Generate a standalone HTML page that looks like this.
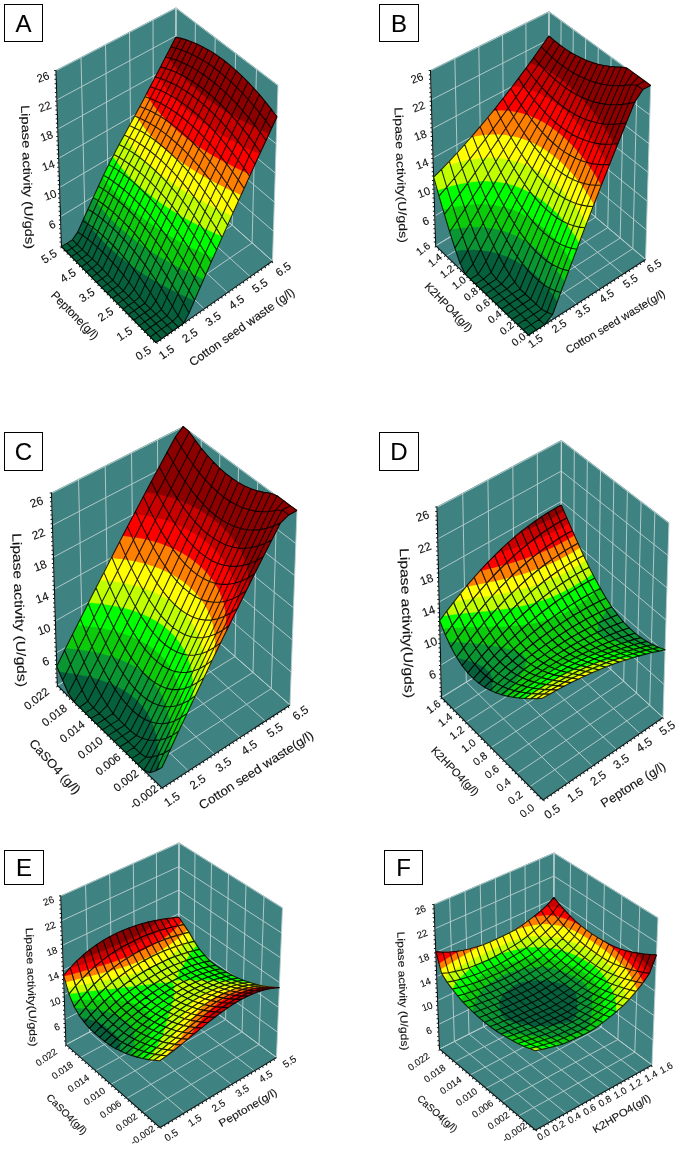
<!DOCTYPE html><html><head><meta charset="utf-8"><title>Figure</title><style>html,body{margin:0;padding:0;background:#fff}.p{filter:blur(.3px)}svg{display:block}text{font-family:"Liberation Sans",sans-serif;fill:#111;stroke:#111;stroke-width:.12px}.m{fill:none;stroke:#000;stroke-width:1.1;stroke-opacity:.85;stroke-linejoin:round}.c0{fill:#06603c}.f.c0{stroke:#06603c;stroke-width:.5}.c1{fill:#0a9632}.f.c1{stroke:#0a9632;stroke-width:.5}.c2{fill:#0ccb0c}.f.c2{stroke:#0ccb0c;stroke-width:.5}.c3{fill:#00ff00}.f.c3{stroke:#00ff00;stroke-width:.5}.c4{fill:#bfff00}.f.c4{stroke:#bfff00;stroke-width:.5}.c5{fill:#ffff00}.f.c5{stroke:#ffff00;stroke-width:.5}.c6{fill:#ff8000}.f.c6{stroke:#ff8000;stroke-width:.5}.c7{fill:#ff0000}.f.c7{stroke:#ff0000;stroke-width:.5}.c8{fill:#c80000}.f.c8{stroke:#c80000;stroke-width:.5}.c9{fill:#8c0000}.f.c9{stroke:#8c0000;stroke-width:.5}</style></head><body>
<svg width="685" height="1152" viewBox="0 0 685 1152">
<rect width="685" height="1152" fill="#fff"/>
<g class="p">
<path d="M61.5 246.5l-5.5-176.5 120-62.5 102 77.5-5.5 176-116.5 81.5z" fill="#3f8282"/>
<path d="M156 342.5l-94.5-96-5.5-176.5M180.4 325.5l-95.1-93.9-4.3-174.6M204.2 308.8l-95.6-91.8-3.1-172.8M227.5 292.5l-96.1-89.8-1.9-171M250.2 276.6l-96.5-87.9-.7-169.2M272.5 261l-96.9-86 .4-167.5M156 342.5l116.5-81.5 5.5-176M136.1 322.2l116-79.3 4.4-174.2M116.6 302.5l115.6-77.2 3.4-172.5M97.8 283.3l115.1-75.2 2.3-170.8M79.4 264.7l114.6-73.4 1.4-169.1M61.5 246.5l114.1-71.5 .4-167.5M60.6 216.6l115.1-70 97.7 84.6M59.7 187.4l116-68.5 98.6 83.2M58.8 158.2l117-66.9 99.4 81.7M57.8 129.1l118.1-65.5 100.3 80.3M56.9 99.9l119-64 101.2 78.9M56 70.7l120-62.5 102 77.5M61.5 246.5l114.1-71.5 96.9 86M175.6 175l.4-167.5" fill="none" stroke="#bccfcf" stroke-width="0.9"/>
<path d="M56 70l5.5 176.5 94.5 96 116.5-81.5" fill="none" stroke="#0a1414" stroke-width="1.1"/>
<path d="M56 70l5.5 176.5" fill="none" stroke="#0a1414" stroke-width="1.6" stroke-dasharray="1 3.4" transform="translate(-1 0)"/>
<path d="M61.5 246.5l94.5 96" fill="none" stroke="#0a1414" stroke-width="1.6" stroke-dasharray="1 3.4" transform="translate(-.7 .8)"/>
<path d="M156 342.5l116.5-81.5" fill="none" stroke="#0a1414" stroke-width="1.6" stroke-dasharray="1 3.4" transform="translate(.6 .9)"/>
<path d="M87.8 223.9l.4-.9-.4-.6zM87.8 223.9l0-1.5-3.5-5-1.5 3.3zM82.6 235.3l5.2-11.4-5-3.2-5.1 11.4zM88.2 223l-.4 .9 2.4 1.7zM77.3 244.6l5.3-9.3-4.9-3.2-5.3 7.6zM87.5 238.9l4.8-10.5-2.1-2.8-2.4-1.7zM87.5 238.9l.3-15-5.2 11.4zM71.9 248.1l5.4-3.5-4.9-4.9-5.4 3.4zM82.3 249.6l5.2-10.7-4.9-3.6-5.3 9.3zM92.5 242.9l4.2-9.1-4-4.9zM92.5 242.9l.2-14-.4-.5-4.8 10.5zM66.4 251.5l5.5-3.4-4.9-5-5.5 3.4zM76.9 253.1l5.4-3.5-5-5-5.4 3.5zM87.3 254.4l5.2-11.5-5-4-5.2 10.7zM97.6 247.3l3.8-8.3-3.7-4.1zM97.6 247.3l.1-12.4-1-1.1-4.2 9.1zM71.4 256.5l5.5-3.4-5-5-5.5 3.4zM81.9 258.1l5.4-3.7-5-4.8-5.4 3.5zM92.3 258.9l5.3-11.6-5.1-4.4-5.2 11.5zM102.7 252.1l3.6-8-3.5-3.6zM102.7 252.1l.1-11.6-1.4-1.5-3.8 8.3zM76.4 261.6l5.5-3.5-5-5-5.5 3.4zM86.9 263.2l5.4-4.3-5-4.5-5.4 3.7zM97.4 263.7l5.3-11.6-5.1-4.8-5.3 11.6zM107.8 257.3l3.7-8.1-3.6-3.5zM107.8 257.3l.1-11.6-1.6-1.6-3.6 8zM81.4 266.7l5.5-3.5-5-5.1-5.5 3.5zM92 268.3l5.4-4.6-5.1-4.8-5.4 4.3zM102.5 269l5.3-11.7-5.1-5.2-5.3 11.6zM113 262.8l4-8.7-3.9-3.5zM113 262.8l.1-12.2-1.6-1.4-3.7 8.1zM86.5 271.9l5.5-3.6-5.1-5.1-5.5 3.5zM97.1 273.5l5.4-4.5-5.1-5.3-5.4 4.6zM107.7 274.6l5.3-11.8-5.2-5.5-5.3 11.7zM118.3 268.8l4.4-10-4.4-3.6zM118.3 268.8l0-13.6-1.3-1.1-4 8.7zM91.6 277.1l5.5-3.6-5.1-5.2-5.5 3.6zM102.2 278.7l5.5-4.1-5.2-5.6-5.4 4.5zM112.9 280.3l5.4-11.5-5.3-6-5.3 11.8zM123.5 275.2l5.3-11.7-5.2-4zM123.5 275.2l.1-15.7-.9-.7-4.4 10zM134.2 269.9l.9-1.8-.9-.6zM134.2 269.9l0-2.4-4.5-3.3zM96.7 282.3l5.5-3.6-5.1-5.2-5.5 3.6zM107.4 283.9l5.5-3.6-5.2-5.7-5.5 4.1zM118.2 285.6l5.3-10.4-5.2-6.4-5.4 11.5zM128.9 282l5.3-12.1-4.5-5.7-.8-.6zM128.9 282l0-18.4-.1-.1-5.3 11.7zM139.6 277l2-4.5-2-1.3zM139.6 277l0-5.8-4.5-3.1-.9 1.8zM101.9 287.6l5.5-3.7-5.2-5.2-5.5 3.6zM112.7 289.2l5.5-3.6-5.3-5.3-5.5 3.6zM123.4 290.9l5.5-8.9-5.4-6.8-5.3 10.4zM134.2 289.2l5.4-12.2-5.4-7.1-5.3 12.1zM145 284.6l3.4-7.8-3.4-2.1zM145 284.6l0-9.9-3.4-2.2-2 4.5zM107.1 292.9l5.6-3.7-5.3-5.3-5.5 3.7zM117.9 294.5l5.5-3.6-5.2-5.3-5.5 3.6zM128.8 296.2l5.4-7-5.3-7.2-5.5 8.9zM139.6 296.8l5.4-12.2-5.4-7.6-5.4 12.2zM150.4 292.5l5.1-11.5-5.1-3zM150.4 292.5l0-14.5-2-1.2-3.4 7.8zM161.4 288.5l1.4-3.4-1.5-.8zM161.4 288.5l-.1-4.2-4.3-2.4zM112.4 298.2l5.5-3.7-5.2-5.3-5.6 3.7zM123.3 299.9l5.5-3.7-5.4-5.3-5.5 3.6zM134.1 301.6l5.5-4.8-5.4-7.6-5.4 7zM145 303.3l5.4-10.8-5.4-7.9-5.4 12.2zM155.9 300.9l5.5-12.4-4.4-6.6-1.1-.6zM155.9 300.9l0-19.6-.4-.3-5.1 11.5zM166.9 297.1l3.5-8-3.6-1.9zM166.9 297.1l-.1-9.9-4-2.1-1.4 3.4zM117.7 303.6l5.6-3.7-5.4-5.4-5.5 3.7zM177.9 293.7l.3-.7-.3-.2zM177.9 293.7l0-.9-.8-.3zM128.6 305.3l5.5-3.7-5.3-5.4-5.5 3.7zM139.5 307l5.5-3.7-5.4-6.5-5.5 4.8zM150.5 308.7l5.4-7.8-5.5-8.4-5.4 10.8zM161.4 309.6l5.5-12.5-5.5-8.6-5.5 12.4zM172.4 306.2l5.5-12.5-.8-1.2-4.7-2.4zM172.4 306.2l0-16.1-2-1-3.5 8zM123.1 309l5.5-3.7-5.3-5.4-5.6 3.7zM183.5 303.1l2.8-6.4-2.8-1.3zM183.5 303.1l0-7.7-5.3-2.4-.3 .7zM134 310.7l5.5-3.7-5.4-5.4-5.5 3.7zM145 312.5l5.5-3.8-5.5-5.4-5.5 3.7zM156 314.2l5.4-4.6-5.5-8.7-5.4 7.8zM167 315.9l5.4-9.7-5.5-9.1-5.5 12.5zM178 315.7l5.5-12.6-5.6-9.4-5.5 12.5zM128.4 314.5l5.6-3.8-5.4-5.4-5.5 3.7zM189.1 312.9l5.4-12.5-5.5-2.4zM189.1 312.9l-.1-14.9-2.7-1.3-2.8 6.4zM139.4 316.2l5.6-3.7-5.5-5.5-5.5 3.7zM150.4 318l5.6-3.8-5.5-5.5-5.5 3.8zM161.5 319.7l5.5-3.8-5.6-6.3-5.4 4.6zM172.6 321.4l5.4-5.7-5.6-9.5-5.4 9.7zM183.6 323.2l5.5-10.3-5.6-9.8-5.5 12.6zM133.9 320l5.5-3.8-5.4-5.5-5.6 3.8zM144.9 321.8l5.5-3.8-5.4-5.5-5.6 3.7zM156 323.5l5.5-3.8-5.5-5.5-5.6 3.8zM167.1 325.2l5.5-3.8-5.6-5.5-5.5 3.8zM178.2 327l5.4-3.8-5.6-7.5-5.4 5.7zM139.3 325.6l5.6-3.8-5.5-5.6-5.5 3.8zM150.4 327.3l5.6-3.8-5.6-5.5-5.5 3.8zM161.5 329.1l5.6-3.9-5.6-5.5-5.5 3.8zM172.7 330.8l5.5-3.8-5.6-5.6-5.5 3.8zM144.8 331.2l5.6-3.9-5.5-5.5-5.6 3.8zM156 332.9l5.5-3.8-5.5-5.6-5.6 3.8zM167.1 334.7l5.6-3.9-5.6-5.6-5.6 3.9zM150.4 336.8l5.6-3.9-5.6-5.6-5.6 3.9zM161.6 338.6l5.5-3.9-5.6-5.6-5.5 3.8zM156 342.5l5.6-3.9-5.6-5.7-5.6 3.9z" fill="#06603c" stroke="#06603c" stroke-width=".6"/>
<path d="M93.4 197.1l-.2 .5 1.2 .8zM93 212.3l4.4-9.8-3-4.1-1.2-.8zM93 212.3l.2-14.7-5.2 11.6zM88.2 223l4.8-10.7-5-3.1-.2 13.2zM87.8 222.4l.2-13.2-3.7 8.2zM98 215.9l3.6-8-3.5-4.4zM98 215.9l.1-12.4-.7-1-4.4 9.8zM92.8 227.4l5.2-11.5-5-3.6zM92.8 227.4l.2-15.1-4.8 10.7 2 2.6zM103 219.8l3-6.7-2.9-3.4zM103 219.8l.1-10.1-1.5-1.8-3.6 8zM92.3 228.4l.5-1-2.6-1.8zM97.8 231.4l5.2-11.6-5-3.9-5.2 11.5zM108.1 224.1l2.7-5.9-2.6-2.8zM108.1 224.1l.1-8.7-2.2-2.3-3 6.7zM96.7 233.8l1.1-2.4-5-4-.1 1.5zM92.7 228.9l.1-1.5-.5 1zM102.9 235.7l5.2-11.6-5.1-4.3-5.2 11.6zM113.3 228.7l2.4-5.4-2.4-2.5zM113.3 228.7l0-7.9-2.5-2.6-2.7 5.9zM101.4 239l1.5-3.3-5.1-4.3-.1 3.5zM97.7 234.9l.1-3.5-1.1 2.4zM108 240.4l5.3-11.7-5.2-4.6-5.2 11.6zM118.5 233.8l2.5-5.6-2.5-2.3zM118.5 233.8l0-7.9-2.8-2.6-2.4 5.4zM106.3 244.1l1.7-3.7-5.1-4.7-.1 4.8zM102.8 240.5l.1-4.8-1.5 3.3zM113.2 245.5l5.3-11.7-5.2-5.1-5.3 11.7zM123.7 239.2l2.8-6.2-2.8-2.4zM123.7 239.2l0-8.6-2.7-2.4-2.5 5.6zM111.5 249.2l1.7-3.7-5.2-5.1-.1 5.3zM107.9 245.7l.1-5.3-1.7 3.7zM118.4 251l5.3-11.8-5.2-5.4-5.3 11.7zM128.9 245.1l3.3-7.3-3.2-2.7zM128.9 245.1l.1-10-2.5-2.1-2.8 6.2zM117 254.1l1.4-3.1-5.2-5.5-.1 5.1zM113.1 250.6l.1-5.1-1.7 3.7zM123.6 256.9l5.3-11.8-5.2-5.9-5.3 11.8zM134.3 251.3l4-8.9-4-3.1zM134.3 251.3l0-12-2.1-1.5-3.3 7.3zM122.7 258.8l.9-1.9-5.2-5.9-.1 4.2zM118.3 255.2l.1-4.2-1.4 3.1zM128.9 263.2l5.4-11.9-5.4-6.2-5.3 11.8zM139.6 257.9l5-11-5-3.6zM139.6 257.9l0-14.6-1.3-.9-4 8.9zM150.4 252.9l.7-1.7-.7-.5zM150.4 252.9l0-2.2-3.5-2.3zM128.8 263.5l.1-.3-5.3-6.3 0 2.6zM123.6 259.5l0-2.6-.9 1.9zM135.1 268.1l4.5-10.2-5.3-6.6-.1 16.2zM134.2 267.5l.1-16.2-5.4 11.9 .8 1zM145 264.9l5.4-12-3.5-4.5-1.9-1.3zM145 264.9l0-17.8-.4-.2-5 11zM155.8 260.3l2.1-4.8-2.1-1.3zM155.8 260.3l0-6.1-4.7-3-.7 1.7zM129.7 264.2l-.8-1 0 .4zM128.9 263.6l0-.4-.1 .3zM141.6 272.5l3.4-7.6-5.4-7 0 13.3zM139.6 271.2l0-13.3-4.5 10.2zM150.4 272.4l5.4-12.1-5.4-7.4-5.4 12zM161.3 268l3.7-8.3-3.7-2.2zM161.3 268l0-10.5-3.4-2-2.1 4.8zM172.2 263.9l.1-.2-.1 0zM172.2 263.9l0-.2-.2-.1zM148.4 276.8l2-4.4-5.4-7.5 0 9.8zM145 274.7l0-9.8-3.4 7.6zM155.9 280.2l5.4-12.2-5.5-7.7-5.4 12.1zM166.8 276.1l5.4-12.2-.2-.3-5.3-3zM166.8 276.1l-.1-15.5-1.7-.9-3.7 8.3zM177.8 272.3l2-4.6-2-1.1zM177.8 272.3l0-5.7-5.5-2.9-.1 .2zM155.5 281l.4-.8-5.5-7.8 0 5.6zM150.4 278l0-5.6-2 4.4zM162.8 285.1l4-9-5.5-8.1 0 16.3zM161.3 284.3l0-16.3-5.4 12.2 1.1 1.7zM172.3 284.7l5.5-12.4-5.6-8.4-5.4 12.2zM183.4 281.2l4.2-9.7-4.3-2.1zM183.4 281.2l-.1-11.8-3.5-1.7-2 4.6zM194.5 277.9l1.1-2.6-1.2-.6zM194.5 277.9l-.1-3.2-2.7-1.3zM157 281.9l-1.1-1.7 0 1.1zM155.9 281.3l0-1.1-.4 .8zM170.4 289.1l1.9-4.4-5.5-8.6 0 11.1zM166.8 287.2l0-11.1-4 9zM178.2 293l5.2-11.8-5.6-8.9 .1 20.5zM177.9 292.8l-.1-20.5-5.5 12.4 4.8 7.8zM189 290.5l5.5-12.6-2.8-4.5-2.8-1.3zM189 290.5l-.1-18.4-1.3-.6-4.2 9.7zM200.1 287.5l3.8-8.6-3.9-1.7zM200.1 287.5l-.1-10.3-4.4-1.9-1.1 2.6zM177.1 292.5l-4.8-7.8 .1 5.4zM172.4 290.1l-.1-5.4-1.9 4.4zM186.3 296.7l2.7-6.2-5.6-9.3 .1 14.2zM183.5 295.4l-.1-14.2-5.2 11.8zM194.6 300.1l5.5-12.6-5.6-9.6-5.5 12.6zM194.5 300.4l.1-.3-5.6-9.6 0 7.5zM189 298l0-7.5-2.7 6.2z" fill="#0a9632" stroke="#0a9632" stroke-width=".6"/>
<path d="M103.4 189.4l3.4-7.2-3.3-4.4zM103.4 189.4l.1-11.6-.7-1-4.4 9.5zM98.2 200.8l5.2-11.4-5-3.1zM98.2 200.8l.2-14.5-5 10.8 1 1.3zM108.4 192.9l2.6-5.5-2.5-3.1zM108.4 192.9l.1-8.6-1.7-2.1-3.4 7.2zM97.4 202.5l.8-1.7-3.8-2.4zM103.2 204.3l5.2-11.4-5-3.5-5.2 11.4zM113.5 196.7l2-4.1-1.9-2.2zM113.5 196.7l.1-6.3-2.6-3-2.6 5.5zM101.6 207.9l1.6-3.6-5-3.5-.1 2.7zM98.1 203.5l.1-2.7-.8 1.7zM108.3 208.2l5.2-11.5-5.1-3.8-5.2 11.4zM118.6 201l1.6-3.4-1.5-1.6zM118.6 201l.1-5-3.2-3.4-2 4.1zM106 213.1l2.3-4.9-5.1-3.9-.1 5.4zM103.1 209.7l.1-5.4-1.6 3.6zM113.4 212.4l5.2-11.4-5.1-4.3-5.2 11.5zM123.8 205.5l1.4-2.9-1.4-1.4zM123.8 205.5l0-4.3-3.6-3.6-1.6 3.4zM110.8 218.2l2.6-5.8-5.1-4.2-.1 7.2zM108.2 215.4l.1-7.2-2.3 4.9zM118.5 217.1l5.3-11.6-5.2-4.5-5.2 11.4zM129 210.5l1.5-3.1-1.4-1.3zM129 210.5l.1-4.4-3.9-3.5-1.4 2.9zM115.7 223.3l2.8-6.2-5.1-4.7-.1 8.4zM113.3 220.8l.1-8.4-2.6 5.8zM123.7 222.1l5.3-11.6-5.2-5-5.3 11.6zM134.3 215.8l1.7-3.6-1.7-1.5zM134.3 215.8l0-5.1-3.8-3.3-1.5 3.1zM121 228.2l2.7-6.1-5.2-5 0 8.8zM118.5 225.9l0-8.8-2.8 6.2zM129 227.5l5.3-11.7-5.3-5.3-5.3 11.6zM139.6 221.5l2.2-4.7-2.2-1.7zM139.6 221.5l0-6.4-3.6-2.9-1.7 3.6zM126.5 233l2.5-5.5-5.3-5.4 0 8.5zM123.7 230.6l0-8.5-2.7 6.1zM134.3 233.2l5.3-11.7-5.3-5.7-5.3 11.7zM145 227.6l2.8-6.2-2.8-2.2zM145 227.6l0-8.4-3.2-2.4-2.2 4.7zM132.2 237.8l2.1-4.6-5.3-5.7 0 7.6zM129 235.1l0-7.6-2.5 5.5zM139.6 239.4l5.4-11.8-5.4-6.1-5.3 11.7zM150.3 234.1l3.8-8.3-3.8-2.7zM150.3 234.1l0-11-2.5-1.7-2.8 6.2zM138.3 242.4l1.3-3-5.3-6.2 0 6.1zM134.3 239.3l0-6.1-2.1 4.6zM145 246l5.3-11.9-5.3-6.5-5.4 11.8zM155.8 240.9l4.9-10.8-5-3.2zM155.8 240.9l-.1-14-1.6-1.1-3.8 8.3zM166.6 236.2l.9-1.8-.9-.6zM166.6 236.2l0-2.4-3.5-2.1zM144.6 246.9l.4-.9-5.4-6.6 0 3.9zM139.6 243.3l0-3.9-1.3 3zM151.1 251.2l4.7-10.3-5.5-6.8 .1 16.6zM150.4 250.7l-.1-16.6-5.3 11.9 1.9 2.4zM161.2 248.2l5.4-12-3.5-4.5-1.9-1.3zM161.2 248.2l0-17.8-.5-.3-4.9 10.8zM172.1 243.8l2.4-5.3-2.4-1.5zM172.1 243.8l0-6.8-4.6-2.6-.9 1.8zM146.9 248.4l-1.9-2.4 0 1.1zM145 247.1l0-1.1-.4 .9zM157.9 255.5l3.3-7.3-5.4-7.3 0 13.3zM155.8 254.2l0-13.3-4.7 10.3zM166.7 255.9l5.4-12.1-5.5-7.6-5.4 12zM177.7 251.7l4.1-9.2-4.2-2.3zM177.7 251.7l-.1-11.5-3.1-1.7-2.4 5.3zM188.7 247.8l.6-1.4-.6-.3zM188.7 247.8l0-1.7-1.9-1zM165 259.7l1.7-3.8-5.5-7.7 .1 9.3zM161.3 257.5l-.1-9.3-3.3 7.3zM172.3 263.7l5.4-12-5.6-7.9 .1 19.9zM172.2 263.7l-.1-19.9-5.4 12.1 5.3 7.7zM183.2 260.1l5.5-12.3-1.9-2.7-3.7-1.9zM183.2 260.1l-.1-16.9-1.3-.7-4.1 9.2zM194.3 256.4l2.8-6.2-2.9-1.4zM194.3 256.4l-.1-7.6-4.9-2.4-.6 1.4zM172 263.6l-5.3-7.7 0 4.7zM166.7 260.6l0-4.7-1.7 3.8zM179.8 267.7l3.4-7.6-5.5-8.4 .1 14.9zM177.8 266.6l-.1-14.9-5.4 12zM188.8 268.8l5.5-12.4-5.6-8.6-5.5 12.3zM199.9 265.5l5.1-11.5-5.2-2.5zM199.9 265.5l-.1-14-2.7-1.3-2.8 6.2zM211.1 262.3l2.1-4.7-2.1-1zM211.1 262.3l0-5.7-4.7-2zM187.6 271.5l1.2-2.7-5.6-8.7 .1 9.3zM183.3 269.4l-.1-9.3-3.4 7.6zM195.6 275.3l4.3-9.8-5.6-9.1 .1 18.3zM194.4 274.7l-.1-18.3-5.5 12.4 2.9 4.6zM205.6 274.9l5.5-12.6-4.7-7.7-1-.4zM205.6 274.9l-.2-20.7-.4-.2-5.1 11.5zM191.7 273.4l-2.9-4.6 .1 3.3zM188.9 272.1l-.1-3.3-1.2 2.7zM203.9 278.9l1.7-4-5.7-9.4 .1 11.7zM200 277.2l-.1-11.7-4.3 9.8z" fill="#0ccb0c" stroke="#0ccb0c" stroke-width=".6"/>
<path d="M113.8 167.6l3-6-2.9-4.2zM113.8 167.6l.1-10.2-.9-1.2-4.3 8.4zM108.6 178.3l5.2-10.7-5.1-3-5.2 10.6zM118.9 170.9l2-4.1-2-2.6zM118.9 170.9l0-6.7-2.1-2.6-3 6zM106.8 182.2l1.8-3.9-5.1-3.1 0 2.6zM103.5 177.8l0-2.6-.7 1.6zM113.6 181.7l5.3-10.8-5.1-3.3-5.2 10.7zM124 174.6l1.3-2.7-1.3-1.5zM124 174.6l0-4.2-3.1-3.6-2 4.1zM111 187.4l2.6-5.7-5-3.4-.1 6zM108.5 184.3l.1-6-1.8 3.9zM118.7 185.5l5.3-10.9-5.1-3.7-5.3 10.8zM129.2 178.7l.8-1.7-.8-.9zM129.2 178.7l0-2.6-3.9-4.2-1.3 2.7zM115.5 192.6l3.2-7.1-5.1-3.8 0 8.7zM113.6 190.4l0-8.7-2.6 5.7zM123.9 189.7l5.3-11-5.2-4.1-5.3 10.9zM134.4 183.1l.6-1.2-.6-.6zM134.4 183.1l0-1.8-4.4-4.3-.8 1.7zM120.2 197.6l3.7-7.9-5.2-4.2 0 10.5zM118.7 196l0-10.5-3.2 7.1zM129.1 194.2l5.3-11.1-5.2-4.4-5.3 11zM139.6 187.9l.6-1.2-.6-.6zM139.6 187.9l0-1.8-4.6-4.2-.6 1.2zM125.2 202.6l3.9-8.4-5.2-4.5-.1 11.5zM123.8 201.2l.1-11.5-3.7 7.9zM134.3 199.1l5.3-11.2-5.2-4.8-5.3 11.1zM144.9 193l.8-1.6-.8-.7zM144.9 193l0-2.3-4.7-4-.6 1.2zM130.5 207.4l3.8-8.3-5.2-4.9 0 11.9zM129.1 206.1l0-11.9-3.9 8.4zM139.6 204.3l5.3-11.3-5.3-5.1-5.3 11.2zM150.3 198.5l1.2-2.5-1.2-1zM150.3 198.5l0-3.5-4.6-3.6-.8 1.6zM136 212.2l3.6-7.9-5.3-5.2 0 11.6zM134.3 210.7l0-11.6-3.8 8.3zM145 209.9l5.3-11.4-5.4-5.5-5.3 11.3zM155.7 204.4l1.8-3.9-1.9-1.5zM155.7 204.4l-.1-5.4-4.1-3-1.2 2.5zM141.8 216.8l3.2-6.9-5.4-5.6 0 10.8zM139.6 215.1l0-10.8-3.6 7.9zM150.3 215.9l5.4-11.5-5.4-5.9-5.3 11.4zM161.1 210.7l2.7-5.8-2.7-2zM161.1 210.7l0-7.8-3.6-2.4-1.8 3.9zM147.8 221.4l2.5-5.5-5.3-6 0 9.3zM145 219.2l0-9.3-3.2 6.9zM155.7 222.3l5.4-11.6-5.4-6.3-5.4 11.5zM166.5 217.3l3.8-8.2-3.8-2.5zM166.5 217.3l0-10.7-2.7-1.7-2.7 5.8zM154.1 225.8l1.6-3.5-5.4-6.4 0 7.2zM150.3 223.1l0-7.2-2.5 5.5zM161.1 229.1l5.4-11.8-5.4-6.6-5.4 11.6zM172 224.4l5.1-11.1-5.2-3.2zM172 224.4l-.1-14.3-1.6-1-3.8 8.2zM183 219.9l1.1-2.5-1.2-.7zM183 219.9l-.1-3.2-4.3-2.5zM160.7 230.1l.4-1-5.4-6.8 0 4.6zM155.7 226.9l0-4.6-1.6 3.5zM167.5 234.4l4.5-10-5.5-7.1 .1 16.5zM166.6 233.8l-.1-16.5-5.4 11.8 2 2.6zM177.5 231.8l5.5-11.9-4.4-5.7-1.2-.7zM177.5 231.8l-.1-18.3-.3-.2-5.1 11.1zM188.5 227.6l2.8-6.2-2.8-1.6zM188.5 227.6l0-7.8-4.4-2.4-1.1 2.5zM163.1 231.7l-2-2.6 .1 1.3zM161.2 230.4l-.1-1.3-.4 1zM174.5 238.5l3-6.7-5.5-7.4 .1 12.6zM172.1 237l-.1-12.6-4.5 10zM183.1 239.6l5.4-12-5.5-7.7-5.5 11.9zM194.1 235.7l4.7-10.4-4.8-2.5zM194.1 235.7l-.1-12.9-2.7-1.4-2.8 6.2zM205.2 232l1.3-2.9-1.3-.6zM205.2 232l0-3.5-3.5-1.7zM181.8 242.5l1.3-2.9-5.6-7.8 .1 8.4zM177.6 240.2l-.1-8.4-3 6.7zM189.3 246.4l4.8-10.7-5.6-8.1 .2 18.5zM188.7 246.1l-.2-18.5-5.4 12 3.7 5.5zM199.8 244.2l5.4-12.2-3.5-5.2-2.1-1.1zM199.8 244.2l-.2-18.5-.8-.4-4.7 10.4zM210.9 240.7l3.5-7.8-3.6-1.7zM210.9 240.7l-.1-9.5-4.3-2.1-1.3 2.9zM222.1 237.4l.4-.9-.4-.2zM222.1 237.4l0-1.1-1-.5zM186.8 245.1l-3.7-5.5 0 3.6zM183.1 243.2l0-3.6-1.3 2.9zM197.1 250.2l2.7-6-5.7-8.5 .1 13.1zM194.2 248.8l-.1-13.1-4.8 10.7zM205.4 253l5.5-12.3-5.7-8.7-5.4 12.2zM216.6 249.9l5.5-12.5-1-1.6-4.7-2zM216.6 249.9l-.2-16.1-2-.9-3.5 7.8zM205 254l.4-1-5.6-8.8 0 7.3zM199.8 251.5l0-7.3-2.7 6zM213.2 257.6l3.4-7.7-5.7-9.2 .2 15.9zM211.1 256.6l-.2-15.9-5.5 12.3 1 1.6zM206.4 254.6l-1-1.6 0 1.2zM205.4 254.2l0-1.2-.4 1z" fill="#00ff00" stroke="#00ff00" stroke-width=".6"/>
<path d="M124.2 147.3l3.6-6.7-3.5-5.4zM124.2 147.3l.1-12.1 0 0-5.2 9.4zM119 157.3l5.2-10-5.1-2.7-5.2 9.8zM129.3 150.4l2.3-4.5-2.2-3.2zM129.3 150.4l.1-7.7-1.6-2.1-3.6 6.7zM116.8 161.6l2.2-4.3-5.1-2.9 0 3zM113.9 157.4l0-3-.9 1.8zM124.1 160.5l5.2-10.1-5.1-3.1-5.2 10zM134.5 153.8l1.4-2.7-1.4-1.7zM134.5 153.8l0-4.4-2.9-3.5-2.3 4.5zM120.9 166.8l3.2-6.3-5.1-3.2-.1 6.9zM118.9 164.2l.1-6.9-2.2 4.3zM129.2 164l5.3-10.2-5.2-3.4-5.2 10.1zM139.7 157.5l.7-1.4-.7-.8zM139.7 157.5l0-2.2-3.8-4.2-1.4 2.7zM125.3 171.9l3.9-7.9-5.1-3.5-.1 9.9zM124 170.4l.1-9.9-3.2 6.3zM134.4 168l5.3-10.5-5.2-3.7-5.3 10.2zM144.9 161.6l.3-.6-.3-.3zM144.9 161.6l0-.9-4.5-4.6-.7 1.4zM130 177l4.4-9-5.2-4 0 12.1zM129.2 176.1l0-12.1-3.9 7.9zM139.7 172.3l5.2-10.7-5.2-4.1-5.3 10.5zM150.2 166.1l.2-.2-.2-.2zM150.2 166.1l0-.4-5-4.7-.3 .6zM135 181.9l4.7-9.6-5.3-4.3 0 13.3zM134.4 181.3l0-13.3-4.4 9zM144.9 176.9l5.3-10.8-5.3-4.5-5.2 10.7zM155.6 171l.2-.5-.2-.2zM155.6 171l0-.7-5.2-4.4-.2 .2zM140.2 186.7l4.7-9.8-5.2-4.6-.1 13.8zM139.6 186.1l.1-13.8-4.7 9.6zM150.3 181.9l5.3-10.9-5.4-4.9-5.3 10.8zM160.9 176.2l.6-1.1-.6-.4zM160.9 176.2l0-1.5-5.1-4.2-.2 .5zM145.7 191.4l4.6-9.5-5.4-5 0 13.8zM144.9 190.7l0-13.8-4.7 9.8zM155.6 187.3l5.3-11.1-5.3-5.2-5.3 10.9zM166.4 181.9l1-2.3-1.1-.8zM166.4 181.9l-.1-3.1-4.8-3.7-.6 1.1zM151.5 196l4.1-8.7-5.3-5.4 0 13.1zM150.3 195l0-13.1-4.6 9.5zM161 193.1l5.4-11.2-5.5-5.7-5.3 11.1zM171.8 187.8l1.8-3.8-1.8-1.4zM171.8 187.8l0-5.2-4.4-3-1 2.3zM157.5 200.5l3.5-7.4-5.4-5.8 0 11.7zM155.6 199l0-11.7-4.1 8.7zM166.4 199.2l5.4-11.4-5.4-5.9-5.4 11.2zM177.3 194.2l2.8-5.9-2.9-1.9zM177.3 194.2l-.1-7.8-3.6-2.4-1.8 3.8zM163.8 204.9l2.6-5.7-5.4-6.1 .1 9.8zM161.1 202.9l-.1-9.8-3.5 7.4zM171.9 205.7l5.4-11.5-5.5-6.4-5.4 11.4zM182.8 201l4-8.5-4.1-2.6zM182.8 201l-.1-11.1-2.6-1.6-2.8 5.9zM170.3 209.1l1.6-3.4-5.5-6.5 .1 7.4zM166.5 206.6l-.1-7.4-2.6 5.7zM177.4 212.6l5.4-11.6-5.5-6.8-5.4 11.5zM188.4 208.1l5.3-11.6-5.5-3.2zM188.4 208.1l-.2-14.8-1.4-.8-4 8.5zM199.4 203.8l1.5-3.3-1.6-.8zM199.4 203.8l-.1-4.1-5.3-3zM177.1 213.3l.3-.7-5.5-6.9 0 4.4zM171.9 210.1l0-4.4-1.6 3.4zM184.1 217.4l4.3-9.3-5.6-7.1 .1 15.7zM182.9 216.7l-.1-15.7-5.4 11.6 1.2 1.6zM194 215.7l5.4-11.9-5.4-7.1-.2-.1zM194 215.7l-.2-19.1-.1-.1-5.3 11.6zM205 211.6l3.3-7.2-3.4-1.8zM205 211.6l-.1-9-4-2.1-1.5 3.3zM178.6 214.2l-1.2-1.6 0 .9zM177.4 213.5l0-.9-.3 .7zM191.3 221.4l2.7-5.7-5.6-7.6 .1 11.7zM188.5 219.8l-.1-11.7-4.3 9.3zM199.6 223.6l5.4-12-5.6-7.8-5.4 11.9zM210.7 219.8l5.2-11.6-5.4-2.7zM210.7 219.8l-.2-14.3-2.2-1.1-3.3 7.2zM221.9 216.2l1.9-4.3-2-.9zM221.9 216.2l-.1-5.2-5-2.4zM198.8 225.3l.8-1.7-5.6-7.9 0 7.1zM194 222.8l0-7.1-2.7 5.7zM206.5 229.1l4.2-9.3-5.7-8.2 .2 16.9zM205.2 228.5l-.2-16.9-5.4 12 2.1 3.2zM216.4 228.4l5.5-12.2-5.1-7.6-.6-.3zM216.4 228.4l-.2-20.1-.3-.1-5.2 11.6zM227.6 225.1l4.2-9.6-4.4-1.9zM227.6 225.1l-.2-11.5-3.6-1.7-1.9 4.3zM201.7 226.8l-2.1-3.2 0 2.1zM199.6 225.7l0-2.1-.8 1.7zM214.4 232.9l2-4.5-5.7-8.6 .1 11.4zM210.8 231.2l-.1-11.4-4.2 9.3zM222.5 236.5l5.1-11.4-5.7-8.9 .2 20.1zM222.1 236.3l-.2-20.1-5.5 12.2 4.7 7.4zM221.1 235.8l-4.7-7.4 0 5.4zM216.4 233.8l0-5.4-2 4.5z" fill="#bfff00" stroke="#bfff00" stroke-width=".6"/>
<path d="M135.6 114.2l-.9 1.9 2.8 1.2zM134.6 127.9l4.4-8.2-1.5-2.4-2.8-1.2zM134.6 127.9l.1-11.8-5.2 9.5zM129.4 137.6l5.2-9.7-5.1-2.3-5.2 9.5zM139.8 130.6l2.9-5.5-2.9-4.3zM139.8 130.6l0-9.8-.8-1.1-4.4 8.2zM127.8 140.6l1.6-3-5.1-2.5 0 .1zM124.3 135.2l0-.1 0 .1zM134.5 140.4l5.3-9.8-5.2-2.7-5.2 9.7zM145 133.6l1.7-3.3-1.7-2.3zM145 133.6l0-5.6-2.3-2.9-2.9 5.5zM131.6 145.9l2.9-5.5-5.1-2.8 0 5.1zM129.4 142.7l0-5.1-1.6 3zM139.7 143.7l5.3-10.1-5.2-3-5.3 9.8zM150.2 137l.9-1.7-.9-1zM150.2 137l0-2.7-3.5-4-1.7 3.3zM135.9 151.1l3.8-7.4-5.2-3.3 0 9zM134.5 149.4l0-9-2.9 5.5zM144.9 147.2l5.3-10.2-5.2-3.4-5.3 10.1zM155.5 140.8l.3-.5-.3-.3zM155.5 140.8l0-.8-4.4-4.7-.9 1.7zM140.4 156.1l4.5-8.9-5.2-3.5 0 11.6zM139.7 155.3l0-11.6-3.8 7.4zM150.2 151.2l5.3-10.4-5.3-3.8-5.3 10.2zM155.8 140.3l-.3 .5 4.4 3.4zM145.2 161l5-9.8-5.3-4 0 13.5zM144.9 160.7l0-13.5-4.5 8.9zM155.5 155.5l5.3-10.4-.9-.9-4.4-3.4zM155.5 155.5l0-14.7-5.3 10.4zM150.4 165.9l5.1-10.4-5.3-4.3 0 14.5zM150.2 165.7l0-14.5-5 9.8zM160.9 160.2l5.1-10.4-5.2-4.7zM160.9 160.2l-.1-15.1 0 0-5.3 10.4zM171.6 154.4l0 0 0 0zM171.6 154.4l0 0-.1-.1zM155.8 170.5l5.1-10.3-5.4-4.7 .1 14.8zM155.6 170.3l-.1-14.8-5.1 10.4zM166.3 165.3l5.3-10.9-.1-.1-5.3-4.4zM166.3 165.3l-.1-15.4-.2-.1-5.1 10.4zM177.1 159.7l.3-.8-.4-.3zM177.1 159.7l-.1-1.1-5.4-4.2 0 0zM161.5 175.1l4.8-9.8-5.4-5.1 0 14.5zM160.9 174.7l0-14.5-5.1 10.3zM171.7 170.7l5.4-11-5.5-5.3-5.3 10.9zM182.5 165.4l1-2.1-1-.8zM182.5 165.4l0-2.9-5.1-3.6-.3 .8zM167.4 179.6l4.3-8.9-5.4-5.4 0 13.5zM166.3 178.8l0-13.5-4.8 9.8zM177.2 176.6l5.3-11.2-5.4-5.7-5.4 11zM188.1 171.4l1.8-3.8-1.9-1.3zM188.1 171.4l-.1-5.1-4.5-3-1 2.1zM173.6 184l3.6-7.4-5.5-5.9 .1 11.9zM171.8 182.6l-.1-11.9-4.3 8.9zM182.7 182.8l5.4-11.4-5.6-6-5.3 11.2zM193.6 177.9l2.9-6.2-3-1.9zM193.6 177.9l-.1-8.1-3.6-2.2-1.8 3.8zM180.1 188.3l2.6-5.5-5.5-6.2 0 9.8zM177.2 186.4l0-9.8-3.6 7.4zM188.2 189.4l5.4-11.5-5.5-6.5-5.4 11.4zM199.2 184.7l4.2-8.9-4.3-2.5zM199.2 184.7l-.1-11.4-2.6-1.6-2.9 6.2zM210.2 180.2l.2-.4-.2-.1zM210.2 180.2l0-.5-.7-.4zM186.8 192.5l1.4-3.1-5.5-6.6 0 7.1zM182.7 189.9l0-7.1-2.6 5.5zM193.8 196.4l5.4-11.7-5.6-6.8-5.4 11.5zM204.8 192l5.4-11.8-.7-.9-4.9-2.8zM204.8 192l-.2-15.5-1.2-.7-4.2 8.9zM215.9 187.8l1.9-4.1-2-1zM215.9 187.8l-.1-5.1-5.4-2.9-.2 .4zM193.7 196.5l.1-.1-5.6-7 0 3.9zM188.2 193.3l0-3.9-1.4 3.1zM200.9 200.5l3.9-8.5-5.6-7.3 .1 15zM199.3 199.7l-.1-15-5.4 11.7 .2 .3zM210.5 199.7l5.4-11.9-5.7-7.6-5.4 11.8zM221.6 195.7l3.7-8.2-3.8-2zM221.6 195.7l-.1-10.2-3.7-1.8-1.9 4.1zM232.8 191.9l.3-.7-.3-.2zM232.8 191.9l0-.9-.9-.4zM194 196.7l-.2-.3 0 .2zM193.8 196.6l0-.2-.1 .1zM208.3 204.4l2.2-4.7-5.7-7.7 .1 10.6zM204.9 202.6l-.1-10.6-3.9 8.5zM216.1 207.7l5.5-12-5.7-7.9-5.4 11.9zM227.3 204l5.5-12.1-.9-1.3-4.8-2.3zM227.3 204l-.2-15.7-1.8-.8-3.7 8.2zM238.6 200.6l2.6-5.8-2.7-1.2zM238.6 200.6l-.1-7-5.4-2.4-.3 .7zM215.9 208.2l.2-.5-5.6-8 0 5.8zM210.5 205.5l0-5.8-2.2 4.7zM223.8 211.9l3.5-7.9-5.7-8.3 .2 15.3zM221.8 211l-.2-15.3-5.5 12 .7 .9zM233.1 212.8l5.5-12.2-5.8-8.7-5.5 12.1zM216.8 208.6l-.7-.9 .1 .6zM216.2 208.3l-.1-.6-.2 .5zM231.8 215.5l1.3-2.7-5.8-8.8 .1 9.6zM227.4 213.6l-.1-9.6-3.5 7.9z" fill="#ffff00" stroke="#ffff00" stroke-width=".6"/>
<path d="M146.5 93.8l-1.5 2.9 4.1 1.4zM145 108.4l4.8-9.1-.7-1.2-4.1-1.4zM145 108.4l0-11.7-5.2 9.7zM139.8 118.2l5.2-9.8-5.2-2zM139.8 118.2l0-11.8-4.2 7.8 1.9 3.1zM150.2 110.8l3.2-6.2-3.2-4.8zM150.2 110.8l0-11-.4-.5-4.8 9.1zM139 119.7l.8-1.5-2.3-.9zM145 120.7l5.2-9.9-5.2-2.4-5.2 9.8zM155.4 113.5l1.9-3.7-1.9-2.6zM155.4 113.5l0-6.3-2-2.6-3.2 6.2zM142.7 125.1l2.3-4.4-5.2-2.5 0 2.6zM139.8 120.8l0-2.6-.8 1.5zM150.2 123.6l5.2-10.1-5.2-2.7-5.2 9.9zM160.7 116.6l.9-1.8-.9-1.1zM160.7 116.6l0-2.9-3.4-3.9-1.9 3.7zM146.7 130.3l3.5-6.7-5.2-2.9 0 7.3zM145 128l0-7.3-2.3 4.4zM155.5 126.8l5.2-10.2-5.3-3.1-5.2 10.1zM166 120l.2-.2-.2-.2zM166 120l0-.4-4.4-4.8-.9 1.8zM151.1 135.3l4.4-8.5-5.3-3.2 0 10.7zM150.2 134.3l0-10.7-3.5 6.7zM160.8 130.4l5.2-10.4-5.3-3.4-5.2 10.2zM166.2 119.8l-.2 .2 1.5 1.1zM155.8 140.3l5-9.9-5.3-3.6 0 13.2zM155.5 140l0-13.2-4.4 8.5zM166.1 134.4l4.9-9.8-3.5-3.5-1.5-1.1zM166.1 134.4l-.1-14.4-5.2 10.4zM160.8 145l5.3-10.6-5.3-4zM160.8 145l0-14.6-5 9.9 4.1 3.9zM171.5 138.8l4.7-9.5-4.8-4.4zM171.5 138.8l-.1-13.9-.4-.3-4.9 9.8zM160.8 145.1l0-.1-.9-.8zM166.2 149.5l5.3-10.7-5.4-4.4-5.3 10.6zM176.9 143.5l4.8-9.6-4.9-4.1zM176.9 143.5l-.1-13.7-.6-.5-4.7 9.5zM166 149.8l.2-.3-5.4-4.5 0 .1zM160.8 145.1l0-.1 0 .1zM171.6 154.4l5.3-10.9-5.4-4.7 .1 15.6zM171.6 154.4l-.1-15.6-5.3 10.7 5.3 4.8zM182.4 148.7l5-10.3-5.1-4zM182.4 148.7l-.1-14.3-.6-.5-4.8 9.6zM193.3 143l.1-.2-.1-.1zM193.3 143l0-.3-1.6-1.2zM171.5 154.3l-5.3-4.8 0 .4zM166.2 149.9l0-.4-.2 .3zM177.4 158.9l5-10.2-5.5-5.2 .1 15.1zM177 158.6l-.1-15.1-5.3 10.9zM187.9 154.2l5.4-11.2-1.6-1.5-4-2.9zM187.9 154.2l-.2-15.6-.3-.2-5 10.3zM198.8 148.8l.9-1.7-.9-.7zM198.8 148.8l0-2.4-5.4-3.6-.1 .2zM183.5 163.3l4.4-9.1-5.5-5.5 .1 13.8zM182.5 162.5l-.1-13.8-5 10.2zM193.4 160.1l5.4-11.3-5.5-5.8-5.4 11.2zM204.4 155l1.8-3.8-1.9-1.2zM204.4 155l-.1-5-4.6-2.9-.9 1.7zM189.9 167.6l3.5-7.5-5.5-5.9 .1 12.1zM188 166.3l-.1-12.1-4.4 9.1zM199 166.4l5.4-11.4-5.6-6.2-5.4 11.3zM210 161.6l3-6.3-3.1-1.8zM210 161.6l-.1-8.1-3.7-2.3-1.8 3.8zM196.5 171.7l2.5-5.3-5.6-6.3 .1 9.7zM193.5 169.8l-.1-9.7-3.5 7.5zM204.6 173.1l5.4-11.5-5.6-6.6-5.4 11.4zM215.7 168.5l4.3-9.2-4.5-2.6zM215.7 168.5l-.2-11.8-2.5-1.4-3 6.3zM226.8 164.1l.5-.9-.5-.3zM226.8 164.1l0-1.2-1.7-.9zM203.4 175.8l1.2-2.7-5.6-6.7 .1 6.9zM199.1 173.3l-.1-6.9-2.5 5.3zM210.4 179.8l5.3-11.3-5.7-6.9 .2 18.1zM210.2 179.7l-.2-18.1-5.4 11.5 4.9 6.2zM221.4 175.9l5.4-11.8-1.7-2.1-4-2.1zM221.4 175.9l-.3-16-1.1-.6-4.3 9.2zM232.5 171.8l2.3-4.9-2.4-1.1zM232.5 171.8l-.1-6-5.1-2.6-.5 .9zM209.5 179.3l-4.9-6.2 0 3.4zM204.6 176.5l0-3.4-1.2 2.7zM217.8 183.7l3.6-7.8-5.7-7.4 .1 14.2zM215.8 182.7l-.1-14.2-5.3 11.3zM227.1 183.7l5.4-11.9-5.7-7.7-5.4 11.8zM238.3 179.9l4.2-9.3-4.4-2.1zM238.3 179.9l-.2-11.4-3.3-1.6-2.3 4.9zM249.6 176.3l.9-2.1-1-.5zM249.6 176.3l-.1-2.6-2.5-1.1zM225.3 187.5l1.8-3.8-5.7-7.8 .1 9.6zM221.5 185.5l-.1-9.6-3.6 7.8zM233.1 191.2l5.2-11.3-5.8-8.1 .3 19.2zM232.8 191l-.3-19.2-5.4 11.9 4.8 6.9zM244.1 188.4l5.5-12.1-2.6-3.7-3.2-1.4zM244.1 188.4l-.3-17.2-1.3-.6-4.2 9.3zM231.9 190.6l-4.8-6.9 0 4.6zM227.1 188.3l0-4.6-1.8 3.8zM241.2 194.8l2.9-6.4-5.8-8.5 .2 13.7zM238.5 193.6l-.2-13.7-5.2 11.3z" fill="#ff8000" stroke="#ff8000" stroke-width=".6"/>
<path d="M156.9 73.9l-1.6 3 4.2 1.2zM155.4 88.5l4.7-9.3-.6-1.1-4.2-1.2zM155.4 88.5l-.1-11.6-5.1 9.9zM150.2 98.5l5.2-10-5.2-1.7zM150.2 98.5l0-11.7-3.7 7 2.6 4.3zM160.6 90.6l3.1-6.1-3.2-4.7zM160.6 90.6l-.1-10.8-.4-.6-4.7 9.3zM149.8 99.3l.4-.8-1.1-.4zM155.4 100.7l5.2-10.1-5.2-2.1-5.2 10zM165.9 93.1l1.7-3.5-1.8-2.3zM165.9 93.1l-.1-5.8-2.1-2.8-3.1 6.1zM153.4 104.6l2-3.9-5.2-2.2 0 1.3zM150.2 99.8l0-1.3-.4 .8zM160.6 103.3l5.3-10.2-5.3-2.5-5.2 10.1zM171.2 95.9l.6-1.2-.6-.8zM171.2 95.9l0-2-3.6-4.3-1.7 3.5zM157.3 109.8l3.3-6.5-5.2-2.6 0 6.5zM155.4 107.2l0-6.5-2 3.9zM165.9 106.2l5.3-10.3-5.3-2.8-5.3 10.2zM171.8 94.7l-.6 1.2 3.8 2.2zM161.6 114.8l4.3-8.6-5.3-2.9 .1 10.4zM160.7 113.7l-.1-10.4-3.3 6.5zM171.3 109.6l5-10-1.3-1.5-3.8-2.2zM171.3 109.6l-.1-13.7-5.3 10.3zM166.2 119.8l5.1-10.2-5.4-3.4 .1 13.4zM166 119.6l-.1-13.4-4.3 8.6zM176.7 113.3l4.4-8.9-4.5-4.6zM176.7 113.3l-.1-13.5-.3-.2-5 10zM171.4 123.9l5.3-10.6-5.4-3.7zM171.4 123.9l-.1-14.3-5.1 10.2 1.3 1.3zM182.1 117.3l4.1-8.2-4.2-3.9zM182.1 117.3l-.1-12.1-.9-.8-4.4 8.9zM171 124.6l.4-.7-3.9-2.8zM176.8 128.1l5.3-10.8-5.4-4-5.3 10.6zM187.6 121.8l4-8.2-4.2-3.5zM187.6 121.8l-.2-11.7-1.2-1-4.1 8.2zM176.2 129.3l.6-1.2-5.4-4.2 0 1zM171.4 124.9l0-1-.4 .7zM182.3 132.7l5.3-10.9-5.5-4.5-5.3 10.8zM193.1 126.7l4.1-8.6-4.3-3.4zM193.1 126.7l-.2-12-1.3-1.1-4 8.2zM181.7 133.9l.6-1.2-5.5-4.6 0 1.7zM176.8 129.8l0-1.7-.6 1.2zM187.7 137.7l5.4-11-5.5-4.9-5.3 10.9zM198.6 131.9l4.6-9.4-4.7-3.5zM198.6 131.9l-.1-12.9-1.3-.9-4.1 8.6zM187.4 138.4l.3-.7-5.4-5 0 1.7zM182.3 134.4l0-1.7-.6 1.2zM193.4 142.8l5.2-10.9-5.5-5.2 .2 16zM193.3 142.7l-.2-16-5.4 11 4 3.8zM204.2 137.6l5.2-10.8-5.4-3.7zM204.2 137.6l-.2-14.5-.8-.6-4.6 9.4zM215.2 132.2l.6-1.3-.6-.4zM215.2 132.2l0-1.7-4.2-2.7zM191.7 141.5l-4-3.8 0 .9zM187.7 138.6l0-.9-.3 .7zM199.7 147.1l4.5-9.5-5.6-5.7 .2 14.5zM198.8 146.4l-.2-14.5-5.2 10.9zM209.8 143.6l5.4-11.4-4.2-4.4-1.4-.9zM209.8 143.6l-.2-16.7-.2-.1-5.2 10.8zM220.8 138.6l1.7-3.6-1.7-1.1zM220.8 138.6l0-4.7-5-3-.6 1.3zM206.2 151.2l3.6-7.6-5.6-6 .1 12.4zM204.3 150l-.1-12.4-4.5 9.5zM215.4 150l5.4-11.4-5.6-6.4-5.4 11.4zM226.5 145.3l3-6.4-3.1-1.7zM226.5 145.3l-.1-8.1-3.9-2.2-1.7 3.6zM213 155.3l2.4-5.3-5.6-6.4 .1 9.9zM209.9 153.5l-.1-9.9-3.6 7.6zM221.1 156.9l5.4-11.6-5.7-6.7-5.4 11.4zM232.2 152.4l4.5-9.6-4.6-2.5zM232.2 152.4l-.1-12.1-2.6-1.4-3 6.4zM243.4 148.2l.8-1.6-.8-.4zM243.4 148.2l0-2-2.5-1.3zM220 159.3l1.1-2.4-5.7-6.9 .1 6.7zM215.5 156.7l-.1-6.7-2.4 5.3zM227.3 163.2l4.9-10.8-5.7-7.1 .3 17.6zM226.8 162.9l-.3-17.6-5.4 11.6 4 5.1zM238 160l5.4-11.8-2.5-3.3-3.2-1.6zM238 160l-.3-16.7-1-.5-4.5 9.6zM249.2 156l2.7-5.8-2.8-1.3zM249.2 156l-.1-7.1-4.9-2.3-.8 1.6zM225.1 162l-4-5.1 0 3zM221.1 159.9l0-3-1.1 2.4zM234.8 166.9l3.2-6.9-5.8-7.6 .2 13.4zM232.4 165.8l-.2-13.4-4.9 10.8zM243.8 167.9l5.4-11.9-5.8-7.8-5.4 11.8zM255 164.3l4.8-10.5-5-2.3zM255 164.3l-.2-12.8-2.9-1.3-2.7 5.8zM242.5 170.6l1.3-2.7-5.8-7.9 .1 8.5zM238.1 168.5l-.1-8.5-3.2 6.9zM250.5 174.2l4.5-9.9-5.8-8.3 .3 17.7zM249.5 173.7l-.3-17.7-5.4 11.9 3.2 4.7zM247 172.6l-3.2-4.7 0 3.3zM243.8 171.2l0-3.3-1.3 2.7z" fill="#ff0000" stroke="#ff0000" stroke-width=".6"/>
<path d="M167.1 54.2l-1.5 2.8 3.7 .9zM165.7 68.4l4.6-8.9-1-1.6-3.7-.9zM165.7 68.4l-.1-11.4-5.1 9.9zM160.5 78.5l5.2-10.1-5.2-1.5zM160.5 78.5l0-11.6-3.6 7 2.6 4.2zM171 70.3l2.8-5.6-2.9-4.3zM171 70.3l-.1-9.9-.6-.9-4.6 8.9zM160.1 79.2l.4-.7-1-.4zM165.8 80.4l5.2-10.1-5.3-1.9-5.2 10.1zM176.3 72.5l1.4-2.7-1.4-1.9zM176.3 72.5l0-4.6-2.5-3.2-2.8 5.6zM163.7 84.5l2.1-4.1-5.3-1.9 0 1.3zM160.5 79.8l0-1.3-.4 .7zM171.1 82.8l5.2-10.3-5.3-2.2-5.2 10.1zM181.7 75.1l.1-.3-.1-.2zM181.7 75.1l0-.5-4-4.8-1.4 2.7zM167.6 89.6l3.5-6.8-5.3-2.4 0 6.9zM165.8 87.3l0-6.9-2.1 4.1zM176.4 85.5l5.3-10.4-5.4-2.6-5.2 10.3zM181.8 74.8l-.1 .3 .9 .5zM171.8 94.7l4.6-9.2-5.3-2.7 .1 11.1zM171.2 93.9l-.1-11.1-3.5 6.8zM181.8 88.6l4.5-8.9-3.7-4.1-.9-.5zM181.8 88.6l-.1-13.5-5.3 10.4zM176.6 99.1l5.2-10.5-5.4-3.1zM176.6 99.1l-.2-13.6-4.6 9.2 3.2 3.4zM187.2 92l3.8-7.6-3.9-3.9zM187.2 92l-.1-11.5-.8-.8-4.5 8.9zM176.3 99.6l.3-.5-1.6-1zM182 102.6l5.2-10.6-5.4-3.4-5.2 10.5zM192.7 95.9l3.4-6.8-3.5-3.3zM192.7 95.9l-.1-10.1-1.6-1.4-3.8 7.6zM181.1 104.4l.9-1.8-5.4-3.5 0 .7zM176.6 99.8l0-.7-.3 .5zM187.4 106.6l5.3-10.7-5.5-3.9-5.2 10.6zM198.2 100.1l3.2-6.5-3.3-2.8zM198.2 100.1l-.1-9.3-2-1.7-3.4 6.8zM186.2 109.1l1.2-2.5-5.4-4 0 2.6zM182 105.2l0-2.6-.9 1.8zM192.9 111l5.3-10.9-5.5-4.2-5.3 10.7zM203.7 104.7l3.3-6.6-3.4-2.7zM203.7 104.7l-.1-9.3-2.2-1.8-3.2 6.5zM191.6 113.6l1.3-2.6-5.5-4.4 0 3.5zM187.4 110.1l0-3.5-1.2 2.5zM198.4 115.7l5.3-11-5.5-4.6-5.3 10.9zM209.3 109.7l3.6-7.3-3.7-2.7zM209.3 109.7l-.1-10-2.2-1.6-3.3 6.6zM197.2 118.1l1.2-2.4-5.5-4.7 0 3.7zM192.9 114.7l0-3.7-1.3 2.6zM204 120.8l5.3-11.1-5.6-5-5.3 11zM214.9 115.1l4.1-8.4-4.2-3zM214.9 115.1l-.1-11.4-1.9-1.3-3.6 7.3zM203.2 122.5l.8-1.7-5.6-5.1 .1 3.3zM198.5 119l-.1-3.3-1.2 2.4zM209.6 126.3l5.3-11.2-5.6-5.4-5.3 11.1zM220.6 120.9l4.8-10.1-5-3.3zM220.6 120.9l-.2-13.4-1.4-.8-4.1 8.4zM231.7 115.7l.4-.9-.5-.2zM231.7 115.7l-.1-1.1-2.5-1.5zM209.4 126.8l.2-.5-5.6-5.5 0 2.3zM204 123.1l0-2.3-.8 1.7zM215.8 130.9l4.8-10-5.7-5.8 .3 15.4zM215.2 130.5l-.3-15.4-5.3 11.2 1.4 1.5zM226.2 127.1l5.5-11.4-2.6-2.6-3.1-2zM226.2 127.1l-.2-16-.6-.3-4.8 10.1zM237.4 122.2l1.6-3.4-1.7-1zM237.4 122.2l-.1-4.4-5.2-3-.4 .9zM211 127.8l-1.4-1.5 0 .6zM209.6 126.9l0-.6-.2 .5zM222.5 135l3.7-7.9-5.6-6.2 .2 13zM220.8 133.9l-.2-13-4.8 10zM232 133.7l5.4-11.5-5.7-6.5-5.5 11.4zM243.1 129.1l3.1-6.5-3.2-1.7zM243.1 129.1l-.1-8.2-4-2.1-1.6 3.4zM229.5 138.9l2.5-5.2-5.8-6.6 .2 10.1zM226.4 137.2l-.2-10.1-3.7 7.9zM237.7 140.7l5.4-11.6-5.7-6.9-5.4 11.5zM248.9 136.4l4.7-10-4.9-2.5zM248.9 136.4l-.2-12.5-2.5-1.3-3.1 6.5zM260.2 132.3l1.1-2.3-1.2-.5zM260.2 132.3l-.1-2.8-3.4-1.7zM236.7 142.8l1-2.1-5.7-7 .1 6.6zM232.1 140.3l-.1-6.6-2.5 5.2zM244.2 146.6l4.7-10.2-5.8-7.3 .3 17.1zM243.4 146.2l-.3-17.1-5.4 11.6 3.2 4.2zM254.7 144.1l5.5-11.8-3.5-4.5-2.3-1.1zM254.7 144.1l-.3-17.4-.8-.3-4.7 10zM266 140.4l3.2-6.9-3.3-1.4zM266 140.4l-.1-8.3-4.6-2.1-1.1 2.3zM240.9 144.9l-3.2-4.2 0 2.6zM237.7 143.3l0-2.6-1 2.1zM251.9 150.2l2.8-6.1-5.8-7.7 .2 12.5zM249.1 148.9l-.2-12.5-4.7 10.2zM260.5 152.3l5.5-11.9-5.8-8.1-5.5 11.8zM259.8 153.8l.7-1.5-5.8-8.2 .1 7.4zM254.8 151.5l-.1-7.4-2.8 6.1z" fill="#c80000" stroke="#c80000" stroke-width=".6"/>
<path d="M176.1 48.3l5.1-9.9-5.3-1.3-5.1 9.9zM170.9 58.4l5.2-10.1-5.3-1.3zM170.9 58.4l-.1-11.4-3.7 7.2 2.2 3.7zM181.4 50l5.2-10.1-5.4-1.5-5.1 9.9zM170.3 59.5l.6-1.1-1.6-.5zM176.2 60.1l5.2-10.1-5.3-1.7-5.2 10.1zM186.7 52l5.2-10.1-5.3-2-5.2 10.1zM173.8 64.7l2.4-4.6-5.3-1.7 0 2zM170.9 60.4l0-2-.6 1.1zM181.5 62.3l5.2-10.3-5.3-2-5.2 10.1zM192.1 54.4l5.3-10.2-5.5-2.3-5.2 10.1zM177.7 69.8l3.8-7.5-5.3-2.2 .1 7.8zM176.3 67.9l-.1-7.8-2.4 4.6zM186.9 64.8l5.2-10.4-5.4-2.4-5.2 10.3zM197.6 57.2l5.2-10.3-5.4-2.7-5.3 10.2zM181.8 74.8l5.1-10-5.4-2.5 .2 12.3zM181.7 74.6l-.2-12.3-3.8 7.5zM192.3 67.6l5.3-10.4-5.5-2.8-5.2 10.4zM203.1 60.4l5.2-10.5-5.5-3-5.2 10.3zM187.1 78.1l5.2-10.5-5.4-2.8zM187.1 78.1l-.2-13.3-5.1 10 .8 .8zM197.8 70.9l5.3-10.5-5.5-3.2-5.3 10.4zM208.6 63.9l5.3-10.6-5.6-3.4-5.2 10.5zM186.3 79.7l.8-1.6-4.5-2.5zM192.5 81.4l5.3-10.5-5.5-3.3-5.2 10.5zM203.3 74.5l5.3-10.6-5.5-3.5-5.3 10.5zM214.2 67.8l5.3-10.7-5.6-3.8-5.3 10.6zM191 84.4l1.5-3-5.4-3.3 0 2.4zM187.1 80.5l0-2.4-.8 1.6zM198 85.2l5.3-10.7-5.5-3.6-5.3 10.5zM208.8 78.5l5.4-10.7-5.6-3.9-5.3 10.6zM219.7 72.1l5.4-10.8-5.6-4.2-5.3 10.7zM196.1 89.1l1.9-3.9-5.5-3.8 .1 4.4zM192.6 85.8l-.1-4.4-1.5 3zM203.5 89.3l5.3-10.8-5.5-4-5.3 10.7zM214.4 82.9l5.3-10.8-5.5-4.3-5.4 10.7zM225.4 76.8l5.3-10.9-5.6-4.6-5.4 10.8zM201.4 93.6l2.1-4.3-5.5-4.1 .1 5.6zM198.1 90.8l-.1-5.6-1.9 3.9zM209.1 93.8l5.3-10.9-5.6-4.4-5.3 10.8zM220 87.7l5.4-10.9-5.7-4.7-5.3 10.8zM231 81.8l5.4-11-5.7-4.9-5.3 10.9zM207 98.1l2.1-4.3-5.6-4.5 .1 6.1zM203.6 95.4l-.1-6.1-2.1 4.3zM214.7 98.7l5.3-11-5.6-4.8-5.3 10.9zM225.7 92.9l5.3-11.1-5.6-5-5.4 10.9zM236.7 87.3l5.4-11.1-5.7-5.4-5.4 11zM212.9 102.4l1.8-3.7-5.6-4.9 .1 5.9zM209.2 99.7l-.1-5.9-2.1 4.3zM220.3 104l5.4-11.1-5.7-5.2-5.3 11zM231.4 98.4l5.3-11.1-5.7-5.5-5.3 11.1zM242.5 93.1l5.4-11.2-5.8-5.7-5.4 11.1zM219 106.7l1.3-2.7-5.6-5.3 .1 5zM214.8 103.7l-.1-5-1.8 3.7zM226 109.7l5.4-11.3-5.7-5.5-5.4 11.1zM237.1 104.4l5.4-11.3-5.8-5.8-5.3 11.1zM248.2 99.4l5.5-11.3-5.8-6.2-5.4 11.2zM225.4 110.8l.6-1.1-5.7-5.7 .1 3.5zM220.4 107.5l-.1-3.5-1.3 2.7zM232.1 114.8l5-10.4-5.7-6 .2 16.2zM231.6 114.6l-.2-16.2-5.4 11.3 3.1 3.4zM242.8 110.8l5.4-11.4-5.7-6.3-5.4 11.3zM254 106.1l5.5-11.5-5.8-6.5-5.5 11.3zM229.1 113.1l-3.1-3.4 0 1.4zM226 111.1l0-1.4-.6 1.1zM239 118.8l3.8-8-5.7-6.4 .2 13.4zM237.3 117.8l-.2-13.4-5 10.4zM248.6 117.6l5.4-11.5-5.8-6.7-5.4 11.4zM259.8 113.1l5.5-11.5-5.8-7-5.5 11.5zM246.2 122.6l2.4-5-5.8-6.8 .2 10.1zM243 120.9l-.2-10.1-3.8 8zM254.4 124.7l5.4-11.6-5.8-7-5.4 11.5zM265.7 120.6l5.4-11.7-5.8-7.3-5.5 11.5zM253.6 126.4l.8-1.7-5.8-7.1 .1 6.3zM248.7 123.9l-.1-6.3-2.4 5zM261.3 130l4.4-9.4-5.9-7.5 .3 16.4zM260.1 129.5l-.3-16.4-5.4 11.6 2.3 3.1zM271.5 128.5l5.5-11.8-5.9-7.8-5.4 11.7zM256.7 127.8l-2.3-3.1 0 2zM254.4 126.7l0-2-.8 1.7zM269.2 133.5l2.3-5-5.8-7.9 .2 11.5zM265.9 132.1l-.2-11.5-4.4 9.4z" fill="#8c0000" stroke="#8c0000" stroke-width=".6"/>
<path class="m" d="M156 342.5l-5.6-5.7-5.6-5.6-5.5-5.6-5.4-5.6-5.5-5.5-5.3-5.5-5.4-5.4-5.3-5.4-5.3-5.3-5.2-5.3-5.2-5.3-5.1-5.2-5.1-5.2-5.1-5.2-5-5.1-5-5.1-5-5-4.9-5M161.6 338.6l-5.6-5.7-5.6-5.6-5.5-5.5-5.5-5.6-5.4-5.5-5.4-5.4-5.3-5.4-5.4-5.4-5.2-5.3-5.3-5.3-5.2-5.2-5.1-5.2-5.1-5.2-5.1-5.1-5-5.1-5-5-5-5-4.9-5M167.1 334.7l-5.6-5.6-5.5-5.6-5.6-5.5-5.4-5.5-5.5-5.5-5.4-5.4-5.3-5.4-5.4-5.3-5.2-5.3-5.3-5.3-5.2-5.7-5.2-5.6-5.1-5.3-5.1-4.8-5-4.5-5-4.8-5-5-4.9-4.9M172.7 330.8l-5.6-5.6-5.6-5.5-5.5-5.5-5.5-5.5-5.5-5.4-5.4-6.5-5.4-7.6-5.3-7.2-5.4-6.8-5.2-6.4-5.3-6-5.2-5.5-5.1-5.2-5.1-4.8-5.1-4.4-5-4-4.9-3.6-4.9-3.2M178.2 327l-5.6-5.6-5.6-5.5-5.6-6.3-5.5-8.7-5.5-8.4-5.4-7.9-5.4-7.6-5.4-7.1-5.3-6.7-5.3-6.3-5.2-5.9-5.2-5.5-5.2-5.1-5.1-4.7-5.1-4.3-5-4-5-3.5-5-3.2M183.6 323.2l-5.6-7.5-5.6-9.5-5.5-9.1-5.5-8.6-5.5-8.3-5.5-7.8-5.4-7.5-5.4-7-5.3-6.6-5.4-6.2-5.2-5.9-5.2-5.4-5.2-5.1-5.2-4.6-5.1-4.3-5-3.9-5-3.6-5-3.1M189.1 312.9l-5.6-9.8-5.6-9.4-5.6-9-5.5-8.6-5.5-8.1-5.5-7.7-5.4-7.4-5.4-6.9-5.4-6.6-5.3-6.2-5.3-5.7-5.3-5.4-5.2-5-5.1-4.7-5.1-4.2-5.1-3.9-5-3.5-5-3.2M194.6 300.1l-5.6-9.6-5.6-9.3-5.6-8.9-5.6-8.4-5.5-8-5.5-7.7-5.4-7.3-5.5-6.8-5.3-6.5-5.4-6.1-5.3-5.7-5.3-5.3-5.2-5-5.2-4.5-5.1-4.3-5.1-3.8-5-3.5-5-3.1M200.1 287.5l-5.6-9.6-5.7-9.1-5.6-8.7-5.5-8.4-5.6-7.9-5.5-7.6-5.5-7.1-5.4-6.8-5.4-6.4-5.3-6-5.4-5.6-5.3-5.2-5.2-4.9-5.2-4.5-5.2-4.2-5.1-3.8-5-3.4-5.1-3.1M205.6 274.9l-5.7-9.4-5.6-9.1-5.6-8.6-5.6-8.2-5.6-7.8-5.5-7.4-5.5-7.1-5.4-6.6-5.4-6.3-5.4-5.9-5.4-5.5-5.3-5.1-5.2-4.8-5.2-4.4-5.2-4.1-5.1-3.7-5.1-3.3-5.1-3M211.1 262.3l-5.7-9.3-5.6-8.8-5.7-8.5-5.6-8.1-5.5-7.7-5.6-7.3-5.5-6.9-5.5-6.5-5.4-6.1-5.4-5.8-5.3-5.4-5.4-5-5.2-4.6-5.3-4.3-5.2-4-5.1-3.5-5.1-3.2-5.1-2.9M216.6 249.9l-5.7-9.2-5.7-8.7-5.6-8.4-5.6-7.9-5.6-7.6-5.6-7.1-5.5-6.8-5.5-6.4-5.4-5.9-5.5-5.7-5.3-5.2-5.4-4.9-5.3-4.5-5.2-4.1-5.2-3.7-5.2-3.4-5.1-3.1-5.1-2.7M222.1 237.4l-5.7-9-5.7-8.6-5.7-8.2-5.6-7.8-5.6-7.4-5.6-7-5.5-6.6-5.5-6.2-5.5-5.9-5.4-5.4-5.4-5.1-5.4-4.7-5.3-4.3-5.3-4-5.2-3.5-5.2-3.3-5.1-2.8-5.1-2.5M227.6 225.1l-5.7-8.9-5.8-8.5-5.6-8-5.7-7.7-5.6-7.3-5.6-6.8-5.5-6.5-5.6-6-5.4-5.7-5.5-5.3-5.4-4.9-5.4-4.5-5.3-4.2-5.3-3.8-5.2-3.4-5.2-3-5.2-2.7-5.1-2.3M233.1 212.8l-5.8-8.8-5.7-8.3-5.7-7.9-5.7-7.6-5.6-7.1-5.6-6.7-5.6-6.3-5.5-5.9-5.5-5.5-5.5-5.2-5.4-4.7-5.4-4.4-5.3-4-5.3-3.6-5.3-3.2-5.2-2.9-5.2-2.5-5.1-2.1M238.6 200.6l-5.8-8.7-5.7-8.2-5.7-7.8-5.7-7.4-5.7-6.9-5.6-6.6-5.6-6.2-5.5-5.8-5.6-5.3-5.4-5-5.5-4.6-5.4-4.2-5.4-3.9-5.3-3.4-5.3-3.1-5.2-2.7-5.2-2.4-5.2-2M244.1 188.4l-5.8-8.5-5.8-8.1-5.7-7.7-5.7-7.2-5.7-6.9-5.6-6.4-5.6-6-5.6-5.7-5.5-5.2-5.5-4.9-5.5-4.5-5.4-4-5.4-3.7-5.4-3.4-5.3-2.9-5.2-2.6-5.2-2.2-5.2-1.8M249.6 176.3l-5.8-8.4-5.8-7.9-5.8-7.6-5.7-7.1-5.7-6.7-5.6-6.4-5.6-5.9-5.6-5.5-5.6-5.1-5.5-4.7-5.5-4.4-5.4-4-5.4-3.5-5.4-3.2-5.3-2.8-5.3-2.5-5.2-2.1-5.2-1.7M255 164.3l-5.8-8.3-5.8-7.8-5.7-7.5-5.7-7-5.8-6.6-5.6-6.2-5.7-5.8-5.6-5.4-5.6-5-5.5-4.6-5.5-4.2-5.5-3.9-5.4-3.4-5.4-3.1-5.3-2.7-5.3-2.4-5.3-1.9-5.2-1.6M260.5 152.3l-5.8-8.2-5.8-7.7-5.8-7.3-5.7-6.9-5.7-6.5-5.7-6-5.7-5.7-5.6-5.3-5.6-4.9-5.6-4.5-5.5-4.1-5.5-3.8-5.4-3.3-5.4-3-5.4-2.6-5.3-2.2-5.3-1.9-5.2-1.5M266 140.4l-5.8-8.1-5.8-7.6-5.8-7.1-5.8-6.8-5.7-6.4-5.7-6-5.7-5.5-5.7-5.2-5.6-4.8-5.6-4.4-5.5-4-5.5-3.6-5.5-3.3-5.4-2.8-5.4-2.5-5.3-2.2-5.3-1.7-5.3-1.4M271.5 128.5l-5.8-7.9-5.9-7.5-5.8-7-5.8-6.7-5.7-6.3-5.8-5.8-5.7-5.5-5.6-5-5.7-4.7-5.5-4.3-5.6-3.9-5.5-3.5-5.5-3.2-5.5-2.8-5.4-2.4-5.3-2-5.3-1.7-5.3-1.3M277 116.7l-5.9-7.8-5.8-7.3-5.8-7-5.8-6.5-5.8-6.2-5.8-5.7-5.7-5.4-5.7-4.9-5.6-4.6-5.6-4.2-5.6-3.8-5.6-3.4-5.5-3-5.4-2.7-5.5-2.3-5.3-2-5.4-1.5-5.3-1.3M156 342.5l5.6-3.9 5.5-3.9 5.6-3.9 5.5-3.8 5.4-3.8 5.5-10.3 5.5-12.8 5.5-12.6 5.5-12.6 5.5-12.6 5.5-12.4 5.5-12.5 5.5-12.3 5.5-12.3 5.5-12.2 5.5-12.2 5.5-12.1 5.4-12 5.5-12 5.5-11.9 5.5-11.9 5.5-11.8M150.4 336.8l5.6-3.9 5.5-3.8 5.6-3.9 5.5-3.8 5.4-5.7 5.5-12.6 5.5-12.6 5.5-12.6 5.4-12.4 5.5-12.5 5.5-12.3 5.5-12.3 5.5-12.2 5.4-12.2 5.5-12.1 5.5-12 5.5-12 5.4-11.9 5.5-11.9 5.5-11.8 5.5-11.7 5.4-11.7M144.8 331.2l5.6-3.9 5.6-3.8 5.5-3.8 5.5-3.8 5.4-9.7 5.5-12.5 5.5-12.5 5.4-12.4 5.5-12.4 5.5-12.2 5.4-12.2 5.5-12.2 5.4-12.1 5.5-12 5.5-12 5.4-11.9 5.5-11.8 5.4-11.8 5.5-11.8 5.5-11.7 5.4-11.6 5.5-11.5M139.3 325.6l5.6-3.8 5.5-3.8 5.6-3.8 5.4-4.6 5.5-12.5 5.4-12.4 5.5-12.4 5.4-12.2 5.5-12.3 5.4-12.1 5.5-12.1 5.4-12 5.5-11.9 5.4-11.9 5.5-11.9 5.4-11.8 5.4-11.7 5.5-11.7 5.4-11.6 5.5-11.5 5.4-11.5 5.5-11.5M133.9 320l5.5-3.8 5.6-3.7 5.5-3.8 5.4-7.8 5.5-12.4 5.4-12.4 5.4-12.2 5.5-12.2 5.4-12.1 5.4-12 5.5-11.9 5.4-11.9 5.4-11.8 5.4-11.8 5.5-11.7 5.4-11.6 5.4-11.6 5.5-11.6 5.4-11.5 5.4-11.4 5.4-11.4 5.5-11.3M128.4 314.5l5.6-3.8 5.5-3.7 5.5-3.7 5.4-10.8 5.5-12.3 5.4-12.2 5.4-12.1 5.4-12.1 5.4-12 5.5-11.9 5.4-11.8 5.4-11.7 5.4-11.7 5.4-11.6 5.4-11.5 5.4-11.6 5.4-11.4 5.4-11.5 5.5-11.4 5.4-11.3 5.4-11.3 5.4-11.2M123.1 309l5.5-3.7 5.5-3.7 5.5-4.8 5.4-12.2 5.4-12.2 5.4-12.1 5.4-12.1 5.4-12 5.4-11.8 5.4-11.8 5.4-11.6 5.4-11.6 5.4-11.5 5.4-11.5 5.4-11.4 5.4-11.4 5.4-11.4 5.4-11.3 5.4-11.2 5.4-11.3 5.3-11.1 5.4-11.1M117.7 303.6l5.6-3.7 5.5-3.7 5.4-7 5.4-12.2 5.4-12.1 5.4-12 5.4-12 5.3-11.8 5.4-11.8 5.4-11.6 5.4-11.5 5.4-11.4 5.4-11.4 5.3-11.3 5.4-11.3 5.4-11.2 5.4-11.3 5.3-11.2 5.4-11.1 5.4-11.1 5.3-11.1 5.4-11M112.4 298.2l5.5-3.7 5.5-3.6 5.5-8.9 5.3-12.1 5.4-12 5.4-11.9 5.3-11.9 5.4-11.8 5.4-11.6 5.3-11.5 5.4-11.4 5.4-11.2 5.3-11.2 5.4-11.2 5.4-11.2 5.3-11.1 5.4-11.1 5.3-11.1 5.4-11 5.3-11 5.4-10.9 5.3-10.9M107.1 292.9l5.6-3.7 5.5-3.6 5.3-10.4 5.4-12 5.4-11.9 5.3-11.9 5.4-11.8 5.3-11.7 5.4-11.5 5.3-11.3 5.4-11.2 5.3-11.2 5.4-11 5.3-11 5.3-11 5.4-11 5.3-11 5.3-11 5.4-10.9 5.3-10.9 5.3-10.8 5.4-10.8M101.9 287.6l5.5-3.7 5.5-3.6 5.4-11.5 5.3-11.9 5.3-11.8 5.4-11.9 5.3-11.7 5.4-11.6 5.3-11.4 5.3-11.2 5.3-11.1 5.4-10.9 5.3-10.9 5.3-10.9 5.4-10.8 5.3-10.9 5.3-10.8 5.3-10.9 5.3-10.8 5.3-10.8 5.4-10.7 5.3-10.7M96.7 282.3l5.5-3.6 5.5-4.1 5.3-11.8 5.4-11.8 5.3-11.8 5.3-11.7 5.3-11.7 5.3-11.5 5.3-11.3 5.4-11.1 5.3-10.9 5.3-10.8 5.3-10.7 5.3-10.7 5.3-10.7 5.3-10.8 5.3-10.7 5.3-10.7 5.3-10.7 5.3-10.7 5.3-10.6 5.3-10.6M91.6 277.1l5.5-3.6 5.4-4.5 5.3-11.7 5.4-11.8 5.3-11.7 5.2-11.7 5.3-11.6 5.3-11.4 5.3-11.2 5.3-11 5.3-10.8 5.3-10.6 5.3-10.5 5.3-10.6 5.3-10.5 5.3-10.6 5.3-10.7 5.2-10.6 5.3-10.6 5.3-10.5 5.3-10.5 5.2-10.5M86.5 271.9l5.5-3.6 5.4-4.6 5.3-11.6 5.3-11.7 5.3-11.7 5.2-11.6 5.3-11.6 5.3-11.3 5.3-11.1 5.3-10.8 5.2-10.7 5.3-10.4 5.3-10.4 5.3-10.4 5.2-10.4 5.3-10.4 5.3-10.5 5.2-10.5 5.3-10.5 5.2-10.5 5.3-10.4 5.2-10.3M81.4 266.7l5.5-3.5 5.4-4.3 5.3-11.6 5.3-11.6 5.2-11.6 5.3-11.7 5.2-11.4 5.3-11.3 5.3-11 5.2-10.7 5.3-10.5 5.2-10.3 5.3-10.2 5.3-10.2 5.2-10.2 5.2-10.4 5.3-10.3 5.2-10.4 5.3-10.4 5.2-10.3 5.2-10.4 5.3-10.2M76.4 261.6l5.5-3.5 5.4-3.7 5.2-11.5 5.3-11.5 5.2-11.6 5.3-11.6 5.2-11.5 5.2-11.2 5.3-10.9 5.2-10.6 5.3-10.2 5.2-10.1 5.3-10.1 5.2-10 5.2-10.1 5.2-10.2 5.3-10.2 5.2-10.3 5.2-10.3 5.2-10.2 5.2-10.3 5.2-10.1M71.4 256.5l5.5-3.4 5.4-3.5 5.2-10.7 5.3-11.5 5.2-11.5 5.2-11.6 5.2-11.4 5.2-11.2 5.3-10.8 5.2-10.4 5.2-10.1 5.2-10 5.3-9.8 5.2-9.9 5.2-9.9 5.2-10.1 5.2-10.1 5.2-10.2 5.2-10.1 5.2-10.2 5.2-10.1 5.2-10.1M66.4 251.5l5.5-3.4 5.4-3.5 5.3-9.3 5.2-11.4 5.2-11.6 5.2-11.5 5.2-11.4 5.2-11.1 5.2-10.7 5.2-10.3 5.2-10 5.2-9.7 5.2-9.7 5.2-9.7 5.2-9.8 5.2-9.9 5.2-10 5.1-10 5.2-10.1 5.2-10 5.2-10.1 5.1-9.9M61.5 246.5l5.5-3.4 5.4-3.4 5.3-7.6 5.1-11.4 5.2-11.5 5.2-11.6 5.2-11.3 5.1-11.1 5.2-10.6 5.2-10.2 5.2-9.8 5.2-9.5 5.2-9.5 5.2-9.5 5.1-9.7 5.2-9.7 5.2-9.9 5.1-9.9 5.2-10 5.1-9.9 5.2-10 5.1-9.9"/>
<text x="43.0" y="77.0" dy=".35em" font-size="11.3" text-anchor="middle" transform="rotate(-20.0 43.0 77.0)">26</text>
<text x="44.8" y="106.5" dy=".35em" font-size="11.3" text-anchor="middle" transform="rotate(-20.0 44.8 106.5)">22</text>
<text x="46.6" y="136.0" dy=".35em" font-size="11.3" text-anchor="middle" transform="rotate(-20.0 46.6 136.0)">18</text>
<text x="48.4" y="165.5" dy=".35em" font-size="11.3" text-anchor="middle" transform="rotate(-20.0 48.4 165.5)">14</text>
<text x="50.2" y="195.0" dy=".35em" font-size="11.3" text-anchor="middle" transform="rotate(-20.0 50.2 195.0)">10</text>
<text x="52.0" y="224.5" dy=".35em" font-size="11.3" text-anchor="middle" transform="rotate(-20.0 52.0 224.5)">6</text>
<text x="143.3" y="353.0" dy=".35em" font-size="11.5" text-anchor="middle" transform="rotate(-33.0 143.3 353.0)">0.5</text>
<text x="124.4" y="333.7" dy=".35em" font-size="11.5" text-anchor="middle" transform="rotate(-33.0 124.4 333.7)">1.5</text>
<text x="105.6" y="314.3" dy=".35em" font-size="11.5" text-anchor="middle" transform="rotate(-33.0 105.6 314.3)">2.5</text>
<text x="86.7" y="295.0" dy=".35em" font-size="11.5" text-anchor="middle" transform="rotate(-33.0 86.7 295.0)">3.5</text>
<text x="67.9" y="275.6" dy=".35em" font-size="11.5" text-anchor="middle" transform="rotate(-33.0 67.9 275.6)">4.5</text>
<text x="49.0" y="256.3" dy=".35em" font-size="11.5" text-anchor="middle" transform="rotate(-33.0 49.0 256.3)">5.5</text>
<text x="166.4" y="352.0" dy=".35em" font-size="11.5" text-anchor="middle" transform="rotate(-35.0 166.4 352.0)">1.5</text>
<text x="189.8" y="335.4" dy=".35em" font-size="11.5" text-anchor="middle" transform="rotate(-35.0 189.8 335.4)">2.5</text>
<text x="213.1" y="318.8" dy=".35em" font-size="11.5" text-anchor="middle" transform="rotate(-35.0 213.1 318.8)">3.5</text>
<text x="236.5" y="302.2" dy=".35em" font-size="11.5" text-anchor="middle" transform="rotate(-35.0 236.5 302.2)">4.5</text>
<text x="259.8" y="285.6" dy=".35em" font-size="11.5" text-anchor="middle" transform="rotate(-35.0 259.8 285.6)">5.5</text>
<text x="283.2" y="269.0" dy=".35em" font-size="11.5" text-anchor="middle" transform="rotate(-35.0 283.2 269.0)">6.5</text>
<text x="27.5" y="177.0" dy=".35em" font-size="12" text-anchor="middle" transform="rotate(88.2 27.5 177.0)" textLength="144.0" lengthAdjust="spacingAndGlyphs">Lipase activity (U/gds)</text>
<text x="75.0" y="315.3" dy=".35em" font-size="12" text-anchor="middle" transform="rotate(45.6 75.0 315.3)" textLength="62.0" lengthAdjust="spacingAndGlyphs">Peptone(g/l)</text>
<text x="241.8" y="327.0" dy=".35em" font-size="12" text-anchor="middle" transform="rotate(-35.3 241.8 327.0)" textLength="126.0" lengthAdjust="spacingAndGlyphs">Cotton seed  waste (g/l)</text>
</g>
<rect x="4.5" y="4.5" width="38.0" height="37.0" fill="#fff" stroke="#000" stroke-width="1.2" shape-rendering="crispEdges"/><text x="23.5" y="31.8" font-size="24" text-anchor="middle" style="fill:#000">A</text>
<g class="p">
<path d="M435.7 245.7l-5.2-175.7 118.5-58.7 101.7 74.1-5.1 174.1-117.1 75.5z" fill="#3f8282"/>
<path d="M528.5 335l-92.8-89.3-5.2-175.7M552.6 319.5l-93.7-87.8-4.1-173.7M576.3 304.2l-94.6-86.3-2.9-171.8M599.7 289.1l-95.4-84.8-1.8-169.9M622.8 274.2l-96.2-83.4-.7-168M645.6 259.5l-97-82 .4-166.2M528.5 335l117.1-75.5 5.1-174.1M516.2 323.2l116.6-74.5 4.5-173.1M504.2 311.6l116-73.6 3.9-172M492.3 300.2l115.5-72.6 3.3-171M480.6 288.9l115-71.7 2.7-170M469.1 277.9l114.5-70.8 2.1-169.1M457.8 267l113.9-69.9 1.6-168.1M446.7 256.2l113.4-69 1-167.1M435.7 245.7l112.9-68.2 .4-166.2M434.8 215.9l113.9-66.5 97.8 80.6M434 186.9l114.7-65 98.6 79.3M433.1 157.9l115.7-63.5 99.4 78M432.2 128.8l116.7-61.9 100.1 76.8M431.4 99.8l117.5-60.3 100.9 75.4M430.5 70.7l118.5-58.7 101.7 74.1M435.7 245.7l112.9-68.2 97 82M548.6 177.5l.4-166.2" fill="none" stroke="#bccfcf" stroke-width="0.9"/>
<path d="M430.5 70l5.2 175.7 92.8 89.3 117.1-75.5" fill="none" stroke="#0a1414" stroke-width="1.1"/>
<path d="M430.5 70l5.2 175.7" fill="none" stroke="#0a1414" stroke-width="1.6" stroke-dasharray="1 3.4" transform="translate(-1 0)"/>
<path d="M435.7 245.7l92.8 89.3" fill="none" stroke="#0a1414" stroke-width="1.6" stroke-dasharray="1 3.4" transform="translate(-.7 .8)"/>
<path d="M528.5 335l117.1-75.5" fill="none" stroke="#0a1414" stroke-width="1.6" stroke-dasharray="1 3.4" transform="translate(.6 .9)"/>
<path d="M467.8 250.2l.4-.6-.3 0zM467.8 250.2l.1-.6-.3 0zM498.9 256.1l1-2.2-.8-.3zM498.9 256.1l.2-2.5-1.7-.4zM486 261.3l4.8-9.8-3.9-.7zM486 261.3l.9-10.5-5.9-.8zM473.1 263.8l7.3-13.8-6-.5zM473.1 263.8l1.3-14.3-6.2 .1-.4 .6zM460.2 263.6l7.6-13.4-.2-.6-6.2 .3zM460.2 263.6l1.2-13.7-5.6 .6zM504.1 265.6l3.9-8.7-2.9-1.2zM504.1 265.6l1-9.9-5.2-1.8-1 2.2zM491.2 272.3l7.7-16.2-1.5-2.9-4.3-1.2zM491.2 272.3l1.9-20.3-2.3-.5-4.8 9.8zM478.2 274.2l7.8-12.9-5-11.3-.3 0zM478.2 274.2l2.5-24.2-.3 0-7.3 13.8zM465.3 274.2l7.8-10.4-5.3-13.6-7.6 13.4zM509.4 274.2l6-13.7-4.5-2.3zM509.4 274.2l1.5-16-2.9-1.3-3.9 8.7zM496.4 279.1l7.7-13.5-5.2-9.5-7.7 16.2zM483.4 279.1l7.8-6.8-5.2-11-7.8 12.9zM470.4 279.1l7.8-4.9-5.1-10.4-7.8 10.4zM527.8 270.2l.5-1.4-.4-.3zM527.8 270.2l.1-1.7-3.7-2.6zM514.7 282.1l7.4-17.7-5.4-3.3zM514.7 282.1l2-21-1.3-.6-6 13.7zM501.6 284l7.8-9.8-5.3-8.6-7.7 13.5zM488.5 284l7.9-4.9-5.2-6.8-7.8 6.8zM475.5 284l7.9-4.9-5.2-4.9-7.8 4.9zM533.1 275.8l1-2.3-.7-.6zM533.1 275.8l.3-2.9-5.1-4.1-.5 1.4zM520 289l7.8-18.8-3.6-4.3-1.8-1.3zM520 289l2.4-24.4-.3-.2-7.4 17.7zM506.8 289l7.9-6.9-5.3-7.9-7.8 9.8zM493.7 288.9l7.9-4.9-5.2-4.9-7.9 4.9zM480.6 288.9l7.9-4.9-5.1-4.9-7.9 4.9zM538.5 280.7l.9-2.2-.6-.6zM538.5 280.7l.3-2.8-4.7-4.4-1 2.3zM525.3 294l7.8-18.2-5.3-5.6-7.8 18.8zM512.1 293.9l7.9-4.9-5.3-6.9-7.9 6.9zM498.9 293.9l7.9-4.9-5.2-5-7.9 4.9zM485.8 293.9l7.9-5-5.2-4.9-7.9 4.9zM544 284.9l.4-1.2-.3-.3zM544 284.9l.1-1.5-4.7-4.9-.9 2.2zM530.7 299l7.8-18.3-5.4-4.9-7.8 18.2zM517.4 299l7.9-5-5.3-5-7.9 4.9zM504.2 298.9l7.9-5-5.3-4.9-7.9 4.9zM491 298.9l7.9-5-5.2-5-7.9 5zM544.4 283.7l-.4 1.2 2.8 1.7zM536.1 304.1l7.9-19.2-5.5-4.2-7.8 18.3zM522.8 304l7.9-5-5.4-5-7.9 5zM509.5 304l7.9-5-5.3-5.1-7.9 5zM496.2 303.9l8-5-5.3-5-7.9 5zM541.5 309.2l7.6-19.9-2.3-2.7-2.8-1.7zM541.5 309.2l2.5-24.3-7.9 19.2zM528.2 309.1l7.9-5-5.4-5.1-7.9 5zM514.8 309.1l8-5.1-5.4-5-7.9 5zM501.5 309l8-5-5.3-5.1-8 5zM547 312.3l6.4-17.2-4.1-5.5zM547 312.3l2.3-22.7-.2-.3-7.6 19.9zM533.6 314.3l7.9-5.1-5.4-5.1-7.9 5zM520.2 314.2l8-5.1-5.4-5.1-8 5.1zM506.8 314.1l8-5-5.3-5.1-8 5zM552.6 314.5l4.8-13.3-3-4.6zM552.6 314.5l1.8-17.9-1-1.5-6.4 17.2zM539.1 319.4l7.9-7.1-5.5-3.1-7.9 5.1zM525.6 319.4l8-5.1-5.4-5.2-8 5.1zM512.2 319.3l8-5.1-5.4-5.1-8 5zM544.6 324.6l8-10.1-5.6-2.2-7.9 7.1zM531.1 324.6l8-5.2-5.5-5.1-8 5.1zM517.6 324.5l8-5.1-5.4-5.2-8 5.1zM536.6 329.8l8-5.2-5.5-5.2-8 5.2zM523 329.7l8.1-5.1-5.5-5.2-8 5.1zM528.5 335l8.1-5.2-5.5-5.2-8.1 5.1z" fill="#06603c" stroke="#06603c" stroke-width=".6"/>
<path d="M501.3 230.5l.2-.2-.1-.1zM501.3 230.5l.1-.3-.3 0zM488.4 234.9l3.6-6.7-2.9-.5zM488.4 234.9l.7-7.2-4.1-.4zM475.5 236.7l5.5-9.7-4.6-.2zM475.5 236.7l.9-9.9-4.7 .1zM462.6 235.7l5.3-8.6-4.5 .3zM462.6 235.7l.8-8.3-3.4 .5zM449.6 231.7l1.6-2.4-1.4 .3zM449.6 231.7l.2-2.1-.7 .2zM506.6 239.9l3.3-6.9-2.6-.9zM506.6 239.9l.7-7.8-5.8-1.8-.2 .2zM493.6 245.9l7.7-15.4-.2-.3-5.8-1.5zM493.6 245.9l1.7-17.2-3.3-.5-3.6 6.7zM480.7 249.4l7.7-14.5-3.4-7.6-2.2-.3zM480.7 249.4l2.1-22.4-1.8 0-5.5 9.7zM468.2 249.6l7.3-12.9-3.8-9.8-1.8 0-2 22.7zM467.9 249.6l2-22.7-2 .2-5.3 8.6 5 13.9zM454.9 248.1l7.7-12.4-2.6-7.8-3.3 .4zM454.9 248.1l1.8-19.8-5.5 1-1.6 2.4zM511.8 248.6l5.6-12.2-4.2-2zM511.8 248.6l1.4-14.2-3.3-1.4-3.3 6.9zM499.9 253.9l6.7-14-5.3-9.4-2.2 23.1zM499.1 253.6l2.2-23.1-7.7 15.4 3.8 7.3zM490.8 251.5l2.8-5.6-5.2-11-1.5 15.9zM486.9 250.8l1.5-15.9-7.7 14.5 .3 .6zM480.4 250l.3-.6-5.2-12.7-1.1 12.8zM474.4 249.5l1.1-12.8-7.3 12.9zM467.6 249.6l-5-13.9-1.2 14.2zM461.4 249.9l1.2-14.2-7.7 12.4 .9 2.4zM530.2 245.4l.5-1.1-.3-.2zM530.2 245.4l.2-1.3-2.7-1.8zM517.1 256.6l7.2-16.4-5.3-3zM517.1 256.6l1.9-19.4-1.6-.8-5.6 12.2zM508 256.9l3.8-8.3-5.2-8.7-1.5 15.8zM505.1 255.7l1.5-15.8-6.7 14zM497.4 253.2l-3.8-7.3-.5 6.1zM493.1 252l.5-6.1-2.8 5.6zM481 250l-.3-.6 0 .6zM480.7 250l0-.6-.3 .6zM535.6 251.3l1-2.5-.7-.6zM535.6 251.3l.3-3.1-5.2-3.9-.5 1.1zM522.4 263.7l7.8-18.3-2.5-3.1-3-1.9zM522.4 263.7l2.3-23.3-.4-.2-7.2 16.4zM515.4 260.5l1.7-3.9-5.3-8-.9 9.6zM510.9 258.2l.9-9.6-3.8 8.3zM541 256.3l1.1-2.7-.8-.7zM541 256.3l.3-3.4-4.7-4.1-1 2.5zM528.3 268.8l7.3-17.5-5.4-5.9-2.3 23.1zM527.9 268.5l2.3-23.1-7.8 18.3 1.8 2.2zM522.1 264.4l.3-.7-5.3-7.1-.4 4.5zM516.7 261.1l.4-4.5-1.7 3.9zM546.4 260.7l.8-2-.5-.6zM546.4 260.7l.3-2.6-4.6-4.5-1.1 2.7zM534.1 273.5l6.9-17.2-5.4-5-2.2 21.6zM533.4 272.9l2.2-21.6-7.3 17.5zM524.2 265.9l-1.8-2.2 0 .9zM522.4 264.6l0-.9-.3 .7zM551.9 264.3l.2-.3-.1-.1zM551.9 264.3l.1-.4-4.8-5.2-.8 2zM539.4 278.5l7-17.8-5.4-4.4-2.2 21.6zM538.8 277.9l2.2-21.6-6.9 17.2zM552.1 264l-.2 .3 .7 .4zM544.4 283.7l7.5-19.4-5.5-3.6-2.3 22.7zM544.1 283.4l2.3-22.7-7 17.8zM549.5 288.2l7.1-18.6-4-4.9-.7-.4zM549.5 288.2l2.4-23.9-7.5 19.4 2.4 2.9zM555 290.8l5.8-15.3-3.7-5.1zM555 290.8l2.1-20.4-.5-.8-7.1 18.6zM549.1 289.3l.4-1.1-2.7-1.6zM560.6 292.6l4.1-11-2.5-4zM560.6 292.6l1.6-15-1.4-2.1-5.8 15.3zM553.4 295.1l1.6-4.3-5.5-2.6-.2 1.4zM549.3 289.6l.2-1.4-.4 1.1zM557.4 301.2l3.2-8.6-5.6-1.8-.6 5.8zM554.4 296.6l.6-5.8-1.6 4.3z" fill="#0a9632" stroke="#0a9632" stroke-width=".6"/>
<path d="M490.9 209.5l2.6-4.7-2.1-.3zM490.9 209.5l.5-5-2.9-.1zM478 210.6l4-6.6-3.4-.1zM478 210.6l.6-6.7-3.2 .3zM465.1 208.9l2.7-4.2-2.4 .3zM465.1 208.9l.3-3.9-1.6 .3zM509 215.1l3-5.8-2.3-.8zM509 215.1l.7-6.6-5.3-1.5zM496.1 220.4l7.2-13.7-5.7-1.3zM496.1 220.4l1.5-15-4.1-.6-2.6 4.7zM483.2 223.1l7.7-13.6-2.4-5.1-3.5-.4zM483.2 223.1l1.8-19.1-3 0-4 6.6zM470.3 223.2l7.7-12.6-2.6-6.4-3.3 .1zM470.3 223.2l1.8-18.9-4.3 .4-2.7 4.2zM457.4 220.4l7.7-11.5-1.3-3.6-5.1 .7zM457.4 220.4l1.3-14.4-5.6 1.2zM444.4 214.4l4.7-6.3-4.3 1.1zM444.4 214.4l.4-5.2-1.8 .5zM514.3 223.8l5.4-11.4-4.1-1.8zM514.3 223.8l1.3-13.2-3.6-1.3-3 5.8zM501.5 230.3l7.5-15.2-4.6-8.1-.7-.2-2.3 23.4zM501.4 230.2l2.3-23.4-.4-.1-7.2 13.7 5 9.8zM492 228.2l4.1-7.8-5.2-10.9-1.8 18.2zM489.1 227.7l1.8-18.2-7.7 13.6 1.8 4.2zM481 227l2.2-3.9-5.2-12.5-1.6 16.2zM476.4 226.8l1.6-16.2-7.7 12.6 1.4 3.7zM467.9 227.1l2.4-3.9-5.2-14.3-1.7 18.5zM463.4 227.4l1.7-18.5-7.7 11.5 2.6 7.5zM532.7 221.3l.5-1.3-.4-.2zM532.7 221.3l.1-1.5-2.9-1.8zM451.2 229.3l6.2-8.9-4.3-13.2-1.3 .2-2 22.2zM449.8 229.6l2-22.2-2.7 .7-4.7 6.3 4.7 15.4zM519.6 231.7l7.2-15.7-5.4-2.8zM519.6 231.7l1.8-18.5-1.7-.8-5.4 11.4zM509.9 233l4.4-9.2-5.3-8.7-1.7 17zM507.3 232.1l1.7-17-7.5 15.2zM501.1 230.2l-5-9.8-.8 8.3zM495.3 228.7l.8-8.3-4.1 7.8zM485 227.3l-1.8-4.2-.4 3.9zM482.8 227l.4-3.9-2.2 3.9zM538 227.2l1.3-2.8-.9-.7zM538 227.2l.4-3.5-5.2-3.7-.5 1.3zM471.7 226.9l-1.4-3.7-.4 3.7zM469.9 226.9l.4-3.7-2.4 3.9zM460 227.9l-2.6-7.5-.7 7.9zM456.7 228.3l.7-7.9-6.2 8.9zM524.9 238.9l7.8-17.6-2.8-3.3-2.7-1.7zM524.9 238.9l2.3-22.6-.4-.3-7.2 15.7zM517.4 236.4l2.2-4.7-5.3-7.9-1.1 10.6zM513.2 234.4l1.1-10.6-4.4 9.2zM543.4 232.4l1.5-3.4-1-.9zM543.4 232.4l.5-4.3-4.6-3.7-1.3 2.8zM530.7 244.3l7.3-17.1-5.3-5.9-2.3 22.8zM530.4 244.1l2.3-22.8-7.8 17.6 2.8 3.4zM524.3 240.2l.6-1.3-5.3-7.2-.6 5.5zM519 237.2l.6-5.5-2.2 4.7zM548.9 236.9l1.2-3-.8-.8zM548.9 236.9l.4-3.8-4.4-4.1-1.5 3.4zM536.6 248.8l6.8-16.4-5.4-5.2-2.1 21zM535.9 248.2l2.1-21-7.3 17.1zM527.7 242.3l-2.8-3.4-.2 1.5zM524.7 240.4l.2-1.5-.6 1.3zM554.4 240.8l.7-1.7-.5-.6zM554.4 240.8l.2-2.3-4.5-4.6-1.2 3zM542.1 253.6l6.8-16.7-5.5-4.5-2.1 20.5zM541.3 252.9l2.1-20.5-6.8 16.4zM555.1 239.1l-.7 1.7 4.2 2.4zM547.2 258.7l7.2-17.9-5.5-3.9-2.2 21.2zM546.7 258.1l2.2-21.2-6.8 16.7zM552.1 264l7.6-19.6-1.1-1.2-4.2-2.4-2.4 23.1zM552 263.9l2.4-23.1-7.2 17.9zM557.5 267.2l6.6-17.1-4.3-5.5zM557.5 267.2l2.3-22.6-.1-.2-7.6 19.6 .5 .7zM563 269.4l5.2-13.5-3.2-4.6zM563 269.4l2-18.1-.9-1.2-6.6 17.1zM556.6 269.6l.9-2.4-4.9-2.5zM568.7 270.8l3.3-8.8-2-3.2zM568.7 270.8l1.3-12-1.8-2.9-5.2 13.5zM560.8 275.5l2.2-6.1-5.5-2.2-.4 3.2zM557.1 270.4l.4-3.2-.9 2.4zM564.7 281.6l4-10.8-5.7-1.4-.8 8.2zM562.2 277.6l.8-8.2-2.2 6.1z" fill="#0ccb0c" stroke="#0ccb0c" stroke-width=".6"/>
<path d="M493.3 185.1l2.2-3.6-1.8-.2zM493.3 185.1l.4-3.8-2.2-.1zM480.4 185.6l3-4.6-2.5 0zM480.4 185.6l.5-4.6-2.2 .2zM467.5 183.3l.7-1-.6 .1zM467.5 183.3l.1-.9-.4 .1zM511.5 191.2l3-5.6-2.3-.8zM511.5 191.2l.7-6.4-5.2-1.3zM498.5 195.8l7.1-12.7-5.6-1.1zM498.5 195.8l1.5-13.8-4.5-.5-2.2 3.6zM485.6 197.9l7.7-12.8-1.8-3.9-4.1-.3zM485.6 197.9l1.8-17-4 .1-3 4.6zM472.7 197.3l7.7-11.7-1.7-4.4-4.4 .3zM472.7 197.3l1.6-15.8-6.1 .8-.7 1zM459.8 193.8l7.7-10.5-.3-.8-6.4 1.1zM459.8 193.8l1-10.2-4.1 1zM446.8 187.2l0-.1 0 0zM446.8 187.2l0-.1 0 .1zM516.7 199.7l5.6-11.1-4.2-1.8zM516.7 199.7l1.4-12.9-3.6-1.2-3 5.6zM503.8 205.8l7.7-14.6-4.5-7.7-.9-.3zM503.8 205.8l2.3-22.6-.5-.1-7.1 12.7zM493.5 204.8l5-9-5.2-10.7-1.9 19.4zM491.4 204.5l1.9-19.4-7.7 12.8 2.9 6.5zM482 204l3.6-6.1-5.2-12.3-1.8 18.3zM478.6 203.9l1.8-18.3-7.7 11.7 2.7 6.9zM467.8 204.7l4.9-7.4-5.2-14-2.1 21.7zM465.4 205l2.1-21.7-7.7 10.5 4 11.5zM535.1 197.9l.9-2-.6-.4zM535.1 197.9l.3-2.4-4.4-2.6zM522 207.6l7.5-15.5-5.6-2.8zM522 207.6l1.9-18.3-1.6-.7-5.6 11.1zM452.1 204.2l7.7-10.4-3.1-9.2-2.8 .6zM452.1 204.2l1.8-19-7.1 1.9 0 .1zM439 196.2l7.8-9 0 0-7.1 2.2zM439 196.2l.7-6.8-2.4 .8zM512 209.3l4.7-9.6-5.2-8.5-1.8 17.3zM509.7 208.5l1.8-17.3-7.7 14.6 .6 1.2zM503.3 206.7l.5-.9-5.3-10-.9 9.6zM497.6 205.4l.9-9.6-5 9zM488.5 204.4l-2.9-6.5-.6 6.1zM485 204l.6-6.1-3.6 6.1zM475.4 204.2l-2.7-6.9-.6 7zM472.1 204.3l.6-7-4.9 7.4zM540.5 203.8l1.6-3.7-1.1-.9zM540.5 203.8l.5-4.6-5-3.3-.9 2zM463.8 205.3l-4-11.5-1.1 12.2zM458.7 206l1.1-12.2-7.7 10.4 1 3zM527.3 214.8l7.8-16.9-4.1-5-1.3-.7zM527.3 214.8l2.4-22.6-.2-.1-7.5 15.5zM449.1 208.1l3-3.9-5.3-17-2 22zM444.8 209.2l2-22-7.8 9 4 13.5zM519.7 212.4l2.3-4.8-5.3-7.9-1.1 10.9zM515.6 210.6l1.1-10.9-4.7 9.6zM504.4 207l-.6-1.2-.1 1zM503.7 206.8l.1-1-.5 .9zM545.9 209.1l1.9-4.5-1.3-1.1zM545.9 209.1l.6-5.6-4.4-3.4-1.6 3.7zM533.2 220l7.3-16.2-5.4-5.9-2.3 21.9zM532.8 219.8l2.3-21.9-7.8 16.9 2.6 3.2zM453.1 207.2l-1-3-.3 3.2zM451.8 207.4l.3-3.2-3 3.9zM526.8 216l.5-1.2-5.3-7.2-.6 5.6zM521.4 213.2l.6-5.6-2.3 4.8zM551.3 213.7l1.8-4.3-1.2-1.2zM551.3 213.7l.6-5.5-4.1-3.6-1.9 4.5zM539.3 224.4l6.6-15.3-5.4-5.3-2.1 19.9zM538.4 223.7l2.1-19.9-7.3 16.2zM529.9 218l-2.6-3.2-.1 1.5zM527.2 216.3l.1-1.5-.5 1.2zM556.8 217.7l1.4-3.4-.9-.9zM556.8 217.7l.5-4.3-4.2-4-1.8 4.3zM544.9 229l6.4-15.3-5.4-4.6-2 19zM543.9 228.1l2-19-6.6 15.3zM562.3 221l.6-1.4-.4-.5zM562.3 221l.2-1.9-4.3-4.8-1.4 3.4zM550.1 233.9l6.7-16.2-5.5-4-2 19.4zM549.3 233.1l2-19.4-6.4 15.3zM562.9 219.6l-.6 1.4 2.9 1.4zM555.1 239.1l7.2-18.1-5.5-3.3-2.2 20.8zM554.6 238.5l2.2-20.8-6.7 16.2zM559.9 243.9l7.5-18.9-2.2-2.6-2.9-1.4zM559.9 243.9l2.4-22.9-7.2 18.1 3.5 4.1zM565.5 246.4l6.1-15.8-3.9-5.2zM565.5 246.4l2.2-21-.3-.4-7.5 18.9zM559.7 244.4l.2-.5-1.3-.7zM571.1 248.2l4.5-11.7-2.8-4.1zM571.1 248.2l1.7-15.8-1.2-1.8-6.1 15.8zM564.1 250.1l1.4-3.7-5.6-2.5-.1 .7zM559.8 244.6l.1-.7-.2 .5zM576.8 249.2l2.5-6.6-1.5-2.5zM576.8 249.2l1-9.1-2.2-3.6-4.5 11.7zM568.2 255.9l2.9-7.7-5.6-1.8-.5 4.9zM565 251.3l.5-4.9-1.4 3.7zM572 262l4.8-12.8-5.7-1-1.1 10.6zM570 258.8l1.1-10.6-2.9 7.7z" fill="#00ff00" stroke="#00ff00" stroke-width=".6"/>
<path d="M495.8 161.8l2.4-3.8-2-.2zM495.8 161.8l.4-4-2.3 0zM482.9 161.8l2.7-4-2.3 .1zM482.9 161.8l.4-3.9-1.9 .2zM513.9 168.2l3.6-6.4-2.8-.9zM513.9 168.2l.8-7.3-5.9-1.3zM501 172.3l7.5-12.8-6-1.1zM501 172.3l1.5-13.9-4.3-.4-2.4 3.8zM488.1 173.8l7.7-12-1.9-4-4.1-.2zM488.1 173.8l1.7-16.2-4.2 .2-2.7 4zM475.2 172.6l7.7-10.8-1.5-3.7-4.7 .4zM475.2 172.6l1.5-14.1-6.5 1.1zM462.3 168.5l7-8.8-6.3 1.3zM462.3 168.5l.7-7.5-3 .8zM532.2 168.9l.4-.8-.3-.1zM532.2 168.9l.1-.9-1.2-.6zM519.2 176.6l6.2-11.9-4.7-1.9zM519.2 176.6l1.5-13.8-3.2-1-3.6 6.4zM506.2 182.1l7.7-13.9-5.1-8.6-.1-.1zM506.2 182.1l2.5-22.6-.2 0-7.5 12.8zM495.5 181.5l5.5-9.2-5.2-10.5-2.1 19.5zM493.7 181.3l2.1-19.5-7.7 12 3.4 7.4zM483.4 181l4.7-7.2-5.2-12-2 19.2zM480.9 181l2-19.2-7.7 10.8 3.5 8.6zM537.5 175.3l1.7-3.4-1.2-.7zM537.5 175.3l.5-4.1-5.4-3.1-.4 .8zM468.2 182.3l7-9.7-5-13-.3 0-2.3 22.8zM467.6 182.4l2.3-22.8-.6 .1-7 8.8 4.9 14zM524.5 184.3l7.7-15.4-1.1-1.5-4.6-2.2zM524.5 184.3l2-19.1-1.1-.5-6.2 11.9zM454.5 178l7.8-9.5-2.3-6.7-4 1zM454.5 178l1.5-15.2-5.7 1.8zM514.5 185.6l4.7-9-5.3-8.4-1.7 16.6zM512.2 184.8l1.7-16.6-7.7 13.9 .8 1.4zM505.6 183.1l.6-1-5.2-9.8-1 9.7zM500 182l1-9.7-5.5 9.2zM491.5 181.2l-3.4-7.4-.7 7.1zM487.4 180.9l.7-7.1-4.7 7.2zM478.7 181.2l-3.5-8.6-.9 8.9zM474.3 181.5l.9-8.9-7 9.7zM542.9 181.1l2.4-5.1-1.7-1.2zM542.9 181.1l.7-6.3-4.4-2.9-1.7 3.4zM467.2 182.5l-4.9-14-1.5 15.1zM460.8 183.6l1.5-15.1-7.8 9.5 2.2 6.6zM529.8 191.4l7.7-16.1-5.3-6.4-7.7 15.4zM446.8 187.1l7.7-9.1-4.2-13.4-1.4 .3-2.1 22.2zM446.8 187.1l2.1-22.2-4.7 1.7-2.7 2.8 5.3 17.8zM522.3 188.6l2.2-4.3-5.3-7.7-1.1 10.2zM518.1 186.8l1.1-10.2-4.7 9zM507 183.5l-.8-1.4-.1 1.1zM506.1 183.2l.1-1.1-.6 1zM548.3 186.4l2.7-6-1.9-1.6zM548.3 186.4l.8-7.6-3.8-2.8-2.4 5.1zM536 195.9l6.9-14.8-5.4-5.8-2.1 20.2zM535.4 195.5l2.1-20.2-7.7 16.1 1.2 1.5zM529.5 192.1l.3-.7-5.3-7.1-.6 5zM523.9 189.3l.6-5-2.2 4.3zM456.7 184.6l-2.2-6.6-.6 7.2zM453.9 185.2l.6-7.2-7.7 9.1zM446.8 187.2l-5.3-17.8-1.8 20zM439.7 189.4l1.8-20-7.8 7.8 3.6 13zM553.7 191l2.6-6-1.7-1.6zM553.7 191l.9-7.6-3.6-3-2.7 6zM542.1 200.1l6.2-13.7-5.4-5.3-1.9 18.1zM541 199.2l1.9-18.1-6.9 14.8zM531 192.9l-1.2-1.5-.1 .8zM529.7 192.2l.1-.8-.3 .7zM559.2 195l2.2-5.1-1.5-1.5zM559.2 195l.7-6.6-3.6-3.4-2.6 6zM547.8 204.6l5.9-13.6-5.4-4.6-1.8 17.1zM546.5 203.5l1.8-17.1-6.2 13.7zM564.7 198.5l1.5-3.6-1-1.1zM564.7 198.5l.5-4.7-3.8-3.9-2.2 5.1zM553.1 209.4l6.1-14.4-5.5-4-1.8 17.2zM551.9 208.2l1.8-17.2-5.9 13.6zM570.3 201.3l.5-1.1-.3-.3zM570.3 201.3l.2-1.4-4.3-5-1.5 3.6zM558.2 214.3l6.5-15.8-5.5-3.5-1.9 18.4zM557.3 213.4l1.9-18.4-6.1 14.4zM570.8 200.2l-.5 1.1 1.9 .8zM562.9 219.6l7.4-18.3-5.6-2.8-2.2 20.6zM562.5 219.1l2.2-20.6-6.5 15.8zM567.9 223.7l7.2-18-2.9-3.6-1.9-.8zM567.9 223.7l2.4-22.4-7.4 18.3 2.3 2.8zM573.5 225.7l5.6-14.3-3.5-5zM573.5 225.7l2.1-19.3-.5-.7-7.2 18zM567.4 225l.5-1.3-2.7-1.3zM579.2 227.1l3.8-9.9-2.3-3.6zM579.2 227.1l1.5-13.5-1.6-2.2-5.6 14.3zM571.6 230.6l1.9-4.9-5.6-2-.2 1.7zM567.7 225.4l.2-1.7-.5 1.3zM584.9 227.8l1.8-4.5-1.1-1.8zM584.9 227.8l.7-6.3-2.6-4.3-3.8 9.9zM575.6 236.5l3.6-9.4-5.7-1.4-.7 6.7zM572.8 232.4l.7-6.7-1.9 4.9zM579.3 242.6l5.6-14.8-5.7-.7-1.4 13zM577.8 240.1l1.4-13-3.6 9.4z" fill="#bfff00" stroke="#bfff00" stroke-width=".6"/>
<path d="M511.1 137.5l1.1-1.8-.8-.2zM511.1 137.5l.3-2-1.5-.1zM498.2 139.6l3.6-5.2-2.9-.3zM498.2 139.6l.7-5.5-3.3 .1zM485.4 139.1l3.5-4.8-3 .2zM485.4 139.1l.5-4.6-2.3 .3zM516.4 146.2l4.7-8.2-3.7-1.1zM516.4 146.2l1-9.3-5.2-1.2-1.1 1.8zM503.4 149.7l7.7-12.2-1.2-2.1-4.7-.8zM503.4 149.7l1.8-15.1-3.4-.2-3.6 5.2zM490.6 150.8l7.6-11.2-2.6-5.4-3.2-.1zM490.6 150.8l1.8-16.7-3.5 .2-3.5 4.8zM477.7 149.1l7.7-10-1.8-4.3-4.4 .5zM477.7 149.1l1.5-13.8-6.4 1.2zM534.6 147.2l1.6-3-1.2-.6zM534.6 147.2l.4-3.6-4.9-2.2zM521.6 154.3l7.4-13.4-5.6-2.2zM521.6 154.3l1.8-15.6-2.3-.7-4.7 8.2zM508.7 159.3l7.7-13.1-5.3-8.7-7.7 12.2zM498.2 158l5.2-8.3-5.2-10.1-2 18.2zM496.2 157.8l2-18.2-7.6 11.2 3.3 7zM485.6 157.8l5-7-5.2-11.7-2.1 18.8zM483.3 157.9l2.1-18.8-7.7 10 3.7 9zM540 153.4l2.7-5.4-2-1.3zM540 153.4l.7-6.7-4.5-2.5-1.6 3zM470 158.9l7.7-9.8-4.9-12.6-.4 .1zM470 158.9l2.4-22.3-.9 .2-6.8 7.7zM526.9 161.9l7.7-14.7-4.5-5.8-.8-.4zM526.9 161.9l2.4-20.9-.3-.1-7.4 13.4zM517.5 161.8l4.1-7.5-5.2-8.1-1.7 14.7zM514.7 160.9l1.7-14.7-7.7 13.1 .1 .3zM508.5 159.5l.2-.2-5.3-9.6-.9 8.7zM502.5 158.4l.9-8.7-5.2 8.3zM493.9 157.8l-3.3-7-.8 6.8zM489.8 157.6l.8-6.8-5 7zM481.4 158.1l-3.7-9-1 9.4zM476.7 158.5l1-9.4-7.7 9.8 .2 .7zM545.3 159.2l3.5-7.2-2.5-1.8zM545.3 159.2l1-9-3.6-2.2-2.7 5.4zM469.3 159.7l.7-.8-5.3-14.4-1.7 16.5zM463 161l1.7-16.5-7.7 8.5 3 8.8zM532.6 168.1l7.4-14.7-5.4-6.2-2.3 20.8zM532.3 168l2.3-20.8-7.7 14.7 4.2 5.5zM525.4 164.7l1.5-2.8-5.3-7.6-.9 8.5zM520.7 162.8l.9-8.5-4.1 7.5zM508.8 159.6l-.1-.3 0 .2zM508.7 159.5l0-.2-.2 .2zM550.7 164.3l3.8-8-2.6-2.1zM550.7 164.3l1.2-10.1-3.1-2.2-3.5 7.2zM539.2 171.9l6.1-12.7-5.3-5.8-2 17.8zM538 171.2l2-17.8-7.4 14.7zM470.2 159.6l-.2-.7-.1 .7zM469.9 159.6l.1-.7-.7 .8zM531.1 167.4l-4.2-5.5-.4 3.3zM526.5 165.2l.4-3.3-1.5 2.8zM460 161.8l-3-8.8-1 9.8zM456 162.8l1-9.8-7.7 8.3 1 3.3zM556.1 168.9l3.7-8.1-2.5-2.2zM556.1 168.9l1.2-10.3-2.8-2.3-3.8 8zM545.3 176l5.4-11.7-5.4-5.1-1.7 15.6zM543.6 174.8l1.7-15.6-6.1 12.7zM450.3 164.6l-1-3.3-.4 3.6zM448.9 164.9l.4-3.6-5.1 5.3zM561.6 173l3.3-7.4-2.2-2.2zM561.6 173l1.1-9.6-2.9-2.6-3.7 8.1zM551 180.4l5.1-11.5-5.4-4.6-1.6 14.5zM549.1 178.8l1.6-14.5-5.4 11.7zM567.1 176.5l2.6-6-1.7-1.8zM567.1 176.5l.9-7.8-3.1-3.1-3.3 7.4zM556.3 185l5.3-12-5.5-4.1-1.5 14.5zM554.6 183.4l1.5-14.5-5.1 11.5zM572.7 179.4l1.6-3.7-1-1.2zM572.7 179.4l.6-4.9-3.6-4-2.6 6zM561.4 189.9l5.7-13.4-5.5-3.5-1.7 15.4zM559.9 188.4l1.7-15.4-5.3 12zM578.3 181.8l.3-.8-.2-.3zM578.3 181.8l.1-1.1-4.1-5-1.6 3.7zM566.2 194.9l6.5-15.5-5.6-2.9-1.9 17.3zM565.2 193.8l1.9-17.3-5.7 13.4zM578.6 181l-.3 .8 1.2 .3zM570.8 200.2l7.5-18.4-5.6-2.4-2.2 20.5zM570.5 199.9l2.2-20.5-6.5 15.5zM575.9 203.5l6.9-17-3.3-4.4-1.2-.3zM575.9 203.5l2.4-21.7-7.5 18.4 1.4 1.9zM581.6 205.1l5.1-12.9-3.2-4.6zM581.6 205.1l1.9-17.5-.7-1.1-6.9 17zM575.1 205.7l.8-2.2-3.7-1.4zM587.3 206.1l3.2-8-1.9-3.1zM587.3 206.1l1.3-11.1-1.9-2.8-5.1 12.9zM579.1 211.4l2.5-6.3-5.7-1.6-.3 2.9zM575.6 206.4l.3-2.9-.8 2.2zM593.1 206.5l.9-2.4-.5-.9zM593.1 206.5l.4-3.3-3-5.1-3.2 8zM583 217.2l4.3-11.1-5.7-1-.9 8.5zM580.7 213.6l.9-8.5-2.5 6.3zM586.7 223.3l6.4-16.8-5.8-.4-1.7 15.4zM585.6 221.5l1.7-15.4-4.3 11.1z" fill="#ffff00" stroke="#ffff00" stroke-width=".6"/>
<path d="M513.6 116.8l3.3-5-2.6-.6zM513.6 116.8l.7-5.6-4.3-.5zM500.7 118.4l5.9-8.1-4.9-.3zM500.7 118.4l1-8.4-5.2 .2zM531.7 119.8l1.7-2.8-1.2-.6zM531.7 119.8l.5-3.4-4.1-1.5zM518.8 125.2l6.8-11.1-5.3-1.6zM518.8 125.2l1.5-12.7-3.4-.7-3.3 5zM505.9 128.3l7.7-11.5-3.6-6.1-2-.3zM505.9 128.3l2.1-17.9-1.4-.1-5.9 8.1zM493 128.8l7.7-10.4-4.2-8.2-1.3 0zM493 128.8l2.2-18.6-1.5 .1-5.9 7.2zM537 126.4l3.3-6.1-2.4-1.3zM537 126.4l.9-7.4-4.5-2-1.7 2.8zM524 133l7.7-13.2-3.6-4.9-1.8-.7zM524 133l2.3-18.8-.7-.1-6.8 11.1zM512.2 135.7l6.6-10.5-5.2-8.4-2.2 18.7zM511.4 135.5l2.2-18.7-7.7 11.5 4 7.1zM501.8 134.4l4.1-6.1-5.2-9.9-1.8 15.7zM498.9 134.1l1.8-15.7-7.7 10.4 2.6 5.4zM488.9 134.3l4.1-5.5-5.2-11.3-1.9 17zM485.9 134.5l1.9-17-7.7 9.2 3.5 8.1zM542.4 132.4l4.4-8.4-3.2-2zM542.4 132.4l1.2-10.4-3.3-1.7-3.3 6.1zM529.3 140.4l7.7-14-5.3-6.6-7.7 13.2zM521.1 138l2.9-5-5.2-7.8-1.4 11.7zM517.4 136.9l1.4-11.7-6.6 10.5zM509.9 135.4l-4-7.1-.7 6.3zM505.2 134.6l.7-6.3-4.1 6.1zM495.6 134.2l-2.6-5.4-.6 5.3zM492.4 134.1l.6-5.3-4.1 5.5zM483.6 134.8l-3.5-8.1-.9 8.6zM479.2 135.3l.9-8.6-7.6 9 .3 .8zM547.7 138l5-10-3.5-2.5zM547.7 138l1.5-12.5-2.4-1.5-4.4 8.4zM536.2 144.2l6.2-11.8-5.4-6-2 17.2zM535 143.6l2-17.2-7.7 14 .8 1zM529 140.9l.3-.5-5.3-7.4-.6 5.7zM523.4 138.7l.6-5.7-2.9 5zM553.1 143l5.2-10.7-3.6-2.9zM553.1 143l1.6-13.6-2-1.4-5 10zM542.7 148l5-10-5.3-5.6-1.7 14.3zM540.7 146.7l1.7-14.3-6.2 11.8zM472.8 136.5l-.3-.8-.1 .9zM472.4 136.6l.1-.9-1 1.1zM530.1 141.4l-.8-1 0 .6zM529.3 141l0-.6-.3 .5zM558.5 147.6l5.1-10.8-3.5-3.1zM558.5 147.6l1.6-13.9-1.8-1.4-5.2 10.7zM548.8 152l4.3-9-5.4-5-1.4 12.2zM546.3 150.2l1.4-12.2-5 10zM564 151.6l4.6-10.2-3.1-3zM564 151.6l1.5-13.2-1.9-1.6-5.1 10.8zM554.5 156.3l4-8.7-5.4-4.6-1.2 11.2zM551.9 154.2l1.2-11.2-4.3 9zM569.5 155l3.9-8.7-2.6-2.7zM569.5 155l1.3-11.4-2.2-2.2-4.6 10.2zM559.8 160.8l4.2-9.2-5.5-4-1.2 11zM557.3 158.6l1.2-11-4 8.7zM575.1 158l2.9-6.7-1.9-2.1zM575.1 158l1-8.8-2.7-2.9-3.9 8.7zM564.9 165.6l4.6-10.6-5.5-3.4-1.3 11.8zM562.7 163.4l1.3-11.8-4.2 9.2zM580.7 160.4l1.6-3.9-1-1.3zM580.7 160.4l.6-5.2-3.3-3.9-2.9 6.7zM569.7 170.5l5.4-12.5-5.6-3-1.5 13.7zM568 168.7l1.5-13.7-4.6 10.6zM586.4 162.3l.1-.4-.1-.1zM586.4 162.3l0-.5-4.1-5.3-1.6 3.9zM574.3 175.7l6.4-15.3-5.6-2.4-1.8 16.5zM573.3 174.5l1.8-16.5-5.4 12.5zM586.5 161.9l-.1 .4 .5 .1zM578.6 181l7.8-18.7-5.7-1.9-2.3 20.3zM578.4 180.7l2.3-20.3-6.4 15.3zM584 183.5l6.5-16-3.6-5.1-.5-.1zM584 183.5l2.4-21.2-7.8 18.7 .9 1.1zM589.7 184.7l4.6-11.5-2.8-4.3zM589.7 184.7l1.8-15.8-1-1.4-6.5 16zM582.8 186.5l1.2-3-4.5-1.4zM595.5 185.3l2.5-6.3-1.5-2.5zM595.5 185.3l1-8.8-2.2-3.3-4.6 11.5zM586.7 192.2l3-7.5-5.7-1.2-.5 4.1zM583.5 187.6l.5-4.1-1.2 3zM601.3 185.3l.2-.2-.1-.2zM601.3 185.3l.1-.4-3.4-5.9-2.5 6.3zM590.5 198.1l5-12.8-5.8-.6-1.1 10.3zM588.6 195l1.1-10.3-3 7.5zM594 204.1l7.3-18.8-5.8 0-2 17.9zM593.5 203.2l2-17.9-5 12.8z" fill="#ff8000" stroke="#ff8000" stroke-width=".6"/>
<path d="M528.9 93.4l2.2-3.5-1.7-.7zM528.9 93.4l.5-4.2-4.4-1.2zM516 97.1l6.7-9.7-5.3-1.1zM516 97.1l1.4-10.8-4.6-.5-2 2.7zM534.1 100.1l4.4-7.2-3.2-1.5zM534.1 100.1l1.2-8.7-4.2-1.5-2.2 3.5zM521.2 105.1l7.7-11.7-3.9-5.4-1.5-.4zM521.2 105.1l2.3-17.5-.8-.2-6.7 9.7zM508.3 107.9l7.7-10.8-5.2-8.6-7.7 9.9zM539.4 106.4l5.8-10.1-4.2-2.3zM539.4 106.4l1.6-12.4-2.5-1.1-4.4 7.2zM526.5 112.7l7.6-12.6-5.2-6.7-7.7 11.7zM516.9 111.8l4.3-6.7-5.2-8-1.7 14.1zM514.3 111.2l1.7-14.1-7.7 10.8 1.7 2.8zM506.6 110.3l1.7-2.4-5.2-9.5-1.4 11.6zM501.7 110l1.4-11.6-7.6 9.7 1 2.1zM544.8 112.3l6.6-12.2-4.8-3zM544.8 112.3l1.8-15.2-1.4-.8-5.8 10.1zM533.4 117l6-10.6-5.3-6.3-1.9 16.3zM532.2 116.4l1.9-16.3-7.6 12.6 1.6 2.2zM525.6 114.1l.9-1.4-5.3-7.6-.9 7.4zM520.3 112.5l.9-7.4-4.3 6.7zM510 110.7l-1.7-2.8-.3 2.5zM508 110.4l.3-2.5-1.7 2.4zM496.5 110.2l-1-2.1-.3 2.1zM495.2 110.2l.3-2.1-1.8 2.2zM550.1 117.6l7.1-13.5-5-3.6zM550.1 117.6l2.1-17.1-.8-.4-6.6 12.2zM540.3 120.3l4.5-8-5.4-5.9-1.5 12.6zM537.9 119l1.5-12.6-6 10.6zM528.1 114.9l-1.6-2.2-.2 1.5zM526.3 114.2l.2-1.5-.9 1.4zM555.5 122.5l7.1-14.2-4.9-3.9zM555.5 122.5l2.2-18.1-.5-.3-7.1 13.5zM546.8 124l3.3-6.4-5.3-5.3-1.2 9.7zM543.6 122l1.2-9.7-4.5 8zM560.9 126.9l6.9-14.1-4.7-4.1zM560.9 126.9l2.2-18.2-.5-.4-7.1 14.2zM552.7 128l2.8-5.5-5.4-4.9-.9 7.9zM549.2 125.5l.9-7.9-3.3 6.4zM566.4 130.8l6.3-13.4-4.2-4.1zM566.4 130.8l2.1-17.5-.7-.5-6.9 14.1zM558.3 132.3l2.6-5.4-5.4-4.4-.8 6.9zM554.7 129.4l.8-6.9-2.8 5.5zM571.9 134.3l5.5-12.1-3.6-3.8zM571.9 134.3l1.9-15.9-1.1-1-6.3 13.4zM563.6 136.8l2.8-6-5.5-3.9-.8 6.8zM560.1 133.7l.8-6.8-2.6 5.4zM577.5 137.2l4.4-10-2.9-3.3zM577.5 137.2l1.5-13.3-1.6-1.7-5.5 12.1zM568.6 141.4l3.3-7.1-5.5-3.5-.9 7.6zM565.5 138.4l.9-7.6-2.8 6zM583.1 139.6l3.2-7.3-2.1-2.5zM583.1 139.6l1.1-9.8-2.3-2.6-4.4 10zM573.4 146.3l4.1-9.1-5.6-2.9-1.1 9.3zM570.8 143.6l1.1-9.3-3.3 7.1zM588.7 141.5l1.7-3.9-1-1.5zM588.7 141.5l.7-5.4-3.1-3.8-3.2 7.3zM578 151.3l5.1-11.7-5.6-2.4-1.4 12zM576.1 149.2l1.4-12-4.1 9.1zM590.4 137.6l-1.7 3.9 5.7 1.5zM582.3 156.5l6.4-15-5.6-1.9-1.8 15.6zM581.3 155.2l1.8-15.6-5.1 11.7zM586.5 161.9l7.9-18.9 0 0-5.7-1.5-2.3 20.3zM586.4 161.8l2.3-20.3-6.4 15zM592.1 163.6l6.2-15.1-3.9-5.5zM592.1 163.6l2.3-20.6 0 0-7.9 18.9 .4 .5zM597.9 164.4l4.1-10.2-2.5-3.9zM597.9 164.4l1.6-14.1-1.2-1.8-6.2 15.1zM590.5 167.5l1.6-3.9-5.2-1.2zM603.7 164.7l1.8-4.6-1.1-1.8zM603.7 164.7l.7-6.4-2.4-4.1-4.1 10.2zM594.3 173.2l3.6-8.8-5.8-.8-.6 5.3zM591.5 168.9l.6-5.3-1.6 3.9zM605.5 160.1l-1.8 4.6 4.2-.2zM598 179l5.7-14.3-5.8-.3-1.4 12.1zM596.5 176.5l1.4-12.1-3.6 8.8zM601.5 185.1l7.4-19-1-1.6-4.2 .2-2.3 20.2zM601.4 184.9l2.3-20.2-5.7 14.3z" fill="#ff0000" stroke="#ff0000" stroke-width=".6"/>
<path d="M544.2 69.3l.5-.7-.4-.1zM544.2 69.3l.1-.8-1.6-.8zM531.3 75l6.4-9.6-4.8-1.9zM531.3 75l1.6-11.5-3-.8-3.8 5.4zM549.5 74.6l1.5-2.4-1.1-.7zM549.5 74.6l.4-3.1-5.2-2.9-.5 .7zM536.5 81.4l7.7-12.1-1.5-1.6-4-1.9zM536.5 81.4l2.2-15.6-1-.4-6.4 9.6zM523.6 86.1l7.7-11.1-5.2-6.9-7.7 10.3zM554.9 79.5l1.9-3.4-1.3-1.1zM554.9 79.5l.6-4.5-4.5-2.8-1.5 2.4zM541.8 87.4l7.7-12.8-5.3-5.3-7.7 12.1zM531.1 89.9l5.4-8.5-5.2-6.4-1.9 14.2zM529.4 89.2l1.9-14.2-7.7 11.1 1.4 1.9zM522.7 87.4l.9-1.3-5.2-7.7-1 7.9zM517.4 86.3l1-7.9-5.6 7.4zM560.2 83.9l2.1-3.8-1.4-1.1zM560.2 83.9l.7-4.9-4.1-2.9-1.9 3.4zM547.1 93l7.8-13.5-5.4-4.9-7.7 12.8zM538.5 92.9l3.3-5.5-5.3-6-1.2 10zM535.3 91.4l1.2-10-5.4 8.5zM525 88l-1.4-1.9-.1 1.5zM523.5 87.6l.1-1.5-.9 1.3zM565.7 87.9l1.8-3.5-1.2-1.1zM565.7 87.9l.6-4.6-4-3.2-2.1 3.8zM552.5 98.1l7.7-14.2-5.3-4.4-7.8 13.5zM545.2 96.3l1.9-3.3-5.3-5.6-.8 6.6zM541 94l.8-6.6-3.3 5.5zM571.1 91.5l1.4-2.6-.9-.9zM571.1 91.5l.5-3.5-4.1-3.6-1.8 3.5zM557.9 102.8l7.8-14.9-5.5-4-7.7 14.2zM551.4 100.1l1.1-2-5.4-5.1-.5 4.1zM546.6 97.1l.5-4.1-1.9 3.3zM576.6 94.7l.6-1.2-.4-.4zM576.6 94.7l.2-1.6-4.3-4.2-1.4 2.6zM563.3 107l7.8-15.5-5.4-3.6-7.8 14.9zM557.2 104.1l.7-1.3-5.4-4.7-.3 2.4zM552.2 100.5l.3-2.4-1.1 2zM577.2 93.5l-.6 1.2 3.4 1.7zM568.8 110.8l7.8-16.1-5.5-3.2-7.8 15.5zM562.6 108.3l.7-1.3-5.4-4.2-.2 1.6zM557.7 104.4l.2-1.6-.7 1.3zM574.3 114.1l7.5-15.8-1.8-1.9-3.4-1.7zM574.3 114.1l2.3-19.4-7.8 16.1zM567.8 112.8l1-2-5.5-3.8-.2 1.7zM563.1 108.7l.2-1.7-.7 1.3zM579.8 117l6.4-13.8-4.2-4.7zM579.8 117l2.2-18.5-.2-.2-7.5 15.8zM572.7 117.4l1.6-3.3-5.5-3.3-.3 2.5zM568.5 113.3l.3-2.5-1 2zM585.4 119.4l5-11.2-3.2-3.9zM585.4 119.4l1.8-15.1-1-1.1-6.4 13.8zM577.4 122.2l2.4-5.2-5.5-2.9-.5 4.3zM573.8 118.4l.5-4.3-1.6 3.3zM591.1 121.3l3.5-7.9-2.2-2.9zM591.1 121.3l1.3-10.8-2-2.3-5 11.2zM581.9 127.2l3.5-7.8-5.6-2.4-.8 6.9zM579 123.9l.8-6.9-2.4 5.2zM596.8 122.8l1.7-4.1-1.1-1.5zM596.8 122.8l.6-5.6-2.8-3.8-3.5 7.9zM586.3 132.3l4.8-11-5.7-1.9-1.2 10.4zM584.2 129.8l1.2-10.4-3.5 7.8zM598.5 118.7l-1.7 4.1 5.2 .9zM590.4 137.6l6.4-14.8-5.7-1.5-1.7 14.8zM589.4 136.1l1.7-14.8-4.8 11zM594.4 143l8-18.8-.4-.5-5.2-.9zM594.4 143l2.4-20.2-6.4 14.8 4 5.4zM600.2 143.9l5.9-14.2-3.6-5.4zM600.2 143.9l2.3-19.6-.1-.1-8 18.8zM594.4 143l0 0 0 0zM606 144.3l3.6-8.8-2.1-3.6zM606 144.3l1.5-12.4-1.4-2.2-5.9 14.2zM598.3 148.5l1.9-4.6-5.8-.9 0 0zM594.4 143l0 0 0 0zM611.9 144.2l1.2-2.9-.7-1.2zM611.9 144.2l.5-4.1-2.8-4.6-3.6 8.8zM602 154.2l4-9.9-5.8-.4-.7 6.4zM599.5 150.3l.7-6.4-1.9 4.6zM613.1 141.3l-1.2 2.9 2.6-.3zM605.5 160.1l6.4-15.9-5.9 .1-1.6 14zM604.4 158.3l1.6-14-4 9.9zM609.6 164.4l6.8-17.1-1.9-3.4-2.6 .3zM609.6 164.4l2.3-20.2-6.4 15.9 2.4 4.4zM608.9 166.1l.7-1.7-1.7 .1z" fill="#c80000" stroke="#c80000" stroke-width=".6"/>
<path d="M546.6 52.2l7.6-11.7-5.3-4.6-7.6 10.9zM551.9 57.1l7.7-12.3-5.4-4.3-7.6 11.7zM538.9 63.7l7.7-11.5-5.3-5.4-7.6 10.8zM557.2 61.7l7.7-13.1-5.3-3.8-7.7 12.3zM544.7 68.6l7.2-11.5-5.3-4.9-2.3 16.3zM544.3 68.5l2.3-16.3-7.7 11.5 3.8 4zM537.7 65.4l1.2-1.7-5.2-6.1-.8 5.9zM532.9 63.5l.8-5.9-3.8 5.1zM562.6 65.9l7.7-13.7-5.4-3.6-7.7 13.1zM551 72.2l6.2-10.5-5.3-4.6-2 14.4zM549.9 71.5l2-14.4-7.2 11.5zM542.7 67.7l-3.8-4-.2 2.1zM538.7 65.8l.2-2.1-1.2 1.7zM568 69.6l7.8-14.3-5.5-3.1-7.7 13.7zM556.8 76.1l5.8-10.2-5.4-4.2-1.7 13.3zM555.5 75l1.7-13.3-6.2 10.5zM573.5 73l7.8-14.9-5.5-2.8-7.8 14.3zM562.3 80.1l5.7-10.5-5.4-3.7-1.7 13.1zM560.9 79l1.7-13.1-5.8 10.2zM579 76l7.8-15.5-5.5-2.4-7.8 14.9zM567.5 84.4l6-11.4-5.5-3.4-1.7 13.7zM566.3 83.3l1.7-13.7-5.7 10.5zM584.5 78.6l7.9-16-5.6-2.1-7.8 15.5zM572.5 88.9l6.5-12.9-5.5-3-1.9 15zM571.6 88l1.9-15-6 11.4zM590.1 80.8l7.9-16.6-5.6-1.6-7.9 16zM577.2 93.5l7.3-14.9-5.5-2.6-2.2 17.1zM576.8 93.1l2.2-17.1-6.5 12.9zM595.7 82.6l8-17.1-5.7-1.3-7.9 16.6zM582.2 97.5l7.9-16.7-5.6-2.2zM582.2 97.5l2.3-18.9-7.3 14.9 2.8 2.9zM601.4 84l8.1-17.6-5.8-.9-8 17.1zM587.8 99.8l7.9-17.2-5.6-1.8-7.9 16.7zM581.8 98.3l.4-.8-2.2-1.1zM607.2 85l8.1-18.1-5.8-.5-8.1 17.6zM593.4 101.7l8-17.7-5.7-1.4-7.9 17.2zM586.2 103.2l1.6-3.4-5.6-2.3-.2 1zM582 98.5l.2-1-.4 .8zM613 85.5l8.1-18.4-5.8-.2-8.1 18.1zM599.1 103.1l8.1-18.1-5.8-1-8 17.7zM590.4 108.2l3-6.5-5.6-1.9-.6 4.5zM587.2 104.3l.6-4.5-1.6 3.4zM618.9 85.7l8.1-17.6-5.9-1-8.1 18.4zM604.9 104.1l8.1-18.6-5.8-.5-8.1 18.1zM594.6 113.4l4.5-10.3-5.7-1.4-1 8.8zM592.4 110.5l1-8.8-3 6.5zM624.8 85.4l8.1-13-5.9-4.3-8.1 17.6zM610.7 104.7l8.2-19-5.9-.2-8.1 18.6zM598.5 118.7l6.4-14.6-5.8-1-1.7 14.1zM597.4 117.2l1.7-14.1-4.5 10.3zM630.8 84.7l8-8-5.9-4.3-8.1 13zM616.6 104.8l8.2-19.4-5.9 .3-8.2 19zM602.5 123.8l8.2-19.1-5.8-.6zM602.5 123.8l2.4-19.7-6.4 14.6 3.5 5zM636.8 85.2l7.9-4.2-5.9-4.3-8 8zM622.5 104.4l8.3-19.7-6 .7-8.2 19.4zM608.4 124.3l8.2-19.5-5.9-.1-8.2 19.1zM602.4 124.2l.1-.4-.5-.1zM642.8 89.6l7.9-4.2-6-4.4-7.9 4.2zM628.5 103.6l8.3-18.4-6-.5-8.3 19.7zM614.2 124.3l8.3-19.9-5.9 .4-8.2 19.5zM606.1 129.7l2.3-5.4-5.9-.5 0 .5zM602.5 124.3l0-.5-.1 .4zM634.6 102.3l8.2-12.7-6-4.4-8.3 18.4zM620.2 123.8l8.3-20.2-6 .8-8.3 19.9zM609.6 135.5l4.6-11.2-5.8 0-.9 7.6zM607.5 131.9l.9-7.6-2.3 5.4zM626.2 122.9l8.4-20.6-6.1 1.3-8.3 20.2zM613.1 141.3l7.1-17.5-6 .5-1.8 15.8zM612.4 140.1l1.8-15.8-4.6 11.2zM617.9 143.5l8.3-20.6-6 .9zM617.9 143.5l2.3-19.7-7.1 17.5 1.4 2.6zM616.4 147.3l1.5-3.8-3.4 .4z" fill="#8c0000" stroke="#8c0000" stroke-width=".6"/>
<path class="m" d="M528.5 335l-5.5-5.3-5.4-5.2-5.4-5.2-5.4-5.2-5.3-5.1-5.3-5.1-5.2-5-5.2-5-5.2-5-5.1-4.9-5.1-4.9-5.1-4.9-5.1-10.6-5.3-15.5-5.3-16.4-5.2-17.3-5.4-18.2-5.3-19M536.6 329.8l-5.5-5.2-5.5-5.2-5.4-5.2-5.4-5.1-5.3-5.1-5.3-5.1-5.3-5-5.2-5-5.2-4.9-5.1-4.9-5.2-4.9-5.1-10.4-5.3-13.6-5.2-14.5-5.2-15.3-5.3-16.2-5.3-17-5.3-17.8M544.6 324.6l-5.5-5.2-5.5-5.1-5.4-5.2-5.4-5.1-5.4-5-5.3-5.1-5.3-4.9-5.2-5-5.2-4.9-5.2-6.8-5.2-11-5.3-11.9-5.2-12.7-5.2-13.5-5.2-14.3-5.3-15.1-5.3-15.8-5.2-16.7M552.6 314.5l-5.6-2.2-5.5-3.1-5.4-5.1-5.4-5.1-5.4-5-5.3-5-5.3-6.9-5.3-7.9-5.3-8.6-5.2-9.5-5.3-10.2-5.2-11-5.2-11.8-5.2-12.5-5.3-13.3-5.2-14-5.2-14.8-5.3-15.5M560.6 292.6l-5.6-1.8-5.5-2.6-5.5-3.3-5.5-4.2-5.4-4.9-5.3-5.6-5.4-6.5-5.3-7.1-5.3-8-5.2-8.7-5.3-9.4-5.2-10.1-5.2-10.9-5.3-11.6-5.2-12.3-5.2-13-5.2-13.7-5.3-14.4M568.7 270.8l-5.7-1.4-5.5-2.2-5.6-2.9-5.5-3.6-5.4-4.4-5.4-5-5.4-5.9-5.3-6.5-5.3-7.2-5.3-7.9-5.3-8.7-5.2-9.3-5.3-10-5.2-10.7-5.2-11.3-5.2-12-5.2-12.7-5.2-13.4M576.8 249.2l-5.7-1-5.6-1.8-5.6-2.5-5.5-3.1-5.5-3.9-5.5-4.5-5.4-5.2-5.3-5.9-5.4-6.5-5.3-7.2-5.3-7.9-5.2-8.5-5.3-9.1-5.2-9.8-5.2-10.5-5.2-11-5.2-11.7-5.3-12.4M584.9 227.8l-5.7-.7-5.7-1.4-5.6-2-5.6-2.7-5.5-3.3-5.5-4-5.4-4.6-5.4-5.3-5.4-5.9-5.3-6.5-5.3-7.1-5.3-7.7-5.3-8.4-5.2-8.9-5.3-9.6-5.2-10.1-5.2-10.8-5.2-11.3M593.1 206.5l-5.8-.4-5.7-1-5.7-1.6-5.6-2.2-5.6-2.8-5.5-3.5-5.5-4-5.4-4.6-5.4-5.3-5.4-5.8-5.3-6.4-5.3-7-5.3-7.6-5.2-8.1-5.3-8.7-5.2-9.2-5.2-9.9-5.2-10.3M601.3 185.3l-5.8 0-5.8-.6-5.7-1.2-5.7-1.7-5.6-2.4-5.6-2.9-5.5-3.5-5.5-4.1-5.4-4.6-5.4-5.1-5.3-5.8-5.4-6.2-5.3-6.8-5.3-7.4-5.2-7.8-5.2-8.4-5.3-8.9-5.2-9.5M609.6 164.4l-5.9 .3-5.8-.3-5.8-.8-5.7-1.3-5.7-1.9-5.6-2.4-5.6-3-5.5-3.4-5.5-4-5.4-4.6-5.4-5-5.3-5.6-5.4-6-5.3-6.6-5.2-7.1-5.3-7.6-5.2-8-5.2-8.6M617.9 143.5l-6 .7-5.9 .1-5.8-.4-5.8-.9-5.7-1.5-5.6-1.9-5.6-2.4-5.6-2.9-5.5-3.5-5.5-3.9-5.4-4.4-5.4-4.9-5.3-5.3-5.4-5.9-5.3-6.3-5.2-6.7-5.3-7.3-5.2-7.7M626.2 122.9l-6 .9-6 .5-5.8 0-5.9-.5-5.7-1-5.7-1.5-5.7-1.9-5.6-2.4-5.5-2.9-5.5-3.3-5.5-3.8-5.4-4.2-5.4-4.7-5.4-5.1-5.3-5.6-5.3-6-5.2-6.4-5.2-6.9M634.6 102.3l-6.1 1.3-6 .8-5.9 .4-5.9-.1-5.8-.6-5.8-1-5.7-1.4-5.6-1.9-5.6-2.3-5.6-2.8-5.5-3.2-5.4-3.6-5.5-4-5.3-4.4-5.4-4.9-5.3-5.3-5.3-5.6-5.2-6.1M642.8 89.6l-6-4.4-6-.5-6 .7-5.9 .3-5.9-.2-5.8-.5-5.8-1-5.7-1.4-5.6-1.8-5.6-2.2-5.5-2.6-5.5-3-5.5-3.4-5.4-3.7-5.4-4.2-5.3-4.6-5.3-4.9-5.3-5.4M650.7 85.4l-6-4.4-5.9-4.3-5.9-4.3-5.9-4.3-5.9-1-5.8-.2-5.8-.5-5.8-.9-5.7-1.3-5.6-1.6-5.6-2.1-5.5-2.4-5.5-2.8-5.5-3.1-5.4-3.6-5.3-3.8-5.4-4.3-5.3-4.6M528.5 335l8.1-5.2 8-5.2 8-10.1 8-21.9 8.1-21.8 8.1-21.6 8.1-21.4 8.2-21.3 8.2-21.2 8.3-20.9 8.3-20.9 8.3-20.6 8.4-20.6 8.2-12.7 7.9-4.2M523 329.7l8.1-5.1 8-5.2 7.9-7.1 8-21.5 8-21.4 8.1-21.2 8.1-21.1 8.1-21 8.2-20.8 8.2-20.6 8.2-20.5 8.3-20.4 8.3-20.2 8.3-18.4 7.9-4.2M517.6 324.5l8-5.1 8-5.1 7.9-5.1 8-21 8-21 8-20.8 8-20.7 8.1-20.6 8.1-20.4 8.2-20.3 8.1-20.1 8.2-20 8.3-19.9 8.3-19.7 8-8M512.2 319.3l8-5.1 8-5.1 7.9-5 7.9-19.2 7.9-20.6 8-20.4 8-20.2 8-20.2 8.1-20 8.1-19.9 8.1-19.7 8.2-19.6 8.2-19.5 8.2-19.4 8.1-13M506.8 314.1l8-5 8-5.1 7.9-5 7.8-18.3 7.9-20 8-19.9 7.9-19.8 8-19.7 8-19.5 8.1-19.5 8-19.3 8.1-19.2 8.2-19.1 8.2-19 8.1-17.6M501.5 309l8-5 7.9-5 7.9-5 7.8-18.2 7.9-19.5 7.9-19.4 7.9-19.2 7.9-19.2 8-19.1 8-19 8-18.9 8.1-18.7 8.1-18.7 8.1-18.6 8.1-18.4M496.2 303.9l8-5 7.9-5 7.9-4.9 7.8-18.8 7.8-18.9 7.8-18.9 7.9-18.7 7.9-18.7 7.9-18.5 8-18.5 8-18.4 8-18.3 8-18.2 8.1-18.1 8.1-18.1M491 298.9l7.9-5 7.9-4.9 7.9-6.9 7.7-18.4 7.8-18.3 7.8-18.2 7.9-18.1 7.8-18.1 7.9-18 7.9-18 8-17.8 7.9-17.8 8-17.7 8-17.7 8.1-17.6M485.8 293.9l7.9-5 7.9-4.9 7.8-9.8 7.7-17.6 7.8-17.7 7.8-17.6 7.8-17.5 7.8-17.4 7.8-17.5 7.9-17.3 7.9-17.3 7.9-17.3 8-17.2 7.9-17.2 8-17.1M480.6 288.9l7.9-4.9 7.9-4.9 7.7-13.5 7.7-17 7.8-16.9 7.7-16.9 7.8-16.9 7.8-16.8 7.8-16.8 7.8-16.7 7.9-16.8 7.9-16.7 7.9-16.6 7.9-16.7 7.9-16.6M475.5 284l7.9-4.9 7.8-6.8 7.7-16.2 7.7-16.2 7.7-16.1 7.7-16.2 7.8-16.2 7.7-16.1 7.8-16.1 7.8-16.2 7.8-16.1 7.9-16.1 7.8-16.1 7.9-16.1 7.9-16M470.4 279.1l7.8-4.9 7.8-12.9 7.6-15.4 7.7-15.4 7.7-15.4 7.7-15.4 7.8-15.4 7.7-15.4 7.8-15.5 7.7-15.4 7.8-15.5 7.8-15.5 7.8-15.5 7.9-15.5 7.8-15.5M465.3 274.2l7.8-10.4 7.6-14.4 7.7-14.5 7.7-14.5 7.7-14.6 7.7-14.6 7.7-14.6 7.7-14.7 7.7-14.7 7.8-14.8 7.7-14.8 7.8-14.8 7.8-14.9 7.8-14.9 7.8-14.9M460.2 263.6l7.6-13.4 7.7-13.5 7.7-13.6 7.7-13.6 7.6-13.7 7.7-13.7 7.7-13.9 7.7-13.9 7.7-13.9 7.7-14 7.8-14.1 7.7-14.2 7.7-14.2 7.8-14.3 7.8-14.3M454.9 248.1l7.7-12.4 7.7-12.5 7.7-12.6 7.6-12.7 7.7-12.8 7.7-12.8 7.7-13 7.7-13.1 7.6-13.2 7.7-13.2 7.7-13.4 7.7-13.4 7.8-13.5 7.7-13.6 7.7-13.7M449.6 231.7l7.8-11.3 7.7-11.5 7.6-11.6 7.7-11.7 7.7-11.8 7.7-12 7.6-12.1 7.7-12.2 7.7-12.3 7.7-12.5 7.6-12.6 7.7-12.7 7.7-12.8 7.7-12.9 7.7-13.1M444.4 214.4l7.7-10.2 7.7-10.4 7.7-10.5 7.7-10.7 7.7-10.8 7.7-11 7.6-11.2 7.7-11.3 7.7-11.5 7.6-11.7 7.7-11.7 7.6-12 7.7-12.1 7.7-12.2 7.7-12.3M439 196.2l7.8-9 7.7-9.2 7.8-9.5 7.7-9.6 7.7-9.8 7.7-10 7.6-10.3 7.7-10.4 7.6-10.5 7.7-10.8 7.6-11 7.7-11.1 7.6-11.3 7.7-11.5 7.6-11.7M433.7 177.2l7.8-7.8 7.8-8.1 7.7-8.3 7.7-8.5 7.8-8.8 7.6-9 7.7-9.2 7.7-9.4 7.6-9.7 7.7-9.9 7.6-10.1 7.7-10.3 7.6-10.5 7.6-10.8 7.6-10.9"/>
<text x="417.0" y="78.0" dy=".35em" font-size="11.3" text-anchor="middle" transform="rotate(-20.0 417.0 78.0)">26</text>
<text x="418.7" y="106.6" dy=".35em" font-size="11.3" text-anchor="middle" transform="rotate(-20.0 418.7 106.6)">22</text>
<text x="420.4" y="135.2" dy=".35em" font-size="11.3" text-anchor="middle" transform="rotate(-20.0 420.4 135.2)">18</text>
<text x="422.1" y="163.8" dy=".35em" font-size="11.3" text-anchor="middle" transform="rotate(-20.0 422.1 163.8)">14</text>
<text x="423.8" y="192.4" dy=".35em" font-size="11.3" text-anchor="middle" transform="rotate(-20.0 423.8 192.4)">10</text>
<text x="425.5" y="221.0" dy=".35em" font-size="11.3" text-anchor="middle" transform="rotate(-20.0 425.5 221.0)">6</text>
<text x="518.6" y="339.4" dy=".35em" font-size="10.5" text-anchor="middle" transform="rotate(-38.0 518.6 339.4)">0.0</text>
<text x="506.7" y="328.1" dy=".35em" font-size="10.5" text-anchor="middle" transform="rotate(-38.0 506.7 328.1)">0.2</text>
<text x="494.7" y="316.7" dy=".35em" font-size="10.5" text-anchor="middle" transform="rotate(-38.0 494.7 316.7)">0.4</text>
<text x="482.8" y="305.4" dy=".35em" font-size="10.5" text-anchor="middle" transform="rotate(-38.0 482.8 305.4)">0.6</text>
<text x="470.8" y="294.0" dy=".35em" font-size="10.5" text-anchor="middle" transform="rotate(-38.0 470.8 294.0)">0.8</text>
<text x="458.9" y="282.7" dy=".35em" font-size="10.5" text-anchor="middle" transform="rotate(-38.0 458.9 282.7)">1.0</text>
<text x="446.9" y="271.4" dy=".35em" font-size="10.5" text-anchor="middle" transform="rotate(-38.0 446.9 271.4)">1.2</text>
<text x="434.9" y="260.0" dy=".35em" font-size="10.5" text-anchor="middle" transform="rotate(-38.0 434.9 260.0)">1.4</text>
<text x="423.0" y="248.7" dy=".35em" font-size="10.5" text-anchor="middle" transform="rotate(-38.0 423.0 248.7)">1.6</text>
<text x="535.2" y="341.0" dy=".35em" font-size="11" text-anchor="middle" transform="rotate(-35.0 535.2 341.0)">1.5</text>
<text x="559.0" y="326.0" dy=".35em" font-size="11" text-anchor="middle" transform="rotate(-35.0 559.0 326.0)">2.5</text>
<text x="582.7" y="311.0" dy=".35em" font-size="11" text-anchor="middle" transform="rotate(-35.0 582.7 311.0)">3.5</text>
<text x="606.5" y="296.0" dy=".35em" font-size="11" text-anchor="middle" transform="rotate(-35.0 606.5 296.0)">4.5</text>
<text x="630.2" y="281.0" dy=".35em" font-size="11" text-anchor="middle" transform="rotate(-35.0 630.2 281.0)">5.5</text>
<text x="654.0" y="266.0" dy=".35em" font-size="11" text-anchor="middle" transform="rotate(-35.0 654.0 266.0)">6.5</text>
<text x="401.0" y="175.0" dy=".35em" font-size="11.5" text-anchor="middle" transform="rotate(88.0 401.0 175.0)" textLength="136.0" lengthAdjust="spacingAndGlyphs">Lipase activity(U/gds)</text>
<text x="448.7" y="307.0" dy=".35em" font-size="11" text-anchor="middle" transform="rotate(46.0 448.7 307.0)" textLength="63.0" lengthAdjust="spacingAndGlyphs">K2HPO4(g/l)</text>
<text x="615.3" y="321.5" dy=".35em" font-size="11" text-anchor="middle" transform="rotate(-30.8 615.3 321.5)" textLength="113.7" lengthAdjust="spacingAndGlyphs">Cotton seed waste(g/l)</text>
</g>
<rect x="379.5" y="4.5" width="39.0" height="37.0" fill="#fff" stroke="#000" stroke-width="1.2" shape-rendering="crispEdges"/><text x="399.0" y="31.8" font-size="24" text-anchor="middle" style="fill:#000">B</text>
<g class="p">
<path d="M57.4 685.5l-5.9-193 131.7-66.2 113.8 84.2-7 194.5-128 83z" fill="#3f8282"/>
<path d="M162 788l-104.6-102.5-5.9-193M188.4 770.9l-105.2-100.9-4.7-191.1M214.4 754l-105.7-99.2-3.5-189.3M240 737.4l-106.2-97.6-2.3-187.5M265.2 721.1l-106.7-96.1-1-185.8M290 705l-107.2-94.5 .4-184.2M162 788l128-83 7-194.5M143.8 770.1l127.5-81.5 5.8-192.8M125.9 752.6l127.1-80.2 4.7-191M108.3 735.4l126.7-78.9 3.5-189.3M91 718.5l126.3-77.6 2.5-187.6M74.1 701.8l125.8-76.2 1.4-185.9M57.4 685.5l125.4-75 .4-184.2M56.4 652.8l126.5-73.5 108.3 92.7M55.4 620.9l127.5-72.1 109.4 91.1M54.5 589l128.5-70.6 110.5 89.4M53.5 557.1l129.6-69.2 111.6 87.7M52.5 525.2l130.6-67.7 112.7 86M51.5 493.3l131.7-66.2 113.8 84.2M57.4 685.5l125.4-75 107.2 94.5M182.8 610.5l.4-184.2" fill="none" stroke="#bccfcf" stroke-width="0.9"/>
<path d="M51.5 492.5l5.9 193 104.6 102.5 128-83" fill="none" stroke="#0a1414" stroke-width="1.1"/>
<path d="M51.5 492.5l5.9 193" fill="none" stroke="#0a1414" stroke-width="1.6" stroke-dasharray="1 3.4" transform="translate(-1 0)"/>
<path d="M57.4 685.5l104.6 102.5" fill="none" stroke="#0a1414" stroke-width="1.6" stroke-dasharray="1 3.4" transform="translate(-.7 .8)"/>
<path d="M162 788l128-83" fill="none" stroke="#0a1414" stroke-width="1.6" stroke-dasharray="1 3.4" transform="translate(.6 .9)"/>
<path d="M76.3 677.7l1.8-3.5-1.6-.2zM76.3 677.7l.2-3.7-2-.4zM62.6 680.2l3.9-7.8-3.3-.4zM62.6 680.2l.6-8.2-4.2-.6zM95.7 685.8l3.4-6.6-2.8-.8zM95.7 685.8l.6-7.4-5-1.3zM82 690l6.9-13.5-5.8-1.2zM82 690l1.1-14.7-5-1.1-1.8 3.5zM68.4 693.3l7.9-15.6-1.8-4.1-4.6-.7zM68.4 693.3l1.5-20.4-3.4-.5-3.9 7.8zM115.2 689.6l1.7-3.4-1.3-.7zM115.2 689.6l.4-4.1-4-1.7zM101.5 696l6.9-13.6-5.6-1.9zM101.5 696l1.3-15.5-3.7-1.3-3.4 6.6zM87.8 701.2l7.9-15.4-4.4-8.7-1.5-.4zM87.8 701.2l2-24.5-.9-.2-6.9 13.5zM74.1 701.8l7.9-11.8-5.7-12.3-7.9 15.6zM121 697.7l3.6-7.3-2.8-1.5zM121 697.7l.8-8.8-4.9-2.7-1.7 3.4zM107.3 705.3l7.9-15.7-3.6-5.8-2.4-1zM107.3 705.3l1.9-22.5-.8-.4-6.9 13.6zM93.5 707.9l8-11.9-5.8-10.2-7.9 15.4zM79.7 707.3l8.1-6.1-5.8-11.2-7.9 11.8zM126.9 704.7l4.6-9.4-3.5-2.5zM126.9 704.7l1.1-11.9-3.4-2.4-3.6 7.3zM113.1 713.4l7.9-15.7-5.8-8.1-7.9 15.7zM99.2 713.4l8.1-8.1-5.8-9.3-8 11.9zM85.3 712.9l8.2-5-5.7-6.7-8.1 6.1zM132.7 710.7l4.9-10.1-3.6-3.2zM132.7 710.7l1.3-13.3-2.5-2.1-4.6 9.4zM118.9 719.6l8-14.9-5.9-7-7.9 15.7zM104.9 719l8.2-5.6-5.8-8.1-8.1 8.1zM91 718.5l8.2-5.1-5.7-5.5-8.2 5zM138.6 715.5l4.4-9-3.2-3.5zM138.6 715.5l1.2-12.5-2.2-2.4-4.9 10.1zM124.7 725.2l8-14.5-5.8-6-8 14.9zM110.7 724.6l8.2-5-5.8-6.2-8.2 5.6zM96.7 724.1l8.2-5.1-5.7-5.6-8.2 5.1zM144.5 719.2l3-6.2-2.1-3zM144.5 719.2l.9-9.2-2.4-3.5-4.4 9zM130.5 730.8l8.1-15.3-5.9-4.8-8 14.5zM116.5 730.3l8.2-5.1-5.8-5.6-8.2 5zM102.5 729.7l8.2-5.1-5.8-5.6-8.2 5.1zM150.4 721.8l.9-1.9-.6-1.1zM150.4 721.8l.3-3-3.2-5.8-3 6.2zM136.4 735.5l8.1-16.3-5.9-3.7-8.1 15.3zM122.3 735.9l8.2-5.1-5.8-5.6-8.2 5.1zM108.3 735.4l8.2-5.1-5.8-5.7-8.2 5.1zM151.3 719.9l-.9 1.9 1.9 .5zM142.3 738.3l8.1-16.5-5.9-2.6-8.1 16.3zM128.2 741.7l8.2-6.2-5.9-4.7-8.2 5.1zM114.1 741.1l8.2-5.2-5.8-5.6-8.2 5.1zM148.2 740l6.1-12.5-2-5.2-1.9-.5zM148.2 740l2.2-18.2-8.1 16.5zM134.1 747.4l8.2-9.1-5.9-2.8-8.2 6.2zM120 746.8l8.2-5.1-5.9-5.8-8.2 5.2zM154.2 740.5l2.4-5-1.2-4.4zM154.2 740.5l1.2-9.4-1.1-3.6-6.1 12.5zM140.1 753.2l8.1-13.2-5.9-1.7-8.2 9.1zM125.9 752.6l8.2-5.2-5.9-5.7-8.2 5.1zM156.6 735.5l-2.4 5 3.3-.3zM146 757.2l8.2-16.7-6-.5-8.1 13.2zM131.8 758.4l8.3-5.2-6-5.8-8.2 5.2zM152 756.9l6.2-12.8-.7-3.9-3.3 .3zM152 756.9l2.2-16.4-8.2 16.7zM137.8 764.3l8.2-7.1-5.9-4-8.3 5.2zM158 755.5l1.2-2.4-.4-3.4zM158 755.5l.8-5.8-.6-5.6-6.2 12.8zM143.8 770.1l8.2-13.2-6 .3-8.2 7.1zM159.2 753.1l-1.2 2.4 1.3-.5zM149.8 772.8l8.2-17.3-6 1.4-8.2 13.2zM155.8 770.7l3.8-8.1-.3-7.6-1.3 .5zM155.8 770.7l2.2-15.2-8.2 17.3zM159.6 762.6l-3.8 8.1 3.9-2z" fill="#06603c" stroke="#06603c" stroke-width=".6"/>
<path d="M97.8 658.9l2.9-5.7-2.4-.5zM97.8 658.9l.5-6.2-3.8-.8zM84.1 662.2l5.7-11.3-4.8-.7zM84.1 662.2l.9-12-6.5-1zM70.5 664.5l7.7-15.3-6.7-.7zM70.5 664.5l1-16-5.6-.7-1.3 2.5zM117.3 664.6l2.8-5.5-2.3-.8zM117.3 664.6l.5-6.3-5.1-1.8zM103.6 670.2l7.2-14.3-6-1.6zM103.6 670.2l1.2-15.9-4.1-1.1-2.9 5.7zM89.9 674.5l7.9-15.6-3.3-7-2.9-.6zM89.9 674.5l1.7-23.2-1.8-.4-5.7 11.3zM78.1 674.2l6-12-5.6-13-.2 0-1.8 24.8zM76.5 674l1.8-24.8-.1 0-7.7 15.3 4 9.1zM66.5 672.4l4-7.9-5.9-14.2-1.4 21.7zM63.2 672l1.4-21.7-7.8 15.9 2.2 5.2zM123.2 673.7l5.3-10.8-4.3-1.9zM123.2 673.7l1-12.7-4.1-1.9-2.8 5.5zM109.4 680.4l7.9-15.8-4.6-8.1-1.3-.4zM109.4 680.4l2-24.3-.6-.2-7.2 14.3zM99.1 679.2l4.5-9-5.8-11.3-1.5 19.5zM96.3 678.4l1.5-19.5-7.9 15.6 1.4 2.6zM88.9 676.5l1-2-5.8-12.3-1 13.1zM83.1 675.3l1-13.1-6 12zM74.5 673.6l-4-9.1-.6 8.4zM69.9 672.9l.6-8.4-4 7.9zM142.8 672.3l.2-.4-.1-.1zM142.8 672.3l.1-.5-1.2-.8zM129 681.7l7.2-14.6-5.7-3.1zM129 681.7l1.5-17.7-2-1.1-5.3 10.8zM116.9 686.2l6.3-12.5-5.9-9.1-1.7 20.9zM115.6 685.5l1.7-20.9-7.9 15.8 2.2 3.4zM108.4 682.4l1-2-5.8-10.2-.8 10.3zM102.8 680.5l.8-10.3-4.5 9zM91.3 677.1l-1.4-2.6-.1 2.2zM89.8 676.7l.1-2.2-1 2zM148.7 678l.4-.8-.3-.2zM148.7 678l.1-1-5.8-5.1-.2 .4zM134.8 688.6l8-16.3-1.1-1.3-4.9-3.4zM134.8 688.6l2-21-.6-.5-7.2 14.6zM124.6 690.4l4.4-8.7-5.8-8-1.4 15.2zM121.8 688.9l1.4-15.2-6.3 12.5zM111.6 683.8l-2.2-3.4-.2 2.4zM109.2 682.8l.2-2.4-1 2zM149.1 677.2l-.4 .8 3.8 2.9zM140.7 694.5l8-16.5-5.9-5.7-8 16.3zM131.5 695.3l3.3-6.7-5.8-6.9-1 11.1zM128 692.8l1-11.1-4.4 8.7zM146.6 699.2l7.8-16.1-1.9-2.2-3.8-2.9zM146.6 699.2l2.1-21.2-8 16.5zM137.6 700.6l3.1-6.1-5.9-5.9-.8 8.8zM134 697.4l.8-8.8-3.3 6.7zM152.5 702.8l6.5-13.4-4.4-6.1zM152.5 702.8l2.1-19.5-.2-.2-7.8 16.1zM143 706.5l3.6-7.3-5.9-4.7-.9 8.5zM139.8 703l.9-8.5-3.1 6.1zM158.5 705.2l4.3-8.9-2.8-5zM158.5 705.2l1.5-13.9-1-1.9-6.5 13.4zM147.5 713l5-10.2-5.9-3.6-1.2 10.8zM145.4 710l1.2-10.8-3.6 7.3zM164.5 706.5l1.4-2.8-.9-2zM164.5 706.5l.5-4.8-2.2-5.4-4.3 8.9zM151.3 719.9l7.2-14.7-6-2.4-1.8 16zM150.7 718.8l1.8-16-5 10.2zM165.9 703.7l-1.4 2.8 2.2 .1zM156.3 723.3l8.2-16.8-6-1.3zM156.3 723.3l2.2-18.1-7.2 14.7 1 2.4zM162.4 723.7l5.8-12.1-1.5-5-2.2-.1zM162.4 723.7l2.1-17.2-8.2 16.8zM154.3 727.5l2-4.2-4-1zM168.4 722.9l1.4-2.8-.6-3.1zM168.4 722.9l.8-5.9-1-5.4-5.8 12.1zM156.6 735.5l5.8-11.8-6.1-.4-.9 7.8zM155.4 731.1l.9-7.8-2 4.2zM169.8 720.1l-1.4 2.8 1.6-.5zM160.2 739.9l8.2-17-6 .8zM160.2 739.9l2.2-16.2-5.8 11.8 .9 4.7zM166.3 738.2l4.3-9.2-.6-6.6-1.6 .5zM166.3 738.2l2.1-15.3-8.2 17zM158.2 744.1l2-4.2-2.7 .3zM170.6 729l-4.3 9.2 4.6-2.1zM159.2 753.1l7.1-14.9-6.1 1.7-1.4 9.8zM158.8 749.7l1.4-9.8-2 4.2zM164.1 753l6.9-14.5-.1-2.4-4.6 2.1zM164.1 753l2.2-14.8-7.1 14.9 .1 1.9zM170.3 749.4l.5-1.1 0-2.5zM170.3 749.4l.5-3.6 .2-7.3-6.9 14.5zM159.6 762.6l4.5-9.6-4.8 2zM161.9 767.5l8.4-18.1-6.2 3.6zM161.9 767.5l2.2-14.5-4.5 9.6 .1 6.1z" fill="#0a9632" stroke="#0a9632" stroke-width=".6"/>
<path d="M99.9 630.9l1.4-2.9-1.2-.2zM99.9 630.9l.2-3.1-1.7-.2zM86.2 633.2l3.5-6.9-3-.3zM86.2 633.2l.5-7.2-3.6-.4zM119.4 638.6l2.8-5.6-2.3-.7zM119.4 638.6l.5-6.3-4.4-1.2zM105.7 643.2l6.5-13-5.5-1.1zM105.7 643.2l1-14.1-5.4-1.1-1.4 2.9zM92 646.6l7.9-15.7-1.5-3.3-5-.8zM92 646.6l1.4-19.8-3.7-.5-3.5 6.9zM78.3 648.9l7.9-15.7-3.1-7.6-3.2-.3zM78.3 648.9l1.6-23.6-2.6-.3-4.8 9.6zM139.1 641.3l.6-1.3-.5-.2zM139.1 641.3l.1-1.5-1.7-.8zM125.3 648.6l6-12.4-4.9-1.7zM125.3 648.6l1.1-14.1-4.2-1.5-2.8 5.6zM111.5 654.4l7.9-15.8-3.9-7.5-2.1-.6zM111.5 654.4l1.9-23.9-1.2-.3-6.5 13zM100.7 653.2l5-10-5.8-12.3-1.6 21.8zM98.3 652.7l1.6-21.8-7.9 15.7 2.5 5.3zM89.8 650.9l2.2-4.3-5.8-13.4-1.2 17zM85 650.2l1.2-17-7.9 15.7 .2 .3zM78.2 649.2l.1-.3-5.8-14.3-1 13.9zM71.5 648.5l1-13.9-6.6 13.2zM144.9 649.1l2.3-4.8-1.8-1zM144.9 649.1l.5-5.8-5.7-3.3-.6 1.3zM131.1 657.6l8-16.3-1.6-2.3-4.7-2.1zM131.1 657.6l1.7-20.7-1.5-.7-6 12.4zM120.1 659.1l5.2-10.5-5.9-10-1.6 19.7zM117.8 658.3l1.6-19.7-7.9 15.8 1.2 2.1zM110.8 655.9l.7-1.5-5.8-11.2-.9 11.1zM104.8 654.3l.9-11.1-5 10zM94.5 651.9l-2.5-5.3-.4 4.7zM91.6 651.3l.4-4.7-2.2 4.3zM78.5 649.2l-.2-.3 0 .3zM78.3 649.2l0-.3-.1 .3zM150.8 655.8l3.2-6.7-2.4-1.8zM150.8 655.8l.8-8.5-4.4-3-2.3 4.8zM137 665.5l7.9-16.4-5.8-7.8-8 16.3zM128.5 662.9l2.6-5.3-5.8-9-1.1 12.4zM124.2 661l1.1-12.4-5.2 10.5zM112.7 656.5l-1.2-2.1-.1 1.7zM111.4 656.1l.1-1.7-.7 1.5zM156.8 661.4l3.3-7.1-2.5-2.1zM156.8 661.4l.8-9.2-3.6-3.1-3.2 6.7zM143 671.9l7.8-16.1-5.9-6.7-2 22.7zM142.9 671.8l2-22.7-7.9 16.4 4.7 5.5zM136.2 667.1l.8-1.6-5.9-7.9-.6 6.4zM130.5 664l.6-6.4-2.6 5.3zM162.7 665.8l2.7-5.7-1.9-2.1zM162.7 665.8l.8-7.8-3.4-3.7-3.3 7.1zM149.1 677.2l7.7-15.8-6-5.6-2 21.2zM148.8 677l2-21.2-7.8 16.1zM141.7 671l-4.7-5.5-.2 2.1zM136.8 667.6l.2-2.1-.8 1.6zM168.7 669.2l1.3-2.9-.9-1.2zM168.7 669.2l.4-4.1-3.7-5-2.7 5.7zM154.6 682.6l8.1-16.8-5.9-4.4zM154.6 682.6l2.2-21.2-7.7 15.8 3.4 3.7zM170 666.3l-1.3 2.9 3.8 1.4zM160.6 686.1l8.1-16.9-6-3.4-8.1 16.8zM154.4 683.1l.2-.5-2.1-1.7zM166.6 688.4l7.3-15.3-1.4-2.5-3.8-1.4zM166.6 688.4l2.1-19.2-8.1 16.9zM159 689.4l1.6-3.3-6-3.5 0 .7zM154.6 683.3l0-.7-.2 .5zM172.6 689.6l4.5-9.3-2.7-6.1zM172.6 689.6l1.8-15.4-.5-1.1-7.3 15.3zM162.8 696.3l3.8-7.9-6-2.3-.6 5.2zM160 691.3l.6-5.2-1.6 3.3zM178.7 689.6l.7-1.5-.3-1.2zM178.7 689.6l.4-2.7-2-6.6-4.5 9.3zM165.9 703.7l6.7-14.1-6-1.2-1.6 13.3zM165 701.7l1.6-13.3-3.8 7.9zM179.4 688.1l-.7 1.5 1-.2zM170.5 706.7l8.2-17.1-6.1 0zM170.5 706.7l2.1-17.1-6.7 14.1 .8 2.9zM176.6 705.7l4.5-9.3-1.4-7-1 .2zM176.6 705.7l2.1-16.1-8.2 17.1zM168.2 711.6l2.3-4.9-3.8-.1zM181.1 696.4l-4.5 9.3 5.2-1.8zM169.8 720.1l6.8-14.4-6.1 1-1.3 10.3zM169.2 717l1.3-10.3-2.3 4.9zM174.5 720.9l7.5-15.6-.2-1.4-5.2 1.8zM174.5 720.9l2.1-15.2-6.8 14.4 .2 2.3zM180.7 717.8l1.5-3.2-.1-5.9zM180.7 717.8l1.4-9.1-.1-3.4-7.5 15.6zM170.6 729l3.9-8.1-4.5 1.5zM182.2 714.6l-1.5 3.2 1.4-1zM172.4 735.4l8.3-17.6-6.2 3.1zM172.4 735.4l2.1-14.5-3.9 8.1 .3 7.1zM178.6 731.3l3.2-6.8 .3-7.7-1.4 1zM178.6 731.3l2.1-13.5-8.3 17.6zM171 738.5l1.4-3.1-1.5 .7zM170.8 748.3l7.8-17-6.2 4.1-1.6 10.4zM170.8 745.8l1.6-10.4-1.4 3.1z" fill="#0ccb0c" stroke="#0ccb0c" stroke-width=".6"/>
<path d="M121.5 611.6l1.9-4-1.6-.3zM121.5 611.6l.3-4.3-2.7-.6zM107.7 615.3l5-9.9-4.2-.7zM107.7 615.3l.8-10.6-5.8-.8zM94 617.6l7.1-14-6.1-.6zM94 617.6l1-14.6-6.4-.6-.4 .9zM141.1 616.2l1.2-2.4-1-.4zM141.1 616.2l.2-2.8-2.4-.9zM127.3 622.6l6-12.2-4.9-1.4zM127.3 622.6l1.1-13.6-5-1.4-1.9 4zM113.6 627.4l7.9-15.8-2.4-4.9-3.9-.8zM113.6 627.4l1.6-21.5-2.5-.5-5 9.9zM101.3 628l6.4-12.7-5-11.4-.9-.2-1.7 24.1zM100.1 627.8l1.7-24.1-.7-.1-7.1 14 4.4 10zM89.7 626.3l4.3-8.7-5.8-14.3-1.5 22.7zM86.7 626l1.5-22.7-7.9 15.6 2.8 6.7zM147 624.9l3.5-7.3-2.8-1.3zM147 624.9l.7-8.6-5.4-2.5-1.2 2.4zM133.2 632.5l7.9-16.3-2.2-3.7-4-1.5zM133.2 632.5l1.7-21.5-1.6-.6-6 12.2zM122.2 633l5.1-10.4-5.8-11-1.6 20.7zM119.9 632.3l1.6-20.7-7.9 15.8 1.9 3.7zM112.2 630.2l1.4-2.8-5.9-12.1-1 13.8zM106.7 629.1l1-13.8-6.4 12.7zM98.4 627.6l-4.4-10-.6 9.2zM93.4 626.8l.6-9.2-4.3 8.7zM83.1 625.6l-2.8-6.7-.4 6.4zM79.9 625.3l.4-6.4-3 6.1zM152.9 632.5l5-10.6-3.9-2.3zM152.9 632.5l1.1-12.9-3.5-2-3.5 7.3zM139.7 640l7.3-15.1-5.9-8.7-1.9 23.6zM139.2 639.8l1.9-23.6-7.9 16.3 4.3 6.5zM131.3 636.2l1.9-3.7-5.9-9.9-.9 11.9zM126.4 634.5l.9-11.9-5.1 10.4zM115.5 631.1l-1.9-3.7-.2 3.1zM113.4 630.5l.2-3.1-1.4 2.8zM158.8 639l5.9-12.4-4.5-3.2zM158.8 639l1.4-15.6-2.3-1.5-5 10.6zM147.2 644.3l5.7-11.8-5.9-7.6-1.6 18.4zM145.4 643.3l1.6-18.4-7.3 15.1zM137.5 639l-4.3-6.5-.4 4.4zM132.8 636.9l.4-4.4-1.9 3.7zM164.8 644.5l5.9-12.7-4.4-3.8zM164.8 644.5l1.5-16.5-1.6-1.4-5.9 12.4zM154 649.1l4.8-10.1-5.9-6.5-1.3 14.8zM151.6 647.3l1.3-14.8-5.7 11.8zM170.8 648.8l5.3-11.3-3.8-4.1zM170.8 648.8l1.5-15.4-1.6-1.6-5.9 12.7zM160.1 654.3l4.7-9.8-6-5.5-1.2 13.2zM157.6 652.2l1.2-13.2-4.8 10.1zM176.8 652.1l3.9-8.5-2.7-3.6zM176.8 652.1l1.2-12.1-1.9-2.5-5.3 11.3zM165.4 660.1l5.4-11.3-6-4.3-1.3 13.5zM163.5 658l1.3-13.5-4.7 9.8zM182.9 654.2l1.8-4-1.2-2zM182.9 654.2l.6-6-2.8-4.6-3.9 8.5zM170 666.3l6.8-14.2-6-3.3-1.7 16.3zM169.1 665.1l1.7-16.3-5.4 11.3zM184.7 650.2l-1.8 4 3.9 .6zM174.7 671.4l8.2-17.2-6.1-2.1zM174.7 671.4l2.1-19.3-6.8 14.2 2.5 4.3zM180.8 672.5l7.2-15.2-1.2-2.5-3.9-.6zM180.8 672.5l2.1-18.3-8.2 17.2zM173.9 673.1l.8-1.7-2.2-.8zM186.9 672.4l3.6-7.4-2-5.9zM186.9 672.4l1.6-13.3-.5-1.8-7.2 15.2zM177.1 680.3l3.7-7.8-6.1-1.1-.3 2.8zM174.4 674.2l.3-2.8-.8 1.7zM190.5 665l-3.6 7.4 4.9-1zM179.4 688.1l7.5-15.7-6.1 .1-1.7 14.4zM179.1 686.9l1.7-14.4-3.7 7.8zM184.9 688.5l7.3-15.4-.4-1.7-4.9 1zM184.9 688.5l2-16.1-7.5 15.7 .3 1.3zM191.1 686.1l2.1-4.3-.7-5.9zM191.1 686.1l1.4-10.2-.3-2.8-7.3 15.4zM181.1 696.4l3.8-7.9-5.2 .9zM193.2 681.8l-2.1 4.3 2.1-1.2zM182.8 703.5l8.3-17.4-6.2 2.4zM182.8 703.5l2.1-15-3.8 7.9 .7 7.5zM189.1 700.2l4.3-9.1-.2-6.2-2.1 1.2zM189.1 700.2l2-14.1-8.3 17.4zM182 705.3l.8-1.8-1 .4zM193.4 691.1l-4.3 9.1 4-2.9zM182.2 714.6l6.9-14.4-6.3 3.3-.7 5.2zM182.1 708.7l.7-5.2-.8 1.8zM187 713.4l5.9-12.6 .2-3.5-4 2.9zM187 713.4l2.1-13.2-6.9 14.4-.1 2.2zM181.8 724.5l5.2-11.1-4.9 3.4z" fill="#00ff00" stroke="#00ff00" stroke-width=".6"/>
<path d="M123.5 583.8l.4-.8-.3 0zM123.5 583.8l.1-.8-.5-.1zM109.8 586.5l2.6-5.3-2.3-.2zM109.8 586.5l.3-5.5-2.7-.3zM143.2 590.2l.9-2-.8-.2zM143.2 590.2l.1-2.2-1.6-.5zM129.4 595.6l5-10.2-4.2-1zM129.4 595.6l.8-11.2-6.3-1.4-.4 .8zM115.6 599.5l7.9-15.7-.4-.9-6.2-1zM115.6 599.5l1.3-17.6-4.5-.7-2.6 5.3zM101.9 602l7.9-15.5-2.4-5.8-4-.4zM101.9 602l1.5-21.7-3.4-.3-4 7.8zM149.1 599.7l3.8-8.1-3.1-1.2zM149.1 599.7l.7-9.3-5.7-2.2-.9 2zM135.3 606.4l7.9-16.2-1.5-2.7-4.9-1.5zM135.3 606.4l1.5-20.4-2.4-.6-5 10.2zM123.4 607.6l6-12-5.9-11.8-1.7 23.5zM121.8 607.3l1.7-23.5-7.9 15.7 3.5 7.2zM112.7 605.4l2.9-5.9-5.8-13-1.3 18.2zM108.5 604.7l1.3-18.2-7.9 15.5 .8 1.9zM101.1 603.6l.8-1.6-5.9-14.2-1 15.2zM95 603l1-15.2-7.4 14.6zM155 608.2l6-12.7-4.8-2.3zM155 608.2l1.2-15-3.3-1.6-3.8 8.1zM142.3 613.8l6.8-14.1-5.9-9.5-1.9 23.2zM141.3 613.4l1.9-23.2-7.9 16.2 3.6 6.1zM133.3 610.4l2-4-5.9-10.8-1 13.4zM128.4 609l1-13.4-6 12zM119.1 606.7l-3.5-7.2-.4 6.4zM115.2 605.9l.4-6.4-2.9 5.9zM102.7 603.9l-.8-1.9-.1 1.7zM101.8 603.7l.1-1.7-.8 1.6zM174.9 604.8l.1-.3-.1-.1zM174.9 604.8l0-.4-1.3-.9zM160.9 615.6l7.5-15.8-5.9-3.4zM160.9 615.6l1.6-19.2-1.5-.9-6 12.7zM150.5 617.6l4.5-9.4-5.9-8.5-1.4 16.6zM147.7 616.3l1.4-16.6-6.8 14.1zM138.9 612.5l-3.6-6.1-.4 4.6zM134.9 611l.4-4.6-2 4zM180.9 610l.2-.3-.1-.1zM180.9 610l.1-.4-6-5.1-.1 .3zM166.9 622l8-17.2-1.3-1.3-4.8-3.4zM166.9 622l1.9-21.9-.4-.3-7.5 15.8zM157.9 621.9l3-6.3-5.9-7.4-1 11.4zM154 619.6l1-11.4-4.5 9.4zM181.1 609.7l-.2 .3 1.4 1zM172.8 627.4l8.1-17.4-6-5.2-8 17.2zM164.7 626.6l2.2-4.6-6-6.4-.7 7.8zM160.2 623.4l.7-7.8-3 6.3zM178.9 631.6l7.5-16.3-4.1-4.3-1.4-1zM178.9 631.6l2-21.6-8.1 17.4zM170.7 631.8l2.1-4.4-5.9-5.4-.6 6zM166.3 628l.6-6-2.2 4.6zM184.9 634.7l6.3-13.4-4.4-5.6zM184.9 634.7l1.9-19-.4-.4-7.5 16.3zM176.1 637.5l2.8-5.9-6.1-4.2-.5 6zM172.3 633.4l.5-6-2.1 4.4zM191 636.8l4.2-9-2.8-4.5zM191 636.8l1.4-13.5-1.2-2-6.3 13.4zM180.7 643.6l4.2-8.9-6-3.1-.9 8.4zM178 640l.9-8.4-2.8 5.9zM197.2 637.7l1.4-3-.9-1.8zM197.2 637.7l.5-4.8-2.5-5.1-4.2 9zM184.7 650.2l6.3-13.4-6.1-2.1-1.4 13.5zM183.5 648.2l1.4-13.5-4.2 8.9zM198.6 634.7l-1.4 3 2.5 0zM189 655.2l8.2-17.5-6.2-.9zM189 655.2l2-18.4-6.3 13.4 2.1 4.6zM195.2 655l6-12.8-1.5-4.5-2.5 0zM195.2 655l2-17.3-8.2 17.5zM188 657.3l1-2.1-2.2-.4zM201.4 653.7l1.7-3.6-.8-3.5zM201.4 653.7l.9-7.1-1.1-4.4-6 12.8zM190.5 665l4.7-10-6.2 .2-.5 3.9zM188.5 659.1l.5-3.9-1 2.1zM203.1 650.1l-1.7 3.6 2.1-.8zM193.1 671.1l8.3-17.4-6.2 1.3zM193.1 671.1l2.1-16.1-4.7 10 1.3 6.4zM199.4 668.7l4.8-10.1-.7-5.7-2.1 .8zM199.4 668.7l2-15-8.3 17.4zM192.2 673.1l.9-2-1.3 .3zM204.2 658.6l-4.8 10.1 5.1-2.9zM193.2 681.8l6.2-13.1-6.3 2.4-.6 4.8zM192.5 675.9l.6-4.8-.9 2zM197.4 682.6l7.1-14.9 0-1.9-5.1 2.9zM197.4 682.6l2-13.9-6.2 13.1 0 3.1zM203.8 677.9l.2-.6 .1-1.7zM203.8 677.9l.3-2.3 .4-7.9-7.1 14.9zM193.4 691.1l4-8.5-4.2 2.3zM195.4 695.6l8.4-17.7-6.4 4.7zM195.4 695.6l2-13-4 8.5-.3 6.2zM192.9 700.8l2.5-5.2-2.3 1.7z" fill="#bfff00" stroke="#bfff00" stroke-width=".6"/>
<path d="M145.2 563.5l.1-.1-.1 0zM145.2 563.5l0-.1 0 0zM131.4 568l3.5-7.1-2.9-.5zM131.4 568l.6-7.6-4.5-.7zM117.6 570.9l6.1-11.9-5.2-.6zM117.6 570.9l.9-12.5-6.4-.6zM151.1 573.8l3.6-7.4-2.9-1zM151.1 573.8l.7-8.4-6.5-2-.1 .1zM137.3 579.6l7.9-16.1 0-.1-6.6-1.6zM137.3 579.6l1.3-17.8-3.7-.9-3.5 7.1zM123.9 583l7.5-15-3.9-8.3-2.2-.4-1.7 23.7zM123.6 583l1.7-23.7-1.6-.3-6.1 11.9 5.5 12zM112.4 581.2l5.2-10.3-5.5-13.1-.4-.1-1.6 23.3zM110.1 581l1.6-23.3-.3 0-7.5 14.7 3.5 8.3zM171 574.3l.2-.6-.2-.1zM171 574.3l0-.7-.8-.4zM157 583.1l6.3-13.3-5.1-2zM157 583.1l1.2-15.3-3.5-1.4-3.6 7.4zM144.1 588.2l7-14.4-5.9-10.3-1.9 24.5zM143.3 588l1.9-24.5-7.9 16.1 4.4 7.9zM134.4 585.4l2.9-5.8-5.9-11.6-1.2 16.4zM130.2 584.4l1.2-16.4-7.5 15zM123.1 582.9l-5.5-12-.7 11zM116.9 581.9l.7-11-5.2 10.3zM107.4 580.7l-3.5-8.3-.5 7.9zM103.4 580.3l.5-7.9-3.9 7.6zM177 581.3l1.5-3.2-1.2-.8zM177 581.3l.3-4-6.1-3.6-.2 .6zM163 591.3l8-17-.8-1.1-5.5-2.7zM163 591.3l1.7-20.8-1.4-.7-6.3 13.3zM152.9 591.6l4.1-8.5-5.9-9.3-1.3 16.6zM149.8 590.4l1.3-16.6-7 14.4zM141.7 587.5l-4.4-7.9-.5 6.4zM136.8 586l.5-6.4-2.9 5.8zM183 587.4l2.1-4.6-1.6-1.2zM183 587.4l.5-5.8-5-3.5-1.5 3.2zM168.9 598.6l8.1-17.3-6-7-8 17zM161 595.5l2-4.2-6-8.2-.8 10.1zM156.2 593.2l.8-10.1-4.1 8.5zM189 592.4l2.1-4.5-1.6-1.3zM189 592.4l.5-5.8-4.4-3.8-2.1 4.6zM175 604.5l8-17.1-6-6.1-2.1 23.1zM174.9 604.4l2.1-23.1-8.1 17.3 4.7 4.9zM168.4 599.8l.5-1.2-5.9-7.3-.5 5.1zM162.5 596.4l.5-5.1-2 4.2zM195.1 596.5l1.4-3.1-1-1zM195.1 596.5l.4-4.1-4.4-4.5-2.1 4.5zM181.1 609.7l7.9-17.3-6-5-2 22.2zM181 609.6l2-22.2-8 17.1zM173.6 603.5l-4.7-4.9-.1 1.5zM168.8 600.1l.1-1.5-.5 1.2zM201.2 599.5l.1-.2 0-.1zM201.2 599.5l.1-.3-4.8-5.8-1.4 3.1zM187 614.1l8.1-17.6-6.1-4.1zM187 614.1l2-21.7-7.9 17.3 1.2 1.3zM201.3 599.3l-.1 .2 .3 0zM193.1 617.2l8.1-17.7-6.1-3-8.1 17.6zM186.4 615.3l.6-1.2-4.7-3.1zM199.2 619.2l6.3-13.6-4-6.1-.3 0zM199.2 619.2l2-19.7-8.1 17.7zM191.2 621.3l1.9-4.1-6.1-3.1-.2 1.6zM186.8 615.7l.2-1.6-.6 1.2zM205.4 620.1l3.6-7.7-2.3-4.4zM205.4 620.1l1.3-12.1-1.2-2.4-6.3 13.6zM195.2 627.8l4-8.6-6.1-2-.7 6.1zM192.4 623.3l.7-6.1-1.9 4.1zM211.7 619.9l.1-.3 0-.2zM211.7 619.9l.1-.5-2.8-7-3.6 7.7zM198.6 634.7l6.8-14.6-6.2-.9-1.5 13.7zM197.7 632.9l1.5-13.7-4 8.6zM211.8 619.6l-.1 .3 .2 0zM203.4 637.5l8.3-17.6-6.3 .2zM203.4 637.5l2-17.4-6.8 14.6 1.1 3zM209.7 636.2l4.2-8.8-2-7.5-.2 0zM209.7 636.2l2-16.3-8.3 17.6zM201.2 642.2l2.2-4.7-3.7 .2zM213.9 627.4l-4.2 8.8 5.3-2zM203.1 650.1l6.6-13.9-6.3 1.3-1.1 9.1zM202.3 646.6l1.1-9.1-2.2 4.7zM207.7 651.3l7.5-15.6-.2-1.5-5.3 2zM207.7 651.3l2-15.1-6.6 13.9 .4 2.8zM214.2 647.6l1.4-3-.3-5.4zM214.2 647.6l1.1-8.4-.1-3.5-7.5 15.6zM204.2 658.6l3.5-7.3-4.2 1.6zM215.6 644.6l-1.4 3 1.3-1zM205.8 665.1l8.4-17.5-6.5 3.7zM205.8 665.1l1.9-13.8-3.5 7.3 .3 7.2zM212.2 660.3l3-6.3 .3-7.4-1.3 1zM212.2 660.3l2-12.7-8.4 17.5zM204.5 667.7l1.3-2.6-1.3 .7zM204 677.3l8.2-17-6.4 4.8-1.7 10.5zM204.1 675.6l1.7-10.5-1.3 2.6z" fill="#ffff00" stroke="#ffff00" stroke-width=".6"/>
<path d="M133.4 539.9l1.5-2.8-1.3-.2zM133.4 539.9l.2-3-1.6-.2zM153.2 547.2l2.7-5.5-2.3-.6zM153.2 547.2l.4-6.1-4.3-1.1zM139.3 552.2l6.5-13.1-5.4-1.1zM139.3 552.2l1.1-14.2-5.5-.9-1.5 2.8zM125.5 555.4l7.9-15.5-1.4-3.2-5.1-.6zM125.5 555.4l1.4-19.3-4-.5-3.3 6.2zM173 549.3l.5-1-.4-.1zM173 549.3l.1-1.1-1.2-.5zM159.1 557.2l5.9-12.4-4.8-1.7zM159.1 557.2l1.1-14.1-4.3-1.4-2.7 5.5zM145.3 563.4l7.9-16.2-3.9-7.2-2.3-.6-1.8 24zM145.2 563.4l1.8-24-1.2-.3-6.5 13.1 5.9 11.2zM134.9 560.9l4.4-8.7-5.9-12.3-1.4 20.5zM132 560.4l1.4-20.5-7.9 15.5 2 4.3zM123.7 559l1.8-3.6-5.9-13.6-1.1 16.6zM118.5 558.4l1.1-16.6-7.8 15.2 .3 .8zM179 557.1l2.2-4.8-1.7-.9zM179 557.1l.5-5.7-6-3.1-.5 1zM165 566.2l8-16.9-1.1-1.6-5.2-2.2zM165 566.2l1.7-20.7-1.7-.7-5.9 12.4zM154.7 566.4l4.4-9.2-5.9-10-1.4 18.2zM151.8 565.4l1.4-18.2-7.9 16.2zM145.2 563.4l-5.9-11.2-.7 9.6zM138.6 561.8l.7-9.6-4.4 8.7zM127.5 559.7l-2-4.3-.2 3.9zM125.3 559.3l.2-3.9-1.8 3.6zM112.1 557.8l-.3-.8-.1 .7zM111.7 557.7l.1-.7-.4 .7zM185 563.9l3.3-7.3-2.6-1.6zM185 563.9l.7-8.9-4.5-2.7-2.2 4.8zM171.2 573.7l7.8-16.6-6-7.8-2 24.3zM171 573.6l2-24.3-8 16.9 5.2 7zM163.3 569.8l1.7-3.6-5.9-9-.9 10.6zM158.2 567.8l.9-10.6-4.4 9.2zM191 569.7l3.9-8.3-2.9-2.2zM191 569.7l1-10.5-3.7-2.6-3.3 7.3zM178.5 578.1l6.5-14.2-6-6.8-1.7 20.2zM177.3 577.3l1.7-20.2-7.8 16.6zM170.2 573.2l-5.2-7-.3 4.3zM164.7 570.5l.3-4.3-1.7 3.6zM197.1 574.6l3.7-8.2-2.7-2.3zM197.1 574.6l1-10.5-3.2-2.7-3.9 8.3zM185.1 582.8l5.9-13.1-6-5.8-1.5 17.7zM183.5 581.6l1.5-17.7-6.5 14.2zM203.3 578.6l3-6.8-2.2-2.2zM203.3 578.6l.8-9-3.3-3.2-3.7 8.2zM191.1 587.9l6-13.3-6.1-4.9-1.5 16.9zM189.5 586.6l1.5-16.9-5.9 13.1zM209.4 581.5l1.8-3.9-1.3-1.4zM209.4 581.5l.5-5.3-3.6-4.4-3 6.8zM196.5 593.4l6.8-14.8-6.2-4-1.6 17.8zM195.5 592.4l1.6-17.8-6 13.3zM211.2 577.6l-1.8 3.9 5.8 1.8zM201.3 599.3l8.1-17.8-6.1-2.9-2 20.6zM201.3 599.2l2-20.6-6.8 14.8zM207.4 601.4l8.1-17.6-.3-.5-5.8-1.8zM207.4 601.4l2-19.9-8.1 17.8 .2 .2zM213.7 602.3l5.5-11.9-3.6-6.4zM213.7 602.3l1.9-18.3-.1-.2-8.1 17.6zM205.5 605.6l1.9-4.2-5.9-1.9zM220 602.2l2.2-4.7-1.3-3.1zM220 602.2l.9-7.8-1.7-4-5.5 11.9zM209 612.4l4.7-10.1-6.3-.9-.7 6.6zM206.7 608l.7-6.6-1.9 4.2zM222.2 597.5l-2.2 4.7 3.5-.7zM211.8 619.6l8.2-17.4-6.3 .1-1.9 17.1zM211.8 619.4l1.9-17.1-4.7 10.1zM218.1 618.7l6.4-13.7-1-3.5-3.5 .7zM218.1 618.7l1.9-16.5-8.2 17.4 .1 .3zM224.5 616.3l1.5-3.2-.7-3.6zM224.5 616.3l.8-6.8-.8-4.5-6.4 13.7zM213.9 627.4l4.2-8.7-6.2 1.2zM226 613.1l-1.5 3.2 1.7-1zM216.1 633.8l8.4-17.5-6.4 2.4zM216.1 633.8l2-15.1-4.2 8.7 1.1 6.8zM222.6 630.2l4-8.5-.4-6.4-1.7 1zM222.6 630.2l1.9-13.9-8.4 17.5zM215.2 635.7l.9-1.9-1.1 .4zM226.6 621.7l-4 8.5 3.9-2.9zM215.6 644.6l7-14.4-6.5 3.6-.8 5.4zM215.3 639.2l.8-5.4-.9 1.9zM220.6 642.8l5.8-11.9 .1-3.6-3.9 2.9zM220.6 642.8l2-12.6-7 14.4-.1 2zM215.2 654l5.4-11.2-5.1 3.8z" fill="#ff8000" stroke="#ff8000" stroke-width=".6"/>
<path d="M155.2 520.4l1.4-2.9-1.2-.2zM155.2 520.4l.2-3.1-2-.5zM141.4 524.4l4.6-9.1-3.9-.6zM141.4 524.4l.7-9.7-5.5-.7zM175.1 523.8l.1-.3-.1 0zM175.1 523.8l0-.3-.3-.2zM161.1 530.9l5.2-10.6-4.3-1.3zM161.1 530.9l.9-11.9-5.4-1.5-1.4 2.9zM147.3 536.3l7.9-15.9-1.8-3.6-4.6-.9zM147.3 536.3l1.5-20.4-2.8-.6-4.6 9.1zM134.9 537.1l6.5-12.7-4.8-10.4-1.3-.2-1.7 23.1zM133.6 536.9l1.7-23.1-1-.1-6.8 12.9 4.5 10.1zM181 532.2l2.4-5.1-1.9-.8zM181 532.2l.5-5.9-6.3-2.8-.1 .3zM167.1 540.6l8-16.8-.3-.5-6.2-2.2zM167.1 540.6l1.5-19.5-2.3-.8-5.2 10.6zM155.9 541.7l5.2-10.8-5.9-10.5-1.6 20.7zM153.6 541.1l1.6-20.7-7.9 15.9 2 3.7zM145.8 539.1l1.5-2.8-5.9-11.9-1 13.6zM140.4 538l1-13.6-6.5 12.7zM132 536.7l-4.5-10.1-.6 9.5zM126.9 536.1l.6-9.5-4.6 9zM187 539.6l3.9-8.4-3-1.7zM187 539.6l.9-10.1-4.5-2.4-2.4 5.1zM173.5 548.3l7.5-16.1-5.9-8.4-2 24.4zM173.1 548.2l2-24.4-8 16.8 4.8 7.1zM165 544.8l2.1-4.2-6-9.7-.9 12.2zM160.2 543.1l.9-12.2-5.2 10.8zM149.3 540l-2-3.7-.3 3.1zM147 539.4l.3-3.1-1.5 2.8zM193.1 546.2l4.8-10.7-3.7-2.4zM193.1 546.2l1.1-13.1-3.3-1.9-3.9 8.4zM181.2 552.3l5.8-12.7-6-7.4-1.5 19.2zM179.5 551.4l1.5-19.2-7.5 16.1zM171.9 547.7l-4.8-7.1-.4 4.9zM166.7 545.5l.4-4.9-2.1 4.2zM199.2 551.9l5.2-11.7-4-2.9zM199.2 551.9l1.2-14.6-2.5-1.8-4.8 10.7zM188.3 556.6l4.8-10.4-6.1-6.6-1.3 15.4zM185.7 555l1.3-15.4-5.8 12.7zM205.3 556.6l5.1-11.4-3.8-3.2zM205.3 556.6l1.3-14.6-2.2-1.8-5.2 11.7zM194.9 561.4l4.3-9.5-6.1-5.7-1.1 13zM192 559.2l1.1-13-4.8 10.4zM211.4 560.5l4.5-9.9-3.3-3.2zM211.4 560.5l1.2-13.1-2.2-2.2-5.1 11.4zM200.8 566.4l4.5-9.8-6.1-4.7-1.1 12.2zM198.1 564.1l1.1-12.2-4.3 9.5zM217.7 563.4l3.2-7.2-2.3-2.5zM217.7 563.4l.9-9.7-2.7-3.1-4.5 9.9zM206.3 571.8l5.1-11.3-6.1-3.9-1.2 13zM204.1 569.6l1.2-13-4.5 9.8zM223.9 565.3l1.4-3-.9-1.3zM223.9 565.3l.5-4.3-3.5-4.8-3.2 7.2zM211.2 577.6l6.5-14.2-6.3-2.9-1.5 15.7zM209.9 576.2l1.5-15.7-5.1 11.3zM225.3 562.3l-1.4 3 3.6 .6zM215.7 583.5l8.2-18.2-6.2-1.9zM215.7 583.5l2-20.1-6.5 14.2 4 5.7zM222 584.4l7.2-15.7-1.7-2.8-3.6-.6zM222 584.4l1.9-19.1-8.2 18.2zM215.5 583.8l.2-.3-.5-.2zM228.3 584.3l4.1-8.8-2.5-5.3zM228.3 584.3l1.6-14.1-.7-1.5-7.2 15.7zM219.2 590.4l2.8-6-6.3-.9-.1 .5zM215.6 584l.1-.5-.2 .3zM234.8 583.3l.2-.5-.1-.3zM234.8 583.3l.1-.8-2.5-7-4.1 8.8zM222.2 597.5l6.1-13.2-6.3 .1-1.1 10zM220.9 594.4l1.1-10-2.8 6zM235 582.8l-.2 .5 .3-.1zM226.4 601l8.4-17.7-6.5 1zM226.4 601l1.9-16.7-6.1 13.2 1.3 4zM232.9 598.7l3.8-8.1-1.6-7.4-.3 .1zM232.9 598.7l1.9-15.4-8.4 17.7zM224.5 605l1.9-4-2.9 .5zM236.7 590.6l-3.8 8.1 4.5-2.3zM226 613.1l6.9-14.4-6.5 2.3-1.1 8.5zM225.3 609.5l1.1-8.5-1.9 4zM231 612.7l6.7-13.7-.3-2.6-4.5 2.3zM231 612.7l1.9-14-6.9 14.4 .2 2.2zM237.6 608.1l0-.1 0-.1zM237.6 608.1l0-.2 .1-8.9-6.7 13.7zM226.6 621.7l4.4-9-4.8 2.6zM229.1 625.4l8.5-17.3-6.6 4.6zM229.1 625.4l1.9-12.7-4.4 9-.1 5.6zM226.4 630.9l2.7-5.5-2.6 1.9z" fill="#ff0000" stroke="#ff0000" stroke-width=".6"/>
<path d="M163.2 504.4l4-8.2-3.3-.9zM163.2 504.4l.7-9.1-6.4-1.4zM149.3 508.9l7.7-15.1-6.5-1.2zM149.3 508.9l1.2-16.3-4.7-.6-2.4 4.5zM183.1 506.9l2.1-4.4-1.7-.7zM183.1 506.9l.4-5.1-5.2-2zM169.1 514.5l7.5-15.4-6.1-2zM169.1 514.5l1.4-17.4-3.3-.9-4 8.2zM156.6 517.5l6.6-13.1-5.7-10.5-.3-.1-1.8 23.5zM155.4 517.3l1.8-23.5-.2 0-7.7 15.1 4.1 7.9zM146 515.3l3.3-6.4-5.9-12.4-1.3 18.2zM142.1 514.7l1.3-18.2-7.9 15 1.1 2.5zM189.1 514.9l4-8.7-3.2-1.5zM189.1 514.9l.8-10.2-4.7-2.2-2.1 4.4zM175.2 523.5l7.9-16.6-4.8-7.1-1.3-.5-1.9 24.2zM175.1 523.5l1.9-24.2-.4-.2-7.5 15.4 5.7 8.8zM166.3 520.3l2.8-5.8-5.9-10.1-1.2 14.6zM162 519l1.2-14.6-6.6 13.1zM153.4 516.8l-4.1-7.9-.5 7zM148.8 515.9l.5-7-3.3 6.4zM136.6 514l-1.1-2.5-.2 2.3zM135.3 513.8l.2-2.3-1.2 2.2zM195.1 522l5.4-11.7-4.2-2.4zM195.1 522l1.2-14.1-3.2-1.7-4 8.7zM183.4 527.1l5.7-12.2-6-8-1.6 19.4zM181.5 526.3l1.6-19.4-7.9 16.6zM174.8 523.3l-5.7-8.8-.5 6.6zM168.6 521.1l.5-6.6-2.8 5.8zM201.2 528.3l6.2-13.6-4.8-3.1zM201.2 528.3l1.4-16.7-2.1-1.3-5.4 11.7zM190.9 531.2l4.2-9.2-6-7.1-1.2 14.6zM187.9 529.5l1.2-14.6-5.7 12.2zM207.3 533.8l6.5-14.5-4.9-3.6zM207.3 533.8l1.6-18.1-1.5-1-6.2 13.6zM197.9 535.5l3.3-7.2-6.1-6.3-.9 11.1zM194.2 533.1l.9-11.1-4.2 9.2zM213.5 538.4l6.2-14.1-4.6-3.9zM213.5 538.4l1.6-18-1.3-1.1-6.5 14.5zM204.4 540.2l2.9-6.4-6.1-5.5-.8 9zM200.4 537.3l.8-9-3.3 7.2zM219.7 542.1l5.6-12.5-4.1-3.9zM219.7 542.1l1.5-16.4-1.5-1.4-6.2 14.1zM210.4 545.2l3.1-6.8-6.2-4.6-.7 8.2zM206.6 542l.7-8.2-2.9 6.4zM225.9 545l4.4-9.9-3.1-3.4zM225.9 545l1.3-13.3-1.9-2.1-5.6 12.5zM215.9 550.6l3.8-8.5-6.2-3.7-.9 9zM212.6 547.4l.9-9-3.1 6.8zM232.3 547l2.6-6-1.8-2.4zM232.3 547l.8-8.4-2.8-3.5-4.4 9.9zM220.9 556.2l5-11.2-6.2-2.9-1.1 11.6zM218.6 553.7l1.1-11.6-3.8 8.5zM238.6 548.1l.4-.9-.2-.3zM238.6 548.1l.2-1.2-3.9-5.9-2.6 6zM225.3 562.3l7-15.3-6.4-2-1.5 16zM224.4 561l1.5-16-5 11.2zM239 547.2l-.4 .9 .9 0zM230.3 566.3l8.3-18.2-6.3-1.1zM230.3 566.3l2-19.3-7 15.3 2.2 3.6zM236.7 566.4l5.8-12.5-3-5.8-.9 0zM236.7 566.4l1.9-18.3-8.3 18.2zM229.2 568.7l1.1-2.4-2.8-.4zM243.2 565.4l2.1-4.5-1.3-3.1zM243.2 565.4l.8-7.6-1.5-3.9-5.8 12.5zM232.4 575.5l4.3-9.1-6.4-.1-.4 3.9zM229.9 570.2l.4-3.9-1.1 2.4zM245.3 560.9l-2.1 4.5 3.2-.9zM235 582.8l8.2-17.4-6.5 1-1.8 16.1zM234.9 582.5l1.8-16.1-4.3 9.1zM241.3 581.1l6.1-12.6-1-4-3.2 .9zM241.3 581.1l1.9-15.7-8.2 17.4 .1 .4zM247.9 578l.7-1.4-.3-1.9zM247.9 578l.4-3.3-.9-6.2-6.1 12.6zM236.7 590.6l4.6-9.5-6.2 2.1zM248.6 576.6l-.7 1.4 .8-.5zM239.4 595.3l8.5-17.3-6.6 3.1zM239.4 595.3l1.9-14.2-4.6 9.5 .7 5.8zM246.1 590.9l2.8-5.6-.2-7.8-.8 .5zM246.1 590.9l1.8-12.9-8.5 17.3zM237.7 599l1.7-3.7-2 1.1zM237.6 608l8.5-17.1-6.7 4.4-1.8 12.6zM237.6 607.9l1.8-12.6-1.7 3.7z" fill="#c80000" stroke="#c80000" stroke-width=".6"/>
<path d="M181.2 447.1l8-15.4-6-5.4-8 10.9zM187.2 456.3l8-16.1-6-8.5-8 15.4zM173.2 462.5l8-15.4-6-9.9-8 14.7zM193.2 464.8l8-16.7-6-7.9-8 16.1zM179.1 472.4l8.1-16.1-6-9.2-8 15.4zM165.2 478l8-15.5-6-10.6-7.9 14.8zM199.2 472.7l8.1-17.3-6.1-7.3-8 16.7zM185.1 481.5l8.1-16.7-6-8.5-8.1 16.1zM171.1 488.4l8-16-5.9-9.9-8 15.5zM157.2 493.4l8-15.4-5.9-11.3-8 14.9zM205.3 479.8l8.1-17.8-6.1-6.6-8.1 17.3zM191.1 489.8l8.1-17.1-6-7.9-8.1 16.7zM177.1 498.1l8-16.6-6-9.1-8 16zM167.2 496.2l3.9-7.8-5.9-10.4-1.3 17.3zM163.9 495.3l1.3-17.3-8 15.4 .3 .5zM157 493.8l.2-.4-5.9-11.8-.8 11zM150.5 492.6l.8-11-5.5 10.4zM211.4 486.2l8.2-18.1-6.2-6.1-8.1 17.8zM197.2 497.4l8.1-17.6-6.1-7.1-8.1 17.1zM185.2 502.5l5.9-12.7-6-8.3-1.6 20.3zM183.5 501.8l1.6-20.3-8 16.6 1.2 1.7zM176.6 499.1l.5-1-6-9.7-.6 8.7zM170.5 497.1l.6-8.7-3.9 7.8zM157.5 493.9l-.3-.5 0 .4zM157.2 493.8l0-.4-.2 .4zM217.5 492l8.2-18.5-6.1-5.4-8.2 18.1zM203.2 504.2l8.2-18-6.1-6.4-8.1 17.6zM193.1 506.2l4.1-8.8-6.1-7.6-1.2 14.9zM189.9 504.7l1.2-14.9-5.9 12.7zM178.3 499.8l-1.2-1.7-.1 1.2zM177 499.3l.1-1.2-.5 1zM223.7 497l8.3-18.7-6.3-4.8-8.2 18.5zM209.3 510.3l8.2-18.3-6.1-5.8-8.2 18zM200.5 510.3l2.7-6.1-6-6.8-.9 10.5zM196.3 507.9l.9-10.5-4.1 8.8zM229.9 501.3l8.4-18.9-6.3-4.1-8.3 18.7zM215.5 515.5l8.2-18.5-6.2-5-8.2 18.3zM207.4 514.7l1.9-4.4-6.1-6.1-.6 7.4zM202.6 511.6l.6-7.4-2.7 6.1zM236.2 504.8l8.4-18.9-6.3-3.5-8.4 18.9zM221.7 519.9l8.2-18.6-6.2-4.3-8.2 18.5zM213.8 519.3l1.7-3.8-6.2-5.2-.4 5.4zM208.9 515.7l.4-5.4-1.9 4.4zM242.6 507.7l8.4-19-6.4-2.8-8.4 18.9zM227.9 523.6l8.3-18.8-6.3-3.5-8.2 18.6zM219.7 524.3l2-4.4-6.2-4.4-.4 4.9zM215.1 520.4l.4-4.9-1.7 3.8zM249 509.7l8.4-18.8-6.4-2.2-8.4 19zM234.2 526.4l8.4-18.7-6.4-2.9-8.3 18.8zM225.3 529.6l2.6-6-6.2-3.7-.5 5.8zM221.2 525.7l.5-5.8-2 4.4zM255.5 511.1l8.5-18.7-6.6-1.5-8.4 18.8zM240.6 528.5l8.4-18.8-6.4-2-8.4 18.7zM230.3 535.1l3.9-8.7-6.3-2.8-.7 8.1zM227.2 531.7l.7-8.1-2.6 6zM262 511.7l8.6-18.5-6.6-.8-8.5 18.7zM247 529.7l8.5-18.6-6.5-1.4-8.4 18.8zM234.9 541l5.7-12.5-6.4-2.1-1.1 12.2zM233.1 538.6l1.1-12.2-3.9 8.7zM268.7 511.5l8.4-15.7-6.5-2.6-8.6 18.5zM253.5 530l8.5-18.3-6.5-.6-8.5 18.6zM239 547.2l8-17.5-6.4-1.2-1.8 18.4zM238.8 546.9l1.8-18.4-5.7 12.5zM275.4 510.5l8.3-9.8-6.6-4.9-8.4 15.7zM260.1 529.6l8.6-18.1-6.7 .2-8.5 18.3zM245.1 548.3l8.4-18.3-6.5-.3zM245.1 548.3l1.9-18.6-8 17.5 .5 .9zM282.1 510l8.2-4.4-6.6-4.9-8.3 9.8zM266.8 528.2l8.6-17.7-6.7 1-8.6 18.1zM251.6 547.5l8.5-17.9-6.6 .4-8.4 18.3zM242.5 553.9l2.6-5.6-5.6-.2zM288.8 514.9l8.2-4.4-6.7-4.9-8.2 4.4zM273.6 526.1l8.5-16.1-6.7 .5-8.6 17.7zM258.3 545.9l8.5-17.7-6.7 1.4-8.5 17.9zM245.3 560.9l6.3-13.4-6.5 .8-1.1 9.5zM244 557.8l1.1-9.5-2.6 5.6zM280.4 523l8.4-8.1-6.7-4.9-8.5 16.1zM265 543.3l8.6-17.2-6.8 2.1-8.5 17.7zM249.8 563.5l8.5-17.6-6.7 1.6zM249.8 563.5l1.8-16-6.3 13.4 1.1 3.6zM271.8 539.9l8.6-16.9-6.8 3.1-8.6 17.2zM256.4 560.7l8.6-17.4-6.7 2.6-8.5 17.6zM247.4 568.5l2.4-5-3.4 1zM263.2 556.8l8.6-16.9-6.8 3.4-8.6 17.4zM248.6 576.6l7.8-15.9-6.6 2.8-1.5 11.2zM248.3 574.7l1.5-11.2-2.4 5zM254.6 573.8l8.6-17-6.8 3.9zM254.6 573.8l1.8-13.1-7.8 15.9 .1 .9zM248.9 585.3l5.7-11.5-5.9 3.7z" fill="#8c0000" stroke="#8c0000" stroke-width=".6"/>
<path class="m" d="M161.9 767.5l-6.1 3.2-6 2.1-6-2.7-6-5.8-6-5.9-5.9-5.8-5.9-5.8-5.9-5.7-5.8-5.7-5.8-5.7-5.8-5.6-5.7-5.6-5.7-5.6-5.6-5.6-5.6-5.5-5.7-8.5-5.8-13.1-5.8-14M170.3 749.4l-6.2 3.6-6.1 2.5-6 1.4-6 .3-5.9-4-6-5.8-5.9-5.7-5.9-5.8-5.8-5.6-5.8-5.7-5.8-5.6-5.7-5.6-5.7-5.5-5.7-6.7-5.8-11.2-5.7-12.3-5.8-13.2-5.9-14.2M178.6 731.3l-6.2 4.1-6.1 2.8-6.1 1.7-6 .6-6-.5-5.9-1.7-5.9-2.8-5.9-4.7-5.8-5.6-5.8-5.6-5.8-6.2-5.8-8.1-5.8-9.3-5.8-10.2-5.8-11.3-5.8-12.3-5.8-13.3-5.8-14.3M187 713.4l-6.3 4.4-6.2 3.1-6.1 2-6 .8-6.1-.4-5.9-1.5-5.9-2.6-5.9-3.7-5.9-4.8-5.8-6-5.9-7-5.8-8.1-5.8-9.2-5.8-10.2-5.8-11.3-5.8-12.3-5.8-13.4-5.9-14.3M195.4 695.6l-6.3 4.6-6.3 3.3-6.2 2.2-6.1 1-6-.2-6-1.3-6-2.4-5.9-3.6-5.9-4.7-5.9-5.9-5.8-6.9-5.8-8-5.9-9.1-5.8-10.2-5.8-11.2-5.8-12.3-5.9-13.3-5.8-14.3M203.8 677.9l-6.4 4.7-6.3 3.5-6.2 2.4-6.2 1.1-6.1 0-6-1.2-6-2.3-6-3.5-5.9-4.6-5.9-5.7-5.8-6.8-5.9-7.9-5.8-9-5.9-10-5.8-11.2-5.9-12.1-5.8-13.3-5.9-14.2M212.2 660.3l-6.4 4.8-6.4 3.6-6.3 2.4-6.2 1.3-6.1 .1-6.1-1.1-6-2.2-6-3.4-5.9-4.4-6-5.6-5.9-6.7-5.8-7.8-5.9-8.8-5.9-9.9-5.8-11-5.9-12.1-5.8-13-5.9-14.1M220.6 642.8l-6.4 4.8-6.5 3.7-6.3 2.4-6.2 1.3-6.2 .2-6.1-1-6.1-2.1-6-3.3-6-4.3-6-5.5-5.9-6.5-5.9-7.6-5.9-8.7-5.8-9.8-5.9-10.8-5.9-11.8-5.9-12.9-5.8-13.9M229.1 625.4l-6.5 4.8-6.5 3.6-6.4 2.4-6.3 1.3-6.2 .2-6.2-.9-6.1-2.1-6-3.1-6.1-4.2-5.9-5.4-6-6.4-5.9-7.4-5.9-8.5-5.9-9.5-5.9-10.6-5.9-11.6-5.9-12.6-5.9-13.6M237.6 608.1l-6.6 4.6-6.5 3.6-6.4 2.4-6.4 1.2-6.3 .2-6.2-.9-6.1-2-6.1-3.1-6.1-4.1-6-5.2-6-6.2-5.9-7.3-6-8.2-5.9-9.3-5.9-10.3-5.9-11.3-5.9-12.3-5.9-13.3M246.1 590.9l-6.7 4.4-6.5 3.4-6.5 2.3-6.4 1.2-6.3 .1-6.3-.9-6.2-1.9-6.1-3-6.1-4.1-6-5-6-6.1-6-7-6-8.1-5.9-9-5.9-10-5.9-10.9-5.9-11.9-5.9-12.9M254.6 573.8l-6.7 4.2-6.6 3.1-6.5 2.2-6.5 1-6.3 .1-6.3-.9-6.3-2-6.1-2.9-6.2-4-6.1-4.9-6-5.8-6-6.8-6-7.8-5.9-8.7-6-9.7-5.9-10.5-5.9-11.5-5.9-12.4M263.2 556.8l-6.8 3.9-6.6 2.8-6.6 1.9-6.5 1-6.4-.1-6.4-1-6.2-1.9-6.3-2.9-6.1-3.9-6.1-4.7-6.1-5.7-6.1-6.6-6-7.4-5.9-8.4-6-9.3-5.9-10.1-6-11-5.9-11.8M271.8 539.9l-6.8 3.4-6.7 2.6-6.7 1.6-6.5 .8-6.5-.2-6.3-1.1-6.4-2-6.2-2.9-6.2-3.7-6.2-4.6-6.1-5.5-6.1-6.3-6-7.1-6-8-6-8.8-6-9.7-5.9-10.4-5.9-11.3M280.4 523l-6.8 3.1-6.8 2.1-6.7 1.4-6.6 .4-6.5-.3-6.4-1.2-6.4-2.1-6.3-2.8-6.2-3.7-6.2-4.4-6.2-5.2-6.1-6.1-6-6.8-6.1-7.6-6-8.3-6-9.1-5.9-9.9-6-10.6M288.8 514.9l-6.7-4.9-6.7 .5-6.7 1-6.7 .2-6.5-.6-6.5-1.4-6.4-2-6.4-2.9-6.3-3.5-6.2-4.3-6.2-5-6.1-5.8-6.1-6.4-6.1-7.1-6-7.9-6-8.5-6-9.2-6-9.9M297 510.5l-6.7-4.9-6.6-4.9-6.6-4.9-6.5-2.6-6.6-.8-6.6-1.5-6.4-2.2-6.4-2.8-6.3-3.5-6.3-4.1-6.3-4.8-6.1-5.4-6.2-6.1-6.1-6.6-6.1-7.3-6-7.9-6-8.5-6-5.4M161.9 767.5l8.4-18.1 8.3-18.1 8.4-17.9 8.4-17.8 8.4-17.7 8.4-17.6 8.4-17.5 8.5-17.4 8.5-17.3 8.5-17.2 8.5-17.1 8.6-17 8.6-16.9 8.6-16.9 8.4-8.1 8.2-4.4M155.8 770.7l8.3-17.7 8.3-17.6 8.3-17.6 8.4-17.6 8.3-17.6 8.4-17.5 8.4-17.5 8.4-17.4 8.4-17.5 8.4-17.4 8.5-17.3 8.5-17.3 8.6-17.4 8.6-17.2 8.5-16.1 8.2-4.4M149.8 772.8l8.2-17.3 8.3-17.3 8.2-17.3 8.3-17.4 8.3-17.4 8.3-17.4 8.3-17.4 8.4-17.5 8.4-17.5 8.4-17.6 8.4-17.6 8.5-17.6 8.5-17.6 8.5-17.7 8.6-17.7 8.3-9.8M143.8 770.1l8.2-13.2 8.2-17 8.2-17 8.2-17.2 8.3-17.2 8.2-17.4 8.3-17.4 8.3-17.5 8.4-17.5 8.3-17.7 8.4-17.7 8.4-17.9 8.4-17.9 8.5-17.9 8.6-18.1 8.4-15.7M137.8 764.3l8.2-7.1 8.2-16.7 8.2-16.8 8.1-17 8.2-17.1 8.2-17.2 8.3-17.4 8.2-17.5 8.3-17.6 8.3-17.7 8.3-17.9 8.4-17.9 8.4-18.1 8.4-18.3 8.5-18.3 8.6-18.5M131.8 758.4l8.3-5.2 8.1-13.2 8.1-16.7 8.2-16.8 8.1-16.9 8.2-17.1 8.2-17.3 8.2-17.5 8.2-17.6 8.3-17.8 8.3-17.9 8.3-18.1 8.3-18.2 8.4-18.4 8.5-18.6 8.5-18.7M125.9 752.6l8.2-5.2 8.2-9.1 8.1-16.5 8.1-16.6 8.1-16.8 8.1-17 8.2-17.2 8.1-17.4 8.2-17.6 8.2-17.8 8.3-17.9 8.2-18.2 8.4-18.3 8.3-18.5 8.4-18.8 8.4-18.8M120 746.8l8.2-5.1 8.2-6.2 8.1-16.3 8-16.4 8.1-16.7 8.1-16.9 8.1-17.1 8.1-17.4 8.2-17.5 8.1-17.7 8.2-18 8.3-18.1 8.2-18.4 8.3-18.6 8.4-18.7 8.4-19M114.1 741.1l8.2-5.2 8.2-5.1 8.1-15.3 8-16.3 8-16.6 8.1-16.8 8.1-17 8.1-17.2 8.1-17.5 8.1-17.6 8.2-17.9 8.1-18.1 8.3-18.4 8.2-18.5 8.3-18.8 8.4-18.9M108.3 735.4l8.2-5.1 8.2-5.1 8-14.5 8-16.2 8-16.5 8.1-16.6 8-16.9 8-17.1 8.1-17.4 8.1-17.6 8.1-17.8 8.2-18 8.2-18.2 8.2-18.5 8.2-18.6 8.4-18.9M102.5 729.7l8.2-5.1 8.2-5 8-14.9 7.9-16.1 8-16.3 8-16.5 8-16.8 8.1-17 8-17.2 8.1-17.4 8-17.7 8.2-17.8 8.1-18.1 8.2-18.3 8.2-18.5 8.3-18.7M96.7 724.1l8.2-5.1 8.2-5.6 7.9-15.7 8-16 8-16.2 7.9-16.4 8-16.6 8-16.9 8-17 8.1-17.3 8-17.4 8.1-17.7 8.1-17.9 8.1-18 8.2-18.3 8.2-18.5M91 718.5l8.2-5.1 8.1-8.1 7.9-15.7 8-15.9 7.9-16.1 8-16.3 7.9-16.4 8-16.7 8-16.9 8-17 8-17.2 8-17.5 8.1-17.6 8.1-17.8 8.2-18 8.2-18.1M85.3 712.9l8.2-5 8-11.9 7.9-15.6 7.9-15.8 8-16 7.9-16.1 7.9-16.3 8-16.5 7.9-16.6 8-16.9 8-16.9 8-17.1 8.1-17.3 8.1-17.5 8.1-17.6 8.1-17.8M79.7 707.3l8.1-6.1 7.9-15.4 7.9-15.6 7.9-15.8 7.9-15.8 7.9-16 8-16.2 7.9-16.2 7.9-16.4 8-16.6 8-16.6 8-16.8 8-16.9 8-17.1 8.1-17.1 8.1-17.3M74.1 701.8l7.9-11.8 7.9-15.5 7.9-15.6 7.9-15.7 7.9-15.8 7.9-15.8 7.9-16 7.9-16 7.9-16.1 8-16.3 7.9-16.3 8-16.4 8-16.4 8-16.6 8.1-16.7 8-16.7M68.4 693.3l7.9-15.6 7.8-15.5 7.9-15.6 7.9-15.7 7.8-15.6 7.9-15.8 7.9-15.7 7.9-15.8 7.9-15.8 8-15.9 7.9-15.9 8-16 7.9-16 8-16 8.1-16.1 8-16.1M62.6 680.2l7.9-15.7 7.8-15.6 7.9-15.7 7.8-15.6 7.9-15.6 7.9-15.5 7.8-15.6 7.9-15.5 7.9-15.5 8-15.5 7.9-15.5 7.9-15.5 8-15.4 8-15.5 8-15.4 8-15.4M56.8 666.2l7.8-15.9 7.9-15.7 7.8-15.7 7.9-15.6 7.8-15.5 7.9-15.4 7.9-15.4 7.8-15.2 7.9-15.2 8-15.1 7.9-15 7.9-14.9 8-14.9 7.9-14.8 8-14.7 8-10.9"/>
<text x="36.5" y="502.0" dy=".35em" font-size="11.8" text-anchor="middle" transform="rotate(-20.0 36.5 502.0)">26</text>
<text x="38.4" y="533.9" dy=".35em" font-size="11.8" text-anchor="middle" transform="rotate(-20.0 38.4 533.9)">22</text>
<text x="40.2" y="565.7" dy=".35em" font-size="11.8" text-anchor="middle" transform="rotate(-20.0 40.2 565.7)">18</text>
<text x="42.1" y="597.6" dy=".35em" font-size="11.8" text-anchor="middle" transform="rotate(-20.0 42.1 597.6)">14</text>
<text x="43.9" y="629.4" dy=".35em" font-size="11.8" text-anchor="middle" transform="rotate(-20.0 43.9 629.4)">10</text>
<text x="45.8" y="661.3" dy=".35em" font-size="11.8" text-anchor="middle" transform="rotate(-20.0 45.8 661.3)">6</text>
<text x="143.8" y="796.8" dy=".35em" font-size="11.3" text-anchor="middle" transform="rotate(-38.0 143.8 796.8)">-0.002</text>
<text x="125.9" y="780.4" dy=".35em" font-size="11.3" text-anchor="middle" transform="rotate(-38.0 125.9 780.4)">0.002</text>
<text x="108.0" y="764.1" dy=".35em" font-size="11.3" text-anchor="middle" transform="rotate(-38.0 108.0 764.1)">0.006</text>
<text x="90.1" y="747.8" dy=".35em" font-size="11.3" text-anchor="middle" transform="rotate(-38.0 90.1 747.8)">0.010</text>
<text x="72.2" y="731.4" dy=".35em" font-size="11.3" text-anchor="middle" transform="rotate(-38.0 72.2 731.4)">0.014</text>
<text x="54.3" y="715.1" dy=".35em" font-size="11.3" text-anchor="middle" transform="rotate(-38.0 54.3 715.1)">0.018</text>
<text x="36.4" y="698.7" dy=".35em" font-size="11.3" text-anchor="middle" transform="rotate(-38.0 36.4 698.7)">0.022</text>
<text x="171.9" y="799.2" dy=".35em" font-size="11.8" text-anchor="middle" transform="rotate(-35.0 171.9 799.2)">1.5</text>
<text x="197.6" y="781.9" dy=".35em" font-size="11.8" text-anchor="middle" transform="rotate(-35.0 197.6 781.9)">2.5</text>
<text x="223.3" y="764.6" dy=".35em" font-size="11.8" text-anchor="middle" transform="rotate(-35.0 223.3 764.6)">3.5</text>
<text x="249.0" y="747.3" dy=".35em" font-size="11.8" text-anchor="middle" transform="rotate(-35.0 249.0 747.3)">4.5</text>
<text x="274.7" y="730.0" dy=".35em" font-size="11.8" text-anchor="middle" transform="rotate(-35.0 274.7 730.0)">5.5</text>
<text x="300.4" y="712.7" dy=".35em" font-size="11.8" text-anchor="middle" transform="rotate(-35.0 300.4 712.7)">6.5</text>
<text x="19.5" y="610.0" dy=".35em" font-size="13" text-anchor="middle" transform="rotate(88.0 19.5 610.0)" textLength="154.0" lengthAdjust="spacingAndGlyphs">Lipase activity (U/gds)</text>
<text x="55.0" y="766.4" dy=".35em" font-size="12.5" text-anchor="middle" transform="rotate(47.7 55.0 766.4)" textLength="69.5" lengthAdjust="spacingAndGlyphs">CaSO4 (g/l)</text>
<text x="256.0" y="770.0" dy=".35em" font-size="12.5" text-anchor="middle" transform="rotate(-32.9 256.0 770.0)" textLength="133.5" lengthAdjust="spacingAndGlyphs">Cotton seed waste(g/l)</text>
</g>
<rect x="4.5" y="432.5" width="38.0" height="38.0" fill="#fff" stroke="#000" stroke-width="1.2" shape-rendering="crispEdges"/><text x="23.5" y="460.3" font-size="24" text-anchor="middle" style="fill:#000">C</text>
<g class="p">
<path d="M441.5 697.5l-4.5-190.9 124.4-66.6 107.6 82.5-6 195-120 82.5z" fill="#3f8282"/>
<path d="M543 800l-101.5-102.5-4.5-190.9M568 782.8l-101.7-100.7-3.6-189.2M592.4 766l-101.7-99-2.8-187.7M616.4 749.5l-101.8-97.3-1.8-186.2M639.9 733.4l-101.9-95.8-.7-184.7M663 717.5l-102-94.1 .4-183.4M543 800l120-82.5 6-195M529.8 786.7l119.9-81.4 5.2-193.6M516.7 773.5l119.9-80.3 4.5-192.1M503.8 760.4l119.9-79.2 3.7-190.6M491.1 747.6l119.8-78.2 2.9-189.2M478.5 734.8l119.7-77.1 2.3-187.7M466 722.2l119.7-76.1 1.6-186.3M453.7 709.8l119.6-75.1 1-184.8M441.5 697.5l119.5-74.1 .4-183.4M440.7 665.2l120.4-72.9 102.9 92.2M440 633.6l121.1-71.6 103.9 90.2M439.2 602l122-70.3 104.8 88.3M438.5 570.5l122.8-69.1 105.7 86.4M437.8 538.9l123.5-67.8 106.7 84.4M437 507.4l124.4-66.6 107.6 82.5M441.5 697.5l119.5-74.1 102 94.1M561 623.4l.4-183.4" fill="none" stroke="#bccfcf" stroke-width="0.9"/>
<path d="M437 506.6l4.5 190.9 101.5 102.5 120-82.5" fill="none" stroke="#0a1414" stroke-width="1.1"/>
<path d="M437 506.6l4.5 190.9" fill="none" stroke="#0a1414" stroke-width="1.6" stroke-dasharray="1 3.4" transform="translate(-1 0)"/>
<path d="M441.5 697.5l101.5 102.5" fill="none" stroke="#0a1414" stroke-width="1.6" stroke-dasharray="1 3.4" transform="translate(-.7 .8)"/>
<path d="M543 800l120-82.5" fill="none" stroke="#0a1414" stroke-width="1.6" stroke-dasharray="1 3.4" transform="translate(.6 .9)"/>
<path class="f c8" d="M560.3 521.5l6.5-3.6-2.9-6.8-3.1 1.8zM560.3 521.5l.5-8.6-3.4 2z"/>
<path class="f c9" d="M563.9 511.1l-2.6-6-.5 7.8zM560.8 512.9l.5-7.8-6.6 3.5 2.7 6.3z"/>
<path class="m" d="M560.3 521.5l6.5-3.6-5.5-12.8-6.6 3.5z"/>
<path class="f c8" d="M553.7 525.5l6.6-4-2.9-6.6-3.2 1.8zM553.7 525.5l.5-8.8-3.4 1.9z"/>
<path class="f c9" d="M557.4 514.9l-2.7-6.3-.5 8.1zM554.2 516.7l.5-8.1-6.6 3.9 2.7 6.1z"/>
<path class="m" d="M553.7 525.5l6.6-4-5.6-12.9-6.6 3.9z"/>
<path class="f c7" d="M565.9 534.3l6.5-3.6-3.3-7.7-2.7 1.6zM565.9 534.3l.5-9.7-3.8 2.3z"/>
<path class="f c8" d="M569.1 523l-2.3-5.1-.4 6.7zM566.4 524.6l.4-6.7-6.5 3.6 2.3 5.4z"/>
<path class="m" d="M565.9 534.3l6.5-3.6-5.6-12.8-6.5 3.6z"/>
<path class="f c8" d="M547.1 529.7l6.6-4.2-2.9-6.9-3.1 1.5zM547.1 529.7l.6-9.6-3.9 1.9z"/>
<path class="f c9" d="M550.8 518.6l-2.7-6.1-.4 7.6zM547.7 520.1l.4-7.6-6.6 4.2 2.3 5.3z"/>
<path class="m" d="M547.1 529.7l6.6-4.2-5.6-13-6.6 4.2z"/>
<path class="f c7" d="M559.3 538.3l6.6-4-3.3-7.4-2.7 1.5zM559.3 538.3l.6-9.9-4 2.1z"/>
<path class="f c8" d="M562.6 526.9l-2.3-5.4-.4 6.9zM559.9 528.4l.4-6.9-6.6 4 2.2 5z"/>
<path class="m" d="M559.3 538.3l6.6-4-5.6-12.8-6.6 4z"/>
<path class="f c6" d="M571.5 546.9l6.5-3.7-3.6-8.1-2.3 1.4zM571.5 546.9l.6-10.4-4.1 2.5z"/>
<path class="f c7" d="M574.4 535.1l-2-4.4-.3 5.8zM572.1 536.5l.3-5.8-6.5 3.6 2.1 4.7z"/>
<path class="m" d="M571.5 546.9l6.5-3.7-5.6-12.5-6.5 3.6z"/>
<path class="f c8" d="M540.5 534.3l6.6-4.6-3.3-7.7-2.7 1.3zM540.5 534.3l.6-11-4.4 2.1z"/>
<path class="f c9" d="M543.8 522l-2.3-5.3-.4 6.6zM541.1 523.3l.4-6.6-6.6 4.5 1.8 4.2z"/>
<path class="m" d="M540.5 534.3l6.6-4.6-5.6-13-6.6 4.5z"/>
<path class="f c7" d="M552.7 542.6l6.6-4.3-3.4-7.8-2.5 1.3zM552.7 542.6l.7-10.8-4.4 2.2z"/>
<path class="f c8" d="M555.9 530.5l-2.2-5-.3 6.3zM553.4 531.8l.3-6.3-6.6 4.2 1.9 4.3z"/>
<path class="m" d="M552.7 542.6l6.6-4.3-5.6-12.8-6.6 4.2z"/>
<path class="f c6" d="M564.9 550.8l6.6-3.9-3.5-7.9-2.5 1.4zM564.9 550.8l.6-10.4-4.2 2.3z"/>
<path class="f c7" d="M568 539l-2.1-4.7-.4 6.1zM565.5 540.4l.4-6.1-6.6 4 2 4.4z"/>
<path class="m" d="M564.9 550.8l6.6-3.9-5.6-12.6-6.6 4z"/>
<path class="f c5" d="M577.1 559l6.5-3.6-3.7-7.9-2.2 1.4zM577.1 559l.6-10.1-4.1 2.5z"/>
<path class="f c6" d="M579.9 547.5l-1.9-4.3-.3 5.7zM577.7 548.9l.3-5.7-6.5 3.7 2.1 4.5z"/>
<path class="m" d="M577.1 559l6.5-3.6-5.6-12.2-6.5 3.7z"/>
<path class="f c6" d="M558.4 555.1l6.5-4.3-3.6-8.1-2.3 1.2zM558.4 555.1l.6-11.2-4.6 2.4z"/>
<path class="f c7" d="M561.3 542.7l-2-4.4-.3 5.6zM559 543.9l.3-5.6-6.6 4.3 1.7 3.7z"/>
<path class="m" d="M558.4 555.1l6.5-4.3-5.6-12.5-6.6 4.3z"/>
<path class="f c8" d="M533.9 539.3l6.6-5-3.8-8.9-2.1 .8zM533.9 539.3l.7-13.1-5.3 2.3z"/>
<path class="f c9" d="M536.7 525.4l-1.8-4.2-.3 5zM534.6 526.2l.3-5-6.7 4.9 1.1 2.4z"/>
<path class="m" d="M533.9 539.3l6.6-5-5.6-13.1-6.7 4.9z"/>
<path class="f c7" d="M546.1 547.2l6.6-4.6-3.7-8.6-2.2 1zM546.1 547.2l.7-12.2-5 2.4z"/>
<path class="f c8" d="M549 534l-1.9-4.3-.3 5.3zM546.8 535l.3-5.3-6.6 4.6 1.3 3.1z"/>
<path class="m" d="M546.1 547.2l6.6-4.6-5.6-12.9-6.6 4.6z"/>
<path class="f c5" d="M570.5 562.9l6.6-3.9-3.5-7.6-2.5 1.5zM570.5 562.9l.6-10-4.1 2.3z"/>
<path class="f c6" d="M573.6 551.4l-2.1-4.5-.4 6zM571.1 552.9l.4-6-6.6 3.9 2.1 4.4z"/>
<path class="m" d="M570.5 562.9l6.6-3.9-5.6-12.1-6.6 3.9z"/>
<path class="f c4" d="M582.7 570.7l6.5-3.5-3.3-6.9-2.7 1.8zM582.7 570.7l.5-8.6-3.5 2.2z"/>
<path class="f c5" d="M585.9 560.3l-2.3-4.9-.4 6.7zM583.2 562.1l.4-6.7-6.5 3.6 2.6 5.3z"/>
<path class="m" d="M582.7 570.7l6.5-3.5-5.6-11.8-6.5 3.6z"/>
<path class="f c7" d="M527.2 544.5l3-2.4-3 1.2zM527.2 544.5l0-1.2-.5 .2z"/>
<path class="f c8" d="M530.2 542.1l3.7-2.8-4.6-10.8-1.2 .5-.9 14.3zM527.2 543.3l.9-14.3-6.4 2.5 5 12z"/>
<path class="f c9" d="M529.3 528.5l-1.1-2.4-.1 2.9zM528.1 529l.1-2.9-6.7 5.2 .2 .2z"/>
<path class="m" d="M527.2 544.5l6.7-5.2-5.7-13.2-6.7 5.2z"/>
<path class="f c7" d="M539.5 552.1l6.6-4.9-4.3-9.8-1.5 .6zM539.5 552.1l.8-14.1-5.9 2.5z"/>
<path class="f c8" d="M541.8 537.4l-1.3-3.1-.2 3.7zM540.3 538l.2-3.7-6.6 5 .5 1.2z"/>
<path class="m" d="M539.5 552.1l6.6-4.9-5.6-12.9-6.6 5z"/>
<path class="f c6" d="M551.7 559.6l6.7-4.5-4-8.8-1.9 .9zM551.7 559.6l.8-12.4-5.3 2.4z"/>
<path class="f c7" d="M554.4 546.3l-1.7-3.7-.2 4.6zM552.5 547.2l.2-4.6-6.6 4.6 1.1 2.4z"/>
<path class="m" d="M551.7 559.6l6.7-4.5-5.7-12.5-6.6 4.6z"/>
<path class="f c5" d="M564 567.1l6.5-4.2-3.5-7.7-2.4 1.3zM564 567.1l.6-10.6-4.5 2.3z"/>
<path class="f c6" d="M567 555.2l-2.1-4.4-.3 5.7zM564.6 556.5l.3-5.7-6.5 4.3 1.7 3.7z"/>
<path class="m" d="M564 567.1l6.5-4.2-5.6-12.1-6.5 4.3z"/>
<path class="f c4" d="M576.2 574.4l6.5-3.7-3-6.4-3 1.9zM576.2 574.4l.5-8.2-3.5 2.1z"/>
<path class="f c5" d="M579.7 564.3l-2.6-5.3-.4 7.2zM576.7 566.2l.4-7.2-6.6 3.9 2.7 5.4z"/>
<path class="m" d="M576.2 574.4l6.5-3.7-5.6-11.7-6.6 3.9z"/>
<path class="f c3" d="M588.3 581.6l6.5-3.4-2.3-4.5-3.8 2.7zM588.3 581.6l.4-5.2-2.2 1.5z"/>
<path class="f c4" d="M592.5 573.7l-3.3-6.5-.5 9.2zM588.7 576.4l.5-9.2-6.5 3.5 3.8 7.2z"/>
<path class="m" d="M588.3 581.6l6.5-3.4-5.6-11-6.5 3.5z"/>
<path class="f c7" d="M520.5 550.1l6.7-5.6-.5-1-6 2.2zM520.5 550.1l.2-4.4-1.8 .7z"/>
<path class="f c8" d="M526.7 543.5l-5-12-.2 .1-.8 14.1zM520.7 545.7l.8-14.1-.6 .2-6.1 5 4.1 9.6z"/>
<path class="f c9" d="M521.7 531.5l-.2-.2 0 .3zM521.5 531.6l0-.3-.6 .5z"/>
<path class="m" d="M520.5 550.1l6.7-5.6-5.7-13.2-6.7 5.5z"/>
<path class="f c6" d="M545.1 564.5l6.6-4.9-4.5-10-1.3 .6zM545.1 564.5l.8-14.3-6.1 2.6z"/>
<path class="f c7" d="M547.2 549.6l-1.1-2.4-.2 3zM545.9 550.2l.2-3-6.6 4.9 .3 .7z"/>
<path class="m" d="M545.1 564.5l6.6-4.9-5.6-12.4-6.6 4.9z"/>
<path class="f c5" d="M557.4 571.5l6.6-4.4-3.9-8.3-2 1.1zM557.4 571.5l.7-11.6-5.1 2.4z"/>
<path class="f c6" d="M560.1 558.8l-1.7-3.7-.3 4.8zM558.1 559.9l.3-4.8-6.7 4.5 1.3 2.7z"/>
<path class="m" d="M557.4 571.5l6.6-4.4-5.6-12-6.7 4.5z"/>
<path class="f c4" d="M569.6 578.5l6.6-4.1-3-6.1-3.1 1.7zM569.6 578.5l.5-8.5-3.7 2z"/>
<path class="f c5" d="M573.2 568.3l-2.7-5.4-.4 7.1zM570.1 570l.4-7.1-6.5 4.2 2.4 4.9z"/>
<path class="m" d="M569.6 578.5l6.6-4.1-5.7-11.5-6.5 4.2z"/>
<path class="f c2" d="M597.9 589.9l2.6-1.3-.3-.5z"/>
<path class="f c3" d="M594 591.8l3.9-1.9 2.3-1.8-5.4-9.9zM594 591.8l.8-13.6-6.5 3.4z"/>
<path class="m" d="M594 591.8l6.5-3.2-5.7-10.4-6.5 3.4z"/>
<path class="f c6" d="M532.8 557.4l4.7-3.7-4.6 1.8zM532.8 557.4l.1-1.9-.8 .3z"/>
<path class="f c7" d="M537.5 553.7l2-1.6-5.1-11.6-.6 .3-.9 14.7zM532.9 555.5l.9-14.7-3.6 1.3-3 2.4 4.9 11.3z"/>
<path class="f c8" d="M534.4 540.5l-.5-1.2-.1 1.5zM533.8 540.8l.1-1.5-3.7 2.8z"/>
<path class="m" d="M532.8 557.4l6.7-5.3-5.6-12.8-6.7 5.2z"/>
<path class="f c3" d="M581.8 585.2l6.5-3.6-1.8-3.7-4.4 3zM581.8 585.2l.3-4.3-1.9 1.2z"/>
<path class="f c4" d="M586.5 577.9l-3.8-7.2-.6 10.2zM582.1 580.9l.6-10.2-6.5 3.7 4 7.7z"/>
<path class="m" d="M581.8 585.2l6.5-3.6-5.6-10.9-6.5 3.7z"/>
<path class="f c7" d="M513.7 556.1l6.8-6-1.6-3.7-4.7 1.5zM513.7 556.1l.5-8.2-3.4 1.2z"/>
<path class="f c8" d="M518.9 546.4l-4.1-9.6-.6 11.1zM514.2 547.9l.6-11.1-6.7 5.9 2.7 6.4z"/>
<path class="m" d="M513.7 556.1l6.8-6-5.7-13.3-6.7 5.9z"/>
<path class="f c6" d="M526.1 563l6.7-5.6-.7-1.6-5.7 2.1zM526.1 563l.3-5.1-2.2 .8z"/>
<path class="f c7" d="M532.1 555.8l-4.9-11.3-.8 13.4zM526.4 557.9l.8-13.4-6.7 5.6 3.7 8.6z"/>
<path class="m" d="M526.1 563l6.7-5.6-5.6-12.9-6.7 5.6z"/>
<path class="f c5" d="M538.4 569.7l3.6-2.8-3.5 1.4zM538.4 569.7l.1-1.4-.6 .2z"/>
<path class="f c6" d="M542 566.9l3.1-2.4-5.3-11.7-.4 .1-.9 15.4zM538.5 568.3l.9-15.4-1.9 .8-4.7 3.7 5.1 11.1z"/>
<path class="f c7" d="M539.8 552.8l-.3-.7-.1 .8zM539.4 552.9l.1-.8-2 1.6z"/>
<path class="m" d="M538.4 569.7l6.7-5.2-5.6-12.4-6.7 5.3z"/>
<path class="f c5" d="M550.7 576.3l6.7-4.8-4.4-9.2-1.5 .6zM550.7 576.3l.8-13.4-5.9 2.6z"/>
<path class="f c6" d="M553 562.3l-1.3-2.7-.2 3.3zM551.5 562.9l.2-3.3-6.6 4.9 .5 1z"/>
<path class="m" d="M550.7 576.3l6.7-4.8-5.7-11.9-6.6 4.9z"/>
<path class="f c4" d="M563 582.8l6.6-4.3-3.2-6.5-2.8 1.5zM563 582.8l.6-9.3-4.2 2.1z"/>
<path class="f c5" d="M566.4 572l-2.4-4.9-.4 6.4zM563.6 573.5l.4-6.4-6.6 4.4 2 4.1z"/>
<path class="m" d="M563 582.8l6.6-4.3-5.6-11.4-6.6 4.4z"/>
<path class="f c3" d="M575.3 589.1l6.5-3.9-1.6-3.1-4.7 2.8zM575.3 589.1l.2-4.2-1.9 1.1z"/>
<path class="f c4" d="M580.2 582.1l-4-7.7-.7 10.5zM575.5 584.9l.7-10.5-6.6 4.1 4 7.5z"/>
<path class="m" d="M575.3 589.1l6.5-3.9-5.6-10.8-6.6 4.1z"/>
<path class="m c3" d="M587.5 595.3l6.5-3.5-5.7-10.2-6.5 3.6z"/>
<path class="f c2" d="M599.7 601.3l6.4-3.1-5.6-9.6zM599.7 601.3l.8-12.7-2.6 1.3-3.3 2.9z"/>
<path class="f c3" d="M597.9 589.9l-3.9 1.9 .6 1z"/>
<path class="m" d="M599.7 601.3l6.4-3.1-5.6-9.6-6.5 3.2z"/>
<path class="f c5" d="M531.7 575.2l6.7-5.5-.5-1.2-5.9 2.2zM531.7 575.2l.3-4.5-2 .7z"/>
<path class="f c6" d="M537.9 568.5l-5.1-11.1-.8 13.3zM532 570.7l.8-13.3-6.7 5.6 3.9 8.4z"/>
<path class="m" d="M531.7 575.2l6.7-5.5-5.6-12.3-6.7 5.6z"/>
<path class="m c3" d="M580.9 599l6.6-3.7-5.7-10.1-6.5 3.9z"/>
<path class="f c7" d="M507 562.4l6.7-6.3-2.9-7-3.1 .9zM507 562.4l.7-12.4-5.2 1.6z"/>
<path class="f c8" d="M510.8 549.1l-2.7-6.4-.4 7.3zM507.7 550l.4-7.3-6.8 6.2 1.2 2.7z"/>
<path class="m" d="M507 562.4l6.7-6.3-5.6-13.4-6.8 6.2z"/>
<path class="f c6" d="M519.4 568.9l6.7-5.9-1.9-4.3-4.3 1.4zM519.4 568.9l.5-8.8-3.9 1.2z"/>
<path class="f c7" d="M524.2 558.7l-3.7-8.6-.6 10zM519.9 560.1l.6-10-6.8 6 2.3 5.2z"/>
<path class="m" d="M519.4 568.9l6.7-5.9-5.6-12.9-6.8 6z"/>
<path class="f c5" d="M544.1 581.3l6.6-5-5.1-10.8-.6 .2zM544.1 581.3l.9-15.6-3 1.2-3.6 2.8z"/>
<path class="f c6" d="M545.6 565.5l-.5-1-.1 1.2zM545 565.7l.1-1.2-3.1 2.4z"/>
<path class="m" d="M544.1 581.3l6.6-5-5.6-11.8-6.7 5.2z"/>
<path class="f c4" d="M556.4 587.4l6.6-4.6-3.6-7.2-2.3 1.1zM556.4 587.4l.7-10.7-5 2.2z"/>
<path class="f c5" d="M559.4 575.6l-2-4.1-.3 5.2zM557.1 576.7l.3-5.2-6.7 4.8 1.4 2.6z"/>
<path class="m" d="M556.4 587.4l6.6-4.6-5.6-11.3-6.7 4.8z"/>
<path class="f c3" d="M568.7 593.3l6.6-4.2-1.7-3.1-4.6 2.7zM568.7 593.3l.3-4.6-2.2 1.1z"/>
<path class="f c4" d="M573.6 586l-4-7.5-.6 10.2zM569 588.7l.6-10.2-6.6 4.3 3.8 7z"/>
<path class="m" d="M568.7 593.3l6.6-4.2-5.7-10.6-6.6 4.3z"/>
<path class="f c2" d="M593.2 604.5l6.5-3.2-5.1-8.5-.7 .5zM593.2 604.5l.7-11.2-5.1 4.1z"/>
<path class="f c3" d="M594.6 592.8l-.6-1-.1 1.5zM593.9 593.3l.1-1.5-6.5 3.5 1.3 2.1z"/>
<path class="m" d="M593.2 604.5l6.5-3.2-5.7-9.5-6.5 3.5z"/>
<path class="f c1" d="M606.9 609.1l4.9-2.1-1.3-2.1z"/>
<path class="f c2" d="M605.4 609.8l1.5-.7 3.6-4.2-4.4-6.7zM605.4 609.8l.7-11.6-6.4 3.1z"/>
<path class="m" d="M605.4 609.8l6.4-2.8-5.7-8.8-6.4 3.1z"/>
<path class="f c6" d="M500.2 569l4.7-4.6-4.5 1.3zM500.2 569l.2-3.3-1.4 .4z"/>
<path class="f c7" d="M504.9 564.4l2.1-2-4.5-10.8-1.3 .4-.8 13.7zM500.4 565.7l.8-13.7-4.3 1.2-2.3 2.3 4.4 10.6z"/>
<path class="f c8" d="M502.5 551.6l-1.2-2.7-.1 3.1zM501.2 552l.1-3.1-4.4 4.3z"/>
<path class="m" d="M500.2 569l6.8-6.6-5.7-13.5-6.7 6.6z"/>
<path class="f c6" d="M512.6 575.2l6.8-6.3-3.4-7.6-2.6 .8zM512.6 575.2l.8-13.1-5.8 1.6z"/>
<path class="f c7" d="M516 561.3l-2.3-5.2-.3 6zM513.4 562.1l.3-6-6.7 6.3 .6 1.3z"/>
<path class="m" d="M512.6 575.2l6.8-6.3-5.7-12.8-6.7 6.3z"/>
<path class="f c5" d="M525 581l6.7-5.8-1.7-3.8-4.5 1.5zM525 581l.5-8.1-3.7 1.1z"/>
<path class="f c6" d="M530 571.4l-3.9-8.4-.6 9.9zM525.5 572.9l.6-9.9-6.7 5.9 2.4 5.1z"/>
<path class="m" d="M525 581l6.7-5.8-5.6-12.2-6.7 5.9z"/>
<path class="f c4" d="M537.4 586.7l5-4-4.9 1.8zM537.4 586.7l.1-2.2-1 .4z"/>
<path class="f c5" d="M542.4 582.7l1.7-1.4-5.7-11.6-.9 14.8zM537.5 584.5l.9-14.8-6.7 5.5 4.8 9.7z"/>
<path class="m" d="M537.4 586.7l6.7-5.4-5.7-11.6-6.7 5.5z"/>
<path class="f c4" d="M549.7 592.2l6.7-4.8-4.3-8.5-1.6 .7zM549.7 592.2l.8-12.6-6.1 2.4z"/>
<path class="f c5" d="M552.1 578.9l-1.4-2.6-.2 3.3zM550.5 579.6l.2-3.3-6.6 5 .3 .7z"/>
<path class="m" d="M549.7 592.2l6.7-4.8-5.7-11.1-6.6 5z"/>
<path class="f c3" d="M562.1 597.6l6.6-4.3-1.9-3.5-4.4 2.3zM562.1 597.6l.3-5.5-2.7 1.2z"/>
<path class="f c4" d="M566.8 589.8l-3.8-7-.6 9.3zM562.4 592.1l.6-9.3-6.6 4.6 3.3 5.9z"/>
<path class="m" d="M562.1 597.6l6.6-4.3-5.7-10.5-6.6 4.6z"/>
<path class="m c3" d="M574.4 602.9l6.5-3.9-5.6-9.9-6.6 4.2z"/>
<path class="f c2" d="M586.6 608l6.6-3.5-4.4-7.1-1.5 1.2zM586.6 608l.7-9.4-4.6 3.2z"/>
<path class="f c3" d="M588.8 597.4l-1.3-2.1-.2 3.3zM587.3 598.6l.2-3.3-6.6 3.7 1.8 2.8z"/>
<path class="m" d="M586.6 608l6.6-3.5-5.7-9.2-6.6 3.7z"/>
<path class="m c2" d="M598.9 612.8l6.5-3-5.7-8.5-6.5 3.2z"/>
<path class="f c1" d="M611.1 617.5l6.5-2.7-5.8-7.8zM611.1 617.5l.7-10.5-4.9 2.1-.9 1.5z"/>
<path class="f c2" d="M606.9 609.1l-1.5 .7 .6 .8z"/>
<path class="m" d="M611.1 617.5l6.5-2.7-5.8-7.8-6.4 2.8z"/>
<path class="f c5" d="M518.3 587.1l6.7-6.1-3.2-7-2.8 .8zM518.3 587.1l.7-12.3-5.8 1.6z"/>
<path class="f c6" d="M521.8 574l-2.4-5.1-.4 5.9zM519 574.8l.4-5.9-6.8 6.3 .6 1.2z"/>
<path class="m" d="M518.3 587.1l6.7-6.1-5.6-12.1-6.8 6.3z"/>
<path class="f c4" d="M530.7 592.3l6.7-5.6-.9-1.8-5.5 1.8zM530.7 592.3l.3-5.6-2.7 .8z"/>
<path class="f c5" d="M536.5 584.9l-4.8-9.7-.7 11.5zM531 586.7l.7-11.5-6.7 5.8 3.3 6.5z"/>
<path class="m" d="M530.7 592.3l6.7-5.6-5.7-11.5-6.7 5.8z"/>
<path class="f c4" d="M543 597.4l6.7-5.2-5.3-10.2-.4 .1zM543 597.4l1-15.3-1.6 .6-5 4z"/>
<path class="f c5" d="M544.4 582l-.3-.7-.1 .8zM544 582.1l.1-.8-1.7 1.4z"/>
<path class="m" d="M543 597.4l6.7-5.2-5.6-10.9-6.7 5.4z"/>
<path class="m c3" d="M567.7 607.1l6.7-4.2-5.7-9.6-6.6 4.3z"/>
<path class="f c2" d="M580.1 611.7l6.5-3.7-3.9-6.2-2.1 1.5zM580.1 611.7l.5-8.4-4.2 2.7z"/>
<path class="f c3" d="M582.7 601.8l-1.8-2.8-.3 4.3zM580.6 603.3l.3-4.3-6.5 3.9 2 3.1z"/>
<path class="m" d="M580.1 611.7l6.5-3.7-5.7-9-6.5 3.9z"/>
<path class="m c2" d="M592.4 616.1l6.5-3.3-5.7-8.3-6.6 3.5z"/>
<path class="f c6" d="M493.4 576l6.8-7-1.2-2.9-5.1 1.3zM493.4 576l.5-8.6-3.7 .9z"/>
<path class="f c7" d="M499 566.1l-4.4-10.6-.7 11.9zM493.9 567.4l.7-11.9-6.8 6.9 2.4 5.9z"/>
<path class="m" d="M493.4 576l6.8-7-5.6-13.5-6.8 6.9z"/>
<path class="f c5" d="M505.9 581.8l4.9-4.8-4.7 1.2zM505.9 581.8l.2-3.6-1.6 .4z"/>
<path class="f c6" d="M510.8 577l1.8-1.8-5-11.5-.7 .2-.8 14.3zM506.1 578.2l.8-14.3-2 .5-4.7 4.6 4.3 9.6z"/>
<path class="f c7" d="M507.6 563.7l-.6-1.3-.1 1.5zM506.9 563.9l.1-1.5-2.1 2z"/>
<path class="m" d="M505.9 581.8l6.7-6.6-5.6-12.8-6.8 6.6z"/>
<path class="f c3" d="M555.4 602.3l6.7-4.7-2.4-4.3-3.8 1.8zM555.4 602.3l.5-7.2-3.7 1.5z"/>
<path class="f c4" d="M559.7 593.3l-3.3-5.9-.5 7.7zM555.9 595.1l.5-7.7-6.7 4.8 2.5 4.4z"/>
<path class="m" d="M555.4 602.3l6.7-4.7-5.7-10.2-6.7 4.8z"/>
<path class="f c1" d="M604.6 620.3l6.5-2.8-5.1-6.9-.8 1.3zM604.6 620.3l.6-8.4-3.2 4.9z"/>
<path class="f c2" d="M606 610.6l-.6-.8-.2 2.1zM605.2 611.9l.2-2.1-6.5 3 3.1 4z"/>
<path class="m" d="M604.6 620.3l6.5-2.8-5.7-7.7-6.5 3z"/>
<path class="m c1" d="M616.9 624.2l6.4-2.4-5.7-7-6.5 2.7z"/>
<path class="f c5" d="M486.6 583.4l1.1-1.2-1 .3zM486.6 583.4l.1-.9-.4 .1z"/>
<path class="f c6" d="M487.7 582.2l5.7-6.2-3.2-7.7-2.8 .7-.7 13.5zM486.7 582.5l.7-13.5-6.1 1.4 5 12.2z"/>
<path class="f c7" d="M490.2 568.3l-2.4-5.9-.4 6.6zM487.4 569l.4-6.6-6.8 7.2 .3 .8z"/>
<path class="m" d="M486.6 583.4l6.8-7.4-5.6-13.6-6.8 7.2z"/>
<path class="f c5" d="M499.1 588.7l6.8-6.9-1.4-3.2-4.9 1.2zM499.1 588.7l.5-8.9-4.1 .9z"/>
<path class="f c6" d="M504.5 578.6l-4.3-9.6-.6 10.8zM499.6 579.8l.6-10.8-6.8 7 2.1 4.7z"/>
<path class="m" d="M499.1 588.7l6.8-6.9-5.7-12.8-6.8 7z"/>
<path class="f c4" d="M511.5 593.6l2.7-2.5-2.6 .6zM511.5 593.6l.1-1.9-.9 .2z"/>
<path class="f c5" d="M514.2 591.1l4.1-4-5.1-10.7-.7 .2-.9 15.1zM511.6 591.7l.9-15.1-1.7 .4-4.9 4.8 4.8 10.1z"/>
<path class="f c6" d="M513.2 576.4l-.6-1.2-.1 1.4zM512.5 576.6l.1-1.4-1.8 1.8z"/>
<path class="m" d="M511.5 593.6l6.8-6.5-5.7-11.9-6.7 6.6z"/>
<path class="f c4" d="M523.9 598.3l6.8-6-2.4-4.8-3.8 1.1zM523.9 598.3l.6-9.7-4.8 1.3z"/>
<path class="f c5" d="M528.3 587.5l-3.3-6.5-.5 7.6zM524.5 588.6l.5-7.6-6.7 6.1 1.4 2.8z"/>
<path class="m" d="M523.9 598.3l6.8-6-5.7-11.3-6.7 6.1z"/>
<path class="f c3" d="M536.3 602.8l1.5-1.2-1.4 .5zM536.3 602.8l.1-.7-.4 .1z"/>
<path class="f c4" d="M537.8 601.6l5.2-4.2-5.6-10.7-1 15.4zM536.4 602.1l1-15.4-6.7 5.6 5.3 9.9z"/>
<path class="m" d="M536.3 602.8l6.7-5.4-5.6-10.7-6.7 5.6z"/>
<path class="f c3" d="M548.7 607.2l6.7-4.9-3.2-5.7-2.8 1.2zM548.7 607.2l.7-9.4-5.1 1.8z"/>
<path class="f c4" d="M552.2 596.6l-2.5-4.4-.3 5.6zM549.4 597.8l.3-5.6-6.7 5.2 1.3 2.2z"/>
<path class="m" d="M548.7 607.2l6.7-4.9-5.7-10.1-6.7 5.2z"/>
<path class="m c3" d="M561.1 611.5l6.6-4.4-5.6-9.5-6.7 4.7z"/>
<path class="f c2" d="M573.4 615.6l6.7-3.9-3.7-5.7-2.4 1.6zM573.4 615.6l.6-8-4.3 2.4z"/>
<path class="f c3" d="M576.4 606l-2-3.1-.4 4.7zM574 607.6l.4-4.7-6.7 4.2 2 2.9z"/>
<path class="m" d="M573.4 615.6l6.7-3.9-5.7-8.8-6.7 4.2z"/>
<path class="m c2" d="M585.8 619.6l6.6-3.5-5.8-8.1-6.5 3.7z"/>
<path class="f c1" d="M598.1 623.3l6.5-3-2.6-3.5-3.9 6.2zM598.1 623.3l0-.3-.1 .2z"/>
<path class="f c2" d="M602 616.8l-3.1-4-.8 10.2zM598.1 623l.8-10.2-6.5 3.3 5.6 7.1z"/>
<path class="m" d="M598.1 623.3l6.5-3-5.7-7.5-6.5 3.3z"/>
<path class="m c1" d="M610.4 626.8l6.5-2.6-5.8-6.7-6.5 2.8z"/>
<path class="m c1" d="M622.7 630.1l6.5-2.2-5.9-6.1-6.4 2.4z"/>
<path class="f c5" d="M479.8 591.1l6.8-7.7-.3-.8-6.1 1.2zM479.8 591.1l.4-7.3-3.1 .7z"/>
<path class="f c6" d="M486.3 582.6l-5-12.2-.4 .1-.7 13.3zM480.2 583.8l.7-13.3-.8 .1-6 6.7 3 7.2z"/>
<path class="f c7" d="M481.3 570.4l-.3-.8-.1 .9zM480.9 570.5l.1-.9-.9 1z"/>
<path class="m" d="M479.8 591.1l6.8-7.7-5.6-13.8-6.9 7.7z"/>
<path class="f c4" d="M504.7 600.4l6.8-6.8-.8-1.7-5.5 1.3zM504.7 600.4l.5-7.2-3.6 .7z"/>
<path class="f c5" d="M510.7 591.9l-4.8-10.1-.7 11.4zM505.2 593.2l.7-11.4-6.8 6.9 2.5 5.2z"/>
<path class="m" d="M504.7 600.4l6.8-6.8-5.6-11.8-6.8 6.9z"/>
<path class="f c4" d="M517.2 604.5l6.7-6.2-4.2-8.4-1.6 .4zM517.2 604.5l.9-14.2-3.9 .8-2.7 2.5z"/>
<path class="f c5" d="M519.7 589.9l-1.4-2.8-.2 3.2zM518.1 590.3l.2-3.2-4.1 4z"/>
<path class="m" d="M517.2 604.5l6.7-6.2-5.6-11.2-6.8 6.5z"/>
<path class="f c3" d="M529.6 608.5l6.7-5.7-.3-.6-6.1 1.8zM529.6 608.5l.3-4.5-2.5 .6z"/>
<path class="f c4" d="M536 602.2l-5.3-9.9-.8 11.7zM529.9 604l.8-11.7-6.8 6 3.5 6.3z"/>
<path class="m" d="M529.6 608.5l6.7-5.7-5.6-10.5-6.8 6z"/>
<path class="f c3" d="M542 612.3l6.7-5.1-4.4-7.6-1.4 .5zM542 612.3l.9-12.2-5.1 1.5-1.5 1.2z"/>
<path class="f c4" d="M544.3 599.6l-1.3-2.2-.1 2.7zM542.9 600.1l.1-2.7-5.2 4.2z"/>
<path class="m" d="M542 612.3l6.7-5.1-5.7-9.8-6.7 5.4z"/>
<path class="m c3" d="M554.4 616.1l6.7-4.6-5.7-9.2-6.7 4.9z"/>
<path class="f c2" d="M566.8 619.7l6.6-4.1-3.7-5.6-2.3 1.4zM566.8 619.7l.6-8.3-4.8 2.3z"/>
<path class="f c3" d="M569.7 610l-2-2.9-.3 4.3zM567.4 611.4l.3-4.3-6.6 4.4 1.5 2.2z"/>
<path class="m" d="M566.8 619.7l6.6-4.1-5.7-8.5-6.6 4.4z"/>
<path class="m c2" d="M579.2 623.2l6.6-3.6-5.7-7.9-6.7 3.9z"/>
<path class="f c1" d="M597.9 623.4l.2-.1-.1-.1z"/>
<path class="f c2" d="M591.5 626.5l6.4-3.1 .1-.2-5.6-7.1zM591.5 626.5l.9-10.4-6.6 3.5z"/>
<path class="m" d="M591.5 626.5l6.6-3.2-5.7-7.2-6.6 3.5z"/>
<path class="m c1" d="M603.9 629.6l6.5-2.8-5.8-6.5-6.5 3z"/>
<path class="m c1" d="M628.6 635.2l6.4-2-5.8-5.3-6.5 2.2z"/>
<path class="f c4" d="M492.3 596l.6-.7-.6 .1zM492.3 596l0-.6-.3 .1z"/>
<path class="f c5" d="M492.9 595.3l6.2-6.6-3.6-8-2.4 .5-.8 14.2zM492.3 595.4l.8-14.2-5.4 1-1.1 1.2 5.4 12.1z"/>
<path class="f c6" d="M495.5 580.7l-2.1-4.7-.3 5.2zM493.1 581.2l.3-5.2-5.7 6.2z"/>
<path class="m" d="M492.3 596l6.8-7.3-5.7-12.7-6.8 7.4z"/>
<path class="m c1" d="M616.2 632.5l6.5-2.4-5.8-5.9-6.5 2.6z"/>
<path class="f c4" d="M497.9 607.5l6.8-7.1-3.1-6.5-2.9 .5zM497.9 607.5l.8-13.1-5.8 .9-.6 .7z"/>
<path class="f c5" d="M501.6 593.9l-2.5-5.2-.4 5.7zM498.7 594.4l.4-5.7-6.2 6.6z"/>
<path class="m" d="M497.9 607.5l6.8-7.1-5.6-11.7-6.8 7.3z"/>
<path class="f c3" d="M510.4 611.1l4-4-3.8 .8zM510.4 611.1l.2-3.2-1.7 .3z"/>
<path class="f c4" d="M514.4 607.1l2.8-2.6-5.7-10.9-.9 14.3zM510.6 607.9l.9-14.3-6.8 6.8 4.2 7.8z"/>
<path class="m" d="M510.4 611.1l6.8-6.6-5.7-10.9-6.8 6.8z"/>
<path class="f c2" d="M547.7 621l4.2-3.1-4.1 1.6zM547.7 621l.1-1.5-.9 .3z"/>
<path class="f c3" d="M551.9 617.9l2.5-1.8-5.7-8.9-.9 12.3zM547.8 619.5l.9-12.3-6.7 5.1 4.9 7.5z"/>
<path class="m" d="M547.7 621l6.7-4.9-5.7-8.9-6.7 5.1z"/>
<path class="f c2" d="M560.1 624.1l6.7-4.4-4.2-6-1.8 .9zM560.1 624.1l.7-9.5-5.8 2.3z"/>
<path class="f c3" d="M562.6 613.7l-1.5-2.2-.3 3.1zM560.8 614.6l.3-3.1-6.7 4.6 .6 .8z"/>
<path class="m" d="M560.1 624.1l6.7-4.4-5.7-8.2-6.7 4.6z"/>
<path class="f c1" d="M597.3 632.5l6.6-2.9-5.8-6.3zM597.3 632.5l.8-9.2-.2 .1-.9 8.8z"/>
<path class="f c2" d="M597.9 623.4l-6.4 3.1 5.5 5.7z"/>
<path class="m" d="M597.3 632.5l6.6-2.9-5.8-6.3-6.6 3.2z"/>
<path class="m c1" d="M609.7 635l6.5-2.5-5.8-5.7-6.5 2.8z"/>
<path class="f c4" d="M472.9 599.1l.7-.8-.6 .1zM472.9 599.1l.1-.7-.3 .1z"/>
<path class="f c5" d="M473.6 598.3l6.2-7.2-2.7-6.6-3.4 .6-.7 13.3zM473 598.4l.7-13.3-6 1.1 5 12.3z"/>
<path class="f c6" d="M477.1 584.5l-3-7.2-.4 7.8zM473.7 585.1l.4-7.8-6.8 7.9 .4 1z"/>
<path class="m" d="M472.9 599.1l6.9-8-5.7-13.8-6.8 7.9z"/>
<path class="f c4" d="M485.4 603.6l6.9-7.6-.3-.5-6.2 1.1zM485.4 603.6l.4-7-3.3 .5z"/>
<path class="f c5" d="M492 595.5l-5.4-12.1-.8 13.2zM485.8 596.6l.8-13.2-6.8 7.7 2.7 6z"/>
<path class="m" d="M485.4 603.6l6.9-7.6-5.7-12.6-6.8 7.7z"/>
<path class="f c3" d="M522.8 614.5l6.8-6-2.2-3.9-4 1zM522.8 614.5l.6-8.9-5.1 .9z"/>
<path class="f c4" d="M527.4 604.6l-3.5-6.3-.5 7.3zM523.4 605.6l.5-7.3-6.7 6.2 1.1 2z"/>
<path class="m" d="M522.8 614.5l6.8-6-5.7-10.2-6.7 6.2z"/>
<path class="m c3" d="M535.3 617.8l6.7-5.5-5.7-9.5-6.7 5.7z"/>
<path class="m c2" d="M572.5 627.1l6.7-3.9-5.8-7.6-6.6 4.1z"/>
<path class="m c2" d="M584.9 629.9l6.6-3.4-5.7-6.9-6.6 3.6z"/>
<path class="m c1" d="M622.1 637.3l6.5-2.1-5.9-5.1-6.5 2.4z"/>
<path class="m c1" d="M634.5 639.4l6.4-1.7-5.9-4.5-6.4 2z"/>
<path class="f c4" d="M466.1 607.5l6.8-8.4-.2-.6-6.2 1zM466.1 607.5l.4-8-3.5 .6z"/>
<path class="f c5" d="M472.7 598.5l-5-12.3-.5 .1-.7 13.2zM466.5 599.5l.7-13.2-.9 .2-5.9 7.1 2.6 6.5z"/>
<path class="f c6" d="M467.7 586.2l-.4-1-.1 1.1zM467.2 586.3l.1-1.1-1 1.3z"/>
<path class="m" d="M466.1 607.5l6.8-8.4-5.6-13.9-6.9 8.4z"/>
<path class="f c4" d="M478.6 611.6l6.8-8-2.9-6.5-3.1 .4zM478.6 611.6l.8-14.1-5.8 .8-.7 .8z"/>
<path class="f c5" d="M482.5 597.1l-2.7-6-.4 6.4zM479.4 597.5l.4-6.4-6.2 7.2z"/>
<path class="m" d="M478.6 611.6l6.8-8-5.6-12.5-6.9 8z"/>
<path class="f c3" d="M491.1 614.9l4.6-5-4.4 .6zM491.1 614.9l.2-4.4-2.3 .3z"/>
<path class="f c4" d="M495.7 609.9l2.2-2.4-5.6-11.5-1 14.5zM491.3 610.5l1-14.5-6.9 7.6 3.6 7.2z"/>
<path class="m" d="M491.1 614.9l6.8-7.4-5.6-11.5-6.9 7.6z"/>
<path class="f c3" d="M503.6 617.9l6.8-6.8-1.5-2.9-4.8 .8zM503.6 617.9l.5-8.9-5.1 .6z"/>
<path class="f c4" d="M508.9 608.2l-4.2-7.8-.6 8.6zM504.1 609l.6-8.6-6.8 7.1 1.1 2.1z"/>
<path class="m" d="M503.6 617.9l6.8-6.8-5.7-10.7-6.8 7.1z"/>
<path class="f c3" d="M516 620.7l6.8-6.2-4.5-8-1.3 .3zM516 620.7l1-13.9-2.6 .3-4 4z"/>
<path class="f c4" d="M518.3 606.5l-1.1-2-.2 2.3zM517 606.8l.2-2.3-2.8 2.6z"/>
<path class="m" d="M516 620.7l6.8-6.2-5.6-10-6.8 6.6z"/>
<path class="m c3" d="M528.5 623.4l6.8-5.6-5.7-9.3-6.8 6z"/>
<path class="f c2" d="M541 626.1l6.7-5.1-.8-1.2-5.6 1.8zM541 626.1l.3-4.5-3 .6z"/>
<path class="f c3" d="M546.9 619.8l-4.9-7.5-.7 9.3zM541.3 621.6l.7-9.3-6.7 5.5 3 4.4z"/>
<path class="m" d="M541 626.1l6.7-5.1-5.7-8.7-6.7 5.5z"/>
<path class="f c2" d="M553.4 628.7l6.7-4.6-5.1-7.2-.7 .3zM553.4 628.7l.9-11.5-2.4 .7-4.2 3.1z"/>
<path class="f c3" d="M555 616.9l-.6-.8-.1 1.1zM554.3 617.2l.1-1.1-2.5 1.8z"/>
<path class="m" d="M553.4 628.7l6.7-4.6-5.7-8-6.7 4.9z"/>
<path class="m c2" d="M565.9 631.2l6.6-4.1-5.7-7.4-6.7 4.4z"/>
<path class="m c2" d="M578.3 633.5l6.6-3.6-5.7-6.7-6.7 3.9z"/>
<path class="f c1" d="M597 632.7l.3-.2-.3-.3z"/>
<path class="f c2" d="M590.7 635.7l6.3-3 0-.5-5.5-5.7zM590.7 635.7l.8-9.2-6.6 3.4z"/>
<path class="m" d="M590.7 635.7l6.6-3.2-5.8-6-6.6 3.4z"/>
<path class="m c1" d="M603.2 637.7l6.5-2.7-5.8-5.4-6.6 2.9z"/>
<path class="m c1" d="M615.6 639.6l6.5-2.3-5.9-4.8-6.5 2.5z"/>
<path class="m c1" d="M628 641.4l6.5-2-5.9-4.2-6.5 2.1z"/>
<path class="m c1" d="M640.5 643l6.4-1.5-6-3.8-6.4 1.7z"/>
<path class="f c3" d="M459.2 616.3l2.3-3-2.2 .4zM459.2 616.3l.1-2.6-1.1 .1z"/>
<path class="f c4" d="M461.5 613.3l4.6-5.8-3.1-7.4-3 .4-.7 13.2zM459.3 613.7l.7-13.2-5.8 .8-.7 1 4.7 11.5z"/>
<path class="f c5" d="M463 600.1l-2.6-6.5-.4 6.9zM460 600.5l.4-6.9-6.2 7.7z"/>
<path class="m" d="M459.2 616.3l6.9-8.8-5.7-13.9-6.9 8.7z"/>
<path class="f c3" d="M471.7 619.9l6.8-8.2-6.4 .7zM471.7 619.9l.4-7.5-3.6 .4z"/>
<path class="f c4" d="M478.5 611.7l.1-.1-5.7-12.5-.8 13.3zM472.1 612.4l.8-13.3-6.8 8.4 2.4 5.3z"/>
<path class="m" d="M471.7 619.9l6.9-8.3-5.7-12.5-6.8 8.4z"/>
<path class="f c3" d="M484.2 622.7l6.9-7.8-2.1-4.1-4.1 .4zM484.2 622.7l.7-11.5-6.3 .5z"/>
<path class="f c4" d="M489 610.8l-3.6-7.2-.5 7.6zM484.9 611.2l.5-7.6-6.8 8 0 .1z"/>
<path class="m" d="M484.2 622.7l6.9-7.8-5.7-11.3-6.8 8z"/>
<path class="f c3" d="M496.7 625.1l6.9-7.2-4.6-8.3-1.2 .1zM496.7 625.1l1.1-15.4-2.1 .2-4.6 5z"/>
<path class="f c4" d="M499 609.6l-1.1-2.1-.1 2.2zM497.8 609.7l.1-2.2-2.2 2.4z"/>
<path class="m" d="M496.7 625.1l6.9-7.2-5.7-10.4-6.8 7.4z"/>
<path class="f c2" d="M509.2 627.3l1.7-1.6-1.6 .2zM509.2 627.3l.1-1.4-.9 .1z"/>
<path class="f c3" d="M510.9 625.7l5.1-5-5.6-9.6-1.1 14.8zM509.3 625.9l1.1-14.8-6.8 6.8 4.8 8.1z"/>
<path class="m" d="M509.2 627.3l6.8-6.6-5.6-9.6-6.8 6.8z"/>
<path class="f c2" d="M521.7 629.4l6.3-5.5-6 1.1zM521.7 629.4l.3-4.4-3 .2z"/>
<path class="f c3" d="M528 623.9l.5-.5-5.7-8.9-.8 10.5zM522 625l.8-10.5-6.8 6.2 3 4.5z"/>
<path class="m" d="M521.7 629.4l6.8-6-5.7-8.9-6.8 6.2z"/>
<path class="f c2" d="M534.2 631.5l6.8-5.4-2.7-3.9-3.5 .8zM534.2 631.5l.6-8.5-6 .8z"/>
<path class="f c3" d="M538.3 622.2l-3-4.4-.5 5.2zM534.8 623l.5-5.2-6.8 5.6 .3 .4z"/>
<path class="m" d="M534.2 631.5l6.8-5.4-5.7-8.3-6.8 5.6z"/>
<path class="m c2" d="M546.7 633.5l6.7-4.8-5.7-7.7-6.7 5.1z"/>
<path class="m c2" d="M559.1 635.5l6.8-4.3-5.8-7.1-6.7 4.6z"/>
<path class="m c2" d="M571.6 637.3l6.7-3.8-5.8-6.4-6.6 4.1z"/>
<path class="m c2" d="M584.1 639l6.6-3.3-5.8-5.8-6.6 3.6z"/>
<path class="f c1" d="M602.9 637.9l.3-.2-5.9-5.2 0 .4zM597.3 632.9l0-.4-.3 .2z"/>
<path class="f c2" d="M596.6 640.6l6.3-2.7-5.6-5zM596.6 640.6l.7-7.7-.3-.2-6.3 3z"/>
<path class="m" d="M596.6 640.6l6.6-2.9-5.9-5.2-6.6 3.2z"/>
<path class="f c1" d="M612 641l3.6-1.4-5.9-4.6-.4 4.7zM609.3 639.7l.4-4.7-6.5 2.7 .4 .3z"/>
<path class="f c2" d="M609 642.1l3-1.1-2.7-1.3zM609 642.1l.3-2.4-5.7-1.7z"/>
<path class="m" d="M609 642.1l6.6-2.5-5.9-4.6-6.5 2.7z"/>
<path class="f c1" d="M622.9 643l5.1-1.6-5.9-4.1-.5 5.3zM621.6 642.6l.5-5.3-6.5 2.3 4 2.6z"/>
<path class="f c2" d="M621.5 643.5l1.4-.5-1.3-.4zM621.5 643.5l.1-.9-2-.4z"/>
<path class="m" d="M621.5 643.5l6.5-2.1-5.9-4.1-6.5 2.3z"/>
<path class="f c1" d="M634.4 644.7l6.1-1.7-6-3.6-.5 5.2zM634 644.6l.5-5.2-6.5 2 5.5 3.1z"/>
<path class="f c2" d="M634 644.8l.4-.1-.4-.1zM634 644.8l0-.2-.5-.1z"/>
<path class="m" d="M634 644.8l6.5-1.8-6-3.6-6.5 2z"/>
<path class="m c1" d="M646.5 646.1l6.4-1.4-6-3.2-6.4 1.5z"/>
<path class="f c3" d="M452.3 625.4l6.9-9.1-1-2.5-5.3 .7zM452.3 625.4l.6-10.9-4.8 .6z"/>
<path class="f c4" d="M458.2 613.8l-4.7-11.5-.6 12.2zM452.9 614.5l.6-12.2-6.9 9 1.5 3.8z"/>
<path class="m" d="M452.3 625.4l6.9-9.1-5.7-14-6.9 9z"/>
<path class="f c2" d="M464.8 628.6l1.3-1.6-1.2 .1zM464.8 628.6l.1-1.5-.7 .1z"/>
<path class="f c3" d="M466.1 627l5.6-7.1-3.2-7.1-2.8 .2-.8 14.1zM464.9 627.1l.8-14.1-4.2 .3-2.3 3 5 10.9z"/>
<path class="f c4" d="M468.5 612.8l-2.4-5.3-.4 5.5zM465.7 613l.4-5.5-4.6 5.8z"/>
<path class="m" d="M464.8 628.6l6.9-8.7-5.6-12.4-6.9 8.8z"/>
<path class="f c2" d="M477.3 630.8l3.6-4.1-3.3 .2zM477.3 630.8l.3-3.9-2.3 .1z"/>
<path class="f c3" d="M480.9 626.7l3.3-4-5.6-11 0 0-1 15.2zM477.6 626.9l1-15.2-.1 0-6.8 8.2 3.6 7.1z"/>
<path class="f c4" d="M478.6 611.7l0-.1 0 .1zM478.6 611.7l0-.1-.1 .1z"/>
<path class="m" d="M477.3 630.8l6.9-8.1-5.6-11.1-6.9 8.3z"/>
<path class="f c2" d="M489.9 632.6l5.7-6.2-5.3 .3zM489.9 632.6l.4-5.9-3.8 .1z"/>
<path class="f c3" d="M495.6 626.4l1.1-1.3-5.6-10.2-.8 11.8zM490.3 626.7l.8-11.8-6.9 7.8 2.3 4.1z"/>
<path class="m" d="M489.9 632.6l6.8-7.5-5.6-10.2-6.9 7.8z"/>
<path class="f c2" d="M502.4 634.1l6.8-6.8-.8-1.3-5.5 .4zM502.4 634.1l.5-7.7-5.4 0z"/>
<path class="f c3" d="M508.4 626l-4.8-8.1-.7 8.5zM502.9 626.4l.7-8.5-6.9 7.2 .8 1.3z"/>
<path class="m" d="M502.4 634.1l6.8-6.8-5.6-9.4-6.9 7.2z"/>
<path class="f c2" d="M514.9 635.6l6.8-6.2-2.7-4.2-3.4 .4zM514.9 635.6l.7-10-4.7 .1-1.7 1.6z"/>
<path class="f c3" d="M519 625.2l-3-4.5-.4 4.9zM515.6 625.6l.4-4.9-5.1 5z"/>
<path class="m" d="M514.9 635.6l6.8-6.2-5.7-8.7-6.8 6.6z"/>
<path class="f c2" d="M527.4 637.1l6.8-5.6-5.4-7.7-.3 .1zM527.4 637.1l1.1-13.2-.5 0-6.3 5.5z"/>
<path class="f c3" d="M528.8 623.8l-.3-.4 0 .5zM528.5 623.9l0-.5-.5 .5z"/>
<path class="m" d="M527.4 637.1l6.8-5.6-5.7-8.1-6.8 6z"/>
<path class="m c2" d="M539.9 638.5l6.8-5-5.7-7.4-6.8 5.4z"/>
<path class="m c2" d="M552.4 640l6.7-4.5-5.7-6.8-6.7 4.8z"/>
<path class="m c2" d="M564.9 641.3l6.7-4-5.7-6.1-6.8 4.3z"/>
<path class="m c2" d="M577.4 642.6l6.7-3.6-5.8-5.5-6.7 3.8z"/>
<path class="m c2" d="M589.9 643.7l6.7-3.1-5.9-4.9-6.6 3.3z"/>
<path class="f c1" d="M603.6 638l-.4-.3 0 .2zM603.2 637.9l0-.2-.3 .2z"/>
<path class="f c2" d="M602.4 644.8l6.6-2.7-5.4-4.1-.4-.1zM602.4 644.8l.8-6.9-.3 0-6.3 2.7z"/>
<path class="m" d="M602.4 644.8l6.6-2.7-5.8-4.4-6.6 2.9z"/>
<path class="f c1" d="M619.6 642.2l-4-2.6-.2 1.7zM615.4 641.3l.2-1.7-3.6 1.4z"/>
<path class="f c2" d="M615 645.8l6.5-2.3-1.9-1.3-4.2-.9zM615 645.8l.4-4.5-3.4-.3-3 1.1z"/>
<path class="m" d="M615 645.8l6.5-2.3-5.9-3.9-6.6 2.5z"/>
<path class="f c1" d="M633.5 644.5l-5.5-3.1-.2 2.1zM627.8 643.5l.2-2.1-5.1 1.6z"/>
<path class="f c2" d="M627.5 646.7l6.5-1.9-.5-.3-5.7-1zM627.5 646.7l.3-3.2-4.9-.5-1.4 .5z"/>
<path class="m" d="M627.5 646.7l6.5-1.9-6-3.4-6.5 2.1z"/>
<path class="f c1" d="M646.1 646.2l.4-.1-6-3.1-.2 2.3zM640.3 645.3l.2-2.3-6.1 1.7z"/>
<path class="f c2" d="M640 647.7l6.1-1.5-5.8-.9zM640 647.7l.3-2.4-5.9-.6-.4 .1z"/>
<path class="m" d="M640 647.7l6.5-1.6-6-3.1-6.5 1.8z"/>
<path class="f c1" d="M658 647.6l1-.2-6.1-2.7-.2 2.2zM652.7 646.9l.2-2.2-6.4 1.4 .3 .1z"/>
<path class="f c2" d="M652.6 648.7l5.4-1.1-5.3-.7zM652.6 648.7l.1-1.8-5.9-.7z"/>
<path class="m" d="M652.6 648.7l6.4-1.3-6.1-2.7-6.4 1.4z"/>
<path class="f c2" d="M445.4 635l5.2-7.3-4.9 .6zM445.4 635l.3-6.7-2.9 .3z"/>
<path class="f c3" d="M450.6 627.7l1.7-2.3-4.2-10.3-1.7 .2-.7 13zM445.7 628.3l.7-13-2.9 .3-3.8 5.2 3.1 7.8z"/>
<path class="f c4" d="M448.1 615.1l-1.5-3.8-.2 4zM446.4 615.3l.2-4-3.1 4.3z"/>
<path class="m" d="M445.4 635l6.9-9.6-5.7-14.1-6.9 9.5z"/>
<path class="f c2" d="M457.9 637.6l6.9-9-.6-1.4-5.7 .3zM457.9 637.6l.6-10.1-5.2 .2z"/>
<path class="f c3" d="M464.2 627.2l-5-10.9-.7 11.2zM458.5 627.5l.7-11.2-6.9 9.1 1 2.3z"/>
<path class="m" d="M457.9 637.6l6.9-9-5.6-12.3-6.9 9.1z"/>
<path class="f c2" d="M470.4 639.3l6.9-8.5-2-3.8-4.1 .1zM470.4 639.3l.8-12.2-5.1-.1-1.3 1.6z"/>
<path class="f c3" d="M475.3 627l-3.6-7.1-.5 7.2zM471.2 627.1l.5-7.2-5.6 7.1z"/>
<path class="m" d="M470.4 639.3l6.9-8.5-5.6-10.9-6.9 8.7z"/>
<path class="f c2" d="M483 640.4l6.9-7.8-3.4-5.8-2.6 0zM483 640.4l.9-13.6-3-.1-3.6 4.1z"/>
<path class="f c3" d="M486.5 626.8l-2.3-4.1-.3 4.1zM483.9 626.8l.3-4.1-3.3 4z"/>
<path class="m" d="M483 640.4l6.9-7.8-5.7-9.9-6.9 8.1z"/>
<path class="f c2" d="M495.5 641.3l6.9-7.2-4.9-7.7-.9 0zM495.5 641.3l1.1-14.9-1 0-5.7 6.2z"/>
<path class="f c3" d="M497.5 626.4l-.8-1.3-.1 1.3zM496.6 626.4l.1-1.3-1.1 1.3z"/>
<path class="m" d="M495.5 641.3l6.9-7.2-5.7-9-6.8 7.5z"/>
<path class="m c2" d="M508 642.1l6.9-6.5-5.7-8.3-6.8 6.8z"/>
<path class="m c2" d="M520.5 642.9l6.9-5.8-5.7-7.7-6.8 6.2z"/>
<path class="m c2" d="M533.1 643.8l6.8-5.3-5.7-7-6.8 5.6z"/>
<path class="m c2" d="M545.6 644.7l6.8-4.7-5.7-6.5-6.8 5z"/>
<path class="m c2" d="M558.2 645.5l6.7-4.2-5.8-5.8-6.7 4.5z"/>
<path class="m c2" d="M570.7 646.3l6.7-3.7-5.8-5.3-6.7 4z"/>
<path class="m c2" d="M583.3 647l6.6-3.3-5.8-4.7-6.7 3.6z"/>
<path class="m c2" d="M595.8 647.7l6.6-2.9-5.8-4.2-6.7 3.1z"/>
<path class="m c2" d="M608.4 648.2l6.6-2.4-6-3.7-6.6 2.7z"/>
<path class="m c2" d="M620.9 648.8l6.6-2.1-6-3.2-6.5 2.3z"/>
<path class="m c2" d="M633.5 649.5l6.5-1.8-6-2.9-6.5 1.9z"/>
<path class="f c1" d="M646.8 646.2l-.3-.1 0 .1zM646.5 646.2l0-.1-.4 .1z"/>
<path class="f c2" d="M646.1 650.2l6.5-1.5-5.8-2.5-.3 0zM646.1 650.2l.4-4-.4 0-6.1 1.5z"/>
<path class="m" d="M646.1 650.2l6.5-1.5-6.1-2.6-6.5 1.6z"/>
<path class="f c1" d="M659.9 647.8l-.9-.4-.1 .3zM658.9 647.7l.1-.3-1 .2z"/>
<path class="f c2" d="M658.7 651.1l6.4-1.3-5.2-2-1-.1zM658.7 651.1l.2-3.4-.9-.1-5.4 1.1z"/>
<path class="m" d="M658.7 651.1l6.4-1.3-6.1-2.4-6.4 1.3z"/>
<path class="f c1" d="M463.5 648.1l4.5-5.7-4.1-.1zM463.5 648.1l.4-5.8-3.6-.2z"/>
<path class="f c2" d="M468 642.4l2.4-3.1-5.6-10.7-.9 13.7zM463.9 642.3l.9-13.7-6.9 9 2.4 4.5z"/>
<path class="m" d="M463.5 648.1l6.9-8.8-5.6-10.7-6.9 9z"/>
<path class="m c2" d="M513.7 649l6.8-6.1-5.6-7.3-6.9 6.5z"/>
<path class="m c2" d="M589.1 650.7l6.7-3-5.9-4-6.6 3.3z"/>
<path class="m c2" d="M639.6 651.9l6.5-1.7-6.1-2.5-6.5 1.8z"/>
<path class="f c1" d="M451 647l4-5.4-3.7 .2zM451 647l.3-5.2-2.8 0z"/>
<path class="f c2" d="M455 641.6l2.9-4-4.6-9.9-1.2 0-.8 14.1zM451.3 641.8l.8-14.1-1.5 0-5.2 7.3 3.1 6.8z"/>
<path class="f c3" d="M453.3 627.7l-1-2.3-.2 2.3zM452.1 627.7l.2-2.3-1.7 2.3z"/>
<path class="m" d="M451 647l6.9-9.4-5.6-12.2-6.9 9.6z"/>
<path class="f c1" d="M476.1 648.5l4.2-4.9-3.9-.2zM476.1 648.5l.3-5.1-3.7-.4z"/>
<path class="f c2" d="M480.3 643.6l2.7-3.2-5.7-9.6-.9 12.6zM476.4 643.4l.9-12.6-6.9 8.5 2.3 3.7z"/>
<path class="m" d="M476.1 648.5l6.9-8.1-5.7-9.6-6.9 8.5z"/>
<path class="f c1" d="M488.6 648.7l3.3-3.5-3-.2zM488.6 648.7l.3-3.7-3.1-.5z"/>
<path class="f c2" d="M491.9 645.2l3.6-3.9-5.6-8.7-1 12.4zM488.9 645l1-12.4-6.9 7.8 2.8 4.1z"/>
<path class="m" d="M488.6 648.7l6.9-7.4-5.6-8.7-6.9 7.8z"/>
<path class="f c1" d="M501.1 648.9l1.8-1.7-1.6-.1zM501.1 648.9l.2-1.8-1.7-.3z"/>
<path class="f c2" d="M502.9 647.2l5.1-5.1-5.6-8-1.1 13zM501.3 647.1l1.1-13-6.9 7.2 4.1 5.5z"/>
<path class="m" d="M501.1 648.9l6.9-6.8-5.6-8-6.9 7.2z"/>
<path class="m c2" d="M526.2 649.3l6.9-5.5-5.7-6.7-6.9 5.8z"/>
<path class="m c2" d="M538.8 649.6l6.8-4.9-5.7-6.2-6.8 5.3z"/>
<path class="m c2" d="M551.4 649.9l6.8-4.4-5.8-5.5-6.8 4.7z"/>
<path class="m c2" d="M563.9 650.3l6.8-4-5.8-5-6.7 4.2z"/>
<path class="m c2" d="M576.5 650.5l6.8-3.5-5.9-4.4-6.7 3.7z"/>
<path class="m c2" d="M601.7 650.9l6.7-2.7-6-3.4-6.6 2.9z"/>
<path class="m c2" d="M614.3 651.1l6.6-2.3-5.9-3-6.6 2.4z"/>
<path class="m c2" d="M627 651.4l6.5-1.9-6-2.8-6.6 2.1z"/>
<path class="f c2" d="M652.4 652.5l6.3-1.4-6.1-2.4-.4 3.8zM652.2 652.5l.4-3.8-6.5 1.5 5.9 2.3z"/>
<path class="f c3" d="M652.2 652.5l.2 0-.2 0zM652.2 652.5l0 0-.2 0z"/>
<path class="m" d="M652.2 652.5l6.5-1.4-6.1-2.4-6.5 1.5z"/>
<path class="f c1" d="M456.6 657.2l6.9-9.1-3.2-6-2.7-.2zM456.6 657.2l1-15.3-2.6-.3-4 5.4z"/>
<path class="f c2" d="M460.3 642.1l-2.4-4.5-.3 4.3zM457.6 641.9l.3-4.3-2.9 4z"/>
<path class="m" d="M456.6 657.2l6.9-9.1-5.6-10.5-6.9 9.4z"/>
<path class="f c1" d="M469.1 657l7-8.5-3.4-5.5-2.5-.3zM469.1 657l1.1-14.3-2.2-.3-4.5 5.7z"/>
<path class="f c2" d="M472.7 643l-2.3-3.7-.2 3.4zM470.2 642.7l.2-3.4-2.4 3.1z"/>
<path class="m" d="M469.1 657l7-8.5-5.7-9.2-6.9 8.8z"/>
<path class="f c1" d="M506.8 655.4l6.2-5.7-5.6-1zM506.8 655.4l.6-6.7-4.5-1.5-1.8 1.7z"/>
<path class="f c2" d="M513 649.7l.7-.7-5.7-6.9-.6 6.6zM507.4 648.7l.6-6.6-5.1 5.1z"/>
<path class="m" d="M506.8 655.4l6.9-6.4-5.7-6.9-6.9 6.8z"/>
<path class="f c1" d="M519.4 655l2.3-1.9-2.1-.4zM519.4 655l.2-2.3-4.2-1.9z"/>
<path class="f c2" d="M521.7 653.1l4.5-3.8-5.7-6.4-.9 9.8zM519.6 652.7l.9-9.8-6.8 6.1 1.7 1.8z"/>
<path class="m" d="M519.4 655l6.8-5.7-5.7-6.4-6.8 6.1z"/>
<path class="m c2" d="M582.4 654l6.7-3.3-5.8-3.7-6.8 3.5z"/>
<path class="m c2" d="M595 653.8l6.7-2.9-5.9-3.2-6.7 3z"/>
<path class="f c2" d="M638.8 652.1l.8-.2-6.1-2.4-.3 2.5zM633.2 652l.3-2.5-6.5 1.9 1.7 .7z"/>
<path class="f c3" d="M633 653.7l5.8-1.6-5.6-.1zM633 653.7l.2-1.7-4.5 .1z"/>
<path class="m" d="M633 653.7l6.6-1.8-6.1-2.4-6.5 1.9z"/>
<path class="f c2" d="M652 652.5l-5.9-2.3-.2 2zM645.9 652.2l.2-2-6.5 1.7 .6 .2z"/>
<path class="f c3" d="M645.7 654.1l6.5-1.6-.2 0-6.1-.3zM645.7 654.1l.2-1.9-5.7-.1z"/>
<path class="m" d="M645.7 654.1l6.5-1.6-6.1-2.3-6.5 1.7z"/>
<path class="f c1" d="M481.7 656.4l6.9-7.7-2.8-4.2-3.1-.4zM481.7 656.4l1-12.3-2.4-.5-4.2 4.9z"/>
<path class="f c2" d="M485.8 644.5l-2.8-4.1-.3 3.7zM482.7 644.1l.3-3.7-2.7 3.2z"/>
<path class="m" d="M481.7 656.4l6.9-7.7-5.6-8.3-6.9 8.1z"/>
<path class="f c1" d="M494.2 655.9l6.9-7-1.5-2.1-4.5-.7zM494.2 655.9l.9-9.8-3.2-.9-3.3 3.5z"/>
<path class="f c2" d="M499.6 646.8l-4.1-5.5-.4 4.8zM495.1 646.1l.4-4.8-3.6 3.9z"/>
<path class="m" d="M494.2 655.9l6.9-7-5.6-7.6-6.9 7.4z"/>
<path class="m c2" d="M532 654.8l6.8-5.2-5.7-5.8-6.9 5.5z"/>
<path class="m c2" d="M544.6 654.6l6.8-4.7-5.8-5.2-6.8 4.9z"/>
<path class="m c2" d="M557.2 654.4l6.7-4.1-5.7-4.8-6.8 4.4z"/>
<path class="m c2" d="M569.8 654.2l6.7-3.7-5.8-4.2-6.8 4z"/>
<path class="f c2" d="M608.3 653.4l6-2.3-5.9-2.9-.7 5.2zM607.7 653.4l.7-5.2-6.7 2.7 5.6 2.6z"/>
<path class="f c3" d="M607.7 653.6l.6-.2-.6 0zM607.7 653.6l0-.2-.4 .1z"/>
<path class="m" d="M607.7 653.6l6.6-2.5-5.9-2.9-6.7 2.7z"/>
<path class="f c2" d="M624.2 652.3l2.8-.9-6.1-2.6-.4 3.5zM620.5 652.3l.4-3.5-6.6 2.3 3.4 1.4z"/>
<path class="f c3" d="M620.4 653.6l3.8-1.3-3.7 0zM620.4 653.6l.1-1.3-2.8 .2z"/>
<path class="m" d="M620.4 653.6l6.6-2.2-6.1-2.6-6.6 2.3z"/>
<path class="f c0" d="M462.2 665.7l4.8-6-4.3-.8zM462.2 665.7l.5-6.8-5.9-1.5z"/>
<path class="f c1" d="M467 659.7l2.1-2.7-5.6-8.9-.8 10.8zM462.7 658.9l.8-10.8-6.9 9.1 .2 .2z"/>
<path class="m" d="M462.2 665.7l6.9-8.7-5.6-8.9-6.9 9.1z"/>
<path class="f c0" d="M474.7 664.5l1.5-1.7-1.3-.3zM474.7 664.5l.2-2-2.2-.8z"/>
<path class="f c1" d="M476.2 662.8l5.5-6.4-5.6-7.9-1.2 14zM474.9 662.5l1.2-14-7 8.5 3.6 4.7z"/>
<path class="m" d="M474.7 664.5l7-8.1-5.6-7.9-7 8.5z"/>
<path class="m c1" d="M499.9 662l6.9-6.6-5.7-6.5-6.9 7z"/>
<path class="f c1" d="M512.5 661l6.9-6-4-4.2-1.8-.7zM512.5 661l1.1-10.9-.6-.4-6.2 5.7z"/>
<path class="f c2" d="M515.4 650.8l-1.7-1.8-.1 1.1zM513.6 650.1l.1-1.1-.7 .7z"/>
<path class="m" d="M512.5 661l6.9-6-5.7-6-6.9 6.4z"/>
<path class="f c1" d="M525.1 660.1l1.8-1.4-1.6-1zM525.1 660.1l.2-2.4-3.6-4.6-2.3 1.9z"/>
<path class="f c2" d="M526.9 658.7l5.1-3.9-5.8-5.5-.9 8.4zM525.3 657.7l.9-8.4-4.5 3.8z"/>
<path class="m" d="M525.1 660.1l6.9-5.3-5.8-5.5-6.8 5.7z"/>
<path class="m c2" d="M550.3 658.7l6.9-4.3-5.8-4.5-6.8 4.7z"/>
<path class="m c2" d="M575.6 657.4l6.8-3.4-5.9-3.5-6.7 3.7z"/>
<path class="f c2" d="M589.3 656.4l5.7-2.6-5.9-3.1-.7 5.8zM588.4 656.5l.7-5.8-6.7 3.3 5.5 2.6z"/>
<path class="f c3" d="M588.3 656.8l1-.4-.9 .1zM588.3 656.8l.1-.3-.5 .1z"/>
<path class="m" d="M588.3 656.8l6.7-3-5.9-3.1-6.7 3.3z"/>
<path class="f c2" d="M607.3 653.5l-5.6-2.6-.4 3.1zM601.3 654l.4-3.1-6.7 2.9 2.3 .9z"/>
<path class="f c3" d="M601 656.3l6.7-2.7-.4-.1-6 .5zM601 656.3l.3-2.3-4 .7z"/>
<path class="m" d="M601 656.3l6.7-2.7-6-2.7-6.7 2.9z"/>
<path class="f c2" d="M628.7 652.1l-1.7-.7-.1 .7zM626.9 652.1l.1-.7-2.8 .9z"/>
<path class="f c3" d="M626.4 655.7l6.6-2-4.3-1.6-1.8 0zM626.4 655.7l.5-3.6-2.7 .2-3.8 1.3z"/>
<path class="m" d="M626.4 655.7l6.6-2-6-2.3-6.6 2.2z"/>
<path class="f c2" d="M640.2 652.1l-.6-.2 0 .2zM639.6 652.1l0-.2-.8 .2z"/>
<path class="f c3" d="M639.1 655.9l6.6-1.8-5.5-2-.6 0zM639.1 655.9l.5-3.8-.8 0-5.8 1.6z"/>
<path class="m" d="M639.1 655.9l6.6-1.8-6.1-2.2-6.6 1.8z"/>
<path class="m c1" d="M487.3 663.2l6.9-7.3-5.6-7.2-6.9 7.7z"/>
<path class="m c2" d="M537.7 659.4l6.9-4.8-5.8-5-6.8 5.2z"/>
<path class="m c2" d="M563 658.1l6.8-3.9-5.9-3.9-6.7 4.1z"/>
<path class="f c2" d="M617.7 652.5l-3.4-1.4-.2 1.6zM614.1 652.7l.2-1.6-6 2.3z"/>
<path class="f c3" d="M613.7 655.9l6.7-2.3-2.7-1.1-3.6 .2zM613.7 655.9l.4-3.2-5.8 .7-.6 .2z"/>
<path class="m" d="M613.7 655.9l6.7-2.3-6.1-2.5-6.6 2.5z"/>
<path class="m c1" d="M492.9 668.9l7-6.9-5.7-6.1-6.9 7.3z"/>
<path class="m c3" d="M607 658.4l6.7-2.5-6-2.3-6.7 2.7z"/>
<path class="f c0" d="M467.8 672.8l6.9-8.3-2-2.8-3.9-1.2zM467.8 672.8l1-12.3-1.8-.8-4.8 6z"/>
<path class="f c1" d="M472.7 661.7l-3.6-4.7-.3 3.5zM468.8 660.5l.3-3.5-2.1 2.7z"/>
<path class="m" d="M467.8 672.8l6.9-8.3-5.6-7.5-6.9 8.7z"/>
<path class="f c0" d="M480.4 670.8l3.7-4.1-3.2-1.3zM480.4 670.8l.5-5.4-4.7-2.6-1.5 1.7z"/>
<path class="f c1" d="M484.1 666.7l3.2-3.5-5.6-6.8-.8 9zM480.9 665.4l.8-9-5.5 6.4z"/>
<path class="m" d="M480.4 670.8l6.9-7.6-5.6-6.8-7 8.1z"/>
<path class="m c1" d="M505.6 667.2l6.9-6.2-5.7-5.6-6.9 6.6z"/>
<path class="m c1" d="M518.2 665.7l6.9-5.6-5.7-5.1-6.9 6z"/>
<path class="f c1" d="M526.9 658.7l-1.8 1.4 1.6 1.2z"/>
<path class="f c2" d="M530.8 664.4l6.9-5-5.7-4.6zM530.8 664.4l1.2-9.6-5.1 3.9-.2 2.6z"/>
<path class="m" d="M530.8 664.4l6.9-5-5.7-4.6-6.9 5.3z"/>
<path class="m c2" d="M543.5 663.2l6.8-4.5-5.7-4.1-6.9 4.8z"/>
<path class="m c2" d="M556.2 662.1l6.8-4-5.8-3.7-6.9 4.3z"/>
<path class="m c2" d="M568.8 661.1l6.8-3.7-5.8-3.2-6.8 3.9z"/>
<path class="f c2" d="M587.9 656.6l-5.5-2.6-.5 3.9zM581.9 657.9l.5-3.9-6.8 3.4 3.3 1.5z"/>
<path class="f c3" d="M581.6 660.1l6.7-3.3-.4-.2-6 1.3zM581.6 660.1l.3-2.2-3 1z"/>
<path class="m" d="M581.6 660.1l6.7-3.3-5.9-2.8-6.8 3.4z"/>
<path class="f c2" d="M597.3 654.7l-2.3-.9-.1 1.3zM594.9 655.1l.1-1.3-5.7 2.6z"/>
<path class="f c3" d="M594.3 659.1l6.7-2.8-3.7-1.6-2.4 .4zM594.3 659.1l.6-4-5.6 1.3-1 .4z"/>
<path class="m" d="M594.3 659.1l6.7-2.8-6-2.5-6.7 3z"/>
<path class="m c3" d="M619.8 657.9l6.6-2.2-6-2.1-6.7 2.3z"/>
<path class="m c3" d="M632.5 657.8l6.6-1.9-6.1-2.2-6.6 2z"/>
<path class="f c0" d="M486 676l4-4.1-3.3-2.4zM486 676l.7-6.5-2.6-2.8-3.7 4.1z"/>
<path class="f c1" d="M490 671.9l2.9-3-5.6-5.7-.6 6.3zM486.7 669.5l.6-6.3-3.2 3.5z"/>
<path class="m" d="M486 676l6.9-7.1-5.6-5.7-6.9 7.6z"/>
<path class="m c1" d="M498.6 673.6l7-6.4-5.7-5.2-7 6.9z"/>
<path class="m c2" d="M536.6 668l6.9-4.8-5.8-3.8-6.9 5z"/>
<path class="m c2" d="M562 664.9l6.8-3.8-5.8-3-6.8 4z"/>
<path class="m c3" d="M600.3 661.1l6.7-2.7-6-2.1-6.7 2.8z"/>
<path class="f c3" d="M614 660l5.8-2.1-6.1-2-.6 4.2zM613.1 660.1l.6-4.2-6.7 2.5 5.6 1.7z"/>
<path class="f c4" d="M613.1 660.3l.9-.3-.9 .1zM613.1 660.3l0-.2-.5 0z"/>
<path class="m" d="M613.1 660.3l6.7-2.4-6.1-2-6.7 2.5z"/>
<path class="m c0" d="M473.4 678.6l7-7.8-5.7-6.3-6.9 8.3z"/>
<path class="m c1" d="M511.2 671.5l7-5.8-5.7-4.7-6.9 6.2z"/>
<path class="f c1" d="M523.9 669.7l1.3-1 1.5-7.4-1.6-1.2zM523.9 669.7l1.2-9.6-6.9 5.6z"/>
<path class="f c2" d="M525.2 668.7l5.6-4.3-4.1-3.1z"/>
<path class="m" d="M523.9 669.7l6.9-5.3-5.7-4.3-6.9 5.6z"/>
<path class="m c2" d="M549.3 666.4l6.9-4.3-5.9-3.4-6.8 4.5z"/>
<path class="f c2" d="M578.9 658.9l-3.3-1.5-.3 2.5zM575.3 659.9l.3-2.5-6.8 3.7 1.7 .6z"/>
<path class="f c3" d="M574.8 663.5l6.8-3.4-2.7-1.2-3.6 1zM574.8 663.5l.5-3.6-4.8 1.8z"/>
<path class="m" d="M574.8 663.5l6.8-3.4-6-2.7-6.8 3.7z"/>
<path class="m c3" d="M587.5 662.2l6.8-3.1-6-2.3-6.7 3.3z"/>
<path class="f c3" d="M631 658.3l1.5-.5-6.1-2.1-.4 2.9zM626 658.6l.4-2.9-6.6 2.2 3 1z"/>
<path class="f c4" d="M625.9 659.9l5.1-1.6-5 .3zM625.9 659.9l.1-1.3-3.2 .3z"/>
<path class="m" d="M625.9 659.9l6.6-2.1-6.1-2.1-6.6 2.2z"/>
<path class="m c0" d="M479 683.4l7-7.4-5.6-5.2-7 7.8z"/>
<path class="f c0" d="M491.6 680.3l1.5-1.4-1.1-1.9zM491.6 680.3l.4-3.3-2-5.1-4 4.1z"/>
<path class="f c1" d="M493.1 678.9l5.5-5.3-5.7-4.7-.9 8.1zM492 677l.9-8.1-2.9 3z"/>
<path class="m" d="M491.6 680.3l7-6.7-5.7-4.7-6.9 7.1z"/>
<path class="m c1" d="M504.3 677.6l6.9-6.1-5.6-4.3-7 6.4z"/>
<path class="f c1" d="M525.2 668.7l-1.3 1 .5 .2z"/>
<path class="f c2" d="M529.7 672.9l6.9-4.9-5.8-3.6zM529.7 672.9l1.1-8.5-5.6 4.3-.8 1.2z"/>
<path class="m" d="M529.7 672.9l6.9-4.9-5.8-3.6-6.9 5.3z"/>
<path class="m c2" d="M542.4 670.8l6.9-4.4-5.8-3.2-6.9 4.8z"/>
<path class="m c2" d="M555.1 668.9l6.9-4-5.8-2.8-6.9 4.3z"/>
<path class="f c2" d="M570.5 661.7l-1.7-.6-.2 1.3zM568.6 662.4l.2-1.3-6.8 3.8 .7 .2z"/>
<path class="f c3" d="M567.9 667.1l6.9-3.6-4.3-1.8-1.9 .7zM567.9 667.1l.7-4.7-5.9 2.7z"/>
<path class="m" d="M567.9 667.1l6.9-3.6-6-2.4-6.8 3.8z"/>
<path class="m c3" d="M593.5 664l6.8-2.9-6-2-6.8 3.1z"/>
<path class="f c3" d="M612.6 660.1l-5.6-1.7-.4 2.7zM606.6 661.1l.4-2.7-6.7 2.7 2.6 .8z"/>
<path class="f c4" d="M606.3 662.8l6.8-2.5-.5-.2-6 1zM606.3 662.8l.3-1.7-3.7 .8z"/>
<path class="m" d="M606.3 662.8l6.8-2.5-6.1-1.9-6.7 2.7z"/>
<path class="f c3" d="M622.8 658.9l-3-1-.2 1.3zM619.6 659.2l.2-1.3-5.8 2.1z"/>
<path class="f c4" d="M619.2 662.1l6.7-2.2-3.1-1-3.2 .3zM619.2 662.1l.4-2.9-5.6 .8-.9 .3z"/>
<path class="m" d="M619.2 662.1l6.7-2.2-6.1-2-6.7 2.4z"/>
<path class="m c1" d="M517 675.1l6.9-5.4-5.7-4-7 5.8z"/>
<path class="m c3" d="M580.7 665.4l6.8-3.2-5.9-2.1-6.8 3.4z"/>
<path class="m c0" d="M484.6 687.2l7-6.9-5.6-4.3-7 7.4z"/>
<path class="f c0" d="M493.1 678.9l-1.5 1.4 1.5 .9z"/>
<path class="f c1" d="M497.3 683.8l7-6.2-5.7-4zM497.3 683.8l1.3-10.2-5.5 5.3 0 2.3z"/>
<path class="m" d="M497.3 683.8l7-6.2-5.7-4-7 6.7z"/>
<path class="m c1" d="M510 680.8l7-5.7-5.8-3.6-6.9 6.1z"/>
<path class="f c1" d="M524.4 669.9l-.5-.2-.1 1zM523.8 670.7l.1-1-6.9 5.4 2.9 1.5z"/>
<path class="f c2" d="M522.7 678l7-5.1-5.3-3-.6 .8zM522.7 678l1.1-7.3-3.9 5.9z"/>
<path class="m" d="M522.7 678l7-5.1-5.8-3.2-6.9 5.4z"/>
<path class="m c2" d="M535.5 675.5l6.9-4.7-5.8-2.8-6.9 4.9z"/>
<path class="f c2" d="M551.9 670.9l3.2-2-5.8-2.5-1 6.6zM548.3 673l1-6.6-6.9 4.4 5.7 2.3z"/>
<path class="f c3" d="M548.2 673.1l3.7-2.2-3.6 2.1zM548.2 673.1l.1-.1-.2 .1z"/>
<path class="m" d="M548.2 673.1l6.9-4.2-5.8-2.5-6.9 4.4z"/>
<path class="f c2" d="M562.7 665.1l-.7-.2-.1 .6zM561.9 665.5l.1-.6-6.9 4 .1 0z"/>
<path class="f c3" d="M561 670.9l6.9-3.8-5.2-2-.8 .4zM561 670.9l.9-5.4-6.7 3.4z"/>
<path class="m" d="M561 670.9l6.9-3.8-5.9-2.2-6.9 4z"/>
<path class="m c3" d="M573.8 668.9l6.9-3.5-5.9-1.9-6.9 3.6z"/>
<path class="f c3" d="M592.7 664.4l.8-.4-6-1.8-.6 3.7zM586.9 665.9l.6-3.7-6.8 3.2 4.2 1.2z"/>
<path class="f c4" d="M586.7 667.1l6-2.7-5.8 1.5zM586.7 667.1l.2-1.2-2 .7z"/>
<path class="m" d="M586.7 667.1l6.8-3.1-6-1.8-6.8 3.2z"/>
<path class="f c3" d="M602.9 661.9l-2.6-.8-.2 1.4zM600.1 662.5l.2-1.4-6.8 2.9 .3 0z"/>
<path class="f c4" d="M599.6 665.6l6.7-2.8-3.4-.9-2.8 .6zM599.6 665.6l.5-3.1-6.3 1.5z"/>
<path class="m" d="M599.6 665.6l6.7-2.8-6-1.7-6.8 2.9z"/>
<path class="m c4" d="M612.4 664.5l6.8-2.4-6.1-1.8-6.8 2.5z"/>
<path class="f c0" d="M490.3 690.3l2.2-2 .6-7.1-1.5-.9zM490.3 690.3l1.3-10-7 6.9z"/>
<path class="f c1" d="M492.5 688.3l4.8-4.5-4.2-2.6z"/>
<path class="m" d="M490.3 690.3l7-6.5-5.7-3.5-7 6.9z"/>
<path class="m c1" d="M503 686.7l7-5.9-5.7-3.2-7 6.2z"/>
<path class="f c1" d="M519.9 676.6l-2.9-1.5-1.1 6.9zM515.9 682l1.1-6.9-7 5.7 5.2 2.3z"/>
<path class="f c2" d="M515.7 683.4l7-5.4-2.8-1.4-4 5.4zM515.7 683.4l.2-1.4-.7 1.1z"/>
<path class="m" d="M515.7 683.4l7-5.4-5.7-2.9-7 5.7z"/>
<path class="m c2" d="M528.5 680.4l7-4.9-5.8-2.6-7 5.1z"/>
<path class="f c2" d="M548.1 673.1l-5.7-2.3-1.1 6.7zM541.3 677.5l1.1-6.7-6.9 4.7 5.8 2z"/>
<path class="f c3" d="M541.3 677.6l6.9-4.5-.1 0-6.8 4.4zM541.3 677.6l0-.1 0 0z"/>
<path class="m" d="M541.3 677.6l6.9-4.5-5.8-2.3-6.9 4.7z"/>
<path class="f c2" d="M555.2 668.9l-.1 0 0 .1zM555.1 669l0-.1-3.2 2z"/>
<path class="f c3" d="M554.1 674.9l6.9-4-5.8-2-.1 .1zM554.1 674.9l1-5.9-3.2 1.9-3.7 2.2z"/>
<path class="m" d="M554.1 674.9l6.9-4-5.9-2-6.9 4.2z"/>
<path class="m c3" d="M567 672.5l6.8-3.6-5.9-1.8-6.9 3.8z"/>
<path class="f c3" d="M584.9 666.6l-4.2-1.2-.5 2.7zM580.2 668.1l.5-2.7-6.9 3.5 2.7 .6z"/>
<path class="f c4" d="M579.8 670.3l6.9-3.2-1.8-.5-4.7 1.5zM579.8 670.3l.4-2.2-3.7 1.4z"/>
<path class="m" d="M579.8 670.3l6.9-3.2-6-1.7-6.9 3.5z"/>
<path class="f c3" d="M593.8 664l-.3 0 0 .1zM593.5 664.1l0-.1-.8 .4z"/>
<path class="f c4" d="M592.7 668.5l6.9-2.9-5.8-1.6-.3 .1zM592.7 668.5l.8-4.4-.8 .3-6 2.7z"/>
<path class="m" d="M592.7 668.5l6.9-2.9-6.1-1.6-6.8 3.1z"/>
<path class="m c4" d="M605.6 667.1l6.8-2.6-6.1-1.7-6.7 2.8z"/>
<path class="f c0" d="M492.5 688.3l-2.2 2 1.2 .6z"/>
<path class="f c1" d="M495.9 692.8l7.1-6.1-5.7-2.9zM495.9 692.8l1.4-9-4.8 4.5-1 2.6z"/>
<path class="m" d="M495.9 692.8l7.1-6.1-5.7-2.9-7 6.5z"/>
<path class="f c1" d="M508.7 688.9l5.4-4.3 1.1-1.5-5.2-2.3zM508.7 688.9l1.3-8.1-7 5.9z"/>
<path class="f c2" d="M514.1 684.6l1.6-1.2-.5-.3z"/>
<path class="m" d="M508.7 688.9l7-5.5-5.7-2.6-7 5.9z"/>
<path class="m c2" d="M521.5 685.4l7-5-5.8-2.4-7 5.4z"/>
<path class="f c2" d="M534.3 682.2l6.4-4.3 .6-.4-5.8-2zM534.3 682.2l1.2-6.7-7 4.9z"/>
<path class="f c3" d="M540.7 677.9l.6-.3 0-.1z"/>
<path class="m" d="M534.3 682.2l7-4.6-5.8-2.1-7 4.9z"/>
<path class="m c3" d="M547.2 679.1l6.9-4.2-5.9-1.8-6.9 4.5z"/>
<path class="m c3" d="M560 676.3l7-3.8-6-1.6-6.9 4z"/>
<path class="f c3" d="M576.5 669.5l-2.7-.6-.3 1.7zM573.5 670.6l.3-1.7-6.8 3.6 1.4 .3z"/>
<path class="f c4" d="M572.9 673.8l6.9-3.5-3.3-.8-3 1.1zM572.9 673.8l.6-3.2-5.1 2.2z"/>
<path class="m" d="M572.9 673.8l6.9-3.5-6-1.4-6.8 3.6z"/>
<path class="m c4" d="M585.9 671.6l6.8-3.1-6-1.4-6.9 3.2z"/>
<path class="f c4" d="M602.6 668.4l3-1.3-6-1.5-.7 3.6zM598.9 669.2l.7-3.6-6.9 2.9 4.8 1.1z"/>
<path class="f c5" d="M598.8 669.9l3.8-1.5-3.7 .8zM598.8 669.9l.1-.7-1.4 .4z"/>
<path class="m" d="M598.8 669.9l6.8-2.8-6-1.5-6.9 2.9z"/>
<path class="m c1" d="M501.6 694.7l7.1-5.8-5.7-2.2-7.1 6.1z"/>
<path class="m c2" d="M527.3 687l7-4.8-5.8-1.8-7 5z"/>
<path class="f c3" d="M568.4 672.8l-1.4-.3-.2 1zM566.8 673.5l.2-1-7 3.8 .7 .2z"/>
<path class="f c4" d="M566 677.4l6.9-3.6-4.5-1-1.6 .7zM566 677.4l.8-3.9-6.1 3z"/>
<path class="m" d="M566 677.4l6.9-3.6-5.9-1.3-7 3.8z"/>
<path class="f c4" d="M597.5 669.6l-4.8-1.1-.4 2.4zM592.3 670.9l.4-2.4-6.8 3.1 2.7 .5z"/>
<path class="f c5" d="M591.9 672.8l6.9-2.9-1.3-.3-5.2 1.3zM591.9 672.8l.4-1.9-3.7 1.2z"/>
<path class="m" d="M591.9 672.8l6.9-2.9-6.1-1.4-6.8 3.1z"/>
<path class="f c1" d="M514.1 684.6l-5.4 4.3 1.4 .4z"/>
<path class="f c2" d="M514.5 690.7l7-5.3-5.8-2zM514.5 690.7l1.2-7.3-1.6 1.2-4 4.7z"/>
<path class="m" d="M514.5 690.7l7-5.3-5.8-2-7 5.5z"/>
<path class="f c2" d="M540.7 677.9l-6.4 4.3 .3 0z"/>
<path class="f c3" d="M540.2 683.6l7-4.5-5.9-1.5zM540.2 683.6l1.1-6-.6 .3-6.1 4.3z"/>
<path class="m" d="M540.2 683.6l7-4.5-5.9-1.5-7 4.6z"/>
<path class="m c3" d="M553.1 680.4l6.9-4.1-5.9-1.4-6.9 4.2z"/>
<path class="m c4" d="M579 674.9l6.9-3.3-6.1-1.3-6.9 3.5z"/>
<path class="m c2" d="M520.2 692l7.1-5-5.8-1.6-7 5.3z"/>
<path class="f c4" d="M573.3 677.7l5.7-2.8-6.1-1.1-.9 4.4zM572 678.2l.9-4.4-6.9 3.6 5.8 .9z"/>
<path class="f c5" d="M572 678.3l1.3-.6-1.3 .5zM572 678.3l0-.1-.2 .1z"/>
<path class="m" d="M572 678.3l7-3.4-6.1-1.1-6.9 3.6z"/>
<path class="f c1" d="M510.1 689.3l-1.4-.4-.4 2.4zM508.3 691.3l.4-2.4-7.1 5.8 3.2 .8z"/>
<path class="f c2" d="M507.4 696.2l7.1-5.5-4.4-1.4-1.8 2zM507.4 696.2l.9-4.9-3.5 4.2z"/>
<path class="m" d="M507.4 696.2l7.1-5.5-5.8-1.8-7.1 5.8z"/>
<path class="f c2" d="M534.6 682.2l-.3 0-.1 .3zM534.2 682.5l.1-.3-7 4.8 .8 .2z"/>
<path class="f c3" d="M533.1 688.2l7.1-4.6-5.6-1.4-.4 .3zM533.1 688.2l1.1-5.7-6.1 4.7z"/>
<path class="m" d="M533.1 688.2l7.1-4.6-5.9-1.4-7 4.8z"/>
<path class="f c3" d="M549.3 682.7l3.8-2.3-5.9-1.3-1.1 5.4zM546.1 684.5l1.1-5.4-7 4.5 5.7 1z"/>
<path class="f c4" d="M546.1 684.6l3.2-1.9-3.2 1.8zM546.1 684.6l0-.1-.2 .1z"/>
<path class="m" d="M546.1 684.6l7-4.2-5.9-1.3-7 4.5z"/>
<path class="f c3" d="M560.7 676.5l-.7-.2-.1 .5zM559.9 676.8l.1-.5-6.9 4.1 .1 0z"/>
<path class="f c4" d="M559 681.3l7-3.9-5.3-.9-.8 .3zM559 681.3l.9-4.5-6.7 3.6z"/>
<path class="m" d="M559 681.3l7-3.9-6-1.1-6.9 4.1z"/>
<path class="f c4" d="M588.6 672.1l-2.7-.5-.3 1.4zM585.6 673l.3-1.4-6.9 3.3 1 .1z"/>
<path class="f c5" d="M585 675.9l6.9-3.1-3.3-.7-3 .9zM585 675.9l.6-2.9-5.6 2z"/>
<path class="m" d="M585 675.9l6.9-3.1-6-1.2-6.9 3.3z"/>
<path class="m c2" d="M513.2 697.2l7-5.2-5.7-1.3-7.1 5.5z"/>
<path class="f c2" d="M528.1 687.2l-.8-.2-.2 .9zM527.1 687.9l.2-.9-7.1 5 1.6 .3z"/>
<path class="f c3" d="M526.1 693l7-4.8-5-1-1 .7zM526.1 693l1-5.1-5.3 4.4z"/>
<path class="m" d="M526.1 693l7-4.8-5.8-1.2-7.1 5z"/>
<path class="f c3" d="M545.9 684.6l-5.7-1-1.1 5.3zM539.1 688.9l1.1-5.3-7.1 4.6 5.8 .8z"/>
<path class="f c4" d="M539 689l7.1-4.4-.2 0-6.8 4.3zM539 689l.1-.1-.2 .1z"/>
<path class="m" d="M539 689l7.1-4.4-5.9-1-7.1 4.6z"/>
<path class="f c3" d="M553.2 680.4l-.1 0-.1 .1zM553 680.5l.1-.1-3.8 2.3z"/>
<path class="f c4" d="M552 685.3l7-4-5.8-.9-.2 .1zM552 685.3l1-4.8-3.7 2.2-3.2 1.9z"/>
<path class="m" d="M552 685.3l7-4-5.9-.9-7 4.2z"/>
<path class="f c4" d="M571.8 678.3l-5.8-.9-.8 3.8zM565.2 681.2l.8-3.8-7 3.9 4.8 .6z"/>
<path class="f c5" d="M565 682l7-3.7-.2 0-6.6 2.9zM565 682l.2-.8-1.4 .7z"/>
<path class="m" d="M565 682l7-3.7-6-.9-7 3.9z"/>
<path class="f c4" d="M580 675l-1-.1-.2 .6zM578.8 675.5l.2-.6-5.7 2.8z"/>
<path class="f c5" d="M578.1 679.2l6.9-3.3-5-.9-1.2 .5zM578.1 679.2l.7-3.7-5.5 2.2-1.3 .6z"/>
<path class="m" d="M578.1 679.2l6.9-3.3-6-1-7 3.4z"/>
<path class="f c2" d="M521.8 692.3l-1.6-.3-.3 1.8zM519.9 693.8l.3-1.8-7 5.2 2.3 .4z"/>
<path class="f c3" d="M519 698l7.1-5-4.3-.7-1.9 1.5zM519 698l.9-4.2-4.4 3.8z"/>
<path class="m" d="M519 698l7.1-5-5.9-1-7 5.2z"/>
<path class="f c3" d="M532 693.6l2-1.3 4.9-3.3-5.8-.8zM532 693.6l1.1-5.4-7 4.8z"/>
<path class="f c4" d="M534 692.3l5-3.3-.1 0z"/>
<path class="m" d="M532 693.6l7-4.6-5.9-.8-7 4.8z"/>
<path class="m c4" d="M545 689.6l7-4.3-5.9-.7-7.1 4.4z"/>
<path class="f c4" d="M563.8 681.9l-4.8-.6-.7 3.2zM558.3 684.5l.7-3.2-7 4 4.1 .4z"/>
<path class="f c5" d="M558 685.9l7-3.9-1.2-.1-5.5 2.6zM558 685.9l.3-1.4-2.2 1.2z"/>
<path class="m" d="M558 685.9l7-3.9-6-.7-7 4z"/>
<path class="m c5" d="M571.1 682.6l7-3.4-6.1-.9-7 3.7z"/>
<path class="m c3" d="M524.8 698.5l7.2-4.9-5.9-.6-7.1 5z"/>
<path class="f c3" d="M534 692.3l-2 1.3 0 .1z"/>
<path class="f c4" d="M537.9 694l7.1-4.4-6-.6zM537.9 694l1.1-5-5 3.3-2 1.4z"/>
<path class="m" d="M537.9 694l7.1-4.4-6-.6-7 4.6z"/>
<path class="f c4" d="M556.1 685.7l-4.1-.4-.7 2.9zM551.3 688.2l.7-2.9-7 4.3 3.7 .2z"/>
<path class="f c5" d="M550.9 689.9l7.1-4-1.9-.2-4.8 2.5zM550.9 689.9l.4-1.7-2.6 1.6z"/>
<path class="m" d="M550.9 689.9l7.1-4-6-.6-7 4.3z"/>
<path class="m c5" d="M564 686.2l7.1-3.6-6.1-.6-7 3.9z"/>
<path class="f c3" d="M532 693.7l0-.1-.1 .1zM531.9 693.7l.1-.1-7.2 4.9 .5 0z"/>
<path class="f c4" d="M530.7 698.7l7.2-4.7-5.9-.3-.1 0zM530.7 698.7l1.2-5-6.6 4.8z"/>
<path class="m" d="M530.7 698.7l7.2-4.7-5.9-.4-7.2 4.9z"/>
<path class="f c4" d="M548.7 689.8l-3.7-.2-.7 2.7zM544.3 692.3l.7-2.7-7.1 4.4 3.5 .1z"/>
<path class="f c5" d="M543.8 694.1l7.1-4.2-2.2-.1-4.4 2.5zM543.8 694.1l.5-1.8-2.9 1.8z"/>
<path class="m" d="M543.8 694.1l7.1-4.2-5.9-.3-7.1 4.4z"/>
<path class="m c5" d="M557 690l7-3.8-6-.3-7.1 4z"/>
<path class="f c4" d="M541.4 694.1l-3.5-.1-.7 2.6zM537.2 696.6l.7-2.6-7.2 4.7 3.5-.1z"/>
<path class="f c5" d="M536.7 698.6l7.1-4.5-2.4 0-4.2 2.5zM536.7 698.6l.5-2-3 2z"/>
<path class="m" d="M536.7 698.6l7.1-4.5-5.9-.1-7.2 4.7z"/>
<path class="m c5" d="M549.9 694l7.1-4-6.1-.1-7.1 4.2z"/>
<path class="f c5" d="M542.7 698.1l7.2-4.1-6.1 .1zM542.7 698.1l1.1-4-7.1 4.5z"/>
<path class="f c6" d="M542.7 698.1l0 0 0 0zM542.7 698.1l0 0 0 0z"/>
<path class="m" d="M542.7 698.1l7.2-4.1-6.1 .1-7.1 4.5z"/>
<text x="422.5" y="516.0" dy=".35em" font-size="11.8" text-anchor="middle" transform="rotate(-20.0 422.5 516.0)">26</text>
<text x="424.5" y="547.7" dy=".35em" font-size="11.8" text-anchor="middle" transform="rotate(-20.0 424.5 547.7)">22</text>
<text x="426.5" y="579.4" dy=".35em" font-size="11.8" text-anchor="middle" transform="rotate(-20.0 426.5 579.4)">18</text>
<text x="428.5" y="611.0" dy=".35em" font-size="11.8" text-anchor="middle" transform="rotate(-20.0 428.5 611.0)">14</text>
<text x="430.5" y="642.7" dy=".35em" font-size="11.8" text-anchor="middle" transform="rotate(-20.0 430.5 642.7)">10</text>
<text x="432.5" y="674.4" dy=".35em" font-size="11.8" text-anchor="middle" transform="rotate(-20.0 432.5 674.4)">6</text>
<text x="526.9" y="810.6" dy=".35em" font-size="10.8" text-anchor="middle" transform="rotate(-38.0 526.9 810.6)">0.0</text>
<text x="515.2" y="797.6" dy=".35em" font-size="10.8" text-anchor="middle" transform="rotate(-38.0 515.2 797.6)">0.2</text>
<text x="503.5" y="784.6" dy=".35em" font-size="10.8" text-anchor="middle" transform="rotate(-38.0 503.5 784.6)">0.4</text>
<text x="491.8" y="771.6" dy=".35em" font-size="10.8" text-anchor="middle" transform="rotate(-38.0 491.8 771.6)">0.6</text>
<text x="480.1" y="758.6" dy=".35em" font-size="10.8" text-anchor="middle" transform="rotate(-38.0 480.1 758.6)">0.8</text>
<text x="468.4" y="745.6" dy=".35em" font-size="10.8" text-anchor="middle" transform="rotate(-38.0 468.4 745.6)">1.0</text>
<text x="456.7" y="732.6" dy=".35em" font-size="10.8" text-anchor="middle" transform="rotate(-38.0 456.7 732.6)">1.2</text>
<text x="445.0" y="719.6" dy=".35em" font-size="10.8" text-anchor="middle" transform="rotate(-38.0 445.0 719.6)">1.4</text>
<text x="433.3" y="706.6" dy=".35em" font-size="10.8" text-anchor="middle" transform="rotate(-38.0 433.3 706.6)">1.6</text>
<text x="552.0" y="811.5" dy=".35em" font-size="11.8" text-anchor="middle" transform="rotate(-35.0 552.0 811.5)">0.5</text>
<text x="575.0" y="794.8" dy=".35em" font-size="11.8" text-anchor="middle" transform="rotate(-35.0 575.0 794.8)">1.5</text>
<text x="598.0" y="778.1" dy=".35em" font-size="11.8" text-anchor="middle" transform="rotate(-35.0 598.0 778.1)">2.5</text>
<text x="621.0" y="761.4" dy=".35em" font-size="11.8" text-anchor="middle" transform="rotate(-35.0 621.0 761.4)">3.5</text>
<text x="644.0" y="744.7" dy=".35em" font-size="11.8" text-anchor="middle" transform="rotate(-35.0 644.0 744.7)">4.5</text>
<text x="667.0" y="728.0" dy=".35em" font-size="11.8" text-anchor="middle" transform="rotate(-35.0 667.0 728.0)">5.5</text>
<text x="407.0" y="623.0" dy=".35em" font-size="13" text-anchor="middle" transform="rotate(88.0 407.0 623.0)" textLength="150.0" lengthAdjust="spacingAndGlyphs">Lipase activity(U/gds)</text>
<text x="455.1" y="771.1" dy=".35em" font-size="11" text-anchor="middle" transform="rotate(46.0 455.1 771.1)" textLength="63.0" lengthAdjust="spacingAndGlyphs">K2HPO4(g/l)</text>
<text x="633.0" y="784.6" dy=".35em" font-size="12.5" text-anchor="middle" transform="rotate(-32.3 633.0 784.6)" textLength="73.9" lengthAdjust="spacingAndGlyphs">Peptone (g/l)</text>
</g>
<rect x="379.5" y="432.5" width="39.0" height="38.0" fill="#fff" stroke="#000" stroke-width="1.2" shape-rendering="crispEdges"/><text x="399.0" y="460.3" font-size="24" text-anchor="middle" style="fill:#000">D</text>
<g class="p">
<path d="M66 1044.6l-5.2-149.2 118.2-52.9 103.5 65-6 150-116.5 70z" fill="#3f8282"/>
<path d="M160 1127.5l-94-82.9-5.2-149.2M184.5 1112.8l-94.9-80.7-4.1-147.8M208.4 1098.4l-95.8-78.6-3-146.3M231.6 1084.5l-96.5-76.6-1.8-144.9M254.3 1070.8l-97.2-74.6-.7-143.6M276.5 1057.5l-97.9-72.8 .4-142.2M160 1127.5l116.5-70 6-150M143.2 1112.7l115.8-68.2 5-148.6M126.8 1098.2l115.3-66.3 3.9-147.3M111 1084.3l114.6-64.7 2.9-146M95.5 1070.7l114-63 2-144.8M80.6 1057.4l113.2-61.4 1.2-143.4M66 1044.6l112.6-59.9 .4-142.2M65.1 1019.3l113.6-58.7 98.8 71.5M64.3 994.7l114.4-57.6 99.8 70.2M63.4 970l115.4-56.4 100.7 68.9M62.5 945.3l116.4-55.2 101.6 67.6M61.7 920.7l117.2-54.1 102.6 66.3M60.8 896l118.2-52.9 103.5 65M66 1044.6l112.6-59.9 97.9 72.8M178.6 984.7l.4-142.2" fill="none" stroke="#bccfcf" stroke-width="0.9"/>
<path d="M60.8 895.4l5.2 149.2 94 82.9 116.5-70" fill="none" stroke="#0a1414" stroke-width="1.1"/>
<path d="M60.8 895.4l5.2 149.2" fill="none" stroke="#0a1414" stroke-width="1.6" stroke-dasharray="1 3.4" transform="translate(-1 0)"/>
<path d="M66 1044.6l94 82.9" fill="none" stroke="#0a1414" stroke-width="1.6" stroke-dasharray="1 3.4" transform="translate(-.7 .8)"/>
<path d="M160 1127.5l116.5-70" fill="none" stroke="#0a1414" stroke-width="1.6" stroke-dasharray="1 3.4" transform="translate(.6 .9)"/>
<path class="f c6" d="M178.1 925.7l5.8-1.1-2.4-3.4z"/>
<path class="f c7" d="M177.9 925.8l.2-.1 3.4-4.5-2.7-3.9zM177.9 925.8l.9-8.5-6 .5-.1 .1z"/>
<path class="f c8" d="M172.8 917.8l-.1 0 0 .1z"/>
<path class="m" d="M177.9 925.8l6-1.2-5.1-7.3-6.1 .5z"/>
<path class="f c7" d="M171.7 927.2l6.2-1.4-5.2-7.9 0 0zM171.7 927.2l1-9.3-3.8 4.6z"/>
<path class="f c8" d="M172.7 917.9l0-.1 0 .1zM172.7 917.9l0-.1-6.1 .8 2.3 3.9z"/>
<path class="m" d="M171.7 927.2l6.2-1.4-5.2-8-6.1 .8z"/>
<path class="f c5" d="M183.3 933.8l5.8-1.4-1.9-2.8z"/>
<path class="f c6" d="M183 933.8l.3 0 3.9-4.2-3.3-5zM183 933.8l.9-9.2-5.8 1.1-.2 .2z"/>
<path class="f c7" d="M178.1 925.7l-.2 .1 0 .1z"/>
<path class="m" d="M183 933.8l6.1-1.4-5.2-7.8-6 1.2z"/>
<path class="f c7" d="M165.6 928.8l6.1-1.6-2.8-4.7-2.9 2.6zM165.6 928.8l.4-3.7-1.6 1.5z"/>
<path class="f c8" d="M168.9 922.5l-2.3-3.9-.6 6.5zM166 925.1l.6-6.5-6.2 .9 4 7.1z"/>
<path class="m" d="M165.6 928.8l6.1-1.6-5.1-8.6-6.2 .9z"/>
<path class="f c6" d="M176.9 935.5l6.1-1.7-5.1-7.9-.1 .1zM176.9 935.5l.9-9.5-4.2 4.2z"/>
<path class="f c7" d="M177.9 925.9l0-.1-.1 .2zM177.8 926l.1-.2-6.2 1.4 1.9 3z"/>
<path class="m" d="M176.9 935.5l6.1-1.7-5.1-8-6.2 1.4z"/>
<path class="f c4" d="M188.2 942.8l6.1-1.4-2.4-4.1-3.5 3.3zM188.2 942.8l.2-2.2-.9 .9z"/>
<path class="f c5" d="M191.9 937.3l-2.8-4.9-.7 8.2zM188.4 940.6l.7-8.2-5.8 1.4-.2 .2 4.4 7.5z"/>
<path class="f c6" d="M183.3 933.8l-.3 0 .1 .2z"/>
<path class="m" d="M188.2 942.8l6.1-1.4-5.2-9-6.1 1.4z"/>
<path class="f c7" d="M159.4 930.6l6.2-1.8-1.2-2.2-5 3.8zM159.4 930.6l0-.2-.1 .1z"/>
<path class="f c8" d="M164.4 926.6l-4-7.1-1 10.9zM159.4 930.4l1-10.9-.3 .1-4.4 3.8 3.6 7.1z"/>
<path class="f c9" d="M160.1 919.6l-5.9 1.1 1.5 2.7z"/>
<path class="m" d="M159.4 930.6l6.2-1.8-5.2-9.3-6.2 1.2z"/>
<path class="f c6" d="M170.8 937.4l6.1-1.9-3.3-5.3-2.3 1.9zM170.8 937.4l.5-5.3-2.5 2.1z"/>
<path class="f c7" d="M173.6 930.2l-1.9-3-.4 4.9zM171.3 932.1l.4-4.9-6.1 1.6 3.2 5.4z"/>
<path class="m" d="M170.8 937.4l6.1-1.9-5.2-8.3-6.1 1.6z"/>
<path class="f c4" d="M184.7 943.8l3.5-1-.7-1.3z"/>
<path class="f c5" d="M182.1 944.5l2.6-.7 2.8-2.3-4.4-7.5-.1 0zM182.1 944.5l.9-10.5-4.7 4z"/>
<path class="f c6" d="M183.1 934l-.1-.2 0 .2zM183 934l0-.2-6.1 1.7 1.4 2.5z"/>
<path class="m" d="M182.1 944.5l6.1-1.7-5.2-9-6.1 1.7z"/>
<path class="f c3" d="M193.5 950.8l6-1.4-2.8-4.3-3.1 3.6zM193.5 950.8l.1-2.1-.9 1z"/>
<path class="f c4" d="M196.7 945.1l-2.4-3.7-.7 7.3zM193.6 948.7l.7-7.3-6.1 1.4 4.5 6.9z"/>
<path class="m" d="M193.5 950.8l6-1.4-5.2-8-6.1 1.4z"/>
<path class="f c5" d="M176 946.5l6.1-2-3.8-6.5-1.7 1.3zM176 946.5l.6-7.2-3.3 2.6z"/>
<path class="f c6" d="M178.3 938l-1.4-2.5-.3 3.8zM176.6 939.3l.3-3.8-6.1 1.9 2.5 4.5z"/>
<path class="m" d="M176 946.5l6.1-2-5.2-9-6.1 1.9z"/>
<path class="f c7" d="M158.7 930.9l.7-.3-.1-.1z"/>
<path class="f c8" d="M153.1 932.7l5.6-1.8 .6-.4-3.6-7.1-1.8 1.2zM153.1 932.7l.8-8.1-3.4 2.6z"/>
<path class="f c9" d="M155.7 923.4l-1.5-2.7-.3 3.9zM153.9 924.6l.3-3.9-6.2 1.4 2.5 5.1z"/>
<path class="m" d="M153.1 932.7l6.3-2.1-5.2-9.9-6.2 1.4z"/>
<path class="f c6" d="M164.6 939.6l6.2-2.2-2-3.2-4 2.9zM164.6 939.6l.2-2.5-1.2 .9z"/>
<path class="f c7" d="M168.8 934.2l-3.2-5.4-.8 8.3zM164.8 937.1l.8-8.3-6.2 1.8 4.2 7.4z"/>
<path class="m" d="M164.6 939.6l6.2-2.2-5.2-8.6-6.2 1.8z"/>
<path class="f c3" d="M191 951.4l2.5-.6-.8-1.1z"/>
<path class="f c4" d="M187.4 952.4l3.6-1 1.7-1.7-4.5-6.9zM187.4 952.4l.8-9.6-3.5 1-1.8 1.9z"/>
<path class="f c5" d="M184.7 943.8l-2.6 .7 .8 1.2z"/>
<path class="m" d="M187.4 952.4l6.1-1.6-5.3-8-6.1 1.7z"/>
<path class="f c2" d="M204.3 955.6l.5-.2-.3-.4z"/>
<path class="f c3" d="M198.7 956.8l5.6-1.2 .2-.6-5-5.6zM198.7 956.8l.8-7.4-6 1.4z"/>
<path class="m" d="M198.7 956.8l6.1-1.4-5.3-6-6 1.4z"/>
<path class="f c8" d="M146.8 935.1l6.3-2.4-2.6-5.5-3.1 1.9zM146.8 935.1l.6-6-2.5 1.7z"/>
<path class="f c9" d="M150.5 927.2l-2.5-5.1-.6 7zM147.4 929.1l.6-7-6.3 1.7 3.2 7z"/>
<path class="m" d="M146.8 935.1l6.3-2.4-5.1-10.6-6.3 1.7z"/>
<path class="f c6" d="M158.3 942.1l6.3-2.5-1-1.6-5.2 3.4zM158.3 942.1l.1-.7-.3 .2z"/>
<path class="f c7" d="M163.6 938l-4.2-7.4-1 10.8zM158.4 941.4l1-10.8-.7 .3-4.8 3.3 4.2 7.4z"/>
<path class="f c8" d="M158.7 930.9l-5.6 1.8 .8 1.5z"/>
<path class="m" d="M158.3 942.1l6.3-2.5-5.2-9-6.3 2.1z"/>
<path class="f c5" d="M169.8 948.7l6.2-2.2-2.7-4.6-3.1 2.2zM169.8 948.7l.4-4.6-2.2 1.5z"/>
<path class="f c6" d="M173.3 941.9l-2.5-4.5-.6 6.7zM170.2 944.1l.6-6.7-6.2 2.2 3.4 6z"/>
<path class="m" d="M169.8 948.7l6.2-2.2-5.2-9.1-6.2 2.2z"/>
<path class="f c4" d="M181.2 954.4l6.2-2-4.5-6.7-1 .8zM181.2 954.4l.7-7.9-3.7 3.3z"/>
<path class="f c5" d="M182.9 945.7l-.8-1.2-.2 2zM181.9 946.5l.2-2-6.1 2 2.2 3.3z"/>
<path class="m" d="M181.2 954.4l6.2-2-5.3-7.9-6.1 2z"/>
<path class="f c3" d="M192.6 958.5l6.1-1.7-5.2-6zM192.6 958.5l.9-7.7-2.5 .6-1.6 3.4z"/>
<path class="f c4" d="M191 951.4l-3.6 1 2 2.4z"/>
<path class="m" d="M192.6 958.5l6.1-1.7-5.2-6-6.1 1.6z"/>
<path class="f c2" d="M204.2 962.2l5.9-1.3-5.3-5.5-.6 5.8zM204.2 961.2l.6-5.8-.5 .2z"/>
<path class="f c3" d="M204.1 962.2l.1 0 0-1zM204.1 962.2l.1-1 .1-5.6-5.6 1.2z"/>
<path class="m" d="M204.1 962.2l6-1.3-5.3-5.5-6.1 1.4z"/>
<path class="f c8" d="M140.5 937.8l6.3-2.7-1.9-4.3-4 2.2zM140.5 937.8l.4-4.8-1.9 1.2z"/>
<path class="f c9" d="M144.9 930.8l-3.2-7-.8 9.2zM140.9 933l.8-9.2-6.4 1.9 3.7 8.5z"/>
<path class="m" d="M140.5 937.8l6.3-2.7-5.1-11.3-6.4 1.9z"/>
<path class="f c5" d="M163.5 951.2l6.3-2.5-1.8-3.1-4.2 2.7zM163.5 951.2l.3-2.9-1.4 .9z"/>
<path class="f c6" d="M168 945.6l-3.4-6-.8 8.7zM163.8 948.3l.8-8.7-6.3 2.5 4.1 7.1z"/>
<path class="m" d="M163.5 951.2l6.3-2.5-5.2-9.1-6.3 2.5z"/>
<path class="f c4" d="M175 956.6l6.2-2.2-3-4.6-2.8 2.3zM175 956.6l.4-4.5-2.2 1.7z"/>
<path class="f c5" d="M178.2 949.8l-2.2-3.3-.6 5.6zM175.4 952.1l.6-5.6-6.2 2.2 3.4 5.1z"/>
<path class="m" d="M175 956.6l6.2-2.2-5.2-7.9-6.2 2.2z"/>
<path class="f c3" d="M186.5 960.5l6.1-2-3.2-3.7-2.8 4.4zM186.5 960.5l.1-1.3-.5 .8z"/>
<path class="f c4" d="M189.4 954.8l-2-2.4-.8 6.8zM186.6 959.2l.8-6.8-6.2 2 4.9 5.6z"/>
<path class="m" d="M186.5 960.5l6.1-2-5.2-6.1-6.2 2z"/>
<path class="f c2" d="M209.5 966.5l6-1.3-5.4-4.3zM209.5 966.5l.6-5.6-5.9 1.3 .2 .3z"/>
<path class="f c3" d="M204.2 962.2l-.1 0 .3 .3z"/>
<path class="m" d="M209.5 966.5l6-1.3-5.4-4.3-6 1.3z"/>
<path class="f c6" d="M154.4 943.7l3.9-1.6-.2-.5z"/>
<path class="f c7" d="M152 944.8l2.4-1.1 3.7-2.1-4.2-7.4-.9 .5zM152 944.8l1-10.1-4.8 3z"/>
<path class="f c8" d="M153.9 934.2l-.8-1.5-.1 2zM153 934.7l.1-2-6.3 2.4 1.4 2.6z"/>
<path class="m" d="M152 944.8l6.3-2.7-5.2-9.4-6.3 2.4z"/>
<path class="m c3" d="M198 963.8l6.1-1.6-5.4-5.4-6.1 1.7z"/>
<path class="f c8" d="M134.2 940.7l6.3-2.9-1.5-3.6-4.5 2.3zM134.2 940.7l.3-4.2-1.7 1z"/>
<path class="f c9" d="M139 934.2l-3.7-8.5-.8 10.8zM134.5 936.5l.8-10.8-6.3 2.3 3.8 9.5z"/>
<path class="m" d="M134.2 940.7l6.3-2.9-5.2-12.1-6.3 2.3z"/>
<path class="f c7" d="M145.7 947.8l6.3-3-3.8-7.1-1.7 .9zM145.7 947.8l.8-9.2-4.3 2.4z"/>
<path class="f c8" d="M148.2 937.7l-1.4-2.6-.3 3.5zM146.5 938.6l.3-3.5-6.3 2.7 1.7 3.2z"/>
<path class="m" d="M145.7 947.8l6.3-3-5.2-9.7-6.3 2.7z"/>
<path class="f c5" d="M157.2 954l6.3-2.8-1.1-2-5 2.9zM157.2 954l.2-1.9-.9 .6z"/>
<path class="f c6" d="M162.4 949.2l-4.1-7.1-.9 10zM157.4 952.1l.9-10-3.9 1.6-2.2 1.3 4.3 7.7z"/>
<path class="f c7" d="M154.4 943.7l-2.4 1.1 .2 .2z"/>
<path class="m" d="M157.2 954l6.3-2.8-5.2-9.1-6.3 2.7z"/>
<path class="f c4" d="M168.7 959.1l6.3-2.5-1.8-2.8-4.2 3zM168.7 959.1l.3-2.3-1.2 .9z"/>
<path class="f c5" d="M173.2 953.8l-3.4-5.1-.8 8.1zM169 956.8l.8-8.1-6.3 2.5 4.3 6.5z"/>
<path class="m" d="M168.7 959.1l6.3-2.5-5.2-7.9-6.3 2.5z"/>
<path class="f c3" d="M185.4 960.8l1.1-.3-.4-.5z"/>
<path class="f c4" d="M180.3 962.7l5.1-1.9 .7-.8-4.9-5.6zM180.3 962.7l.9-8.3-6.2 2.2z"/>
<path class="m" d="M180.3 962.7l6.2-2.2-5.3-6.1-6.2 2.2z"/>
<path class="m c3" d="M191.8 965.8l6.2-2-5.4-5.3-6.1 2z"/>
<path class="f c2" d="M207.9 966.9l1.6-.4-5.1-4z"/>
<path class="f c3" d="M203.3 968.1l4.6-1.2-3.5-4.4-.3-.3zM203.3 968.1l.8-5.9-6.1 1.6z"/>
<path class="m" d="M203.3 968.1l6.2-1.6-5.4-4.3-6.1 1.6z"/>
<path class="m c2" d="M214.9 970l6.1-1.3-5.5-3.5-6 1.3z"/>
<path class="f c5" d="M150.9 957.1l6.3-3.1-.7-1.3-5.4 2.8zM150.9 957.1l.2-1.6-.8 .4z"/>
<path class="f c6" d="M156.5 952.7l-4.3-7.7-.2 .1-.9 10.4zM151.1 955.5l.9-10.4-6 3.2 4.3 7.6z"/>
<path class="f c7" d="M152.2 945l-.2-.2 0 .3zM152 945.1l0-.3-6.3 3 .3 .5z"/>
<path class="m" d="M150.9 957.1l6.3-3.1-5.2-9.2-6.3 3z"/>
<path class="m c3" d="M197.2 970.1l6.1-2-5.3-4.3-6.2 2z"/>
<path class="f c8" d="M127.8 944l6.4-3.3-1.4-3.2-4.7 2.2zM127.8 944l.3-4.3-1.6 .9z"/>
<path class="f c9" d="M132.8 937.5l-3.8-9.5-.9 11.7zM128.1 939.7l.9-11.7-6.5 2.5 4 10.1z"/>
<path class="m" d="M127.8 944l6.4-3.3-5.2-12.7-6.5 2.5z"/>
<path class="f c7" d="M139.3 951.1l6.4-3.3-3.5-6.8-2.1 1zM139.3 951.1l.8-9.1-4.2 2.2z"/>
<path class="f c8" d="M142.2 941l-1.7-3.2-.4 4.2zM140.1 942l.4-4.2-6.3 2.9 1.7 3.5z"/>
<path class="m" d="M139.3 951.1l6.4-3.3-5.2-10-6.3 2.9z"/>
<path class="f c4" d="M162.5 961.9l6.2-2.8-.9-1.4-5.2 3.3zM162.5 961.9l.1-.9-.5 .3z"/>
<path class="f c5" d="M167.8 957.7l-4.3-6.5-.9 9.8zM162.6 961l.9-9.8-6.3 2.8 4.9 7.3z"/>
<path class="m" d="M162.5 961.9l6.2-2.8-5.2-7.9-6.3 2.8z"/>
<path class="m c4" d="M174 965.3l6.3-2.6-5.3-6.1-6.3 2.5z"/>
<path class="f c3" d="M185.6 968.1l6.2-2.3-5.3-5.3zM185.6 968.1l.9-7.6-1.1 .3-2.3 4.7z"/>
<path class="f c4" d="M185.4 960.8l-5.1 1.9 2.8 2.8z"/>
<path class="m" d="M185.6 968.1l6.2-2.3-5.3-5.3-6.2 2.2z"/>
<path class="f c2" d="M214.5 970.2l.4-.2-5.4-3.5-.2 1.1zM209.3 967.6l.2-1.1-1.6 .4z"/>
<path class="f c3" d="M208.8 971.7l5.7-1.5-5.2-2.6zM208.8 971.7l.5-4.1-1.4-.7-4.6 1.2z"/>
<path class="m" d="M208.8 971.7l6.1-1.7-5.4-3.5-6.2 1.6z"/>
<path class="f c2" d="M221.9 973l4.6-.9-5.5-3.4-.5 3.8zM220.5 972.5l.5-3.8-6.1 1.3 1.1 .7z"/>
<path class="f c3" d="M220.4 973.3l1.5-.3-1.4-.5zM220.4 973.3l.1-.8-4.5-1.8z"/>
<path class="m" d="M220.4 973.3l6.1-1.2-5.5-3.4-6.1 1.3z"/>
<path class="f c8" d="M121.3 947.6l6.5-3.6-1.3-3.4-4.8 2.2zM121.3 947.6l.4-4.8-1.8 .9z"/>
<path class="f c9" d="M126.5 940.6l-4-10.1-.8 12.3zM121.7 942.8l.8-12.3-6.4 2.9 3.8 10.3z"/>
<path class="m" d="M121.3 947.6l6.5-3.6-5.3-13.5-6.4 2.9z"/>
<path class="f c6" d="M133 954.7l3.6-2.1-3.6 1.6zM133 954.7l0-.5-.2 .1z"/>
<path class="f c7" d="M136.6 952.6l2.7-1.5-3.4-6.9-2.1 .9-.8 9.1zM133 954.2l.8-9.1-4.4 2.2 3.4 7z"/>
<path class="f c8" d="M135.9 944.2l-1.7-3.5-.4 4.4zM133.8 945.1l.4-4.4-6.4 3.3 1.6 3.3z"/>
<path class="m" d="M133 954.7l6.3-3.6-5.1-10.4-6.4 3.3z"/>
<path class="f c5" d="M144.5 960.4l6.4-3.3-.6-1.2-5.6 2.7zM144.5 960.4l.2-1.8-.9 .4z"/>
<path class="f c6" d="M150.3 955.9l-4.3-7.6-.4 .1-.9 10.2zM144.7 958.6l.9-10.2-6.1 3 4.3 7.6z"/>
<path class="f c7" d="M146 948.3l-.3-.5-.1 .6zM145.6 948.4l.1-.6-6.4 3.3 .2 .3z"/>
<path class="m" d="M144.5 960.4l6.4-3.3-5.2-9.3-6.4 3.3z"/>
<path class="f c4" d="M156.1 964.9l6.4-3-.4-.6-5.9 3.2zM156.1 964.9l.1-.4-.3 .1z"/>
<path class="f c5" d="M162.1 961.3l-4.9-7.3-1 10.5zM156.2 964.5l1-10.5-6.3 3.1 5 7.5z"/>
<path class="m" d="M156.1 964.9l6.4-3-5.3-7.9-6.3 3.1z"/>
<path class="m c4" d="M167.7 968.1l6.3-2.8-5.3-6.2-6.2 2.8z"/>
<path class="f c3" d="M179.3 970.6l6.3-2.5-2.5-2.6-3.8 4.9zM179.3 970.6l0-.2-.1 .2z"/>
<path class="f c4" d="M183.1 965.5l-2.8-2.8-1 7.7zM179.3 970.4l1-7.7-6.3 2.6 5.2 5.3z"/>
<path class="m" d="M179.3 970.6l6.3-2.5-5.3-5.4-6.3 2.6z"/>
<path class="m c3" d="M190.9 972.4l6.3-2.3-5.4-4.3-6.2 2.3z"/>
<path class="m c3" d="M202.6 973.7l6.2-2-5.5-3.6-6.1 2z"/>
<path class="f c2" d="M216 970.7l-1.1-.7 0 .3zM214.9 970.3l0-.3-.4 .2z"/>
<path class="f c3" d="M214.3 975l6.1-1.7-4.4-2.6-1.1-.4zM214.3 975l.6-4.7-.4-.1-5.7 1.5z"/>
<path class="m" d="M214.3 975l6.1-1.7-5.5-3.3-6.1 1.7z"/>
<path class="f c2" d="M229.8 975.7l2.3-.5-5.6-3.1-.3 2.3zM226.2 974.4l.3-2.3-4.6 .9z"/>
<path class="f c3" d="M226 976.5l3.8-.8-3.6-1.3zM226 976.5l.2-2.1-4.3-1.4-1.5 .3z"/>
<path class="m" d="M226 976.5l6.1-1.3-5.6-3.1-6.1 1.2z"/>
<path class="f c5" d="M138.2 964.1l6.3-3.7-.7-1.4-5.4 2.3zM138.2 964.1l.2-2.8-1.4 .6z"/>
<path class="f c6" d="M143.8 959l-4.3-7.6-.2 .1-.9 9.8zM138.4 961.3l.9-9.8-2.7 1.1-3.6 2.1 4 7.2z"/>
<path class="f c7" d="M139.5 951.4l-.2-.3 0 .4zM139.3 951.5l0-.4-2.7 1.5z"/>
<path class="m" d="M138.2 964.1l6.3-3.7-5.2-9.3-6.3 3.6z"/>
<path class="f c4" d="M149.8 968.3l6.3-3.4-.2-.3-6.1 2.9zM149.8 968.3l0-.8-.4 .3z"/>
<path class="f c5" d="M155.9 964.6l-5-7.5-1.1 10.4zM149.8 967.5l1.1-10.4-6.4 3.3 4.9 7.4z"/>
<path class="m" d="M149.8 968.3l6.3-3.4-5.2-7.8-6.4 3.3z"/>
<path class="m c4" d="M161.4 971.3l6.3-3.2-5.2-6.2-6.4 3z"/>
<path class="m c3" d="M184.7 975l6.2-2.6-5.3-4.3-6.3 2.5z"/>
<path class="m c3" d="M196.4 976l6.2-2.3-5.4-3.6-6.3 2.3z"/>
<path class="m c3" d="M208.1 977.1l6.2-2.1-5.5-3.3-6.2 2z"/>
<path class="f c8" d="M114.9 951.5l6.4-3.9-1.4-3.9-4.6 1.9zM114.9 951.5l.4-5.9-2.2 1z"/>
<path class="f c9" d="M119.9 943.7l-3.8-10.3-.8 12.2zM115.3 945.6l.8-12.2-6.5 3.3 3.5 9.9z"/>
<path class="m" d="M114.9 951.5l6.4-3.9-5.2-14.2-6.5 3.3z"/>
<path class="f c6" d="M126.5 958.6l6.5-3.9-.2-.4-6.1 2.5zM126.5 958.6l.2-1.8-.9 .3z"/>
<path class="f c7" d="M132.8 954.3l-3.4-7-2 .7-.7 8.8zM126.7 956.8l.7-8.8-4.9 2.2 3.3 6.9z"/>
<path class="f c8" d="M129.4 947.3l-1.6-3.3-.4 4zM127.4 948l.4-4-6.5 3.6 1.2 2.6z"/>
<path class="m" d="M126.5 958.6l6.5-3.9-5.2-10.7-6.5 3.6z"/>
<path class="f c3" d="M179 970.8l.3-.2-.1 0z"/>
<path class="f c4" d="M173 973.5l6-2.7 .2-.2-5.2-5.3zM173 973.5l1-8.2-6.3 2.8z"/>
<path class="m" d="M173 973.5l6.3-2.9-5.3-5.3-6.3 2.8z"/>
<path class="m c3" d="M219.8 978.1l6.2-1.6-5.6-3.2-6.1 1.7z"/>
<path class="f c2" d="M236 977.2l-3.9-2-.1 1zM232 976.2l.1-1-2.3 .5z"/>
<path class="f c3" d="M231.6 979.2l6.1-1.1-1.7-.9-4-1zM231.6 979.2l.4-3-2.2-.5-3.8 .8z"/>
<path class="m" d="M231.6 979.2l6.1-1.1-5.6-2.9-6.1 1.3z"/>
<path class="f c7" d="M108.4 955.9l1.4-1-1.4 .6zM108.4 955.9l0-.4-.2 .1z"/>
<path class="f c8" d="M109.8 954.9l5.1-3.4-1.8-4.9-4.2 1.7-.5 7.2zM108.4 955.5l.5-7.2-2.7 1.2 2 6.1z"/>
<path class="f c9" d="M113.1 946.6l-3.5-9.9-.7 11.6zM108.9 948.3l.7-11.6-6.5 3.7 3.1 9.1z"/>
<path class="m" d="M108.4 955.9l6.5-4.4-5.3-14.8-6.5 3.7z"/>
<path class="f c6" d="M120.1 962.9l6.4-4.3-.7-1.5-5.4 2zM120.1 962.9l.3-3.8-1.7 .7z"/>
<path class="f c7" d="M125.8 957.1l-3.3-6.9-1.4 .5-.7 8.4zM120.4 959.1l.7-8.4-5.6 2.2 3.2 6.9z"/>
<path class="f c8" d="M122.5 950.2l-1.2-2.6-.2 3.1zM121.1 950.7l.2-3.1-6.4 3.9 .6 1.4z"/>
<path class="m" d="M120.1 962.9l6.4-4.3-5.2-11-6.4 3.9z"/>
<path class="f c5" d="M131.7 968.1l6.5-4-1.2-2.2-4.9 1.9zM131.7 968.1l.4-4.3-2.3 .9z"/>
<path class="f c6" d="M137 961.9l-4-7.2-.9 9.1zM132.1 963.8l.9-9.1-6.5 3.9 3.3 6.1z"/>
<path class="m" d="M131.7 968.1l6.5-4-5.2-9.4-6.5 3.9z"/>
<path class="f c4" d="M143.4 972l6.4-3.7-.4-.5-5.8 2.4zM143.4 972l.2-1.8-1.1 .4z"/>
<path class="f c5" d="M149.4 967.8l-4.9-7.4-.9 9.8zM143.6 970.2l.9-9.8-6.3 3.7 4.3 6.5z"/>
<path class="m" d="M143.4 972l6.4-3.7-5.3-7.9-6.3 3.7z"/>
<path class="m c4" d="M155 974.7l6.4-3.4-5.3-6.4-6.3 3.4z"/>
<path class="m c4" d="M166.7 976.7l6.3-3.2-5.3-5.4-6.3 3.2z"/>
<path class="f c3" d="M178.4 977.9l6.3-2.9-5.4-4.4zM178.4 977.9l.9-7.3-.3 .2-1.5 6.4z"/>
<path class="f c4" d="M179 970.8l-6 2.7 4.5 3.7z"/>
<path class="m" d="M178.4 977.9l6.3-2.9-5.4-4.4-6.3 2.9z"/>
<path class="m c3" d="M190.1 978.7l6.3-2.7-5.5-3.6-6.2 2.6z"/>
<path class="m c3" d="M201.8 979.5l6.3-2.4-5.5-3.4-6.2 2.3z"/>
<path class="m c3" d="M213.6 980.1l6.2-2-5.5-3.1-6.2 2.1z"/>
<path class="m c3" d="M225.5 980.8l6.1-1.6-5.6-2.7-6.2 1.6z"/>
<path class="m c3" d="M237.3 981.4l6.1-1.1-5.7-2.2-6.1 1.1z"/>
<path class="f c7" d="M101.8 960.8l6.6-4.9-.2-.3-6.2 2.3zM101.8 960.8l.2-2.9-1 .4z"/>
<path class="f c8" d="M108.2 955.6l-2-6.1-3.8 1.4-.4 7zM102 957.9l.4-7-3.3 1.4 1.9 6z"/>
<path class="f c9" d="M106.2 949.5l-3.1-9.1-.7 10.5zM102.4 950.9l.7-10.5-6.6 4.3 2.6 7.6z"/>
<path class="m" d="M101.8 960.8l6.6-4.9-5.3-15.5-6.6 4.3z"/>
<path class="f c5" d="M125.3 972.5l6.4-4.4-1.9-3.4-4 1.3zM125.3 972.5l.5-6.5-3.4 1.2z"/>
<path class="f c6" d="M129.8 964.7l-3.3-6.1-.7 7.4zM125.8 966l.7-7.4-6.4 4.3 2.3 4.3z"/>
<path class="m" d="M125.3 972.5l6.4-4.4-5.2-9.5-6.4 4.3z"/>
<path class="f c4" d="M136.9 976l6.5-4-.9-1.4-5.2 1.8zM136.9 976l.4-3.6-2.2 .8z"/>
<path class="f c5" d="M142.5 970.6l-4.3-6.5-.9 8.3zM137.3 972.4l.9-8.3-6.5 4 3.4 5.1z"/>
<path class="m" d="M136.9 976l6.5-4-5.2-7.9-6.5 4z"/>
<path class="m c4" d="M148.6 978.5l6.4-3.8-5.2-6.4-6.4 3.7z"/>
<path class="m c4" d="M160.3 980.2l6.4-3.5-5.3-5.4-6.4 3.4z"/>
<path class="f c3" d="M172.7 980.8l5.7-2.9-.9-.7z"/>
<path class="f c4" d="M172 981.2l.7-.4 4.8-3.6-4.5-3.7zM172 981.2l1-7.7-6.3 3.2z"/>
<path class="m" d="M172 981.2l6.4-3.3-5.4-4.4-6.3 3.2z"/>
<path class="f c3" d="M185.7 980.8l4.4-2.1-5.4-3.7-.8 5.5zM183.9 980.5l.8-5.5-6.3 2.9 2.3 1.6z"/>
<path class="f c4" d="M183.8 981.7l1.9-.9-1.8-.3zM183.8 981.7l.1-1.2-3.2-1z"/>
<path class="m" d="M183.8 981.7l6.3-3-5.4-3.7-6.3 2.9z"/>
<path class="f c3" d="M198.7 980.8l3.1-1.3-5.4-3.5-.6 4.6zM195.8 980.6l.6-4.6-6.3 2.7 2.4 1.5z"/>
<path class="f c4" d="M195.6 982.2l3.1-1.4-2.9-.2zM195.6 982.2l.2-1.6-3.3-.4z"/>
<path class="m" d="M195.6 982.2l6.2-2.7-5.4-3.5-6.3 2.7z"/>
<path class="f c3" d="M211.5 981l2.1-.9-5.5-3-.5 3.6zM207.6 980.7l.5-3.6-6.3 2.4 1.8 1z"/>
<path class="f c4" d="M207.4 982.6l4.1-1.6-3.9-.3zM207.4 982.6l.2-1.9-4-.2z"/>
<path class="m" d="M207.4 982.6l6.2-2.5-5.5-3-6.3 2.4z"/>
<path class="f c3" d="M224 981.3l1.5-.5-5.7-2.7-.3 2.9zM219.5 981l.3-2.9-6.2 2 1.4 .7z"/>
<path class="f c4" d="M219.2 982.8l4.8-1.5-4.5-.3zM219.2 982.8l.3-1.8-4.5-.2z"/>
<path class="m" d="M219.2 982.8l6.3-2-5.7-2.7-6.2 2z"/>
<path class="f c3" d="M248.1 982.5l1.1-.2-5.8-2-.2 1.7zM243.2 982l.2-1.7-6.1 1.1 .7 .3z"/>
<path class="f c4" d="M243.1 983.3l5-.8-4.9-.5zM243.1 983.3l.1-1.3-5.2-.3z"/>
<path class="m" d="M243.1 983.3l6.1-1-5.8-2-6.1 1.1z"/>
<path class="f c6" d="M113.6 967.6l6.5-4.7-1.4-3.1-4.6 1.6zM113.6 967.6l.5-6.2-2.9 1z"/>
<path class="f c7" d="M118.7 959.8l-3.2-6.9-.8 .3-.6 8.2zM114.1 961.4l.6-8.2-4.9 1.7-1.4 1 2.8 6.5z"/>
<path class="f c8" d="M115.5 952.9l-.6-1.4-.2 1.7zM114.7 953.2l.2-1.7-5.1 3.4z"/>
<path class="m" d="M113.6 967.6l6.5-4.7-5.2-11.4-6.5 4.4z"/>
<path class="f c3" d="M236.4 981.7l.9-.3-5.7-2.2-.2 2.2zM231.4 981.4l.2-2.2-6.1 1.6 .9 .4z"/>
<path class="f c4" d="M231.2 983l5.2-1.3-5-.3zM231.2 983l.2-1.6-5-.2z"/>
<path class="m" d="M231.2 983l6.1-1.6-5.7-2.2-6.1 1.6z"/>
<path class="f c5" d="M118.8 977.2l6.5-4.7-2.9-5.3-2.8 .8zM118.8 977.2l.8-9.2-5 1.5z"/>
<path class="f c6" d="M122.4 967.2l-2.3-4.3-.5 5.1zM119.6 968l.5-5.1-6.5 4.7 1 1.9z"/>
<path class="m" d="M118.8 977.2l6.5-4.7-5.2-9.6-6.5 4.7z"/>
<path class="f c4" d="M130.5 980.3l6.4-4.3-1.8-2.8-4 1.2zM130.5 980.3l.6-5.9-3.9 1z"/>
<path class="f c5" d="M135.1 973.2l-3.4-5.1-.6 6.3zM131.1 974.4l.6-6.3-6.4 4.4 1.9 2.9z"/>
<path class="m" d="M130.5 980.3l6.4-4.3-5.2-7.9-6.4 4.4z"/>
<path class="f c3" d="M165.6 984.7l6.2-3.4-5.9 1.1zM165.6 984.7l.3-2.3-2.3 .6z"/>
<path class="f c4" d="M171.8 981.3l.2-.1-5.3-4.5-.8 5.7zM165.9 982.4l.8-5.7-6.4 3.5 3.3 2.8z"/>
<path class="m" d="M165.6 984.7l6.4-3.5-5.3-4.5-6.4 3.5z"/>
<path class="f c3" d="M180.7 979.5l-2.3-1.6-.4 2.8zM178 980.7l.4-2.8-5.7 2.9z"/>
<path class="f c4" d="M177.4 985.1l6.4-3.4-3.1-2.2-2.7 1.2zM177.4 985.1l.6-4.4-5.3 .1-.7 .4z"/>
<path class="m" d="M177.4 985.1l6.4-3.4-5.4-3.8-6.4 3.3z"/>
<path class="f c3" d="M215 980.8l-1.4-.7-.1 .7zM213.5 980.8l.1-.7-2.1 .9z"/>
<path class="f c4" d="M213 985.2l6.2-2.4-4.2-2-1.5 0zM213 985.2l.5-4.4-2 .2-4.1 1.6z"/>
<path class="m" d="M213 985.2l6.2-2.4-5.6-2.7-6.2 2.5z"/>
<path class="f c3" d="M226.4 981.2l-.9-.4-.1 .4zM225.4 981.2l.1-.4-1.5 .5z"/>
<path class="f c4" d="M224.9 985l6.3-2-4.8-1.8-1 0zM224.9 985l.5-3.8-1.4 .1-4.8 1.5z"/>
<path class="m" d="M224.9 985l6.3-2-5.7-2.2-6.3 2z"/>
<path class="f c7" d="M95.3 966.2l6.5-5.4-.8-2.5-5.4 1.8zM95.3 966.2l.3-6.1-2 .8z"/>
<path class="f c8" d="M101 958.3l-1.9-6-3.1 1-.4 6.8zM95.6 960.1l.4-6.8-4.3 1.6 1.9 6z"/>
<path class="f c9" d="M99.1 952.3l-2.6-7.6-.5 8.6zM96 953.3l.5-8.6-6.5 4.7 1.7 5.5z"/>
<path class="m" d="M95.3 966.2l6.5-5.4-5.3-16.1-6.5 4.7z"/>
<path class="f c5" d="M107.1 972.7l2.6-2-2.5 .7zM107.1 972.7l.1-1.3-.6 .2z"/>
<path class="f c6" d="M109.7 970.7l3.9-3.1-2.4-5.2-3.4 1-.6 8zM107.2 971.4l.6-8-4.2 1.4 3 6.8z"/>
<path class="f c7" d="M111.2 962.4l-2.8-6.5-.6 7.5zM107.8 963.4l.6-7.5-6.6 4.9 1.8 4z"/>
<path class="m" d="M107.1 972.7l6.5-5.1-5.2-11.7-6.6 4.9z"/>
<path class="m c4" d="M142.2 982.5l6.4-4-5.2-6.5-6.5 4z"/>
<path class="f c3" d="M153.9 984l1.9-1.2-1.8 .5zM153.9 984l.1-.7-.6 .2z"/>
<path class="f c4" d="M155.8 982.8l4.5-2.6-5.3-5.5-1 8.6zM154 983.3l1-8.6-6.4 3.8 4.8 5z"/>
<path class="m" d="M153.9 984l6.4-3.8-5.3-5.5-6.4 3.8z"/>
<path class="f c3" d="M192.5 980.2l-2.4-1.5-.3 1.9zM189.8 980.6l.3-1.9-4.4 2.1z"/>
<path class="f c4" d="M189.2 985.3l6.4-3.1-3.1-2-2.7 .4zM189.2 985.3l.6-4.7-4.1 .2-1.9 .9z"/>
<path class="m" d="M189.2 985.3l6.4-3.1-5.5-3.5-6.3 3z"/>
<path class="f c3" d="M203.6 980.5l-1.8-1-.1 1.1zM201.7 980.6l.1-1.1-3.1 1.3z"/>
<path class="f c4" d="M201.1 985.4l6.3-2.8-3.8-2.1-1.9 .1zM201.1 985.4l.6-4.8-3 .2-3.1 1.4z"/>
<path class="m" d="M201.1 985.4l6.3-2.8-5.6-3.1-6.2 2.7z"/>
<path class="f c3" d="M238 981.7l-.7-.3 0 .2zM237.3 981.6l0-.2-.9 .3z"/>
<path class="f c4" d="M236.9 984.8l6.2-1.5-5.1-1.6-.7-.1zM236.9 984.8l.4-3.2-.9 .1-5.2 1.3z"/>
<path class="m" d="M236.9 984.8l6.2-1.5-5.8-1.9-6.1 1.6z"/>
<path class="f c3" d="M250.3 982.6l-1.1-.3 0 .2zM249.2 982.5l0-.2-1.1 .2z"/>
<path class="f c4" d="M248.9 985l6.2-.9-4.8-1.5-1.1-.1zM248.9 985l.3-2.5-1.1 0-5 .8z"/>
<path class="m" d="M248.9 985l6.2-.9-5.9-1.8-6.1 1z"/>
<path class="f c6" d="M88.7 972.2l5.3-4.8-5.1 1.6zM88.7 972.2l.2-3.2-1 .4z"/>
<path class="f c7" d="M94 967.4l1.3-1.2-1.7-5.3-4.3 1.4-.4 6.7zM88.9 969l.4-6.7-3.3 1.1 1.9 6z"/>
<path class="f c8" d="M93.6 960.9l-1.9-6-2.1 .7-.3 6.7zM89.3 962.3l.3-6.7-5.4 1.9 1.8 5.9z"/>
<path class="f c9" d="M91.7 954.9l-1.7-5.5-.4 6.2zM89.6 955.6l.4-6.2-6.6 5.4 .8 2.7z"/>
<path class="m" d="M88.7 972.2l6.6-6-5.3-16.8-6.6 5.4z"/>
<path class="f c5" d="M100.5 978.4l6.6-5.7-.5-1.1-5.7 1.5zM100.5 978.4l.4-5.3-2.3 .7z"/>
<path class="f c6" d="M106.6 971.6l-3-6.8-2.1 .5-.6 7.8zM100.9 973.1l.6-7.8-5.9 1.7 3 6.8z"/>
<path class="f c7" d="M103.6 964.8l-1.8-4-.3 4.5zM101.5 965.3l.3-4.5-6.5 5.4 .3 .8z"/>
<path class="m" d="M100.5 978.4l6.6-5.7-5.3-11.9-6.5 5.4z"/>
<path class="f c4" d="M112.2 982.3l6.4-5-6 1.5zM112.2 982.3l.4-3.5-2 .5z"/>
<path class="f c5" d="M118.6 977.3l.2-.1-4.2-7.7-1.2 .3-.8 9zM112.6 978.8l.8-9-3.7 .9-2.6 2 3.5 6.6z"/>
<path class="f c6" d="M114.6 969.5l-1-1.9-.2 2.2zM113.4 969.8l.2-2.2-3.9 3.1z"/>
<path class="m" d="M112.2 982.3l6.6-5.1-5.2-9.6-6.5 5.1z"/>
<path class="f c4" d="M123.9 985l6.6-4.7-3.3-4.9-2.3 .6zM123.9 985l1-9-6.1 1.3z"/>
<path class="f c5" d="M127.2 975.4l-1.9-2.9-.4 3.5zM124.9 976l.4-3.5-6.5 4.7 0 .1z"/>
<path class="m" d="M123.9 985l6.6-4.7-5.2-7.8-6.5 4.7z"/>
<path class="f c3" d="M135.7 986.9l2.4-1.7-2.3 .5zM135.7 986.9l.1-1.2-.9 .2z"/>
<path class="f c4" d="M138.1 985.2l4.1-2.7-5.3-6.5-1.1 9.7zM135.8 985.7l1.1-9.7-6.4 4.3 4.4 5.6z"/>
<path class="m" d="M135.7 986.9l6.5-4.4-5.3-6.5-6.4 4.3z"/>
<path class="f c3" d="M147.4 988.1l6.5-4.1-.5-.5-5.5 .8zM147.4 988.1l.5-3.8-3.5 .6z"/>
<path class="f c4" d="M153.4 983.5l-4.8-5-.7 5.8zM147.9 984.3l.7-5.8-6.4 4 2.2 2.4z"/>
<path class="m" d="M147.4 988.1l6.5-4.1-5.3-5.5-6.4 4z"/>
<path class="f c3" d="M159.2 988.6l6.4-3.9-2-1.7-3.7-.2zM159.2 988.6l.7-5.8-4.1 0-1.9 1.2z"/>
<path class="f c4" d="M163.6 983l-3.3-2.8-.4 2.6zM159.9 982.8l.4-2.6-4.5 2.6z"/>
<path class="m" d="M159.2 988.6l6.4-3.9-5.3-4.5-6.4 3.8z"/>
<path class="f c3" d="M171 988.7l3.7-2.1-2.7-5.1zM171 988.7l1-7.2-.2-.2-6.2 3.4z"/>
<path class="f c4" d="M174.7 986.6l2.7-1.5-5.4-3.9 0 .3zM172 981.5l0-.3-.2 .1z"/>
<path class="m" d="M171 988.7l6.4-3.6-5.4-3.9-6.4 3.5z"/>
<path class="m c4" d="M182.8 988.7l6.4-3.4-5.4-3.6-6.4 3.4z"/>
<path class="m c4" d="M194.7 988.5l6.4-3.1-5.5-3.2-6.4 3.1z"/>
<path class="m c4" d="M206.7 988l6.3-2.8-5.6-2.6-6.3 2.8z"/>
<path class="m c4" d="M218.6 987.4l6.3-2.4-5.7-2.2-6.2 2.4z"/>
<path class="f c4" d="M233.4 985.9l3.5-1.1-5.7-1.8-.4 3.1zM230.8 986.1l.4-3.1-6.3 2 4.2 1.3z"/>
<path class="f c5" d="M230.7 986.8l2.7-.9-2.6 .2zM230.7 986.8l.1-.7-1.7 .2z"/>
<path class="m" d="M230.7 986.8l6.2-2-5.7-1.8-6.3 2z"/>
<path class="f c4" d="M248 985.2l.9-.2-5.8-1.7-.2 1.9zM242.9 985.2l.2-1.9-6.2 1.5 1.9 .5z"/>
<path class="f c5" d="M242.8 986.4l5.2-1.2-5.1 0zM242.8 986.4l.1-1.2-4.1 .1z"/>
<path class="m" d="M242.8 986.4l6.1-1.4-5.8-1.7-6.2 1.5z"/>
<path class="f c4" d="M260.7 985.5l.3 0-5.9-1.4-.1 1.1zM255 985.2l.1-1.1-6.2 .9 .7 .1z"/>
<path class="f c5" d="M254.9 986.3l5.8-.8-5.7-.3zM254.9 986.3l.1-1.1-5.4-.1z"/>
<path class="m" d="M254.9 986.3l6.1-.8-5.9-1.4-6.2 .9z"/>
<path class="f c5" d="M82.2 978.8l1.6-1.7-1.6 .5zM82.2 978.8l0-1.2-.4 .1z"/>
<path class="f c6" d="M83.8 977.1l4.9-4.9-.8-2.8-5.3 1.6-.4 6.6zM82.2 977.6l.4-6.6-2.5 .8 1.7 5.9z"/>
<path class="f c7" d="M87.9 969.4l-1.9-6-3.1 1-.3 6.6zM82.6 971l.3-6.6-4.6 1.4 1.8 6z"/>
<path class="f c8" d="M86 963.4l-1.8-5.9-1 .3-.3 6.6zM82.9 964.4l.3-6.6-4.6 1.5-1.8 1.6 1.5 4.9z"/>
<path class="f c9" d="M84.2 957.5l-.8-2.7-.2 3zM83.2 957.8l.2-3-4.8 4.5z"/>
<path class="m" d="M82.2 978.8l6.5-6.6-5.3-17.4-6.6 6.1z"/>
<path class="f c4" d="M93.9 984.5l3.1-2.8-2.9 .7zM93.9 984.5l.2-2.1-1 .2z"/>
<path class="f c5" d="M97 981.7l3.5-3.3-1.9-4.6-3.9 .9-.6 7.7zM94.1 982.4l.6-7.7-4.4 1.1 2.8 6.8z"/>
<path class="f c6" d="M98.6 973.8l-3-6.8-.4 .1-.5 7.6zM94.7 974.7l.5-7.6-1.2 .3-5.3 4.8 1.6 3.6z"/>
<path class="f c7" d="M95.6 967l-.3-.8-.1 .9zM95.2 967.1l.1-.9-1.3 1.2z"/>
<path class="m" d="M93.9 984.5l6.6-6.1-5.2-12.2-6.6 6z"/>
<path class="f c4" d="M105.7 987.9l6.5-5.6-1.6-3-4.2 .8zM105.7 987.9l.7-7.8-4.5 .9z"/>
<path class="f c5" d="M110.6 979.3l-3.5-6.6-.7 7.4zM106.4 980.1l.7-7.4-6.6 5.7 1.4 2.6z"/>
<path class="m" d="M105.7 987.9l6.5-5.6-5.1-9.6-6.6 5.7z"/>
<path class="f c3" d="M117.4 990.1l3.4-2.6-3.2 .5zM117.4 990.1l.2-2.1-1.4 .2z"/>
<path class="f c4" d="M120.8 987.5l3.1-2.5-5.1-7.7-.1 0-1.1 10.7zM117.6 988l1.1-10.7-.1 0-6.4 5 4 5.9z"/>
<path class="f c5" d="M118.8 977.3l0-.1-.1 .1zM118.7 977.3l.1-.1-.2 .1z"/>
<path class="m" d="M117.4 990.1l6.5-5.1-5.1-7.8-6.6 5.1z"/>
<path class="f c3" d="M129.2 991.6l6.5-4.7-.8-1-5.2 .7zM129.2 991.6l.5-5-4.1 .5z"/>
<path class="f c4" d="M134.9 985.9l-4.4-5.6-.8 6.3zM129.7 986.6l.8-6.3-6.6 4.7 1.7 2.1z"/>
<path class="m" d="M129.2 991.6l6.5-4.7-5.2-6.6-6.6 4.7z"/>
<path class="f c3" d="M140.9 992.5l6.5-4.4-3-3.2-2.6 .1zM140.9 992.5l.9-7.5-3.7 .2-2.4 1.7z"/>
<path class="f c4" d="M144.4 984.9l-2.2-2.4-.4 2.5zM141.8 985l.4-2.5-4.1 2.7z"/>
<path class="m" d="M140.9 992.5l6.5-4.4-5.2-5.6-6.5 4.4z"/>
<path class="m c3" d="M152.7 992.7l6.5-4.1-5.3-4.6-6.5 4.1z"/>
<path class="m c3" d="M164.5 992.7l6.5-4-5.4-4-6.4 3.9z"/>
<path class="f c3" d="M174.7 986.6l-3.7 2.1 2.7 1.9z"/>
<path class="f c4" d="M176.4 992.5l6.4-3.8-5.4-3.6zM176.4 992.5l1-7.4-2.7 1.5-1 4z"/>
<path class="m" d="M176.4 992.5l6.4-3.8-5.4-3.6-6.4 3.6z"/>
<path class="m c4" d="M188.3 992l6.4-3.5-5.5-3.2-6.4 3.4z"/>
<path class="m c4" d="M200.3 991.2l6.4-3.2-5.6-2.6-6.4 3.1z"/>
<path class="m c4" d="M212.3 990.2l6.3-2.8-5.6-2.2-6.3 2.8z"/>
<path class="f c4" d="M229.1 986.3l-4.2-1.3-.2 2.1zM224.7 987.1l.2-2.1-6.3 2.4 1.8 .5z"/>
<path class="f c5" d="M224.4 989.2l6.3-2.4-1.6-.5-4.4 .8zM224.4 989.2l.3-2.1-4.3 .8z"/>
<path class="m" d="M224.4 989.2l6.3-2.4-5.8-1.8-6.3 2.4z"/>
<path class="f c4" d="M238.8 985.3l-1.9-.5-.1 .7zM236.8 985.5l.1-.7-3.5 1.1z"/>
<path class="f c5" d="M236.5 988.3l6.3-1.9-4-1.1-2 .2zM236.5 988.3l.3-2.8-3.4 .4-2.7 .9z"/>
<path class="m" d="M236.5 988.3l6.3-1.9-5.9-1.6-6.2 2z"/>
<path class="f c4" d="M249.6 985.1l-.7-.1 0 .1zM248.9 985.1l0-.1-.9 .2z"/>
<path class="f c5" d="M248.7 987.7l6.2-1.4-5.3-1.2-.7 0zM248.7 987.7l.2-2.6-.9 .1-5.2 1.2z"/>
<path class="m" d="M248.7 987.7l6.2-1.4-6-1.3-6.1 1.4z"/>
<path class="f c4" d="M261.3 985.6l-.3-.1 0 0zM261 985.5l0 0-.3 0z"/>
<path class="f c5" d="M263.2 987l3.8-.5-5.7-.9-.3-.1-.1 1.4zM260.9 986.9l.1-1.4-.3 0-5.8 .8 4 .6z"/>
<path class="f c6" d="M260.9 987.2l2.3-.2-2.3-.1zM260.9 987.2l0-.3-2 0z"/>
<path class="m" d="M260.9 987.2l6.1-.7-6-1-6.1 .8z"/>
<path class="f c4" d="M75.6 986l.2-.2-.2 0zM75.6 986l0-.2-.1 .1z"/>
<path class="f c5" d="M75.8 985.8l6.4-7-.4-1.1-5.9 1.6-.3 6.5zM75.6 985.8l.3-6.5-2.1 .6 1.7 6z"/>
<path class="f c6" d="M81.8 977.7l-1.7-5.9-3.9 1-.3 6.5zM75.9 979.3l.3-6.5-4.2 1.2 1.8 5.9z"/>
<path class="f c7" d="M80.1 971.8l-1.8-6-1.8 .5-.3 6.5zM76.2 972.8l.3-6.5-6.2 1.8 1.7 5.9z"/>
<path class="f c8" d="M78.3 965.8l-1.5-4.9-.3 5.4zM76.5 966.3l.3-5.4-6.6 6.8 .1 .4z"/>
<path class="m" d="M75.6 986l6.6-7.2-5.4-17.9-6.6 6.8z"/>
<path class="f c3" d="M87.4 991.3l.1-.2-.1 .1zM87.4 991.3l0-.1-.1 0z"/>
<path class="f c4" d="M87.5 991.1l6.4-6.6-.8-1.9-5.2 1-.5 7.6zM87.4 991.2l.5-7.6-3.4 .7 2.8 6.9z"/>
<path class="f c5" d="M93.1 982.6l-2.8-6.8-1.8 .3-.6 7.5zM87.9 983.6l.6-7.5-4.7 1-1.6 1.7 2.3 5.5z"/>
<path class="f c6" d="M90.3 975.8l-1.6-3.6-.2 3.9zM88.5 976.1l.2-3.9-4.9 4.9z"/>
<path class="m" d="M87.4 991.3l6.5-6.8-5.2-12.3-6.5 6.6z"/>
<path class="f c3" d="M99.1 994l5.2-4.8-4.8 .8zM99.1 994l.4-4-2.4 .3z"/>
<path class="f c4" d="M104.3 989.2l1.4-1.3-3.8-6.9-1.6 .2-.8 8.8zM99.5 990l.8-8.8-3.3 .5-3.1 2.8 3.2 5.8z"/>
<path class="f c5" d="M101.9 981l-1.4-2.6-.2 2.8zM100.3 981.2l.2-2.8-3.5 3.3z"/>
<path class="m" d="M99.1 994l6.6-6.1-5.2-9.5-6.6 6.1z"/>
<path class="f c3" d="M110.9 995.6l6.5-5.5-1.2-1.9-4.6 .6zM110.9 995.6l.7-6.8-5.1 .4z"/>
<path class="f c4" d="M116.2 988.2l-4-5.9-.6 6.5zM111.6 988.8l.6-6.5-6.5 5.6 .8 1.3z"/>
<path class="m" d="M110.9 995.6l6.5-5.5-5.2-7.8-6.5 5.6z"/>
<path class="f c3" d="M122.6 996.7l6.6-5.1-3.6-4.5-1.9 .2zM122.6 996.7l1.1-9.4-2.9 .2-3.4 2.6z"/>
<path class="f c4" d="M125.6 987.1l-1.7-2.1-.2 2.3zM123.7 987.3l.2-2.3-3.1 2.5z"/>
<path class="m" d="M122.6 996.7l6.6-5.1-5.3-6.6-6.5 5.1z"/>
<path class="m c3" d="M134.4 997.2l6.5-4.7-5.2-5.6-6.5 4.7z"/>
<path class="m c3" d="M146.2 997.2l6.5-4.5-5.3-4.6-6.5 4.4z"/>
<path class="m c3" d="M158.1 996.9l6.4-4.2-5.3-4.1-6.5 4.1z"/>
<path class="f c3" d="M169.9 996.5l4.9-3-1.1-2.9-2.7-1.9zM169.9 996.5l1.1-7.8-6.5 4z"/>
<path class="f c4" d="M174.8 993.5l1.6-1-2.7-1.9z"/>
<path class="m" d="M169.9 996.5l6.5-4-5.4-3.8-6.5 4z"/>
<path class="m c4" d="M181.9 995.8l6.4-3.8-5.5-3.3-6.4 3.8z"/>
<path class="m c4" d="M193.9 994.7l6.4-3.5-5.6-2.7-6.4 3.5z"/>
<path class="f c4" d="M209.3 991.7l3-1.5-5.6-2.2-.7 5.1zM206 993.1l.7-5.1-6.4 3.2 5.3 2.1z"/>
<path class="f c5" d="M205.9 993.4l3.4-1.7-3.3 1.4zM205.9 993.4l.1-.3-.4 .2z"/>
<path class="m" d="M205.9 993.4l6.4-3.2-5.6-2.2-6.4 3.2z"/>
<path class="f c4" d="M220.4 987.9l-1.8-.5-.1 1.1zM218.5 988.5l.1-1.1-6.3 2.8 .3 .1z"/>
<path class="f c5" d="M218 992l6.4-2.8-4-1.3-1.9 .6zM218 992l.5-3.5-5.9 1.8z"/>
<path class="m" d="M218 992l6.4-2.8-5.8-1.8-6.3 2.8z"/>
<path class="m c5" d="M230.2 990.7l6.3-2.4-5.8-1.5-6.3 2.4z"/>
<path class="f c5" d="M248.2 987.8l.5-.1-5.9-1.3-.3 2.1zM242.5 988.5l.3-2.1-6.3 1.9 3 .7z"/>
<path class="f c6" d="M242.4 989.6l5.8-1.8-5.7 .7zM242.4 989.6l.1-1.1-3 .5z"/>
<path class="m" d="M242.4 989.6l6.3-1.9-5.9-1.3-6.3 1.9z"/>
<path class="f c5" d="M258.9 986.9l-4-.6-.1 .9zM254.8 987.2l.1-.9-6.2 1.4 .2 0z"/>
<path class="f c6" d="M254.7 988.5l6.2-1.3-2-.3-4.1 .3zM254.7 988.5l.1-1.3-5.9 .5z"/>
<path class="m" d="M254.7 988.5l6.2-1.3-6-.9-6.2 1.4z"/>
<path class="f c5" d="M270 986.9l-3-.4 0 .4zM267 986.9l0-.4-3.8 .5z"/>
<path class="f c6" d="M267 987.8l6.1-.6-3.1-.3-3 0zM267 987.8l0-.9-3.8 .1-2.3 .2z"/>
<path class="m" d="M267 987.8l6.1-.6-6.1-.7-6.1 .7z"/>
<path class="f c3" d="M69 994.1l.2-.3-.2 .1zM69 994.1l0-.2-.1 0z"/>
<path class="f c4" d="M69.2 993.8l6.4-7.8-.1-.1-6.2 1.5-.3 6.5zM69 993.9l.3-6.5-2.1 .5 1.7 6z"/>
<path class="f c5" d="M75.5 985.9l-1.7-6-4.2 1.1-.3 6.4zM69.3 987.4l.3-6.4-4.1 1 1.7 5.9z"/>
<path class="f c6" d="M73.8 979.9l-1.8-5.9-2.1 .5-.3 6.5zM69.6 981l.3-6.5-6.1 1.6 1.7 5.9z"/>
<path class="f c7" d="M72 974l-1.7-5.9-.1 0-.3 6.4zM69.9 974.5l.3-6.4-.4 .2-6.2 7.1 .2 .7z"/>
<path class="f c8" d="M70.3 968.1l-.1-.4 0 .4zM70.2 968.1l0-.4-.4 .6z"/>
<path class="m" d="M69 994.1l6.6-8.1-5.4-18.3-6.6 7.7z"/>
<path class="f c3" d="M80.8 998.7l6.6-7.4-.1-.1-6.1 1zM80.8 998.7l.4-6.5-2.9 .5z"/>
<path class="f c4" d="M87.3 991.2l-2.8-6.9-2.8 .5-.5 7.4zM81.2 992.2l.5-7.4-5.9 1-.2 .2 2.7 6.7z"/>
<path class="f c5" d="M84.5 984.3l-2.3-5.5-.5 6zM81.7 984.8l.5-6-6.4 7z"/>
<path class="m" d="M80.8 998.7l6.6-7.4-5.2-12.5-6.6 7.2z"/>
<path class="f c2" d="M92.5 1000.7l1.5-1.5-1.4 .1zM92.5 1000.7l.1-1.4-.8 .1z"/>
<path class="f c3" d="M94 999.2l5.1-5.2-2-3.7-3.7 .4-.8 8.6zM92.6 999.3l.8-8.6-5.9 .4-.1 .2 4.4 8.1z"/>
<path class="f c4" d="M97.1 990.3l-3.2-5.8-.5 6.2zM93.4 990.7l.5-6.2-6.4 6.6z"/>
<path class="m" d="M92.5 1000.7l6.6-6.7-5.2-9.5-6.5 6.8z"/>
<path class="f c2" d="M104.3 1001.5l2.3-2.1-2.1 .1zM104.3 1001.5l.2-2-1.6 0z"/>
<path class="f c3" d="M106.6 999.4l4.3-3.8-4.4-6.4-.9 0-1.1 10.3zM104.5 999.5l1.1-10.3-1.3 0-5.2 4.8 3.8 5.5z"/>
<path class="f c4" d="M106.5 989.2l-.8-1.3-.1 1.3zM105.6 989.2l.1-1.3-1.4 1.3z"/>
<path class="m" d="M104.3 1001.5l6.6-5.9-5.2-7.7-6.6 6.1z"/>
<path class="f c2" d="M116 1002.2l2.8-2.3-2.5 0zM116 1002.2l.3-2.3-2.1 0z"/>
<path class="f c3" d="M118.8 999.9l3.8-3.2-5.2-6.6-1.1 9.8zM116.3 999.9l1.1-9.8-6.5 5.5 3.3 4.3z"/>
<path class="m" d="M116 1002.2l6.6-5.5-5.2-6.6-6.5 5.5z"/>
<path class="f c2" d="M127.8 1002.3l1-.8-.9-.1zM127.8 1002.3l.1-.9-1-.1z"/>
<path class="f c3" d="M128.8 1001.5l5.6-4.3-5.2-5.6-1.3 9.8zM127.9 1001.4l1.3-9.8-6.6 5.1 4.3 4.6z"/>
<path class="m" d="M127.8 1002.3l6.6-5.1-5.2-5.6-6.6 5.1z"/>
<path class="m c3" d="M139.7 1002l6.5-4.8-5.3-4.7-6.5 4.7z"/>
<path class="m c3" d="M151.5 1001.5l6.6-4.6-5.4-4.2-6.5 4.5z"/>
<path class="m c3" d="M163.4 1000.9l6.5-4.4-5.4-3.8-6.4 4.2z"/>
<path class="f c3" d="M174.8 993.5l-4.9 3 3.5 2.2z"/>
<path class="f c4" d="M175.4 999.9l6.5-4.1-5.5-3.3zM175.4 999.9l1-7.4-1.6 1-1.4 5.2z"/>
<path class="m" d="M175.4 999.9l6.5-4.1-5.5-3.3-6.5 4z"/>
<path class="m c4" d="M187.4 998.6l6.5-3.9-5.6-2.7-6.4 3.8z"/>
<path class="f c4" d="M199.5 997l.2-.1 5.9-3.6-5.3-2.1zM199.5 997l.8-5.8-6.4 3.5z"/>
<path class="f c5" d="M199.7 996.9l6.2-3.5-.3-.1z"/>
<path class="m" d="M199.5 997l6.4-3.6-5.6-2.2-6.4 3.5z"/>
<path class="f c4" d="M212.6 990.3l-.3-.1 0 .2zM212.3 990.4l0-.2-3 1.5z"/>
<path class="f c5" d="M211.6 995.3l6.4-3.3-5.4-1.7-.3 .1zM211.6 995.3l.7-4.9-3 1.3-3.4 1.7z"/>
<path class="m" d="M211.6 995.3l6.4-3.3-5.7-1.8-6.4 3.2z"/>
<path class="f c5" d="M225.5 992.8l4.7-2.1-5.8-1.5-.5 4.2zM223.9 993.4l.5-4.2-6.4 2.8 5.5 1.5z"/>
<path class="f c6" d="M223.8 993.6l1.7-.8-1.6 .6zM223.8 993.6l.1-.2-.4 .1z"/>
<path class="m" d="M223.8 993.6l6.4-2.9-5.8-1.5-6.4 2.8z"/>
<path class="f c5" d="M239.5 989l-3-.7-.2 1.4zM236.3 989.7l.2-1.4-6.3 2.4 .9 .2z"/>
<path class="f c6" d="M236.1 992l6.3-2.4-2.9-.6-3.2 .7zM236.1 992l.2-2.3-5.2 1.2z"/>
<path class="m" d="M236.1 992l6.3-2.4-5.9-1.3-6.3 2.4z"/>
<path class="f c5" d="M248.9 987.7l-.2 0 0 0zM248.7 987.7l0 0-.5 .1z"/>
<path class="f c6" d="M249 990.2l5.7-1.7-5.8-.8-.2 0-.3 2.6zM248.4 990.3l.3-2.6-.5 .1-5.8 1.8 5.7 .7z"/>
<path class="f c7" d="M248.4 990.4l.6-.2-.6 .1zM248.4 990.4l0-.1-.3 0z"/>
<path class="m" d="M248.4 990.4l6.3-1.9-6-.8-6.3 1.9z"/>
<path class="f c6" d="M266.9 987.8l.1 0-6.1-.6-.1 1.1zM260.8 988.3l.1-1.1-6.2 1.3 2.3 .2z"/>
<path class="f c7" d="M260.7 989l6.2-1.2-6.1 .5zM260.7 989l.1-.7-3.8 .4z"/>
<path class="m" d="M260.7 989l6.3-1.2-6.1-.6-6.2 1.3z"/>
<path class="f c6" d="M277.8 987.5l-4.7-.3 0 .4zM273.1 987.6l0-.4-6.1 .6 0 0z"/>
<path class="f c7" d="M273.1 988.1l6.2-.5-1.5-.1-4.7 .1zM273.1 988.1l0-.5-6.1 .2z"/>
<path class="m" d="M273.1 988.1l6.2-.5-6.2-.4-6.1 .6z"/>
<path class="f c2" d="M85.9 1007.8l6.6-7.1-.7-1.3-5.2 .2zM85.9 1007.8l.7-8.2-5.2 .1z"/>
<path class="f c3" d="M91.8 999.4l-4.4-8.1-.8 8.3zM86.6 999.6l.8-8.3-6.6 7.4 .6 1z"/>
<path class="m" d="M85.9 1007.8l6.6-7.1-5.1-9.4-6.6 7.4z"/>
<path class="f c2" d="M133.1 1007.1l3.4-2.7-2.9-1.1zM133.1 1007.1l.5-3.8-4.8-1.8-1 .8z"/>
<path class="f c3" d="M136.5 1004.4l3.2-2.4-5.3-4.8-.8 6.1zM133.6 1003.3l.8-6.1-5.6 4.3z"/>
<path class="m" d="M133.1 1007.1l6.6-5.1-5.3-4.8-6.6 5.1z"/>
<path class="f c4" d="M199.7 996.9l-.2 .1 0 0z"/>
<path class="f c5" d="M205.2 998.9l6.4-3.6-5.7-1.9zM205.2 998.9l.7-5.5-6.2 3.5-.2 .1z"/>
<path class="m" d="M205.2 998.9l6.4-3.6-5.7-1.9-6.4 3.6z"/>
<path class="f c6" d="M257 988.7l-2.3-.2-.1 .6zM254.6 989.1l.1-.6-5.7 1.7z"/>
<path class="f c7" d="M254.4 990.8l6.3-1.8-3.7-.3-2.4 .4zM254.4 990.8l.2-1.7-5.6 1.1-.6 .2z"/>
<path class="m" d="M254.4 990.8l6.3-1.8-6-.5-6.3 1.9z"/>
<path class="f c2" d="M74.2 1006.7l5.7-7-5.3 .7zM74.2 1006.7l.4-6.3-2.9 .3z"/>
<path class="f c3" d="M79.9 999.7l.9-1-2.5-6-3.2 .4-.5 7.3zM74.6 1000.4l.5-7.3-5.9 .7-.2 .3 2.7 6.6z"/>
<path class="f c4" d="M78.3 992.7l-2.7-6.7-.5 7.1zM75.1 993.1l.5-7.1-6.4 7.8z"/>
<path class="m" d="M74.2 1006.7l6.6-8-5.2-12.7-6.6 8.1z"/>
<path class="f c2" d="M97.7 1008l6.6-6.5-1.4-2-4.4 0zM97.7 1008l.8-8.5-4.5-.3-1.5 1.5z"/>
<path class="f c3" d="M102.9 999.5l-3.8-5.5-.6 5.5zM98.5 999.5l.6-5.5-5.1 5.2z"/>
<path class="m" d="M97.7 1008l6.6-6.5-5.2-7.5-6.6 6.7z"/>
<path class="f c2" d="M109.4 1008.1l6.6-5.9-1.8-2.3-3.8-.2zM109.4 1008.1l1-8.4-3.8-.3-2.3 2.1z"/>
<path class="f c3" d="M114.2 999.9l-3.3-4.3-.5 4.1zM110.4 999.7l.5-4.1-4.3 3.8z"/>
<path class="m" d="M109.4 1008.1l6.6-5.9-5.1-6.6-6.6 5.9z"/>
<path class="f c2" d="M121.2 1007.7l6.6-5.4-.9-1-4.8-.8zM121.2 1007.7l.9-7.2-3.3-.6-2.8 2.3z"/>
<path class="f c3" d="M126.9 1001.3l-4.3-4.6-.5 3.8zM122.1 1000.5l.5-3.8-3.8 3.2z"/>
<path class="m" d="M121.2 1007.7l6.6-5.4-5.2-5.6-6.6 5.5z"/>
<path class="m c3" d="M145 1006.3l6.5-4.8-5.3-4.3-6.5 4.8z"/>
<path class="m c3" d="M156.9 1005.6l6.5-4.7-5.3-4-6.6 4.6z"/>
<path class="f c3" d="M168.9 1004.4l4.5-3.1 0-2.6-3.5-2.2zM168.9 1004.4l1-7.9-6.5 4.4z"/>
<path class="f c4" d="M173.4 1001.3l2-1.4-2-1.2z"/>
<path class="m" d="M168.9 1004.4l6.5-4.5-5.5-3.4-6.5 4.4z"/>
<path class="m c4" d="M180.9 1002.7l6.5-4.1-5.5-2.8-6.5 4.1z"/>
<path class="m c4" d="M193 1000.9l6.5-3.9-5.6-2.3-6.5 3.9z"/>
<path class="f c5" d="M223.5 993.5l-5.5-1.5-.5 4.2zM217.5 996.2l.5-4.2-6.4 3.3 5 1.3z"/>
<path class="f c6" d="M217.4 996.9l6.4-3.3-.3-.1-6 2.7zM217.4 996.9l.1-.7-.9 .4z"/>
<path class="m" d="M217.4 996.9l6.4-3.3-5.8-1.6-6.4 3.3z"/>
<path class="f c5" d="M231.1 990.9l-.9-.2-.1 .5zM230.1 991.2l.1-.5-4.7 2.1z"/>
<path class="f c6" d="M229.7 994.8l6.4-2.8-5-1.1-1 .3zM229.7 994.8l.4-3.6-4.6 1.6-1.7 .8z"/>
<path class="m" d="M229.7 994.8l6.4-2.8-5.9-1.3-6.4 2.9z"/>
<path class="f c6" d="M248.1 990.3l-5.7-.7-.3 2.2zM242.1 991.8l.3-2.2-6.3 2.4 3.7 .4z"/>
<path class="f c7" d="M242 992.7l6.4-2.3-.3-.1-6 1.5zM242 992.7l.1-.9-2.3 .6z"/>
<path class="m" d="M242 992.7l6.4-2.3-6-.8-6.3 2.4z"/>
<path class="f c6" d="M267 987.8l0 0 0 0zM267 987.8l0 0-.1 0z"/>
<path class="f c7" d="M271.2 988.4l1.9-.3-6.1-.3 0 0-.1 1zM266.9 988.8l.1-1-.1 0-6.2 1.2 3.7 .1z"/>
<path class="f c8" d="M266.9 989.2l4.3-.8-4.3 .4zM266.9 989.2l0-.4-2.5 .3z"/>
<path class="m" d="M266.9 989.2l6.2-1.1-6.1-.3-6.3 1.2z"/>
<path class="f c1" d="M79.3 1015.6l6.3-7.4-5.6-.1zM79.3 1015.6l.7-7.5-5.1-.2z"/>
<path class="f c2" d="M85.6 1008.2l.3-.4-4.5-8.1-.7 0-.7 8.4zM80 1008.1l.7-8.4-.8 0-5.7 7 .7 1.2z"/>
<path class="f c3" d="M81.4 999.7l-.6-1-.1 1zM80.7 999.7l.1-1-.9 1z"/>
<path class="m" d="M79.3 1015.6l6.6-7.8-5.1-9.1-6.6 8z"/>
<path class="f c1" d="M91 1014.9l5.2-5.4-4.6-.4zM91 1014.9l.6-5.8-5.3-.8z"/>
<path class="f c2" d="M96.2 1009.5l1.5-1.5-5.2-7.3-.9 8.4zM91.6 1009.1l.9-8.4-6.6 7.1 .4 .5z"/>
<path class="m" d="M91 1014.9l6.7-6.9-5.2-7.3-6.6 7.1z"/>
<path class="m c2" d="M126.5 1012.5l6.6-5.4-5.3-4.8-6.6 5.4z"/>
<path class="f c2" d="M138.4 1011.5l4.2-3.3-3.5-2.2zM138.4 1011.5l.7-5.5-2.6-1.6-3.4 2.7z"/>
<path class="f c3" d="M142.6 1008.2l2.4-1.9-5.3-4.3-.6 4zM139.1 1006l.6-4-3.2 2.4z"/>
<path class="m" d="M138.4 1011.5l6.6-5.2-5.3-4.3-6.6 5.1z"/>
<path class="f c4" d="M199.5 997l0 0 0 0zM199.5 997l0 0-6.5 3.9 1.2 .4z"/>
<path class="f c5" d="M198.7 1002.9l6.5-4-5.7-1.9 0 0zM198.7 1002.9l.8-5.9-5.3 4.3z"/>
<path class="m" d="M198.7 1002.9l6.5-4-5.7-1.9-6.5 3.9z"/>
<path class="f c5" d="M216.6 996.6l-5-1.3-.6 4.8zM211 1000.1l.6-4.8-6.4 3.6 5.3 1.5z"/>
<path class="f c6" d="M210.9 1000.6l6.5-3.7-.8-.3-5.6 3.5zM210.9 1000.6l.1-.5-.5 .3z"/>
<path class="m" d="M210.9 1000.6l6.5-3.7-5.8-1.6-6.4 3.6z"/>
<path class="f c7" d="M250.4 992.3l4-1.5-6-.4-.3 2.5zM248.1 992.9l.3-2.5-6.4 2.3 5.4 .4z"/>
<path class="f c8" d="M248.1 993.1l2.3-.8-2.3 .6zM248.1 993.1l0-.2-.7 .2z"/>
<path class="m" d="M248.1 993.1l6.3-2.3-6-.4-6.4 2.3z"/>
<path class="f c7" d="M264.4 989.1l-3.7-.1 0 .8zM260.7 989.8l0-.8-6.3 1.8 1.1 0z"/>
<path class="f c8" d="M260.6 990.9l6.3-1.7-2.5-.1-3.7 .7zM260.6 990.9l.1-1.1-5.2 1z"/>
<path class="m" d="M260.6 990.9l6.3-1.7-6.2-.2-6.3 1.8z"/>
<path class="f c1" d="M102.8 1014.4l3.5-3.3-3.1-.3zM102.8 1014.4l.4-3.6-3.8-.6z"/>
<path class="f c2" d="M106.3 1011.1l3.1-3-5.1-6.6-1.1 9.3zM103.2 1010.8l1.1-9.3-6.6 6.5 1.7 2.2z"/>
<path class="m" d="M102.8 1014.4l6.6-6.3-5.1-6.6-6.6 6.5z"/>
<path class="m c2" d="M114.6 1013.5l6.6-5.8-5.2-5.5-6.6 5.9z"/>
<path class="m c3" d="M150.3 1010.5l6.6-4.9-5.4-4.1-6.5 4.8z"/>
<path class="m c3" d="M162.3 1009.1l6.6-4.7-5.5-3.5-6.5 4.7z"/>
<path class="f c3" d="M173.4 1001.3l-4.5 3.1 2.7 1.4z"/>
<path class="f c4" d="M174.4 1007.2l6.5-4.5-5.5-2.8zM174.4 1007.2l1-7.3-2 1.4-1.8 4.5z"/>
<path class="m" d="M174.4 1007.2l6.5-4.5-5.5-2.8-6.5 4.5z"/>
<path class="m c4" d="M186.5 1005.2l6.5-4.3-5.6-2.3-6.5 4.1z"/>
<path class="m c6" d="M223.3 998.1l6.4-3.3-5.9-1.2-6.4 3.3z"/>
<path class="f c6" d="M239.8 992.4l-3.7-.4-.3 1.9zM235.8 993.9l.3-1.9-6.4 2.8 2.6 .4z"/>
<path class="f c7" d="M235.6 995.6l6.4-2.9-2.2-.3-4 1.5zM235.6 995.6l.2-1.7-3.5 1.3z"/>
<path class="m" d="M235.6 995.6l6.4-2.9-5.9-.7-6.4 2.8z"/>
<path class="f c0" d="M84.4 1022.4l3.3-3.7-2.9-.5zM84.4 1022.4l.4-4.2-4.4-1.1z"/>
<path class="f c1" d="M87.7 1018.7l3.3-3.8-4.7-6.6-.4 0-1.1 9.9zM84.8 1018.2l1.1-9.9-.3-.1-6.3 7.4 1.1 1.5z"/>
<path class="f c2" d="M86.3 1008.3l-.4-.5 0 .5zM85.9 1008.3l0-.5-.3 .4z"/>
<path class="m" d="M84.4 1022.4l6.6-7.5-5.1-7.1-6.6 7.8z"/>
<path class="f c0" d="M96.2 1021.2l.1-.1-.1-.1zM96.2 1021.2l0-.2-.2 0z"/>
<path class="f c1" d="M96.3 1021.1l6.5-6.7-3.4-4.2-2-.4-1.2 11.2zM96.2 1021l1.2-11.2-1.2-.3-5.2 5.4 5 6.1z"/>
<path class="f c2" d="M99.4 1010.2l-1.7-2.2-.3 1.8zM97.4 1009.8l.3-1.8-1.5 1.5z"/>
<path class="m" d="M96.2 1021.2l6.6-6.8-5.1-6.4-6.7 6.9z"/>
<path class="f c1" d="M119.8 1018.2l1-.8-.8-.4zM119.8 1018.2l.2-1.2-3.8-2z"/>
<path class="f c2" d="M120.8 1017.4l5.7-4.9-5.3-4.8-1.2 9.3zM120 1017l1.2-9.3-6.6 5.8 1.6 1.5z"/>
<path class="m" d="M119.8 1018.2l6.7-5.7-5.3-4.8-6.6 5.8z"/>
<path class="m c2" d="M131.7 1016.9l6.7-5.4-5.3-4.4-6.6 5.4z"/>
<path class="f c2" d="M143.7 1015.7l4.1-3.2-3.3-2.8zM143.7 1015.7l.8-6-1.9-1.5-4.2 3.3z"/>
<path class="f c3" d="M147.8 1012.5l2.5-2-5.3-4.2-.5 3.4zM144.5 1009.7l.5-3.4-2.4 1.9z"/>
<path class="m" d="M143.7 1015.7l6.6-5.2-5.3-4.2-6.6 5.2z"/>
<path class="f c3" d="M167.8 1012l3-2.1 .8-4.1-2.7-1.4zM167.8 1012l1.1-7.6-6.6 4.7z"/>
<path class="f c4" d="M170.8 1009.9l3.6-2.7-2.8-1.4z"/>
<path class="m" d="M167.8 1012l6.6-4.8-5.5-2.8-6.6 4.7z"/>
<path class="f c4" d="M194.2 1001.3l-1.2-.4-.2 2zM192.8 1002.9l.2-2-6.5 4.3 3.1 1.1z"/>
<path class="f c5" d="M192.2 1007.2l6.5-4.3-4.5-1.6-1.4 1.6zM192.2 1007.2l.6-4.3-3.2 3.4z"/>
<path class="m" d="M192.2 1007.2l6.5-4.3-5.7-2-6.5 4.3z"/>
<path class="f c5" d="M204.4 1004.6l4.2-2.6 1.9-1.6-5.3-1.5zM204.4 1004.6l.8-5.7-6.5 4z"/>
<path class="f c6" d="M208.6 1002l2.3-1.4-.4-.2z"/>
<path class="m" d="M204.4 1004.6l6.5-4-5.7-1.7-6.5 4z"/>
<path class="m c6" d="M216.8 1001.8l6.5-3.7-5.9-1.2-6.5 3.7z"/>
<path class="f c7" d="M247.4 993.1l-5.4-.4-.2 2.5zM241.8 995.2l.2-2.5-6.4 2.9 4.4 .3z"/>
<path class="f c8" d="M241.7 996l6.4-2.9-.7 0-5.6 2.1zM241.7 996l.1-.8-1.8 .7z"/>
<path class="m" d="M241.7 996l6.4-2.9-6.1-.4-6.4 2.9z"/>
<path class="f c7" d="M255.5 990.8l-1.1 0 0 .3zM254.4 991.1l0-.3-4 1.5z"/>
<path class="f c8" d="M254.2 993.2l6.4-2.3-5.1-.1-1.1 .3zM254.2 993.2l.2-2.1-4 1.2-2.3 .8z"/>
<path class="m" d="M254.2 993.2l6.4-2.3-6.2-.1-6.3 2.3z"/>
<path class="f c1" d="M108 1019.7l6.3-5.9-5.4-1.7zM108 1019.7l.9-7.6-2.6-1-3.5 3.3z"/>
<path class="f c2" d="M114.3 1013.8l.3-.3-5.2-5.4-.5 4zM108.9 1012.1l.5-4-3.1 3z"/>
<path class="m" d="M108 1019.7l6.6-6.2-5.2-5.4-6.6 6.3z"/>
<path class="m c3" d="M155.7 1014.1l6.6-5-5.4-3.5-6.6 4.9z"/>
<path class="m c4" d="M180 1009.7l6.5-4.5-5.6-2.5-6.5 4.5z"/>
<path class="f c6" d="M232.3 995.2l-2.6-.4-.2 1.7zM229.5 996.5l.2-1.7-6.4 3.3 2.2 .3z"/>
<path class="f c7" d="M229.2 998.9l6.4-3.3-3.3-.4-2.8 1.3zM229.2 998.9l.3-2.4-4 1.9z"/>
<path class="m" d="M229.2 998.9l6.4-3.3-5.9-.8-6.4 3.3z"/>
<path class="f c1" d="M113.2 1024.3l6.6-6.1-3.6-3.2-1.7-1zM113.2 1024.3l1.3-10.3-.2-.2-6.3 5.9z"/>
<path class="f c2" d="M116.2 1015l-1.6-1.5-.1 .5zM114.5 1014l.1-.5-.3 .3z"/>
<path class="m" d="M113.2 1024.3l6.6-6.1-5.2-4.7-6.6 6.2z"/>
<path class="f c6" d="M225.5 998.4l-2.2-.3-.3 1.9zM223 1000l.3-1.9-6.5 3.7 2.6 .4z"/>
<path class="f c7" d="M222.7 1002.7l6.5-3.8-3.7-.5-2.5 1.6zM222.7 1002.7l.3-2.7-3.6 2.2z"/>
<path class="m" d="M222.7 1002.7l6.5-3.8-5.9-.8-6.5 3.7z"/>
<path class="f c0" d="M89.5 1028.4l6.7-7.2-.2-.2-5.5-1.4zM89.5 1028.4l1-8.8-2.8-.9-3.3 3.7z"/>
<path class="f c1" d="M96 1021l-5-6.1-.5 4.7zM90.5 1019.6l.5-4.7-3.3 3.8z"/>
<path class="m" d="M89.5 1028.4l6.7-7.2-5.2-6.3-6.6 7.5z"/>
<path class="f c0" d="M101.3 1026.3l1.9-1.9-1.6-.6zM101.3 1026.3l.3-2.5-5.3-2.7-.1 .1z"/>
<path class="f c1" d="M103.2 1024.4l4.8-4.7-5.2-5.3-1.2 9.4zM101.6 1023.8l1.2-9.4-6.5 6.7z"/>
<path class="m" d="M101.3 1026.3l6.7-6.6-5.2-5.3-6.6 6.8z"/>
<path class="f c1" d="M125.1 1022.6l1.4-1.1-1.1-.8zM125.1 1022.6l.3-1.9-4.6-3.3-1 .8z"/>
<path class="f c2" d="M126.5 1021.5l5.2-4.6-5.2-4.4-1.1 8.2zM125.4 1020.7l1.1-8.2-5.7 4.9z"/>
<path class="m" d="M125.1 1022.6l6.6-5.7-5.2-4.4-6.7 5.7z"/>
<path class="m c2" d="M137.1 1021.2l6.6-5.5-5.3-4.2-6.7 5.4z"/>
<path class="f c2" d="M149.1 1019.3l1.4-1.1-1-2zM149.1 1019.3l.4-3.1-1.7-3.7-4.1 3.2z"/>
<path class="f c3" d="M150.5 1018.2l5.2-4.1-5.4-3.6-.8 5.7zM149.5 1016.2l.8-5.7-2.5 2z"/>
<path class="m" d="M149.1 1019.3l6.6-5.2-5.4-3.6-6.6 5.2z"/>
<path class="m c3" d="M161.2 1017l6.6-5-5.5-2.9-6.6 5z"/>
<path class="f c3" d="M170.8 1009.9l-3 2.1 1.8 .8z"/>
<path class="f c4" d="M173.4 1014.6l6.6-4.9-5.6-2.5zM173.4 1014.6l1-7.4-3.6 2.7-1.2 2.9z"/>
<path class="m" d="M173.4 1014.6l6.6-4.9-5.6-2.5-6.6 4.8z"/>
<path class="f c4" d="M185.6 1011.9l.6-.4 3.4-5.2-3.1-1.1zM185.6 1011.9l.9-6.7-6.5 4.5z"/>
<path class="f c5" d="M186.2 1011.5l6-4.3-2.6-.9z"/>
<path class="m" d="M185.6 1011.9l6.6-4.7-5.7-2-6.5 4.5z"/>
<path class="m c5" d="M197.9 1009l6.5-4.4-5.7-1.7-6.5 4.3z"/>
<path class="f c5" d="M208.6 1002l-4.2 2.6 .7 .2z"/>
<path class="f c6" d="M210.2 1006l6.6-4.2-5.9-1.2zM210.2 1006l.7-5.4-2.3 1.4-3.5 2.8z"/>
<path class="m" d="M210.2 1006l6.6-4.2-5.9-1.2-6.5 4z"/>
<path class="f c7" d="M240 995.9l-4.4-.3-.3 2.6zM235.3 998.2l.3-2.6-6.4 3.3 4 .3z"/>
<path class="f c8" d="M235.2 999.4l6.5-3.4-1.7-.1-4.7 2.3zM235.2 999.4l.1-1.2-2.1 1z"/>
<path class="m" d="M235.2 999.4l6.5-3.4-6.1-.4-6.4 3.3z"/>
<path class="f c8" d="M253.6 993.5l.6-.3-6.1-.1-.3 2.6zM247.8 995.7l.3-2.6-6.4 2.9 5.2 .1z"/>
<path class="f c9" d="M247.8 996.1l5.8-2.6-5.8 2.2zM247.8 996.1l0-.4-.9 .4z"/>
<path class="m" d="M247.8 996.1l6.4-2.9-6.1-.1-6.4 2.9z"/>
<path class="f c0" d="M106.5 1030.7l2.2-2.2-1.8-1.2zM106.5 1030.7l.4-3.4-3.7-2.9-1.9 1.9z"/>
<path class="f c1" d="M108.7 1028.5l4.5-4.2-5.2-4.6-1.1 7.6zM106.9 1027.3l1.1-7.6-4.8 4.7z"/>
<path class="m" d="M106.5 1030.7l6.7-6.4-5.2-4.6-6.7 6.6z"/>
<path class="m c1" d="M118.4 1028.6l6.7-6-5.3-4.4-6.6 6.1z"/>
<path class="f c2" d="M150.5 1018.2l-1.4 1.1 1.4 .8z"/>
<path class="f c3" d="M154.6 1022.3l6.6-5.3-5.5-2.9zM154.6 1022.3l1.1-8.2-5.2 4.1 0 1.9z"/>
<path class="m" d="M154.6 1022.3l6.6-5.3-5.5-2.9-6.6 5.2z"/>
<path class="m c4" d="M179 1016.8l6.6-4.9-5.6-2.2-6.6 4.9z"/>
<path class="f c6" d="M219.4 1002.2l-2.6-.4-.4 2.8zM216.4 1004.6l.4-2.8-6.6 4.2 3.7 .5z"/>
<path class="f c7" d="M216.1 1006.9l6.6-4.2-3.3-.5-3 2.4zM216.1 1006.9l.3-2.3-2.5 1.9z"/>
<path class="m" d="M216.1 1006.9l6.6-4.2-5.9-.9-6.6 4.2z"/>
<path class="f c7" d="M233.2 999.2l-4-.3-.4 3.1zM228.8 1002l.4-3.1-6.5 3.8 4.3 .4z"/>
<path class="f c8" d="M228.7 1003.2l6.5-3.8-2-.2-4.4 2.8zM228.7 1003.2l.1-1.2-1.8 1.1z"/>
<path class="m" d="M228.7 1003.2l6.5-3.8-6-.5-6.5 3.8z"/>
<path class="m c0" d="M94.6 1033.2l6.7-6.9-5.1-5.1-6.7 7.2z"/>
<path class="f c1" d="M130.4 1026.9l1.2-1-1-.8zM130.4 1026.9l.2-1.8-4.1-3.6-1.4 1.1z"/>
<path class="f c2" d="M131.6 1025.9l5.5-4.7-5.4-4.3-1.1 8.2zM130.6 1025.1l1.1-8.2-5.2 4.6z"/>
<path class="m" d="M130.4 1026.9l6.7-5.7-5.4-4.3-6.6 5.7z"/>
<path class="m c2" d="M142.4 1024.8l6.7-5.5-5.4-3.6-6.6 5.5z"/>
<path class="f c3" d="M166.7 1019.7l1.5-1.2 1.4-5.7-1.8-.8zM166.7 1019.7l1.1-7.7-6.6 5z"/>
<path class="f c4" d="M168.2 1018.5l5.2-3.9-3.8-1.8z"/>
<path class="m" d="M166.7 1019.7l6.7-5.1-5.6-2.6-6.6 5z"/>
<path class="f c4" d="M186.2 1011.5l-.6 .4 .2 .1z"/>
<path class="f c5" d="M191.3 1013.7l6.6-4.7-5.7-1.8zM191.3 1013.7l.9-6.5-6 4.3-.4 .5z"/>
<path class="m" d="M191.3 1013.7l6.6-4.7-5.7-1.8-6.6 4.7z"/>
<path class="f c5" d="M205.1 1004.8l-.7-.2-.1 .9zM204.3 1005.5l.1-.9-6.5 4.4 2.3 .6z"/>
<path class="f c6" d="M203.7 1010.4l6.5-4.4-5.1-1.2-.8 .7zM203.7 1010.4l.6-4.9-4.1 4.1z"/>
<path class="m" d="M203.7 1010.4l6.5-4.4-5.8-1.4-6.5 4.4z"/>
<path class="f c8" d="M246.9 996.1l-5.2-.1-.3 2.8zM241.4 998.8l.3-2.8-6.5 3.4 4.9 0z"/>
<path class="f c9" d="M241.3 999.4l6.5-3.3-.9 0-5.5 2.7zM241.3 999.4l.1-.6-1.3 .6z"/>
<path class="m" d="M241.3 999.4l6.5-3.3-6.1-.1-6.5 3.4z"/>
<path class="m c0" d="M99.7 1037.4l6.8-6.7-5.2-4.4-6.7 6.9z"/>
<path class="f c0" d="M111.7 1034.9l2.1-1.9-1.7-1.3zM111.7 1034.9l.4-3.2-3.4-3.2-2.2 2.2z"/>
<path class="f c1" d="M113.8 1033l4.6-4.4-5.2-4.3-1.1 7.4zM112.1 1031.7l1.1-7.4-4.5 4.2z"/>
<path class="m" d="M111.7 1034.9l6.7-6.3-5.2-4.3-6.7 6.4z"/>
<path class="m c1" d="M123.7 1032.9l6.7-6-5.3-4.3-6.7 6z"/>
<path class="f c2" d="M147.9 1027.7l3-2.4-.4-5.2-1.4-.8zM147.9 1027.7l1.2-8.4-6.7 5.5z"/>
<path class="f c3" d="M150.9 1025.3l3.7-3-4.1-2.2z"/>
<path class="m" d="M147.9 1027.7l6.7-5.4-5.5-3-6.7 5.5z"/>
<path class="m c3" d="M160.1 1025l6.6-5.3-5.5-2.7-6.6 5.3z"/>
<path class="f c3" d="M168.2 1018.5l-1.5 1.2 .9 .3z"/>
<path class="f c4" d="M172.3 1022l6.7-5.2-5.6-2.2zM172.3 1022l1.1-7.4-5.2 3.9-.6 1.5z"/>
<path class="m" d="M172.3 1022l6.7-5.2-5.6-2.2-6.7 5.1z"/>
<path class="f c4" d="M185.8 1012l-.2-.1-.1 .6zM185.5 1012.5l.1-.6-6.6 4.9 3.3 1.1z"/>
<path class="f c5" d="M184.6 1018.7l6.7-5-5.5-1.7-.3 .5zM184.6 1018.7l.9-6.2-3.2 5.4z"/>
<path class="m" d="M184.6 1018.7l6.7-5-5.7-1.8-6.6 4.9z"/>
<path class="f c6" d="M213.9 1006.5l-3.7-.5-.6 4.6zM209.6 1010.6l.6-4.6-6.5 4.4 5.2 .9z"/>
<path class="f c7" d="M209.5 1011.4l6.6-4.5-2.2-.4-4.3 4.1zM209.5 1011.4l.1-.8-.7 .7z"/>
<path class="m" d="M209.5 1011.4l6.6-4.5-5.9-.9-6.5 4.4z"/>
<path class="f c7" d="M227 1003.1l-4.3-.4-.5 4.1zM222.2 1006.8l.5-4.1-6.6 4.2 5.3 .5z"/>
<path class="f c8" d="M222.1 1007.4l6.6-4.2-1.7-.1-4.8 3.7zM222.1 1007.4l.1-.6-.8 .6z"/>
<path class="m" d="M222.1 1007.4l6.6-4.2-6-.5-6.6 4.2z"/>
<path class="f c8" d="M240.1 999.4l-4.9 0-.4 3.3zM234.8 1002.7l.4-3.3-6.5 3.8 5.2 .1z"/>
<path class="f c9" d="M234.7 1003.3l6.6-3.9-1.2 0-5.3 3.3zM234.7 1003.3l.1-.6-.9 .6z"/>
<path class="m" d="M234.7 1003.3l6.6-3.9-6.1 0-6.5 3.8z"/>
<path class="f c1" d="M131.6 1025.9l-1.2 1 2.5 1.7z"/>
<path class="f c2" d="M135.8 1030.5l6.6-5.7-5.3-3.6zM135.8 1030.5l1.3-9.3-5.5 4.7 1.3 2.7z"/>
<path class="m" d="M135.8 1030.5l6.6-5.7-5.3-3.6-6.7 5.7z"/>
<path class="f c5" d="M200.2 1009.6l-2.3-.6-.6 4.2zM197.3 1013.2l.6-4.2-6.6 4.7 4.6 1.2z"/>
<path class="f c6" d="M197 1015.2l6.7-4.8-3.5-.8-2.9 3.6zM197 1015.2l.3-2-1.4 1.7z"/>
<path class="m" d="M197 1015.2l6.7-4.8-5.8-1.4-6.6 4.7z"/>
<path class="m c0" d="M104.9 1041.5l6.8-6.6-5.2-4.2-6.8 6.7z"/>
<path class="f c0" d="M116.9 1039l1.5-1.3-1.1-1zM116.9 1039l.4-2.3-3.5-3.7-2.1 1.9z"/>
<path class="f c1" d="M118.4 1037.7l5.3-4.8-5.3-4.3-1.1 8.1zM117.3 1036.7l1.1-8.1-4.6 4.4z"/>
<path class="m" d="M116.9 1039l6.8-6.1-5.3-4.3-6.7 6.3z"/>
<path class="f c1" d="M129 1036.3l5.5-4.7-1.6-3-2.5-1.7zM129 1036.3l1.4-9.4-6.7 6z"/>
<path class="f c2" d="M134.5 1031.6l1.3-1.1-2.9-1.9z"/>
<path class="m" d="M129 1036.3l6.8-5.8-5.4-3.6-6.7 6z"/>
<path class="m c2" d="M141.2 1033.4l6.7-5.7-5.5-2.9-6.6 5.7z"/>
<path class="f c2" d="M150.9 1025.3l-3 2.4 2.6 1.3z"/>
<path class="f c3" d="M153.3 1030.4l6.8-5.4-5.5-2.7zM153.3 1030.4l1.3-8.1-3.7 3-.4 3.7z"/>
<path class="m" d="M153.3 1030.4l6.8-5.4-5.5-2.7-6.7 5.4z"/>
<path class="f c3" d="M167.6 1020l-.9-.3-1 6.8zM165.7 1026.5l1-6.8-6.6 5.3 5.4 2.3z"/>
<path class="f c4" d="M165.6 1027.3l6.7-5.3-4.7-2-1.9 6.5zM165.6 1027.3l.1-.8-.2 .8z"/>
<path class="m" d="M165.6 1027.3l6.7-5.3-5.6-2.3-6.6 5.3z"/>
<path class="f c4" d="M178 1023.9l2.3-1.8 2-4.2-3.3-1.1zM178 1023.9l1-7.1-6.7 5.2z"/>
<path class="f c5" d="M180.3 1022.1l4.3-3.4-2.3-.8z"/>
<path class="m" d="M178 1023.9l6.6-5.2-5.6-1.9-6.7 5.2z"/>
<path class="f c5" d="M190.4 1020.3l4.1-3.2 1.4-2.2-4.6-1.2zM190.4 1020.3l.9-6.6-6.7 5z"/>
<path class="f c6" d="M194.5 1017.1l2.5-1.9-1.1-.3z"/>
<path class="m" d="M190.4 1020.3l6.6-5.1-5.7-1.5-6.7 5z"/>
<path class="f c6" d="M202.9 1016.3l4.7-3.4 1.3-1.6-5.2-.9zM202.9 1016.3l.8-5.9-6.7 4.8z"/>
<path class="f c7" d="M207.6 1012.9l1.9-1.5-.6-.1z"/>
<path class="m" d="M202.9 1016.3l6.6-4.9-5.8-1-6.7 4.8z"/>
<path class="f c7" d="M215.5 1012l3.9-2.7 2-1.9-5.3-.5zM215.5 1012l.6-5.1-6.6 4.5z"/>
<path class="f c8" d="M219.4 1009.3l2.7-1.9-.7 0z"/>
<path class="m" d="M215.5 1012l6.6-4.6-6-.5-6.6 4.5z"/>
<path class="f c8" d="M228.1 1007.6l1.1-.8 4.7-3.5-5.2-.1zM228.1 1007.6l.6-4.4-6.6 4.2z"/>
<path class="f c9" d="M229.2 1006.8l5.5-3.5-.8 0z"/>
<path class="m" d="M228.1 1007.6l6.6-4.3-6-.1-6.6 4.2z"/>
<path class="m c0" d="M110.2 1045.5l6.7-6.5-5.2-4.1-6.8 6.6z"/>
<path class="f c0" d="M118.4 1037.7l-1.5 1.3 2.6 1.7z"/>
<path class="f c1" d="M122.3 1042.4l6.7-6.1-5.3-3.4zM122.3 1042.4l1.4-9.5-5.3 4.8 1.1 3z"/>
<path class="m" d="M122.3 1042.4l6.7-6.1-5.3-3.4-6.8 6.1z"/>
<path class="f c1" d="M134.4 1039.2l.6-.5-.2-2.1zM134.4 1039.2l.4-2.6-.3-5-5.5 4.7z"/>
<path class="f c2" d="M135 1038.7l6.2-5.3-5.4-2.9-1 6.1zM134.8 1036.6l1-6.1-1.3 1.1z"/>
<path class="m" d="M134.4 1039.2l6.8-5.8-5.4-2.9-6.8 5.8z"/>
<path class="f c2" d="M146.6 1036.1l3.7-3.1 .2-4-2.6-1.3zM146.6 1036.1l1.3-8.4-6.7 5.7z"/>
<path class="f c3" d="M150.3 1033l3-2.6-2.8-1.4z"/>
<path class="m" d="M146.6 1036.1l6.7-5.7-5.4-2.7-6.7 5.7z"/>
<path class="f c3" d="M158.9 1032.8l6.6-5.4 0-.1-5.4-2.3zM158.9 1032.8l1.2-7.8-6.8 5.4z"/>
<path class="f c4" d="M165.5 1027.4l.1-.1-.1 0z"/>
<path class="m" d="M158.9 1032.8l6.7-5.5-5.5-2.3-6.8 5.4z"/>
<path class="m c4" d="M171.2 1029.3l6.8-5.4-5.7-1.9-6.7 5.3z"/>
<path class="f c4" d="M180.3 1022.1l-2.3 1.8 1.1 .3z"/>
<path class="f c5" d="M183.7 1025.6l6.7-5.3-5.8-1.6zM183.7 1025.6l.9-6.9-4.3 3.4-1.2 2.1z"/>
<path class="m" d="M183.7 1025.6l6.7-5.3-5.8-1.6-6.6 5.2z"/>
<path class="f c5" d="M194.5 1017.1l-4.1 3.2 1.5 .3z"/>
<path class="f c6" d="M196.2 1021.4l6.7-5.1-5.9-1.1zM196.2 1021.4l.8-6.2-2.5 1.9-2.6 3.5z"/>
<path class="m" d="M196.2 1021.4l6.7-5.1-5.9-1.1-6.6 5.1z"/>
<path class="f c6" d="M207.6 1012.9l-4.7 3.4 1.4 .2z"/>
<path class="f c7" d="M208.8 1017l6.7-5-6-.6zM208.8 1017l.7-5.6-1.9 1.5-3.3 3.6z"/>
<path class="m" d="M208.8 1017l6.7-5-6-.6-6.6 4.9z"/>
<path class="f c7" d="M219.4 1009.3l-3.9 2.7 .8 .1z"/>
<path class="f c8" d="M221.5 1012.3l6.6-4.7-6-.2zM221.5 1012.3l.6-4.9-2.7 1.9-3.1 2.8z"/>
<path class="m" d="M221.5 1012.3l6.6-4.7-6-.2-6.6 4.6z"/>
<path class="f c0" d="M115.5 1048.6l5.2-4.8-1.2-3.1-2.6-1.7zM115.5 1048.6l1.4-9.6-6.7 6.5z"/>
<path class="f c1" d="M120.7 1043.8l1.6-1.4-2.8-1.7z"/>
<path class="m" d="M115.5 1048.6l6.8-6.2-5.4-3.4-6.7 6.5z"/>
<path class="m c1" d="M127.6 1045.1l6.8-5.9-5.4-2.9-6.7 6.1z"/>
<path class="f c1" d="M135 1038.7l-.6 .5 .5 .2z"/>
<path class="f c2" d="M139.8 1041.8l6.8-5.7-5.4-2.7zM139.8 1041.8l1.4-8.4-6.2 5.3-.1 .7z"/>
<path class="m" d="M139.8 1041.8l6.8-5.7-5.4-2.7-6.8 5.8z"/>
<path class="f c2" d="M150.3 1033l-3.7 3.1 2.7 1.1z"/>
<path class="f c3" d="M152.1 1038.4l6.8-5.6-5.6-2.4zM152.1 1038.4l1.2-8-3 2.6-1 4.2z"/>
<path class="m" d="M152.1 1038.4l6.8-5.6-5.6-2.4-6.7 5.7z"/>
<path class="f c3" d="M165.5 1027.4l-6.6 5.4 4.1 1.5z"/>
<path class="f c4" d="M164.5 1034.8l6.7-5.5-5.6-2zM164.5 1034.8l1.1-7.5-.1 .1-2.5 6.9z"/>
<path class="m" d="M164.5 1034.8l6.7-5.5-5.6-2-6.7 5.5z"/>
<path class="f c4" d="M179.1 1024.2l-1.1-.3-.6 3.7zM177.4 1027.6l.6-3.7-6.8 5.4 4.7 1.4z"/>
<path class="f c5" d="M176.9 1031l6.8-5.4-4.6-1.4-1.7 3.4zM176.9 1031l.5-3.4-1.5 3.1z"/>
<path class="m" d="M176.9 1031l6.8-5.4-5.7-1.7-6.8 5.4z"/>
<path class="f c5" d="M191.9 1020.6l-1.5-.3-.5 3.6zM189.9 1023.9l.5-3.6-6.7 5.3 4.5 .9z"/>
<path class="f c6" d="M189.5 1026.8l6.7-5.4-4.3-.8-2 3.3zM189.5 1026.8l.4-2.9-1.7 2.6z"/>
<path class="m" d="M189.5 1026.8l6.7-5.4-5.8-1.1-6.7 5.3z"/>
<path class="f c6" d="M204.3 1016.5l-1.4-.2-.3 2.3zM202.6 1018.6l.3-2.3-6.7 5.1 3.7 .5z"/>
<path class="f c7" d="M202.1 1022.2l6.7-5.2-4.5-.5-1.7 2.1zM202.1 1022.2l.5-3.6-2.7 3.3z"/>
<path class="m" d="M202.1 1022.2l6.7-5.2-5.9-.7-6.7 5.1z"/>
<path class="f c7" d="M216.3 1012.1l-.8-.1-.2 1.1zM215.3 1013.1l.2-1.1-6.7 5 2.7 .1z"/>
<path class="f c8" d="M214.8 1017.3l6.7-5-5.2-.2-1 1zM214.8 1017.3l.5-4.2-3.8 4z"/>
<path class="m" d="M214.8 1017.3l6.7-5-6-.3-6.7 5z"/>
<path class="f c0" d="M120.7 1043.8l-5.2 4.8 4.9 2.3z"/>
<path class="f c1" d="M120.8 1051.1l6.8-6-5.3-2.7zM120.8 1051.1l1.5-8.7-1.6 1.4-.3 7.1z"/>
<path class="m" d="M120.8 1051.1l6.8-6-5.3-2.7-6.8 6.2z"/>
<path class="f c2" d="M145.3 1044.1l3-2.5 1-4.4-2.7-1.1zM145.3 1044.1l1.3-8-6.8 5.7z"/>
<path class="f c3" d="M148.3 1041.6l3.8-3.2-2.8-1.2z"/>
<path class="m" d="M145.3 1044.1l6.8-5.7-5.5-2.3-6.8 5.7z"/>
<path class="f c5" d="M182.7 1032.3l4-3.3 1.5-2.5-4.5-.9zM182.7 1032.3l1-6.7-6.8 5.4z"/>
<path class="f c6" d="M186.7 1029l2.8-2.2-1.3-.3z"/>
<path class="m" d="M182.7 1032.3l6.8-5.5-5.8-1.2-6.8 5.4z"/>
<path class="f c7" d="M211.5 1017.1l-2.7-.1-.6 4.1zM208.2 1021.1l.6-4.1-6.7 5.2 5 .3z"/>
<path class="f c8" d="M208 1022.6l6.8-5.3-3.3-.2-3.3 4zM208 1022.6l.2-1.5-1.1 1.4z"/>
<path class="m" d="M208 1022.6l6.8-5.3-6-.3-6.7 5.2z"/>
<path class="f c1" d="M133 1047.6l1.2-1 .7-7.2-.5-.2zM133 1047.6l1.4-8.4-6.8 5.9z"/>
<path class="f c2" d="M134.2 1046.6l5.6-4.8-4.9-2.4z"/>
<path class="m" d="M133 1047.6l6.8-5.8-5.4-2.6-6.8 5.9z"/>
<path class="f c3" d="M157.7 1040.4l4.3-3.6 1-2.5-4.1-1.5zM157.7 1040.4l1.2-7.6-6.8 5.6z"/>
<path class="f c4" d="M162 1036.8l2.5-2-1.5-.5z"/>
<path class="m" d="M157.7 1040.4l6.8-5.6-5.6-2-6.8 5.6z"/>
<path class="f c4" d="M170.2 1036.5l4.8-4 .9-1.8-4.7-1.4zM170.2 1036.5l1-7.2-6.7 5.5z"/>
<path class="f c5" d="M175 1032.5l1.9-1.5-1-.3z"/>
<path class="m" d="M170.2 1036.5l6.7-5.5-5.7-1.7-6.7 5.5z"/>
<path class="f c6" d="M195.3 1027.6l1.5-1.2 3.1-4.5-3.7-.5zM195.3 1027.6l.9-6.2-6.7 5.4z"/>
<path class="f c7" d="M196.8 1026.4l5.3-4.2-2.2-.3z"/>
<path class="m" d="M195.3 1027.6l6.8-5.4-5.9-.8-6.7 5.4z"/>
<path class="f c1" d="M134.2 1046.6l-1.2 1 .8 .3z"/>
<path class="f c2" d="M138.5 1049.8l6.8-5.7-5.5-2.3zM138.5 1049.8l1.3-8-5.6 4.8-.4 1.3z"/>
<path class="m" d="M138.5 1049.8l6.8-5.7-5.5-2.3-6.8 5.8z"/>
<path class="f c5" d="M186.7 1029l-4 3.3 1.7 .3z"/>
<path class="f c6" d="M188.5 1033.2l6.8-5.6-5.8-.8zM188.5 1033.2l1-6.4-2.8 2.2-2.3 3.6z"/>
<path class="m" d="M188.5 1033.2l6.8-5.6-5.8-.8-6.8 5.5z"/>
<path class="m c1" d="M126.2 1053.4l6.8-5.8-5.4-2.5-6.8 6z"/>
<path class="f c2" d="M148.3 1041.6l-3 2.5 1.8 .6z"/>
<path class="f c3" d="M150.9 1046l6.8-5.6-5.6-2zM150.9 1046l1.2-7.6-3.8 3.2-1.2 3.1z"/>
<path class="m" d="M150.9 1046l6.8-5.6-5.6-2-6.8 5.7z"/>
<path class="f c3" d="M162 1036.8l-4.3 3.6 2.3 .7z"/>
<path class="f c4" d="M163.3 1042.1l6.9-5.6-5.7-1.7zM163.3 1042.1l1.2-7.3-2.5 2-2 4.3z"/>
<path class="m" d="M163.3 1042.1l6.9-5.6-5.7-1.7-6.8 5.6z"/>
<path class="f c4" d="M175 1032.5l-4.8 4 2.3 .6z"/>
<path class="f c5" d="M175.9 1037.9l6.8-5.6-5.8-1.3zM175.9 1037.9l1-6.9-1.9 1.5-2.5 4.6z"/>
<path class="m" d="M175.9 1037.9l6.8-5.6-5.8-1.3-6.7 5.5z"/>
<path class="f c6" d="M196.8 1026.4l-1.5 1.2 .6 .1z"/>
<path class="f c7" d="M201.3 1028.1l4.2-3.5 1.6-2.1-5-.3zM201.3 1028.1l.8-5.9-5.3 4.2-.9 1.3z"/>
<path class="f c8" d="M205.5 1024.6l2.5-2-.9-.1z"/>
<path class="m" d="M201.3 1028.1l6.7-5.5-5.9-.4-6.8 5.4z"/>
<path class="f c1" d="M133.8 1047.9l-.8-.3-1 5.5zM132 1053.1l1-5.5-6.8 5.8 5.1 1.9z"/>
<path class="f c2" d="M131.6 1055.4l6.9-5.6-4.7-1.9-1.8 5.2zM131.6 1055.4l.4-2.3-.7 2.2z"/>
<path class="m" d="M131.6 1055.4l6.9-5.6-5.5-2.2-6.8 5.8z"/>
<path class="f c2" d="M144 1051.6l.1-.1 3-6.8-1.8-.6zM144 1051.6l1.3-7.5-6.8 5.7z"/>
<path class="f c3" d="M144.1 1051.5l6.8-5.5-3.8-1.3z"/>
<path class="m" d="M144 1051.6l6.9-5.6-5.6-1.9-6.8 5.7z"/>
<path class="f c3" d="M156.5 1047.7l.4-.4 3.1-6.2-2.3-.7zM156.5 1047.7l1.2-7.3-6.8 5.6z"/>
<path class="f c4" d="M156.9 1047.3l6.4-5.2-3.3-1z"/>
<path class="m" d="M156.5 1047.7l6.8-5.6-5.6-1.7-6.8 5.6z"/>
<path class="f c4" d="M172.5 1037.1l-2.3-.6-1.1 6.4zM169.1 1042.9l1.1-6.4-6.9 5.6 5.5 1.3z"/>
<path class="f c5" d="M169 1043.4l6.9-5.5-3.4-.8-3.4 5.8zM169 1043.4l.1-.5-.3 .5z"/>
<path class="m" d="M169 1043.4l6.9-5.5-5.7-1.4-6.9 5.6z"/>
<path class="f c5" d="M184.4 1032.6l-1.7-.3-.6 3.8zM182.1 1036.1l.6-3.8-6.8 5.6 4.6 .7z"/>
<path class="f c6" d="M181.7 1038.8l6.8-5.6-4.1-.6-2.3 3.5zM181.7 1038.8l.4-2.7-1.6 2.5z"/>
<path class="m" d="M181.7 1038.8l6.8-5.6-5.8-.9-6.8 5.6z"/>
<path class="f c6" d="M195.9 1027.7l-.6-.1-.1 1.1zM195.2 1028.7l.1-1.1-6.8 5.6 3.3 .3z"/>
<path class="f c7" d="M194.4 1033.7l6.9-5.6-5.4-.4-.7 1zM194.4 1033.7l.8-5-3.4 4.8z"/>
<path class="m" d="M194.4 1033.7l6.9-5.6-6-.5-6.8 5.6z"/>
<path class="m c2" d="M137.1 1057.1l6.9-5.5-5.5-1.8-6.9 5.6z"/>
<path class="f c2" d="M144.1 1051.5l-.1 .1 0 0z"/>
<path class="f c3" d="M149.6 1053.2l6.9-5.5-5.6-1.7zM149.6 1053.2l1.3-7.2-6.8 5.5-.1 .1z"/>
<path class="m" d="M149.6 1053.2l6.9-5.5-5.6-1.7-6.9 5.6z"/>
<path class="f c3" d="M156.9 1047.3l-.4 .4 .2 0z"/>
<path class="f c4" d="M162.2 1049l6.4-5.2 .2-.4-5.5-1.3zM162.2 1049l1.1-6.9-6.4 5.2-.2 .4z"/>
<path class="f c5" d="M168.6 1043.8l.4-.4-.2 0z"/>
<path class="m" d="M162.2 1049l6.8-5.6-5.7-1.3-6.8 5.6z"/>
<path class="f c5" d="M174.8 1044.4l4-3.2 1.7-2.6-4.6-.7zM174.8 1044.4l1.1-6.5-6.9 5.5z"/>
<path class="f c6" d="M178.8 1041.2l2.9-2.4-1.2-.2z"/>
<path class="m" d="M174.8 1044.4l6.9-5.6-5.8-.9-6.9 5.5z"/>
<path class="f c6" d="M187.6 1039.4l.1-.1 4.1-5.8-3.3-.3zM187.6 1039.4l.9-6.2-6.8 5.6z"/>
<path class="f c7" d="M187.7 1039.3l6.7-5.6-2.6-.2z"/>
<path class="m" d="M187.6 1039.4l6.8-5.7-5.9-.5-6.8 5.6z"/>
<path class="f c2" d="M144 1051.6l0 0 0 .1zM144 1051.7l0-.1-6.9 5.5 2.9 .7z"/>
<path class="f c3" d="M142.7 1058.5l6.9-5.3-5.6-1.6 0 .1zM142.7 1058.5l1.3-6.8-4 6.1z"/>
<path class="m" d="M142.7 1058.5l6.9-5.3-5.6-1.6-6.9 5.5z"/>
<path class="f c3" d="M156.7 1047.7l-.2 0-.1 .4zM156.4 1048.1l.1-.4-6.9 5.5 2.9 .6z"/>
<path class="f c4" d="M155.2 1054.4l7-5.4-5.5-1.3-.3 .4zM155.2 1054.4l1.2-6.3-3.9 5.7z"/>
<path class="m" d="M155.2 1054.4l7-5.4-5.7-1.3-6.9 5.5z"/>
<path class="f c4" d="M168.6 1043.8l-6.4 5.2 2.4 .4z"/>
<path class="f c5" d="M167.9 1049.9l6.9-5.5-5.8-1zM167.9 1049.9l1.1-6.5-.4 .4-4 5.6z"/>
<path class="m" d="M167.9 1049.9l6.9-5.5-5.8-1-6.8 5.6z"/>
<path class="f c5" d="M178.8 1041.2l-4 3.2 1.5 .1z"/>
<path class="f c6" d="M180.7 1045l6.9-5.6-5.9-.6zM180.7 1045l1-6.2-2.9 2.4-2.5 3.3z"/>
<path class="m" d="M180.7 1045l6.9-5.6-5.9-.6-6.9 5.6z"/>
<path class="f c3" d="M152.5 1053.8l-2.9-.6-1.1 5.3zM148.5 1058.5l1.1-5.3-6.9 5.3 5 1z"/>
<path class="f c4" d="M148.3 1059.6l6.9-5.2-2.7-.6-4 4.7zM148.3 1059.6l.2-1.1-.8 1z"/>
<path class="m" d="M148.3 1059.6l6.9-5.2-5.6-1.2-6.9 5.3z"/>
<path class="f c4" d="M164.6 1049.4l-2.4-.4-.9 4.3zM161.3 1053.3l.9-4.3-7 5.4 4.7 .7z"/>
<path class="f c5" d="M161 1055.2l6.9-5.3-3.3-.5-3.3 3.9zM161 1055.2l.3-1.9-1.4 1.8z"/>
<path class="m" d="M161 1055.2l6.9-5.3-5.7-.9-7 5.4z"/>
<path class="f c5" d="M176.3 1044.5l-1.5-.1-.4 2.5zM174.4 1046.9l.4-2.5-6.9 5.5 3.8 .4z"/>
<path class="f c6" d="M173.7 1050.5l7-5.5-4.4-.5-1.9 2.4zM173.7 1050.5l.7-3.6-2.7 3.4z"/>
<path class="m" d="M173.7 1050.5l7-5.5-5.9-.6-6.9 5.5z"/>
<path class="f c4" d="M154 1060.3l2.8-2 3.1-3.2-4.7-.7zM154 1060.3l1.2-5.9-6.9 5.2z"/>
<path class="f c5" d="M156.8 1058.3l4.2-3.1-1.1-.1z"/>
<path class="m" d="M154 1060.3l7-5.1-5.8-.8-6.9 5.2z"/>
<path class="f c5" d="M171.7 1050.3l-3.8-.4-1.1 5.7zM166.8 1055.6l1.1-5.7-6.9 5.3 5.7 .5z"/>
<path class="f c6" d="M166.8 1055.7l6.9-5.2-2-.2-4.9 5.3zM166.8 1055.7l0-.1-.1 .1z"/>
<path class="m" d="M166.8 1055.7l6.9-5.2-5.8-.6-6.9 5.3z"/>
<path class="f c4" d="M156.8 1058.3l-2.8 2 .6 0z"/>
<path class="f c5" d="M159.7 1060.7l6.6-4.6 .4-.4-5.7-.5zM159.7 1060.7l1.3-5.5-4.2 3.1-2.2 2z"/>
<path class="f c6" d="M166.3 1056.1l.5-.4-.1 0z"/>
<path class="m" d="M159.7 1060.7l7.1-5-5.8-.5-7 5.1z"/>
<text x="48.5" y="900.8" dy=".35em" font-size="9.8" text-anchor="middle" transform="rotate(-20.0 48.5 900.8)">26</text>
<text x="50.2" y="926.0" dy=".35em" font-size="9.8" text-anchor="middle" transform="rotate(-20.0 50.2 926.0)">22</text>
<text x="51.9" y="951.2" dy=".35em" font-size="9.8" text-anchor="middle" transform="rotate(-20.0 51.9 951.2)">18</text>
<text x="53.5" y="976.5" dy=".35em" font-size="9.8" text-anchor="middle" transform="rotate(-20.0 53.5 976.5)">14</text>
<text x="55.2" y="1001.7" dy=".35em" font-size="9.8" text-anchor="middle" transform="rotate(-20.0 55.2 1001.7)">10</text>
<text x="56.9" y="1026.9" dy=".35em" font-size="9.8" text-anchor="middle" transform="rotate(-20.0 56.9 1026.9)">6</text>
<text x="142.6" y="1135.1" dy=".35em" font-size="9.5" text-anchor="middle" transform="rotate(-35.0 142.6 1135.1)">-0.002</text>
<text x="126.5" y="1122.1" dy=".35em" font-size="9.5" text-anchor="middle" transform="rotate(-35.0 126.5 1122.1)">0.002</text>
<text x="110.5" y="1109.1" dy=".35em" font-size="9.5" text-anchor="middle" transform="rotate(-35.0 110.5 1109.1)">0.006</text>
<text x="94.4" y="1096.2" dy=".35em" font-size="9.5" text-anchor="middle" transform="rotate(-35.0 94.4 1096.2)">0.010</text>
<text x="78.4" y="1083.2" dy=".35em" font-size="9.5" text-anchor="middle" transform="rotate(-35.0 78.4 1083.2)">0.014</text>
<text x="62.3" y="1070.2" dy=".35em" font-size="9.5" text-anchor="middle" transform="rotate(-35.0 62.3 1070.2)">0.018</text>
<text x="46.3" y="1057.2" dy=".35em" font-size="9.5" text-anchor="middle" transform="rotate(-35.0 46.3 1057.2)">0.022</text>
<text x="171.1" y="1135.1" dy=".35em" font-size="10" text-anchor="middle" transform="rotate(-33.0 171.1 1135.1)">0.5</text>
<text x="194.8" y="1120.4" dy=".35em" font-size="10" text-anchor="middle" transform="rotate(-33.0 194.8 1120.4)">1.5</text>
<text x="218.4" y="1105.7" dy=".35em" font-size="10" text-anchor="middle" transform="rotate(-33.0 218.4 1105.7)">2.5</text>
<text x="242.1" y="1090.9" dy=".35em" font-size="10" text-anchor="middle" transform="rotate(-33.0 242.1 1090.9)">3.5</text>
<text x="265.7" y="1076.2" dy=".35em" font-size="10" text-anchor="middle" transform="rotate(-33.0 265.7 1076.2)">4.5</text>
<text x="289.4" y="1061.5" dy=".35em" font-size="10" text-anchor="middle" transform="rotate(-33.0 289.4 1061.5)">5.5</text>
<text x="31.5" y="987.0" dy=".35em" font-size="10.5" text-anchor="middle" transform="rotate(88.0 31.5 987.0)" textLength="119.0" lengthAdjust="spacingAndGlyphs">Lipase activity(U/gds)</text>
<text x="66.9" y="1114.1" dy=".35em" font-size="10" text-anchor="middle" transform="rotate(45.0 66.9 1114.1)" textLength="52.6" lengthAdjust="spacingAndGlyphs">CaSO4(g/l)</text>
<text x="247.8" y="1107.7" dy=".35em" font-size="10.5" text-anchor="middle" transform="rotate(-30.0 247.8 1107.7)" textLength="65.7" lengthAdjust="spacingAndGlyphs">Peptone(g/l)</text>
</g>
<rect x="4.5" y="850.5" width="39.0" height="34.0" fill="#fff" stroke="#000" stroke-width="1.2" shape-rendering="crispEdges"/><text x="24.0" y="876.3" font-size="24" text-anchor="middle" style="fill:#000">E</text>
<g class="p">
<path d="M439.5 1049l-5.5-145 120-51.5 104 65-6 147.5-116.5 65z" fill="#3f8282"/>
<path d="M535.5 1130l-96-81-5.5-145M550.7 1121.5l-96.3-80-4.8-144.2M565.7 1113.1l-96.7-79-4-143.4M580.6 1104.9l-97-78.1-3.4-142.6M595.2 1096.7l-97.3-77.1-2.6-141.9M609.7 1088.6l-97.6-76.1-1.9-141.2M624 1080.6l-97.9-75.2-1.1-140.4M638.1 1072.8l-98.2-74.4-.3-139.7M652 1065l-98.4-73.5 .4-139M535.5 1130l116.5-65 6-147.5M518.6 1115.8l116.2-63.7 5-146M502.1 1101.8l115.8-62.3 4-144.6M486 1088.2l115.3-61 3.1-143.2M470.2 1074.9l114.9-59.8 2.2-141.8M454.7 1061.8l114.5-58.6 1.3-140.4M439.5 1049l114.1-57.5 .4-139M438.6 1024.4l115.1-56.4 99.3 72M437.7 1000.5l116-55.5 100.3 70.6M436.8 976.5l117-54.5 101.2 69.2M435.8 952.5l118.1-53.5 102.1 67.9M434.9 928.6l119-52.5 103.1 66.4M434 904.6l120-51.5 104 65M439.5 1049l114.1-57.5 98.4 73.5M553.6 991.5l.4-139" fill="none" stroke="#bccfcf" stroke-width="0.9"/>
<path d="M434 904l5.5 145 96 81 116.5-65" fill="none" stroke="#0a1414" stroke-width="1.1"/>
<path d="M434 904l5.5 145" fill="none" stroke="#0a1414" stroke-width="1.6" stroke-dasharray="1 3.4" transform="translate(-1 0)"/>
<path d="M439.5 1049l96 81" fill="none" stroke="#0a1414" stroke-width="1.6" stroke-dasharray="1 3.4" transform="translate(-.7 .8)"/>
<path d="M535.5 1130l116.5-65" fill="none" stroke="#0a1414" stroke-width="1.6" stroke-dasharray="1 3.4" transform="translate(.6 .9)"/>
<path d="M540.6 983.1l4.8-2.8-4.5 0zM540.6 983.1l.3-2.8-3.7-.1zM552.5 983.9l3.2-2-2.9-.5zM552.5 983.9l.3-2.5-4.2-.8zM528.6 982.1l3.2-1.8-3 .3zM528.6 982.1l.2-1.5-1.6 .2zM564.5 984.3l0 0 0 0zM564.5 984.3l0 0 0 0zM522.1 985.6l6.5-3.5-1.4-1.3-4.6 1zM522.1 985.6l.5-3.8-3.9 .7zM534 986.9l6.6-3.8-3.4-2.9-2.3 .1zM534 986.9l.9-6.6-3.1 0-3.2 1.8zM546 987.7l6.5-3.8-3.9-3.3-1.7-.1zM546 987.7l.9-7.2-1.5-.2-4.8 2.8zM558 988.3l6.5-4 0 0-5.8-1.7zM558 988.3l.7-5.7-3-.7-3.2 2zM570.1 988.6l1.1-.9-1-.5zM570.1 988.6l.1-1.4-5.7-2.9 0 0zM515.5 988.7l6.6-3.1-3.4-3.1-2.5 1.5zM515.5 988.7l.7-4.7-3.8 1.9zM527.5 990.3l6.5-3.4-5.4-4.8-6.5 3.5zM539.5 991.5l6.5-3.8-5.4-4.6-6.6 3.8zM551.5 992.2l6.5-3.9-5.5-4.4-6.5 3.8zM563.6 992.6l6.5-4-5.6-4.3-6.5 4zM575.7 992.4l.2-.2-.2-.1zM575.7 992.4l0-.3-4.5-4.4-1.1 .9zM508.9 991.7l6.6-3-3.1-2.8-3.1 2.8zM508.9 991.7l.4-3-1.9 1.6zM520.9 993.4l6.6-3.1-5.4-4.7-6.6 3.1zM533 994.9l6.5-3.4-5.5-4.6-6.5 3.4zM545 996l6.5-3.8-5.5-4.5-6.5 3.8zM557.1 996.6l6.5-4-5.6-4.3-6.5 3.9zM569.2 996.5l6.5-4.1-5.6-3.8-6.5 4zM575.9 992.2l-.2 .2 .4 .2zM502.5 994.5l6.4-2.8-1.5-1.4zM514.3 996.3l6.6-2.9-5.4-4.7-6.6 3zM526.4 998l6.6-3.1-5.5-4.6-6.6 3.1zM538.4 999.5l6.6-3.5-5.5-4.5-6.5 3.4zM550.6 1000.4l6.5-3.8-5.6-4.4-6.5 3.8zM562.7 1000.6l6.5-4.1-5.6-3.9-6.5 4zM574.9 1000l2.3-1.5-1.1-5.9-.4-.2zM574.9 1000l.8-7.6-6.5 4.1zM507.6 999.3l6.7-3-5.4-4.6zM507.6 999.3l1.3-7.6-6.4 2.8-.2 .2zM577.2 998.5l-2.3 1.5 2.6 1.6zM519.7 1000.9l6.7-2.9-5.5-4.6-6.6 2.9zM531.8 1002.5l6.6-3-5.4-4.6-6.6 3.1zM544 1003.9l6.6-3.5-5.6-4.4-6.6 3.5zM556.1 1004.5l6.6-3.9-5.6-4-6.5 3.8zM568.3 1004.2l6.6-4.2-5.7-3.5-6.5 4.1zM500.9 1002.2l6.7-2.9-5.3-4.6-.1 .3zM500.9 1002.2l1.3-7.2-3.2 5.5zM513.1 1003.9l6.6-3-5.4-4.6-6.7 3zM574 1007.6l3.8-2.4-.3-3.6-2.6-1.6zM574 1007.6l.9-7.6-6.6 4.2zM525.2 1005.4l6.6-2.9-5.4-4.5-6.7 2.9zM537.4 1006.9l6.6-3-5.6-4.4-6.6 3zM549.6 1007.9l6.5-3.4-5.5-4.1-6.6 3.5zM561.8 1008.1l6.5-3.9-5.6-3.6-6.6 3.9zM498.9 1003l2-.8-1.9-1.7zM506.4 1006.8l6.7-2.9-5.5-4.6-6.7 2.9zM518.5 1008.4l6.7-3-5.5-4.5-6.6 3zM542.9 1010.9l6.7-3-5.6-4-6.6 3zM567.4 1011.7l6.6-4.1-5.7-3.4-6.5 3.9zM577.8 1005.2l-3.8 2.4 3.4 1.9zM530.7 1009.8l6.7-2.9-5.6-4.4-6.6 2.9zM555.2 1011.6l6.6-3.5-5.7-3.6-6.5 3.4zM499.6 1009.5l6.8-2.7-5.5-4.6zM499.6 1009.5l1.3-7.3-2 .8 .6 6.4zM511.8 1011.4l6.7-3-5.4-4.5-6.7 2.9zM524 1012.8l6.7-3-5.5-4.4-6.7 3zM536.3 1013.8l6.6-2.9-5.5-4-6.7 2.9zM548.5 1014.6l6.7-3-5.6-3.7-6.7 3zM560.8 1015.3l6.6-3.6-5.6-3.6-6.6 3.5zM573.1 1015.1l3.8-2.4 .5-3.2-3.4-1.9zM573.1 1015.1l.9-7.5-6.6 4.1zM499.5 1009.5l.1 0-.1-.1zM529.6 1016.8l6.7-3-5.6-4-6.7 3zM554.2 1018.3l6.6-3-5.6-3.7-6.7 3zM505.1 1014l6.7-2.6-5.4-4.6-6.8 2.7zM517.3 1015.8l6.7-3-5.5-4.4-6.7 3zM541.9 1017.6l6.6-3-5.6-3.7-6.6 2.9zM566.5 1018.8l6.6-3.7-5.7-3.4-6.6 3.6zM576.9 1012.7l-3.8 2.4 3.1 1.7zM501.3 1015.5l3.8-1.5-5.5-4.5 0 .2zM499.6 1009.7l0-.2-.1 0zM522.9 1019.8l6.7-3-5.6-4-6.7 3zM535.2 1020.6l6.7-3-5.6-3.8-6.7 3zM547.5 1021.2l6.7-2.9-5.7-3.7-6.6 3zM559.9 1021.8l6.6-3-5.7-3.5-6.6 3zM510.6 1018.4l6.7-2.6-5.5-4.4-6.7 2.6zM576.2 1016.8l-3.1-1.7-.7 5.9zM572.4 1021l.7-5.9-6.6 3.7 5.1 2.9zM505.6 1020.3l5-1.9-5.5-4.4-.9 4.6zM504.2 1018.6l.9-4.6-3.8 1.5zM516.1 1022.3l6.8-2.5-5.6-4-6.7 2.6zM528.4 1023.5l6.8-2.9-5.6-3.8-6.7 3zM540.8 1024.3l6.7-3.1-5.6-3.6-6.7 3zM553.2 1024.8l6.7-3-5.7-3.5-6.7 2.9zM571.6 1021.7l-5.1-2.9-.6 4.5zM565.9 1023.3l.6-4.5-6.6 3 3.4 2zM513.9 1023.2l2.2-.9-5.5-3.9-.7 3.2zM509.9 1021.6l.7-3.2-5 1.9zM524.3 1025l4.1-1.5-5.5-3.7-.9 4.7zM522 1024.5l.9-4.7-6.8 2.5 2.4 1.6zM535.2 1026.7l5.6-2.4-5.6-3.7-1 6zM534.2 1026.6l1-6-6.8 2.9 4.8 3.1zM550.8 1025.9l2.4-1.1-5.7-3.6-.8 5.2zM546.7 1026.4l.8-5.2-6.7 3.1 3.7 2.3zM563.3 1023.8l-3.4-2-.4 2.8zM559.5 1024.6l.4-2.8-6.7 3 .9 .6zM518.5 1023.9l-2.4-1.6-.2 1.1zM515.9 1023.4l.2-1.1-2.2 .9zM533.2 1026.6l-4.8-3.1-.4 2.1zM528 1025.6l.4-2.1-4.1 1.5zM544.5 1026.6l-3.7-2.3-.4 2.3zM540.4 1026.6l.4-2.3-5.6 2.4zM554.1 1025.4l-.9-.6-.1 .7zM553.1 1025.5l.1-.7-2.4 1.1z" fill="#06603c" stroke="#06603c" stroke-width=".6"/>
<path d="M536.2 969.6l4.9-3.1-4.6 .4zM536.2 969.6l.3-2.7-2.8 .2zM559.9 970.7l.6-.5-.5-.2zM559.9 970.7l.1-.7-1.4-.5zM548 970.6l3.9-2.8-3.5-.5zM548 970.6l.4-3.3-4.9-.9zM517.8 971.7l5.4-3.1-5.2 1.2zM517.8 971.7l.2-1.9-1.6 .4zM529.7 973.4l6.5-3.8-2.5-2.5-3.3 .5zM529.7 973.4l.7-5.8-5.7 .8zM541.6 974.6l6.4-4-4.5-4.2-1 .1zM541.6 974.6l.9-8.1-1.4 0-4.9 3.1zM553.5 975.4l6.4-4.7-1.3-1.2-4.4-1.1zM553.5 975.4l.7-7-2.3-.6-3.9 2.8zM565.4 975.2l2.4-1.9-2.1-.9zM565.4 975.2l.3-2.8-5.2-2.2-.6 .5zM511.3 975.3l6.5-3.6-1.4-1.5-4.6 1.4zM511.3 975.3l.5-3.7-3.2 .8zM523.2 977.1l6.5-3.7-5-5-.4 .1zM523.2 977.1l1.1-8.6-1.1 .1-5.4 3.1zM535.1 978.4l6.5-3.8-5.4-5-6.5 3.8zM547 979.3l6.5-3.9-5.5-4.8-6.4 4zM559 979.9l6.4-4.7-5.5-4.5-6.4 4.7zM571 979.6l3.5-3-3.1-1.6zM571 979.6l.4-4.6-3.6-1.7-2.4 1.9zM504.7 978.5l6.6-3.2-2.7-2.9-3.2 1.5zM504.7 978.5l.7-4.6-3.5 1.5zM545.4 980.3l1.6-1-5.4-4.7-.7 5.7zM540.9 980.3l.7-5.7-6.5 3.8 2.1 1.8zM555.7 981.9l3.3-2-5.5-4.5-.7 6zM552.8 981.4l.7-6-6.5 3.9 1.6 1.3zM516.7 980.7l6.5-3.6-5.4-5.4-6.5 3.6zM531.8 980.3l3.3-1.9-5.4-5-.9 7.2zM528.8 980.6l.9-7.2-6.5 3.7 4 3.7zM564.5 984.3l6.5-4.7-5.6-4.4-.9 9.1zM564.5 984.3l.9-9.1-6.4 4.7 5.5 4.4zM576.5 983.8l4.4-3.6-3.8-2.2zM576.5 983.8l.6-5.8-2.6-1.4-3.5 3zM498.1 981.4l6.6-2.9-2.8-3.1-3.2 1.9zM498.1 981.4l.6-4.1-2.8 1.7zM510.1 983.8l6.6-3.1-5.4-5.4-6.6 3.2zM527.2 980.8l-4-3.7-.6 4.7zM522.6 981.8l.6-4.7-6.5 3.6 2 1.8zM537.2 980.2l-2.1-1.8-.2 1.9zM534.9 980.3l.2-1.9-3.3 1.9zM548.6 980.6l-1.6-1.3-.1 1.2zM546.9 980.5l.1-1.2-1.6 1zM564.5 984.3l-5.5-4.4-.3 2.7zM558.7 982.6l.3-2.7-3.3 2zM571.2 987.7l5.3-3.9-5.5-4.2-.8 7.6zM570.2 987.2l.8-7.6-6.5 4.7zM582.2 987.6l3.5-3-3-2.8zM582.2 987.6l.5-5.8-1.8-1.6-4.4 3.6zM491.5 984.3l6.6-2.9-2.2-2.4-4 2.5zM491.5 984.3l.4-2.8-1.9 1.2zM503.5 986.8l6.6-3-5.4-5.3-6.6 2.9zM518.7 982.5l-2-1.8-.5 3.3zM516.2 984l.5-3.3-6.6 3.1 2.3 2.1zM575.9 992.2l6.3-4.6-5.7-3.8-.8 8.3zM575.7 992.1l.8-8.3-5.3 3.9zM587.8 990.9l1.4-1.2-1.1-1.7zM587.8 990.9l.3-2.9-2.4-3.4-3.5 3zM484.8 987.1l6.7-2.8-1.5-1.6-5.1 3.8zM484.8 987.1l.1-.6-.4 .3zM496.8 989.7l6.7-2.9-5.4-5.4-6.6 2.9zM512.4 985.9l-2.3-2.1-.8 4.9zM509.3 988.7l.8-4.9-6.6 3 3.9 3.5zM581.4 995.8l6.4-4.9-5.6-3.3zM581.4 995.8l.8-8.2-6.3 4.6 .2 .4zM589.2 989.7l-1.4 1.2 3.1 1.6zM484 987.4l.8-.3-.3-.3zM490.2 992.6l6.6-2.9-5.3-5.4-6.7 2.8zM502.2 994.6l.3-.1 4.9-4.2-3.9-3.5zM502.2 994.6l1.3-7.8-6.7 2.9zM577.2 998.5l4.2-2.7-5.3-3.2zM587.1 999l4.8-3.7-1-2.8-3.1-1.6zM587.1 999l.7-8.1-6.4 4.9zM502.5 994.5l-.3 .1 .1 .1zM580.5 1003.4l6.6-4.4-5.7-3.2zM580.5 1003.4l.9-7.6-4.2 2.7 .3 3.1zM483.4 995.1l6.8-2.5-5.4-5.5zM483.4 995.1l1.4-8-.8 .3-3.4 4.7zM495.5 997.5l6.7-2.9-5.4-4.9-6.6 2.9zM592.8 1001.9l.3-.2-.2-1zM592.8 1001.9l.1-1.2-1-5.4-4.8 3.7zM502.3 994.7l-.1-.1 0 .4zM502.2 995l0-.4-6.7 2.9 3.5 3zM577.8 1005.2l2.7-1.8-3-1.8zM586.3 1006.4l6.5-4.5-5.7-2.9-6.6 4.4zM476.7 997.5l6.7-2.4-2.8-3-3.9 5.4zM476.7 997.5l0 0 0 0zM488.8 1000.1l6.7-2.6-5.3-4.9-6.8 2.5zM593.1 1001.7l-.3 .2 .3 .1zM476.6 997.6l.1-.1 0 0zM494.2 1004.8l4.7-1.8 .1-2.5-3.5-3zM494.2 1004.8l1.3-7.3-6.7 2.6zM579.7 1010.9l6.6-4.5-5.8-3zM579.7 1010.9l.8-7.5-2.7 1.8-.4 4.3zM592.1 1009.3l.1-.1 .9-7.2-.3-.1zM592.1 1009.3l.7-7.4-6.5 4.5zM482 1002.6l6.8-2.5-5.4-5-6.7 2.4zM487.4 1007.4l6.8-2.6-5.4-4.7-6.8 2.5zM592.2 1009.2l-.1 .1 .1 .1zM475.2 1005.2l6.8-2.6-5.3-5.1zM475.2 1005.2l1.5-7.7-.1 .1-2.8 6.3zM498.9 1003l-4.7 1.8 5.3 4.6zM576.9 1012.7l2.8-1.8-2.3-1.4zM585.5 1013.9l6.6-4.6-5.8-2.9-6.6 4.5zM480.6 1010.1l6.8-2.7-5.4-4.8-6.8 2.6zM492.8 1012.1l6.7-2.6 0-.1-5.3-4.6zM492.8 1012.1l1.4-7.3-6.8 2.6zM591.3 1016.9l.2-.2 .7-7.3-.1-.1zM591.3 1016.9l.8-7.6-6.6 4.6zM473.1 1005.9l2.1-.7-1.4-1.3zM578.9 1018.3l6.6-4.4-5.8-3zM578.9 1018.3l.8-7.4-2.8 1.8-.7 4.1zM473.7 1012.7l6.9-2.6-5.4-4.9zM473.7 1012.7l1.5-7.5-2.1 .7-.7 5.5zM486 1014.9l6.8-2.8-5.4-4.7-6.8 2.7zM498.3 1016.7l3-1.2-1.7-5.8zM498.3 1016.7l1.3-7-.1-.2-6.7 2.6zM584.7 1021.5l6.6-4.6-5.8-3-6.6 4.4zM591.5 1016.7l-.2 .2 .2 .1zM572.3 1022.1l6.6-3.8-2.7-1.5-3.8 4.2zM572.3 1022.1l.1-1.1-.8 .7zM479.1 1017.6l6.9-2.7-5.4-4.8-6.9 2.6zM491.5 1019.5l6.8-2.8-5.5-4.6-6.8 2.8zM503.8 1021l1.8-.7-1.4-1.7zM503.8 1021l.4-2.4-2.9-3.1-3 1.2zM565.6 1025.2l6.7-3.1-.7-.4-5.7 1.6zM565.6 1025.2l.3-1.9-2.6 .5zM578 1025.3l6.7-3.8-5.8-3.2-6.6 3.8zM591.5 1017l-.2-.1-.5 5.4zM590.8 1022.3l.5-5.4-6.6 4.6 5.7 2.9zM484.6 1022.3l6.9-2.8-5.5-4.6-6.9 2.7zM496.9 1023.9l6.9-2.9-5.5-4.3-6.8 2.8zM509.3 1025l4.6-1.8-4-1.6zM509.3 1025l.6-3.4-4.3-1.3-1.8 .7zM521.7 1026l2.6-1-2.3-.5zM521.7 1026l.3-1.5-3.5-.6zM534.1 1027.2l1.1-.5-1-.1zM534.1 1027.2l.1-.6-1 0zM546.5 1027.9l4.3-2-4.1 .5zM546.5 1027.9l.2-1.5-2.2 .2zM558.9 1028.3l6.7-3.1-2.3-1.4-3.8 .8zM558.9 1028.3l.6-3.7-5.4 .8zM571.4 1028.5l6.6-3.2-5.7-3.2-6.7 3.1zM583.9 1028.5l6.4-3.9 .1-.2-5.7-2.9zM583.9 1028.5l.8-7-6.7 3.8zM490.1 1026.6l6.8-2.7-5.4-4.4-6.9 2.8zM502.4 1027.8l6.9-2.8-5.5-4-6.9 2.9zM514.8 1028.6l6.9-2.6-3.2-2.1-2.6-.5zM514.8 1028.6l1.1-5.2-2-.2-4.6 1.8zM527.3 1029.6l6.8-2.4-.9-.6-5.2-1zM527.3 1029.6l.7-4-3.7-.6-2.6 1zM539.7 1030.8l6.8-2.9-2-1.3-4.1 0zM539.7 1030.8l.7-4.2-5.2 .1-1.1 .5zM552.2 1031.4l6.7-3.1-4.8-2.9-1 .1zM552.2 1031.4l.9-5.9-2.3 .4-4.3 2zM564.7 1031.7l6.7-3.2-5.8-3.3-6.7 3.1zM577.2 1031.7l6.7-3.2-5.9-3.2-6.6 3.2zM590.3 1024.6l-6.4 3.9 2.4 1.2zM495.6 1030.5l6.8-2.7-5.5-3.9-6.8 2.7zM520.4 1032.1l6.9-2.5-5.6-3.6-6.9 2.6zM557.9 1034.8l6.8-3.1-5.8-3.4-6.7 3.1zM586.3 1029.7l-2.4-1.2-.3 2.4zM583.6 1030.9l.3-2.4-6.7 3.2 1.8 1zM508 1031.3l6.8-2.7-5.5-3.6-6.9 2.8zM532.9 1033.2l6.8-2.4-5.6-3.6-6.8 2.4zM545.4 1034.3l6.8-2.9-5.7-3.5-6.8 2.9zM570.5 1034.9l6.7-3.2-5.8-3.2-6.7 3.2zM513.6 1034.7l6.8-2.6-5.6-3.5-6.8 2.7zM568.6 1035.8l1.9-.9-5.8-3.2-.8 5.2zM563.9 1036.9l.8-5.2-6.8 3.1 4.5 2.5zM501.1 1034l6.9-2.7-5.6-3.5-6.8 2.7zM526.2 1035.5l6.7-2.3-5.6-3.6-1.2 5.9zM526.1 1035.5l1.2-5.9-6.9 2.5 5.5 3.4zM538.6 1036.6l6.8-2.3-5.7-3.5-6.8 2.4zM551.2 1037.6l6.7-2.8-5.7-3.4-6.8 2.9zM579 1032.7l-1.8-1-.2 1.7zM577 1033.4l.2-1.7-6.7 3.2 .5 .3zM513.4 1034.8l.2-.1-5.6-3.4-.7 3.2zM507.3 1034.5l.7-3.2-6.9 2.7 1.1 .6zM525.9 1035.5l-5.5-3.4-.5 2.8zM519.9 1034.9l.5-2.8-6.8 2.6 .1 .1zM538 1036.8l.6-.2-5.7-3.4-.5 2.8zM532.4 1036l.5-2.8-6.7 2.3zM550 1038l1.2-.4-5.8-3.3-.6 3zM544.8 1037.3l.6-3-6.8 2.3 .6 .3zM562.4 1037.3l-4.5-2.5-.4 2.8zM557.5 1037.6l.4-2.8-6.7 2.8 1 .6zM571 1035.2l-.5-.3-.1 .4zM570.4 1035.3l.1-.4-1.9 .9zM513.7 1034.8l-.1-.1 0 .1zM513.6 1034.8l0-.1-.2 .1zM539.2 1036.9l-.6-.3 0 .3zM538.6 1036.9l0-.3-.6 .2zM552.2 1038.2l-1-.6-.1 .4zM551.1 1038l.1-.4-1.2 .4z" fill="#0a9632" stroke="#0a9632" stroke-width=".6"/>
<path d="M537.2 960.2l3.8-2.8-3.5 0zM537.2 960.2l.3-2.8-2.8 0zM549 960.8l2.5-2-2.3-.4zM549 960.8l.2-2.4-3.1-.5zM519 962l4.8-2.8-4.6 1.1zM519 962l.2-1.7-1.5 .3zM530.8 964.2l6.4-4-2.5-2.8-3.2 .6zM530.8 964.2l.7-6.2-5.6 .8zM542.6 965.6l6.4-4.8-2.9-2.9-2.7-.3zM542.6 965.6l.8-8-2.4-.2-3.8 2.8zM554.5 965.9l6-5-5.5-1.2zM554.5 965.9l.5-6.2-3.5-.9-2.5 2zM566.3 965.4l1.8-1.6-1.6-.7zM566.3 965.4l.2-2.3-4.9-1.8zM512.5 965.8l6.5-3.8-1.3-1.4-4.7 1.1zM512.5 965.8l.5-4.1-3.4 .7zM524.3 968l6.5-3.8-4.9-5.4-.6 .1zM524.3 968l1-9.1-1.5 .3-4.8 2.8zM541.1 966.5l1.5-.9-5.4-5.4-.7 6.7zM536.5 966.9l.7-6.7-6.4 4 2.9 2.9zM560.5 970.2l5.8-4.8-4.7-4.1-.8-.3-.8 9zM560 970l.8-9-.3-.1-6 5 4.1 3.6zM571.8 969.9l3.1-2.9-2.7-1.3zM571.8 969.9l.4-4.2-4.1-1.9-1.8 1.6zM551.9 967.8l2.6-1.9-5.5-5.1-.6 6.5zM548.4 967.3l.6-6.5-6.4 4.8 .9 .8zM506 969.4l6.5-3.6-2.9-3.4-2.9 .9zM506 969.4l.7-6.1-5.1 1.2zM523.2 968.6l1.1-.6-5.3-6-1 7.8zM518 969.8l1-7.8-6.5 3.8 3.9 4.4zM533.7 967.1l-2.9-2.9-.4 3.4zM530.4 967.6l.4-3.4-6.5 3.8 .4 .4zM543.5 966.4l-.9-.8-.1 .9zM542.5 966.5l.1-.9-1.5 .9zM558.6 969.5l-4.1-3.6-.3 2.5zM554.2 968.4l.3-2.5-2.6 1.9zM567.8 973.3l4-3.4-5.5-4.5-.6 7zM565.7 972.4l.6-7-5.8 4.8zM577.4 974.2l3.9-3.7-3.4-1.9zM577.4 974.2l.5-5.6-3-1.6-3.1 2.9zM499.4 972.7l6.6-3.3-4.4-4.9-1.2 .5zM499.4 972.7l1-7.7-5.8 2.3zM516.4 970.2l-3.9-4.4-.7 5.8zM511.8 971.6l.7-5.8-6.5 3.6 2.6 3zM524.7 968.4l-.4-.4 0 .5zM524.3 968.5l0-.5-1.1 .6zM574.5 976.6l2.9-2.4-5.6-4.3-.4 5.1zM571.4 975l.4-5.1-4 3.4zM583 978.4l4.4-4.1-3.9-2.5zM583 978.4l.5-6.6-2.2-1.3-3.9 3.7zM492.8 975.6l6.6-2.9-4.8-5.4-.7 .4zM492.8 975.6l1.1-7.9-5.4 3zM508.6 972.4l-2.6-3-.6 4.5zM505.4 973.9l.6-4.5-6.6 3.3 2.5 2.7zM588.6 982.1l3.7-3.5-3.2-2.8zM588.6 982.1l.5-6.3-1.7-1.5-4.4 4.1zM580.9 980.2l2.1-1.8-5.6-4.2-.3 3.8zM577.1 978l.3-3.8-2.9 2.4zM486.2 978.5l6.6-2.9-4.3-4.9-1.3 .8zM486.2 978.5l1-7-4.6 2.9zM501.9 975.4l-2.5-2.7-.7 4.6zM498.7 977.3l.7-4.6-6.6 2.9 3.1 3.4zM585.7 984.6l2.9-2.5-5.6-3.7-.3 3.4zM582.7 981.8l.3-3.4-2.1 1.8zM594.3 985.4l1.9-2-1.6-2zM594.3 985.4l.3-4-2.3-2.8-3.7 3.5zM479.5 981.2l6.7-2.7-3.6-4.1-2.3 1.7zM479.5 981.2l.8-5.1-3.1 2.4zM495.9 979l-3.1-3.4-.9 5.9zM491.9 981.5l.9-5.9-6.6 2.9 3.8 4.2zM589.2 989.7l5.1-4.3-5.7-3.3-.5 5.9zM588.1 988l.5-5.9-2.9 2.5zM596.2 983.4l-1.9 2 5.4 2.8zM472.8 983.5l6.7-2.3-2.3-2.7-4.4 4.8zM472.8 983.5l0-.2-.1 .1zM490 982.7l-3.8-4.2-1.3 8zM484.9 986.5l1.3-8-6.7 2.7 5 5.6zM593.6 994l6.3-5.5-.2-.3-5.4-2.8zM593.6 994l.7-8.6-5.1 4.3 1.7 2.8zM472.6 983.5l.2 0-.1-.1zM478.1 989.5l5.9-2.1 .5-.6-5-5.6zM478.1 989.5l1.4-8.3-6.7 2.3zM591.9 995.3l1.7-1.3-2.7-1.5zM599.3 996.8l2.6-2.3-1.9-5.7zM599.3 996.8l.7-8-.1-.3-6.3 5.5zM471.3 991.8l6.8-2.3-5.3-6zM471.3 991.8l1.5-8.3-.2 0-4 5.1zM484 987.4l-5.9 2.1 2.5 2.6zM593.1 1001.7l6.2-4.9-5.7-2.8-.7 6.7zM592.9 1000.7l.7-6.7-1.7 1.3zM601.9 994.5l-2.6 2.3 3.7 1.5zM464.5 994l6.8-2.2-2.7-3.2-4 4.7zM464.5 994l.1-.7-.3 .4zM480.6 992.1l-2.5-2.6-1.4 8zM476.7 997.5l1.4-8-6.8 2.3 5.4 5.7zM598.6 1004.6l4.6-3.8-.2-2.5-3.7-1.5zM598.6 1004.6l.7-7.8-6.2 4.9 0 .3zM464 994.2l.5-.2-.2-.3zM469.9 1000l6.7-2.4 .1-.1-5.4-5.7zM469.9 1000l1.4-8.2-6.8 2.2zM592.2 1009.2l6.4-4.6-5.5-2.6zM603.2 1000.8l-4.6 3.8 5.2 2.3zM597.9 1012.1l5.8-4.4 .1-.8-5.2-2.3zM597.9 1012.1l.7-7.5-6.4 4.6 0 .2zM463 1002.1l6.9-2.1-5.4-6zM463 1002.1l1.5-8.1-.5 .2-3.1 5.5zM476.6 997.6l-6.7 2.4 3.9 3.9zM591.5 1016.7l6.4-4.6-5.7-2.7zM603.7 1007.7l-5.8 4.4 5.1 2.2zM468.4 1007.6l4.7-1.7 .7-2-3.9-3.9zM468.4 1007.6l1.5-7.6-6.9 2.1zM473.1 1005.9l-4.7 1.7 4 3.8zM597.2 1019.7l5.7-4.4 .1-1-5.1-2.2zM597.2 1019.7l.7-7.6-6.4 4.6 0 .3zM590.5 1024.5l6.7-4.8-5.7-2.7-.7 5.3zM590.5 1024.5l.3-2.2-.4 2.1zM602.9 1015.3l-5.7 4.4 5.4 2.4zM590.3 1024.6l.2-.1-.1-.1zM596.4 1027.4l6.1-4.6 .1-.7-5.4-2.4zM596.4 1027.4l.8-7.7-6.7 4.8zM589.8 1031.5l6.6-4.1-5.9-2.9zM589.8 1031.5l.7-7-.2 .1-4 5.1zM583.1 1034.9l6.7-3.4-3.5-1.8-2.7 1.2zM583.1 1034.9l.5-4-4.6 1.8zM563.7 1038l4.9-2.2-4.7 1.1zM563.7 1038l.2-1.1-1.5 .4zM526.1 1035.6l.1-.1-.1 0zM526.1 1035.6l0-.1-.2 0zM576.4 1038.1l6.7-3.2-4.1-2.2-2 .7zM576.4 1038.1l.6-4.7-6 1.8zM506.7 1037.3l6.7-2.5-6.1-.3zM506.7 1037.3l.6-2.8-5.1 .1zM519.2 1038.1l6.9-2.5-.2-.1-6-.6zM519.2 1038.1l.7-3.2-6.2-.1zM531.8 1038.9l6.2-2.1-5.6-.8zM531.8 1038.9l.6-2.9-6.2-.5-.1 .1zM544.4 1039.8l5.6-1.8-5.2-.7zM544.4 1039.8l.4-2.5-5.6-.4zM557 1040.8l6.7-2.8-1.3-.7-4.9 .3zM557 1040.8l.5-3.2-5.3 .6zM569.6 1041.2l6.8-3.1-5.4-2.9-.6 .1zM569.6 1041.2l.8-5.9-1.8 .5-4.9 2.2zM512.3 1040.6l6.9-2.5-5.5-3.3-.1 0zM512.3 1040.6l1.3-5.8-.2 0-6.7 2.5zM524.9 1041.3l6.9-2.4-5.7-3.3-6.9 2.5zM537.5 1042l6.9-2.2-5.2-2.9-.6 0zM537.5 1042l1.1-5.1-.6-.1-6.2 2.1zM550.1 1043l6.9-2.2-4.8-2.6-1.1-.2zM550.1 1043l1-5-1.1 0-5.6 1.8zM562.8 1044l6.8-2.8-5.9-3.2-6.7 2.8zM521.1 1042.5l3.8-1.2-5.7-3.2-1 4.2zM518.2 1042.3l1-4.2-6.9 2.5 3.4 1.8zM535 1042.7l2.5-.7-5.7-3.1-.8 3.5zM531 1042.4l.8-3.5-6.9 2.4 2.5 1.2zM547.7 1043.6l2.4-.6-5.7-3.2-.7 3.3zM543.7 1043.1l.7-3.3-6.9 2.2 1.8 .9zM559.9 1044.8l2.9-.8-5.8-3.2-.7 3.6zM556.3 1044.4l.7-3.6-6.9 2.2 2.3 1.1zM527.4 1042.5l-2.5-1.2-.3 1.1zM524.6 1042.4l.3-1.1-3.8 1.2zM539.3 1042.9l-1.8-.9-.2 .7zM537.3 1042.7l.2-.7-2.5 .7zM552.4 1044.1l-2.3-1.1-.1 .8zM550 1043.8l.1-.8-2.4 .6z" fill="#0ccb0c" stroke="#0ccb0c" stroke-width=".6"/>
<path d="M538.2 949.4l2.9-2.4-2.6-.1zM538.2 949.4l.3-2.5-2.4-.1zM550 950.1l2.4-2.2-2.2-.2zM550 950.1l.2-2.4-2.6-.3zM526.5 947.9l1.2-.9-1.1 .1zM526.5 947.9l.1-.8-.7 .1zM520.1 952l6.4-4.1-.6-.7-5.5 1.2zM520.1 952l.3-3.6-2.6 .5zM531.9 954.2l6.3-4.8-2.1-2.6-3.6 .2zM531.9 954.2l.6-7.2-4.8 0-1.2 .9zM543.6 955.4l6.4-5.3-2.4-2.7-3.3-.2zM543.6 955.4l.7-8.2-3.2-.2-2.9 2.4zM555.4 955.5l6.2-5.6-5.6-1.2zM555.4 955.5l.6-6.8-3.6-.8-2.4 2.2zM567.2 954.9l2.4-2.3-2.1-.7zM567.2 954.9l.3-3-5.4-1.8zM525.4 958.2l6.5-4-5.4-6.3-6.4 4.1zM572.7 959.6l4-4-3.5-1.5zM572.7 959.6l.5-5.5-3.6-1.5-2.4 2.3zM513.6 955.9l6.5-3.9-2.3-3.1-3.5 1zM513.6 955.9l.7-6-4.4 1.1zM541 957.4l2.6-2-5.4-6-.7 8zM537.5 957.4l.7-8-6.3 4.8 2.8 3.2zM551.5 958.8l3.9-3.3-5.4-5.4-.8 8.3zM549.2 958.4l.8-8.3-6.4 5.3 2.5 2.5zM560.9 960.6l6.3-5.7-5.1-4.8-.3-.1zM560.9 960.6l.9-10.6-.2-.1-6.2 5.6zM495.3 956.4l4.6-2.6-4.5 1.8zM495.3 956.4l.1-.8-.3 .2zM507.1 959.7l6.5-3.8-3.7-4.9-1.9 .5zM507.1 959.7l.9-8.2-5.8 1.6zM523.8 959.2l1.6-1-5.3-6.2-.9 8.3zM519.2 960.3l.9-8.3-6.5 3.9 4.1 4.7zM534.7 957.4l-2.8-3.2-.4 3.8zM531.5 958l.4-3.8-6.5 4 .5 .6zM546.1 957.9l-2.5-2.5-.2 2.2zM543.4 957.6l.2-2.2-2.6 2zM560.5 960.9l.4-.3-5.5-5.1-.4 4.2zM555 959.7l.4-4.2-3.9 3.3zM568.1 963.8l4.6-4.2-5.5-4.7-.7 8.2zM566.5 963.1l.7-8.2-6.3 5.7 .7 .7zM578.3 964l4.8-5-4.3-2.3zM578.3 964l.5-7.3-2.1-1.1-4 4zM517.7 960.6l-4.1-4.7-.6 5.8zM513 961.7l.6-5.8-6.5 3.8 2.5 2.7zM525.9 958.8l-.5-.6-.1 .7zM525.3 958.9l.1-.7-1.6 1zM561.6 961.3l-.7-.7-.1 .4zM560.8 961l.1-.4-.4 .3zM574.9 967l3.4-3-5.6-4.4-.5 6.1zM572.2 965.7l.5-6.1-4.6 4.2zM583.8 968.2l5.4-5.5-4.7-2.9zM583.8 968.2l.7-8.4-1.4-.8-4.8 5zM488.8 959.7l6.5-3.3-.2-.6-6.3 2.8zM488.8 959.7l0-1.1-.4 .2zM500.6 963.4l6.5-3.7-4.9-6.6-.4 .1zM500.6 963.4l1.2-10.2-1.9 .6-4.6 2.6zM482.2 962.6l6.6-2.9-.4-.9-6.2 3zM482.2 962.6l0-.8-.2 .1zM494.1 966.7l6.5-3.3-5.3-7-6.5 3.3zM509.6 962.4l-2.5-2.7-.4 3.6zM506.7 963.3l.4-3.6-6.5 3.7 1 1.1zM581.3 970.5l2.5-2.3-5.5-4.2-.4 4.6zM577.9 968.6l.4-4.6-3.4 3zM589.4 972.3l5.6-5.8-4.9-3.2zM589.4 972.3l.7-9-.9-.6-5.4 5.5zM475.5 965.3l6.7-2.7-.2-.7-6.4 3.2zM475.5 965.3l.1-.2-.1 0zM501.6 964.5l-1-1.1-.2 1.6zM500.4 965l.2-1.6-6.5 3.3 .5 .6zM587.4 974.3l2-2-5.6-4.1-.3 3.6zM583.5 971.8l.3-3.6-2.5 2.3zM595.1 975.9l4.7-5.1-4.1-3.7zM595.1 975.9l.6-8.8-.7-.6-5.6 5.8zM487.5 969.6l6.6-2.9-5.3-7-6.6 2.9zM494.6 967.3l-.5-.6-.2 1zM493.9 967.7l.2-1-6.6 2.9 1 1.1zM592.3 978.6l2.8-2.7-5.7-3.6-.3 3.5zM589.1 975.8l.3-3.5-2 2zM600.8 978.9l3.1-3.3-2.6-3.1zM600.8 978.9l.5-6.4-1.5-1.7-4.7 5.1zM474.3 965.8l1.2-.5 0-.2zM480.9 972.5l6.6-2.9-5.3-7-6.7 2.7zM474.2 975.1l6.7-2.6-5.4-7.2zM474.2 975.1l1.3-9.8-1.2 .5-4.6 3.1zM488.5 970.7l-1-1.1-.3 1.9zM487.2 971.5l.3-1.9-6.6 2.9 1.7 1.9zM596.2 983.4l4.6-4.5-5.7-3-.5 5.5zM594.6 981.4l.5-5.5-2.8 2.7zM606.5 981.8l1.1-1.2-.9-1.3zM606.5 981.8l.2-2.5-2.8-3.7-3.1 3.3zM467.5 977.3l6.7-2.2-4.5-6.2-1.1 .9zM467.5 977.3l1.1-7.5-4 3.5zM482.6 974.4l-1.7-1.9-.6 3.6zM480.3 976.1l.6-3.6-6.7 2.6 3 3.4zM600 988.4l6.5-6.6-5.7-2.9zM600 988.4l.8-9.5-4.6 4.5 3.5 4.8zM607.6 980.6l-1.1 1.2 2.4 1zM460.7 979.2l6.8-1.9-2.9-4-3.5 3.2zM460.7 979.2l.4-2.7-1.4 1.3zM477.2 978.5l-3-3.4-1.4 8.2zM472.8 983.3l1.4-8.2-6.7 2.2 5.2 6.1zM599.9 988.5l.1-.1-.3-.2zM605.8 991l4.7-5-1.6-3.2-2.4-1zM605.8 991l.7-9.2-6.5 6.6zM457.6 980l3.1-.8-1-1.4zM466 985.6l6.6-2.1 .1-.1-5.2-6.1zM466 985.6l1.5-8.3-6.8 1.9zM601.9 994.5l3.9-3.5-5.8-2.6 0 .4zM600 988.8l0-.4-.1 .1zM611.7 993.3l1.4-1.6-1.1-2.6zM611.7 993.3l.3-4.2-1.5-3.1-4.7 5zM459.2 987.5l6.8-1.9-5.3-6.4zM459.2 987.5l1.5-8.3-3.1 .8-2.1 3zM472.6 983.5l-6.6 2.1 2.6 3zM605.1 999.3l6.6-6-5.9-2.3zM605.1 999.3l.7-8.3-3.9 3.5 1.1 3.8zM613.1 991.7l-1.4 1.6 2.6 1zM452.3 989.1l6.9-1.6-3.7-4.5-3 5.3zM452.3 989.1l.2-.8-.3 .6zM468.6 988.6l-2.6-3-1.4 7.7zM464.6 993.3l1.4-7.7-6.8 1.9 5.1 6.2zM603.2 1000.8l1.9-1.5-2.1-1zM611 1001.6l4.1-3.8-.8-3.5-2.6-1zM611 1001.6l.7-8.3-6.6 6zM457.7 995.9l6.3-1.7 .3-.5-5.1-6.2zM457.7 995.9l1.5-8.4-6.9 1.6zM615.1 997.8l-4.1 3.8 5.3 2zM604.5 1007.1l6.5-5.5-5.9-2.3zM604.5 1007.1l.6-7.8-1.9 1.5 .6 6.1zM603.7 1007.7l.8-.6-.7-.2zM464 994.2l-6.3 1.7 3.2 3.8zM610.4 1009.5l6-5.2-.1-.7-5.3-2zM610.4 1009.5l.6-7.9-6.5 5.5zM603.8 1014.7l6.6-5.2-5.9-2.4zM603.8 1014.7l.7-7.6-.8 .6-.7 6.6zM616.3 1011.7l.4-.4-.1-3.1zM616.3 1011.7l.3-3.5-.2-3.9-6 5.2zM602.9 1015.3l.9-.6-.8-.4zM609.7 1017.1l6.6-5.4-5.9-2.2-6.6 5.2zM603.1 1022.4l6.6-5.3-5.9-2.4zM603.1 1022.4l.7-7.7-.9 .6-.3 6.8zM602.5 1022.8l.6-.4-.5-.3zM517.9 1043.5l3.2-1-2.9-.2zM517.9 1043.5l.3-1.2-2.5 .1zM530.6 1044.2l4.4-1.5-4-.3zM530.6 1044.2l.4-1.8-3.6 .1zM543.3 1044.9l4.4-1.3-4-.5zM543.3 1044.9l.4-1.8-4.4-.2zM556 1046l3.9-1.2-3.6-.4zM556 1046l.3-1.6-3.9-.3zM523.6 1046.2l7-2-3.2-1.7-2.8-.1zM523.6 1046.2l1-3.8-3.5 .1-3.2 1zM536.4 1046.8l6.9-1.9-4-2-2-.2zM536.4 1046.8l.9-4.1-2.3 0-4.4 1.5zM549.1 1047.7l6.9-1.7-3.6-1.9-2.4-.3zM549.1 1047.7l.9-3.9-2.3-.2-4.4 1.3zM530 1048.4l6.4-1.6-5.8-2.6-1.2 4.2zM529.4 1048.4l1.2-4.2-7 2 5.4 2.2zM543.2 1049.1l5.9-1.4-5.8-2.8-1 4.1zM542.3 1049l1-4.1-6.9 1.9 4.9 2.2zM541.3 1049l-4.9-2.2-.5 1.6zM535.9 1048.4l.5-1.6-6.4 1.6z" fill="#00ff00" stroke="#00ff00" stroke-width=".6"/>
<path d="M551 938.4l1.6-1.5-1.5-.2zM551 938.4l.1-1.7-1.7-.1zM539.3 937.6l1.7-1.5-1.6 0zM539.3 937.6l.1-1.5-1.3 0zM521.2 940.9l5.9-4.5-5.7 1.4zM521.2 940.9l.2-3.1-1.4 .5zM532.9 943l6.4-5.4-1.2-1.5-4.6 .1zM532.9 943l.6-6.8-5.7 .1zM544.6 944.1l6.4-5.7-1.6-1.8-4.1-.3zM544.6 944.1l.7-7.8-4.3-.2-1.7 1.5zM556.4 944.5l6.2-6-5.7-1zM556.4 944.5l.5-7-4.3-.6-1.6 1.5zM568.1 943.6l2.2-2.5-1.9-.7zM568.1 943.6l.3-3.2-5.5-1.9zM514.8 945l6.4-4.1-1.2-2.6-4.9 1.7zM514.8 945l.3-5-2.2 .9zM541.1 947l3.5-2.9-5.3-6.5-.8 9.3zM538.5 946.9l.8-9.3-6.4 5.4 3.2 3.8zM552.4 947.9l4-3.4-5.4-6.1-.8 9.3zM550.2 947.7l.8-9.3-6.4 5.7 3 3.3zM561.8 949.8l6.3-6.2-5.2-5.1-.2 0zM561.8 949.8l.9-11.3-.1 0-6.2 6zM527.7 947l5.2-4-5.1-6.7-.3 .1-.9 10.7zM526.6 947.1l.9-10.7-.4 0-5.9 4.5 4.7 6.3zM573.6 948.6l3.9-4.5-3.5-1.5zM573.6 948.6l.4-6-3.7-1.5-2.2 2.5zM508.3 948.9l6.5-3.9-1.9-4.1-4.2 1.5zM508.3 948.9l.4-6.5-2.6 1.2zM525.9 947.2l-4.7-6.3-.8 7.5zM520.4 948.4l.8-7.5-6.4 4.1 3 3.9zM536.1 946.8l-3.2-3.8-.4 4zM532.5 947l.4-4-5.2 4zM547.6 947.4l-3-3.3-.3 3.1zM544.3 947.2l.3-3.1-3.5 2.9zM561.6 949.9l.2-.1-5.4-5.3-.4 4.2zM556 948.7l.4-4.2-4 3.4zM569.6 952.6l4-4-5.5-5-.6 8.3zM567.5 951.9l.6-8.3-6.3 6.2 .3 .3zM579.1 953.2l5-5.8-4.4-2.2zM579.1 953.2l.6-8-2.2-1.1-3.9 4.5zM576.7 955.6l2.4-2.4-5.5-4.6-.4 5.5zM573.2 954.1l.4-5.5-4 4zM501.8 952.7l6.5-3.8-2.2-5.3-3.8 1.5zM501.8 952.7l.5-7.6-3 1.3zM517.8 948.9l-3-3.9-.5 4.9zM514.3 949.9l.5-4.9-6.5 3.9 1.6 2.1zM562.1 950.1l-.3-.3 0 .2zM561.8 950l0-.2-.2 .1zM584.7 957.5l5.4-6.5-4.8-2.9zM584.7 957.5l.6-9.4-1.2-.7-5 5.8zM499.9 953.8l1.9-1.1-2.5-6.3-3.4 1.4-.5 7.8zM495.4 955.6l.5-7.8-3.3 1.5 2.5 6.5zM509.9 951l-1.6-2.1-.3 2.6zM508 951.5l.3-2.6-6.5 3.8 .4 .4zM583.1 959l1.6-1.5-5.6-4.3-.3 3.5zM578.8 956.7l.3-3.5-2.4 2.4zM590.2 961.6l5.7-6.9-5-3.2zM590.2 961.6l.7-10.1-.8-.5-5.4 6.5zM589.2 962.7l1-1.1-5.5-4.1-.2 2.3zM584.5 959.8l.2-2.3-1.6 1.5zM495.1 955.8l-2.5-6.5-3.3 1.5-.5 7.8zM488.8 958.6l.5-7.8-3.2 1.6 2.3 6.4zM502.2 953.1l-.4-.4 0 .5zM501.8 953.2l0-.5-1.9 1.1zM595.9 965.6l5.6-7-4.9-3.5zM595.9 965.6l.7-10.5-.7-.4-5.7 6.9zM488.4 958.8l-2.3-6.4-3.4 1.7-.5 7.7zM482.2 961.8l.5-7.7-2.9 1.6 2.2 6.2zM595 966.5l.9-.9-5.7-4-.1 1.7zM590.1 963.3l.1-1.7-1 1.1zM601.5 969l5-6.2-4.3-3.7zM601.5 969l.7-9.9-.7-.5-5.6 7zM482 961.9l-2.2-6.2-3.8 1.8-.4 7.6zM475.6 965.1l.4-7.6-2.6 1.5 2.1 6.1zM599.8 970.8l1.7-1.8-5.6-3.4-.2 1.5zM595.7 967.1l.2-1.5-.9 .9zM607.2 972l3.6-4.6-3-3.2zM607.2 972l.6-7.8-1.3-1.4-5 6.2zM603.9 975.6l3.3-3.6-5.7-3-.2 3.5zM601.3 972.5l.2-3.5-1.7 1.8zM468.9 967.8l5.4-2 1.2-.7-2.1-6.1-4.1 2.1zM468.9 967.8l.4-6.7-2.2 1.2zM613 974.6l1.9-2.4-1.6-1.9zM613 974.6l.3-4.3-2.5-2.9-3.6 4.6zM462.1 969.8l6.8-2-1.8-5.5-4.7 2.6zM462.1 969.8l.3-4.9-1.5 .9zM474.3 965.8l-5.4 2 .8 1.1zM607.6 980.6l5.4-6-5.8-2.6-.5 7.3zM606.7 979.3l.5-7.3-3.3 3.6zM614.9 972.2l-1.9 2.4 4.8 1.8zM455.4 971.4l6.7-1.6-1.2-4-5.4 3.1zM455.4 971.4l.1-2.5-.7 .5zM469.7 968.9l-.8-1.1-.3 2zM468.6 969.8l.3-2-6.8 2 2.5 3.5zM612.3 984.2l6-6.8-.5-1-4.8-1.8zM612.3 984.2l.7-9.6-5.4 6 1.3 2.2zM449.3 972.6l6.1-1.2-.6-2zM464.6 973.3l-2.5-3.5-1 6.7zM461.1 976.5l1-6.7-6.7 1.6 4.3 6.4zM610.5 986l1.8-1.8-3.4-1.4zM618.2 986.3l2.9-3.4-2.3-4.7zM618.2 986.3l.6-8.1-.5-.8-6 6.8zM453.9 980.9l3.7-.9 2.1-2.2-4.3-6.4zM453.9 980.9l1.5-9.5-6.1 1.2-.5 .6zM613.1 991.7l5.1-5.4-5.9-2.1-.3 4.9zM612 989.1l.3-4.9-1.8 1.8zM621.1 982.9l-2.9 3.4 5.4 1.7zM457.6 980l-3.7 .9 1.6 2.1zM447 982.1l6.9-1.2-5.1-7.7-.4 .5zM447 982.1l1.4-8.4-3.6 4.8zM617.6 995.5l6.2-6.9-.2-.6-5.4-1.7zM617.6 995.5l.6-9.2-5.1 5.4 1.2 2.6zM455.5 983l-1.6-2.1-1.4 7.4zM452.5 988.3l1.4-7.4-6.9 1.2 5.2 6.8zM623.5 997.4l2.6-2.9-2-5.3zM623.5 997.4l.6-8.2-.3-.6-6.2 6.9zM615.1 997.8l2.5-2.3-3.3-1.2zM616.9 1003.8l6.6-6.4-5.9-1.9zM616.9 1003.8l.7-8.3-2.5 2.3 1.2 5.8zM626.1 994.5l-2.6 2.9 4.2 1.3zM616.4 1004.3l.5-.5-.6-.2zM622.9 1005.8l5.1-5.1-.3-2-4.2-1.3zM622.9 1005.8l.6-8.4-6.6 6.4zM616.7 1011.3l6.2-5.5-6-2-.3 4.4zM616.6 1008.2l.3-4.4-.5 .5zM529.4 1048.6l.6-.2-.6 0zM529.4 1048.6l0-.2-.4 0zM542.2 1049.4l1-.3-.9-.1zM542.2 1049.4l.1-.4-1 0zM535.2 1050.7l7-1.3-.9-.4-5.4-.6zM535.2 1050.7l.7-2.3-5.9 0-.6 .2z" fill="#bfff00" stroke="#bfff00" stroke-width=".6"/>
<path d="M540.3 925.1l1.6-1.5-1.5 .1zM540.3 925.1l.1-1.4-.8 .2zM551.9 926l1.6-1.6-1.4-.2zM551.9 926l.2-1.8-1.8-.2zM533.9 930.6l6.4-5.5-.7-1.2-5.3 .8zM533.9 930.6l.4-5.9-3.1 .7zM545.6 932l6.3-6-1.6-2-4.1-.2zM545.6 932l.6-8.2-4.3-.2-1.6 1.5zM557.3 932.4l5.7-6.3-5.2-1zM557.3 932.4l.5-7.3-4.3-.7-1.6 1.6zM569.1 931.2l1.5-2.4-1.4-.6zM569.1 931.2l.1-3-4.5-1.7zM552.6 936.9l4.7-4.5-5.4-6.4-.8 10.7zM551.1 936.7l.8-10.7-6.3 6 3.8 4.6zM527.6 936l6.3-5.4-2.7-5.2-3 .6zM527.6 936l.6-10-4.9 1.3zM541 936.1l4.6-4.1-5.3-6.9-.9 11zM539.4 936.1l.9-11-6.4 5.5 4.2 5.5zM562.7 938.4l6.4-7.2-4.4-4.7-1.1-.3zM562.7 938.4l.9-12.2-.6-.1-5.7 6.3zM574.5 936.3l2.6-4.3-2.3-1.2zM574.5 936.3l.3-5.5-4.2-2-1.5 2.4zM527.1 936.4l.5-.4-4.3-8.7-1.2 .3-.7 10.2zM521.4 937.8l.7-10.2-6.2 1.9 4.1 8.8zM538.1 936.1l-4.2-5.5-.4 5.6zM533.5 936.2l.4-5.6-6.3 5.4 .2 .3zM549.4 936.6l-3.8-4.6-.3 4.3zM545.3 936.3l.3-4.3-4.6 4.1zM562.6 938.5l.1-.1-5.4-6-.4 5.1zM556.9 937.5l.4-5.1-4.7 4.5zM570.3 941.1l4.2-4.8-5.4-5.1-.7 9.2zM568.4 940.4l.7-9.2-6.4 7.2 .2 .1zM580 941.2l3.3-5.8-2.9-1.7zM580 941.2l.4-7.5-3.3-1.7-2.6 4.3zM520 938.3l-4.1-8.8-.1 0-.7 10.5zM515.1 940l.7-10.5-1.1 .5-5.3 2.8 3.5 8.1zM562.9 938.5l-.2-.1 0 .1zM562.7 938.5l0-.1-.1 .1zM585.5 945.7l3.6-6.7-3.1-2zM585.5 945.7l.5-8.7-2.7-1.6-3.3 5.8zM527.8 936.3l-.2-.3-.1 .4zM527.5 936.4l.1-.4-.5 .4zM577.5 944.1l2.5-2.9-5.5-4.9-.5 6.3zM574 942.6l.5-6.3-4.2 4.8zM512.9 940.9l-3.5-8.1-.7 9.6zM508.7 942.4l.7-9.6-6.5 3.2 3.2 7.6zM584.1 947.4l1.4-1.7-5.5-4.5-.3 4zM579.7 945.2l.3-4-2.5 2.9zM591.1 949.8l3.6-7-3.1-2.2zM591.1 949.8l.5-9.2-2.5-1.6-3.6 6.7zM506.1 943.6l-3.2-7.6-.6 9.1zM502.3 945.1l.6-9.1-6.5 3.1 2.9 7.3zM590.1 951l1-1.2-5.6-4.1-.2 2.4zM585.3 948.1l.2-2.4-1.4 1.7zM596.6 953.8l3.7-7.2-3.1-2.2zM596.6 953.8l.6-9.4-2.5-1.6-3.6 7zM499.3 946.4l-2.9-7.3-.5 8.7zM495.9 947.8l.5-8.7-6.5 3 2.7 7.2zM595.9 954.7l.7-.9-5.5-4-.2 1.7zM590.9 951.5l.2-1.7-1 1.2zM602.3 957.6l3.4-7-2.9-2.2zM602.3 957.6l.5-9.2-2.5-1.8-3.7 7.2zM492.6 949.3l-2.7-7.2-.6 8.7zM489.3 950.8l.6-8.7-6.6 2.6 2.8 7.7zM601.5 958.6l.8-1-5.7-3.8 0 1.3zM596.6 955.1l0-1.3-.7 .9zM608 960.9l2.9-6.2-2.5-2.1zM608 960.9l.4-8.3-2.7-2-3.4 7zM486.1 952.4l-2.8-7.7-.6 9.4zM482.7 954.1l.6-9.4-1.8 .6-4.5 2.4 2.8 8zM606.5 962.8l1.5-1.9-5.7-3.3-.1 1.5zM602.2 959.1l.1-1.5-.8 1zM613.7 963.7l2.2-4.8-1.8-1.6zM613.7 963.7l.4-6.4-3.2-2.6-2.9 6.2zM479.8 955.7l-2.8-8-.4 .2-.6 9.6zM476 957.5l.6-9.6-5.8 3.2 2.6 7.9zM619.5 966.1l1.3-2.8-1.1-1zM619.5 966.1l.2-3.8-3.8-3.4-2.2 4.8zM610.8 967.4l2.9-3.7-5.7-2.8-.2 3.3zM607.8 964.2l.2-3.3-1.5 1.9zM473.4 959l-2.6-7.9-1 .5-.5 9.5zM469.3 961.1l.5-9.5-5.2 3 2.5 7.7zM614.9 972.2l4.6-6.1-5.8-2.4-.4 6.6zM613.3 970.3l.4-6.6-2.9 3.7zM625.4 968.1l.1-.4-.1-.1zM625.4 968.1l0-.5-4.6-4.3-1.3 2.8zM467.1 962.3l-2.5-7.7-1.6 .9-.6 9.4zM462.4 964.9l.6-9.4-4.4 2.6 2.3 7.7zM618.9 976.8l6.5-8.7-5.9-2zM618.9 976.8l.6-10.7-4.6 6.1 2.9 4.2zM625.5 967.7l-.1 .4 .7 .2zM460.9 965.8l-2.3-7.7-2.6 1.5-.5 9.3zM455.5 968.9l.5-9.3-3.5 2.2 2.3 7.6zM618.3 977.4l.6-.6-1.1-.4zM624.7 978.7l4.3-5.8-2.9-4.6-.7-.2zM624.7 978.7l.7-10.6-6.5 8.7zM448.5 972.7l.8-.1 5.5-3.2-2.3-7.6-3.5 2zM448.5 972.7l.5-8.9-2.5 1.7zM621.1 982.9l3.6-4.2-5.8-1.9-.1 1.4zM618.8 978.2l.1-1.4-.6 .6zM630.7 980.4l1.5-2.2-1.3-2.1zM630.7 980.4l.2-4.3-1.9-3.2-4.3 5.8zM441.6 973.4l6.9-.7-2-7.2-4.6 2.8zM441.6 973.4l.3-5.1-1.4 1zM449.3 972.6l-.8 .1 .3 .5zM624.1 988.2l6.6-7.8-6-1.7zM624.1 988.2l.6-9.5-3.6 4.2 2.5 5.1zM632.2 978.2l-1.5 2.2 3.2 .8zM630.1 989.9l5-6-1.2-2.7-3.2-.8zM630.1 989.9l.6-9.5-6.6 7.8zM448.8 973.2l-.3-.5-.1 1zM448.4 973.7l.1-1-6.9 .7 3.2 5.1zM623.8 988.6l.3-.4-.5-.2zM626.1 994.5l4-4.6-6-1.7 0 1zM624.1 989.2l0-1-.3 .4zM636.1 991.4l1.4-1.7-1.1-2.6zM636.1 991.4l.3-4.3-1.3-3.2-5 6zM629.5 999.2l6.6-7.8-6-1.5zM629.5 999.2l.6-9.3-4 4.6 1.6 4.2zM628 1000.7l1.5-1.5-1.8-.5z" fill="#ffff00" stroke="#ffff00" stroke-width=".6"/>
<path d="M546.6 919.2l4-4.2-3.7-.1zM546.6 919.2l.3-4.3-2.8 .2zM558.3 919.1l1.6-2.3-1.5-.5zM558.3 919.1l.1-2.8-3-.7zM541.9 923.6l4.7-4.4-2.5-4.1-3.2 .2-.5 8.4zM540.4 923.7l.5-8.4-5.5 1 4.2 7.6zM553.5 924.4l4.8-5.3-2.9-3.5-2.7-.4-.6 9zM552.1 924.2l.6-9-2.1-.2-4 4.2 3.7 4.8zM563.6 925.4l4.1-6.1-3.6-1.3zM563.6 925.4l.5-7.4-4.2-1.2-1.6 2.3zM539.6 923.9l-4.2-7.6-.5 .1-.6 8.3zM534.3 924.7l.6-8.3-1.4 .4-4.9 3.6 2.6 5zM550.3 924l-3.7-4.8-.4 4.6zM546.2 923.8l.4-4.6-4.7 4.4zM563 926.1l.6-.7-5.3-6.3-.5 6zM557.8 925.1l.5-6-4.8 5.3zM570.6 928.8l4.1-6.6-5-2.1-.5 8.1zM569.2 928.2l.5-8.1-2-.8-4.1 6.1 1.1 1.1zM531.2 925.4l-2.6-5-.4 5.6zM528.2 926l.4-5.6-6.4 4.7 1.1 2.2zM564.7 926.5l-1.1-1.1 0 .8zM563.6 926.2l0-.8-.6 .7zM577.1 932l3.8-6.4-.2-.1-5.4-3-.5 8.3zM574.8 930.8l.5-8.3-.6-.3-4.1 6.6zM523.3 927.3l-1.1-2.2-.1 2.5zM522.1 927.6l.1-2.5-6.4 4.3 .1 .1zM583.3 935.4l3.1-5.5-5.5-4.3-.5 8.1zM580.4 933.7l.5-8.1-3.8 6.4zM515.9 929.5l-.1-.1 0 .1zM515.8 929.5l0-.1-1.1 .6zM589.1 939l2.8-5.1-5.5-4-.4 7.1zM586 937l.4-7.1-3.1 5.5zM594.7 942.8l2.8-5.4-5.6-3.5-.3 6.7zM591.6 940.6l.3-6.7-2.8 5.1zM600.3 946.6l2.9-5.8-5.7-3.4-.3 7zM597.2 944.4l.3-7-2.8 5.4zM605.7 950.6l3-6.2-2.5-1.8-3-1.8-.4 7.6zM602.8 948.4l.4-7.6-2.9 5.8zM610.9 954.7l2.9-6.1-5-4.1-.4 8.1zM608.4 952.6l.4-8.1-.1-.1-3 6.2zM481.5 945.3l-4.8 1.5 .3 .9zM615.9 958.9l2.7-6-4.1-3.7-.4 8.1zM614.1 957.3l.4-8.1-.7-.6-2.9 6.1zM477 947.7l-.3-.9-.1 1.1zM476.6 947.9l.1-1.1-6.7 1.9 .8 2.4zM620.8 963.3l2.6-6.1-3.3-3-.4 8.1zM619.7 962.3l.4-8.1-1.5-1.3-2.7 6zM470.8 951.1l-.8-2.4-.2 2.9zM469.8 951.6l.2-2.9-6.7 1.6 1.3 4.3zM625.5 967.7l2.6-6-2.3-2.2-.4 8.1zM625.4 967.6l.4-8.1-2.4-2.3-2.6 6.1zM464.6 954.6l-1.3-4.3-.3 5.2zM463 955.5l.3-5.2-4.8 .8-1.8 1 1.9 6zM631.3 969.7l1.4-3.4-1.2-1.2zM631.3 969.7l.2-4.6-3.4-3.4-2.6 6 .6 .6zM458.6 958.1l-1.9-6-.2 .2-.5 7.3zM456 959.6l.5-7.3-5.7 3.5 1.7 6zM629 972.9l2.3-3.2-5.2-1.4zM637.3 971.2l.1-.3-.1-.1zM637.3 971.2l0-.4-4.6-4.5-1.4 3.4zM452.5 961.8l-1.7-6-1.4 .8-.4 7.2zM449 963.8l.4-7.2-4.5 3 1.6 5.9zM632.2 978.2l5.1-7-6-1.5-.4 6.4zM630.9 976.1l.4-6.4-2.3 3.2zM637.4 970.9l-.1 .3 .6 .1zM446.5 965.5l-1.6-5.9-2.6 1.5-.4 7.2zM441.9 968.3l.4-7.2-3.3 2.3 1.5 5.9zM636.7 981.8l3.9-5.5-2.7-5-.6-.1zM636.7 981.8l.6-10.6-5.1 7 1.7 3zM635.1 983.9l1.6-2.1-2.8-.6zM642.8 983.1l.8-1.3-.7-1.3zM642.8 983.1l.1-2.6-2.3-4.2-3.9 5.5zM637.5 989.7l5.3-6.6-6.1-1.3-.3 5.3zM636.4 987.1l.3-5.3-1.6 2.1z" fill="#ff8000" stroke="#ff8000" stroke-width=".6"/>
<path d="M552.9 912.5l3.9-5.3-3.5-.8zM552.9 912.5l.4-6.1-4.7-.3zM550.6 915l2.3-2.5-4.3-6.4-1.1-.1-.6 8.9zM546.9 914.9l.6-8.9-1.6 .2-4.6 4.3 2.8 4.6zM559.9 916.8l4.7-6.7-.8-.9-4.8-1.5-.6 8.6zM558.4 916.3l.6-8.6-2.2-.5-3.9 5.3 2.5 3.1zM544.1 915.1l-2.8-4.6-.4 4.8zM540.9 915.3l.4-4.8-6.4 5.1 .5 .7zM555.4 915.6l-2.5-3.1-.2 2.7zM552.7 915.2l.2-2.7-2.3 2.5zM567.7 919.3l2.3-3.5-5.4-5.7-.5 7.9zM564.1 918l.5-7.9-4.7 6.7zM535.4 916.3l-.5-.7 0 .8zM534.9 916.4l0-.8-1.4 1.2zM574.7 922.2l.7-1.1-5.4-5.3-.3 4.3zM569.7 920.1l.3-4.3-2.3 3.5zM580.7 925.5l-5.3-4.4-.1 1.4zM575.3 922.5l.1-1.4-.7 1.1zM608.7 944.4l.2-.3-2.7-1.5zM613.8 948.6l.8-1.8-5.7-2.7-.1 .4zM608.8 944.5l.1-.4-.2 .3zM618.6 952.9l1.8-3.9-5.8-2.2-.1 2.4zM614.5 949.2l.1-2.4-.8 1.8zM623.4 957.2l2.8-6.3 0-.1-5.8-1.8-.3 5.2zM620.1 954.2l.3-5.2-1.8 3.9zM628.1 961.7l2.7-6.3-4.6-4.5-.4 8.6zM625.8 959.5l.4-8.6 0 0-2.8 6.3zM458.5 951.1l-2 .3 .2 .7zM632.7 966.3l2.6-6.3-3.3-3.5-.5 8.6zM631.5 965.1l.5-8.6-1.2-1.1-2.7 6.3zM456.7 952.1l-.2-.7 0 .9zM456.5 952.3l0-.9-6.8 .6 1.1 3.8zM637.4 970.9l2.5-6.3-2.2-2.3-.4 8.5zM637.3 970.8l.4-8.5-2.4-2.3-2.6 6.3zM450.8 955.8l-1.1-3.8-.3 4.6zM449.4 956.6l.3-4.6-4.8 .1-1.8 1.2 1.8 6.3zM643.3 972.4l1.3-3.2-1.1-1.1zM643.3 972.4l.2-4.3-3.6-3.5-2.5 6.3 .5 .4zM444.9 959.6l-1.8-6.3-.4 .2-.4 7.6zM442.3 961.1l.4-7.6-5.4 3.7 1.7 6.2zM640.6 976.3l2.7-3.9-5.4-1.1zM644.6 969.2l-1.3 3.2 5.3 .8zM643.6 981.8l5.4-7.8-.4-.8-5.3-.8-.4 8.1zM642.9 980.5l.4-8.1-2.7 3.9z" fill="#ff0000" stroke="#ff0000" stroke-width=".6"/>
<path d="M556.8 907.2l2.4-3.2-3.6-4.5-1.8-.4-.5 7.3zM553.3 906.4l.5-7.3-1.3-.1-4.9 5.6 1 1.5zM548.6 906.1l-1-1.5-.1 1.4zM547.5 906l.1-1.4-1.7 1.6zM563.8 909.2l-4.6-5.2-.2 3.7zM559 907.7l.2-3.7-2.4 3.2zM626.2 950.9l0-.1 0 0zM630.8 955.4l1.4-3.3-6-1.3 0 .1zM626.2 950.9l0-.1 0 .1zM635.3 960l2.2-5.4-1.8-1.9-3.5-.6-.2 4.4zM632 956.5l.2-4.4-1.4 3.3zM639.9 964.6l2.2-5.4-4-4.2-.4 7.3zM637.7 962.3l.4-7.3-.6-.4-2.2 5.4zM444.9 952.1l-2.1 .1 .3 1.1zM644.6 969.2l2.1-5.4-2.8-2.9-.4 7.2zM643.5 968.1l.4-7.2-1.8-1.7-2.2 5.4zM443.1 953.3l-.3-1.1-.1 1.3zM442.7 953.5l.1-1.3-6.5-.6-.4 .3 1.4 5.3zM649.4 973.4l1.9-4.9-1.6-1.6zM649.4 973.4l.3-6.5-3-3.1-2.1 5.4 4 4zM649 974l.4-.6-.8-.2z" fill="#c80000" stroke="#c80000" stroke-width=".6"/>
<path d="M555.6 899.5l-1.7-2.1-.1 1.7zM553.8 899.1l.1-1.7-1.4 1.6zM637.5 954.6l.6-1.5-2.4-.4zM642.1 959.2l2.1-5.2-6.1-.9 0 1.9zM638.1 955l0-1.9-.6 1.5zM646.7 963.8l3.6-9.3-6.1-.5-.3 6.9zM643.9 960.9l.3-6.9-2.1 5.2zM436.3 951.6l-.5 0 .1 .3zM651.3 968.5l5.2-13.7-6.2-.3-.6 12.4zM649.7 966.9l.6-12.4-3.6 9.3z" fill="#8c0000" stroke="#8c0000" stroke-width=".6"/>
<path class="m" d="M535.2 1050.7l-5.8-2.1-5.8-2.4-5.7-2.7-5.6-2.9-5.6-3.3-5.6-3.3-5.5-3.5-5.5-3.9-5.5-4.3-5.5-4.7-5.4-4.9-5.3-5.1-5.4-5.5-5.3-6.2-5.4-6.8-5.3-7-5.4-8.7-5.8-21.8M542.2 1049.4l-5.8-2.6-5.8-2.6-5.7-2.9-5.7-3.2-5.6-3.4-5.6-3.4-5.6-3.5-5.5-3.9-5.4-4.4-5.5-4.6-5.4-4.8-5.4-4.9-5.3-5.2-5.4-6-5.3-6.5-5.3-6.6-5.4-8.2-5.7-20.5M549.1 1047.7l-5.8-2.8-5.8-2.9-5.7-3.1-5.7-3.3-5.7-3.5-5.6-3.5-5.5-3.6-5.5-4-5.5-4.3-5.5-4.6-5.4-4.7-5.4-4.8-5.3-5.1-5.4-5.7-5.3-6.2-5.3-6.4-5.3-7.8-5.7-19.4M556 1046l-5.9-3-5.7-3.2-5.8-3.2-5.7-3.4-5.6-3.6-5.6-3.6-5.6-3.7-5.5-3.9-5.5-4.4-5.5-4.5-5.4-4.7-5.4-4.7-5.4-5-5.3-5.6-5.3-6-5.3-6.2-5.4-7.5-5.6-18.4M562.8 1044l-5.8-3.2-5.8-3.2-5.8-3.3-5.7-3.5-5.6-3.6-5.7-3.7-5.5-3.7-5.6-4-5.5-4.4-5.4-4.6-5.5-4.6-5.4-4.7-5.3-4.9-5.4-5.5-5.3-5.9-5.3-6.1-5.3-7.3-5.6-17.5M569.6 1041.2l-5.9-3.2-5.8-3.2-5.7-3.4-5.7-3.5-5.7-3.6-5.6-3.7-5.6-3.8-5.6-4-5.5-4.4-5.4-4.5-5.5-4.6-5.4-4.7-5.4-4.9-5.3-5.4-5.3-5.8-5.3-6-5.4-7.2-5.5-16.6M576.4 1038.1l-5.9-3.2-5.8-3.2-5.8-3.4-5.7-3.5-5.7-3.6-5.6-3.6-5.6-3.8-5.6-4-5.5-4.4-5.5-4.5-5.4-4.6-5.4-4.6-5.4-4.9-5.4-5.4-5.3-5.8-5.3-6-5.3-7-5.5-15.8M583.1 1034.9l-5.9-3.2-5.8-3.2-5.8-3.3-5.7-3.4-5.7-3.5-5.7-3.7-5.6-3.7-5.5-4-5.6-4.4-5.4-4.5-5.5-4.6-5.4-4.7-5.4-4.9-5.4-5.3-5.3-5.8-5.3-6-5.3-7-5.5-15M589.8 1031.5l-5.9-3-5.9-3.2-5.7-3.2-5.8-3.3-5.7-3.5-5.6-3.7-5.6-3.7-5.6-4-5.6-4.4-5.4-4.6-5.5-4.6-5.4-4.7-5.4-4.9-5.4-5.4-5.3-5.9-5.4-6-5.3-7-5.4-14.3M596.4 1027.4l-5.9-2.9-5.8-3-5.8-3.2-5.8-3.2-5.7-3.4-5.6-3.6-5.7-3.6-5.5-4.1-5.6-4.4-5.5-4.5-5.5-4.6-5.4-4.8-5.4-5-5.4-5.4-5.3-5.9-5.4-6.1-5.3-7-5.4-13.6M603.1 1022.4l-5.9-2.7-5.9-2.8-5.8-3-5.8-3-5.7-3.3-5.7-3.4-5.6-3.6-5.6-4-5.6-4.4-5.5-4.5-5.4-4.6-5.5-4.7-5.4-5-5.4-5.4-5.3-6-5.4-6.1-5.3-7-5.4-12.9M609.7 1017.1l-5.9-2.4-5.9-2.6-5.8-2.8-5.8-2.9-5.8-3-5.6-3.4-5.7-3.5-5.6-3.9-5.6-4.3-5.5-4.4-5.5-4.6-5.4-4.7-5.4-5-5.4-5.4-5.4-6-5.3-6.2-5.3-7-5.4-12.2M616.3 1011.7l-5.9-2.2-5.9-2.4-5.9-2.5-5.8-2.7-5.7-2.9-5.7-3.2-5.7-3.4-5.6-3.8-5.6-4.3-5.5-4.4-5.5-4.5-5.5-4.8-5.4-5-5.4-5.4-5.3-6-5.4-6.3-5.3-7-5.4-11.5M622.9 1005.8l-6-2-5.9-2.2-5.9-2.3-5.8-2.5-5.7-2.8-5.8-3.1-5.6-3.3-5.7-3.8-5.5-4.2-5.6-4.4-5.5-4.5-5.4-4.8-5.5-5.1-5.4-5.4-5.4-6-5.3-6.4-5.3-7-5.4-10.9M629.5 999.2l-6-1.8-5.9-1.9-5.9-2.2-5.9-2.3-5.8-2.6-5.7-3-5.7-3.3-5.6-3.7-5.6-4.2-5.6-4.3-5.5-4.5-5.4-4.8-5.5-5.1-5.4-5.4-5.4-6-5.3-6.5-5.4-7-5.3-10.2M636.1 991.4l-6-1.5-6-1.7-5.9-1.9-5.9-2.1-5.8-2.4-5.7-2.9-5.7-3-5.7-3.6-5.6-4.1-5.5-4.2-5.6-4.4-5.5-4.7-5.4-5.1-5.4-5.3-5.4-6.1-5.4-6.4-5.3-6.9-5.4-9.5M642.8 983.1l-6.1-1.3-6-1.4-6-1.7-5.8-1.9-5.9-2.2-5.8-2.6-5.7-3-5.6-3.4-5.7-4-5.5-4.1-5.6-4.3-5.5-4.6-5.5-5-5.4-5.2-5.4-6-5.4-6.4-5.3-6.8-5.3-8.7M649.4 973.4l-6.1-1-6-1.2-6-1.5-5.9-1.6-5.9-2-5.8-2.4-5.7-2.8-5.7-3.3-5.7-3.8-5.5-4-5.6-4.1-5.5-4.5-5.5-4.9-5.4-5.1-5.5-5.8-5.3-6.3-5.4-6.6-5.3-7.9M656.5 954.8l-6.2-.3-6.1-.5-6.1-.9-5.9-1-6-1.3-5.8-1.8-5.8-2.2-5.7-2.7-5.7-3.3-5.7-3.4-5.6-3.5-5.5-4-5.5-4.3-5.5-4.5-5.4-5.3-5.4-5.7-5.4-6.1-5.3-6.6M535.2 1050.7l7-1.3 6.9-1.7 6.9-1.7 6.8-2 6.8-2.8 6.8-3.1 6.7-3.2 6.7-3.4 6.6-4.1 6.7-5 6.6-5.3 6.6-5.4 6.6-5.9 6.6-6.6 6.6-7.8 6.7-8.3 6.6-9.7 7.1-18.6M529.4 1048.6l7-1.8 6.9-1.9 6.8-1.9 6.9-2.2 6.7-2.8 6.8-3.1 6.7-3.2 6.7-3.2 6.6-4 6.7-4.8 6.6-5 6.6-5.2 6.5-5.7 6.6-6.4 6.6-7.5 6.6-8.1 6.6-9.4 7-17.9M523.6 1046.2l7-2 6.9-2.2 6.9-2.2 6.8-2.2 6.7-2.8 6.8-3.1 6.7-3.2 6.6-3.2 6.7-3.8 6.6-4.6 6.6-4.8 6.6-5 6.5-5.5 6.6-6.1 6.5-7.3 6.6-7.8 6.6-9.2 6.9-17.2M517.9 1043.5l7-2.2 6.9-2.4 6.8-2.3 6.8-2.3 6.8-2.9 6.7-3.1 6.7-3.1 6.7-3.1 6.6-3.8 6.6-4.4 6.6-4.6 6.5-4.7 6.5-5.3 6.6-6 6.5-7 6.5-7.6 6.6-9 6.8-16.6M512.3 1040.6l6.9-2.5 6.9-2.5 6.8-2.4 6.8-2.4 6.8-2.9 6.7-3.1 6.7-3 6.6-3 6.6-3.7 6.6-4.2 6.6-4.5 6.5-4.5 6.5-5.1 6.5-5.8 6.5-6.8 6.6-7.4 6.5-8.7 6.8-16M506.7 1037.3l6.9-2.6 6.8-2.6 6.9-2.5 6.8-2.4 6.7-2.9 6.7-3.1 6.7-2.9 6.6-3 6.6-3.6 6.6-4.1 6.5-4.2 6.6-4.4 6.5-5 6.4-5.6 6.5-6.6 6.5-7.2 6.5-8.5 6.7-15.3M501.1 1034l6.9-2.7 6.8-2.7 6.9-2.6 6.7-2.5 6.8-2.9 6.7-3 6.6-3 6.7-3 6.6-3.5 6.5-3.9 6.6-4.2 6.5-4.2 6.4-4.9 6.5-5.5 6.5-6.5 6.4-6.9 6.5-8.3 6.7-14.7M495.6 1030.5l6.8-2.7 6.9-2.8 6.8-2.7 6.8-2.5 6.7-3 6.7-3 6.6-2.9 6.7-3 6.5-3.4 6.6-3.9 6.5-4.1 6.5-4.1 6.5-4.8 6.4-5.5 6.5-6.2 6.4-6.9 6.5-8.1 6.6-14.1M490.1 1026.6l6.8-2.7 6.9-2.9 6.8-2.6 6.7-2.6 6.7-3 6.7-3 6.7-2.9 6.6-3 6.6-3.5 6.5-3.8 6.5-4 6.5-4 6.4-4.8 6.5-5.4 6.4-6.1 6.5-6.7 6.4-8 6.6-13.5M484.6 1022.3l6.9-2.8 6.8-2.8 6.8-2.7 6.7-2.6 6.7-3 6.7-3 6.6-2.9 6.6-3 6.6-3.5 6.5-3.8 6.5-3.9 6.5-4 6.5-4.7 6.4-5.4 6.4-6 6.4-6.6 6.4-7.8 6.6-13M479.1 1017.6l6.9-2.7 6.8-2.8 6.8-2.6 6.8-2.7 6.7-2.9 6.6-3 6.7-2.9 6.6-3.1 6.5-3.4 6.5-3.8 6.5-3.8 6.5-4 6.4-4.7 6.4-5.3 6.5-5.9 6.4-6.5 6.4-7.7 6.4-12.4M473.7 1012.7l6.9-2.6 6.8-2.7 6.8-2.6 6.7-2.6 6.7-2.9 6.7-3 6.6-2.9 6.6-3.1 6.5-3.4 6.6-3.8 6.4-3.8 6.5-3.9 6.4-4.7 6.4-5.3 6.4-5.8 6.4-6.4 6.4-7.5 6.4-11.8M468.4 1007.6l6.8-2.4 6.8-2.6 6.8-2.5 6.7-2.6 6.7-2.9 6.7-2.9 6.6-3 6.6-3.1 6.5-3.5 6.5-3.7 6.5-3.8 6.4-4 6.5-4.7 6.4-5.3 6.3-5.7 6.4-6.3 6.4-7.4 6.4-11.3M463 1002.1l6.9-2.1 6.8-2.5 6.7-2.4 6.8-2.5 6.6-2.9 6.7-2.9 6.6-3 6.6-3.1 6.5-3.6 6.5-3.7 6.5-3.8 6.4-4 6.4-4.8 6.4-5.3 6.4-5.7 6.3-6.2 6.4-7.3 6.4-10.7M457.7 995.9l6.8-1.9 6.8-2.2 6.8-2.3 6.7-2.4 6.7-2.8 6.6-2.9 6.6-2.9 6.6-3.2 6.5-3.6 6.5-3.7 6.5-3.8 6.4-4 6.4-4.8 6.4-5.3 6.4-5.6 6.3-6.1 6.4-7.2 6.3-10.1M452.3 989.1l6.9-1.6 6.8-1.9 6.8-2.1 6.7-2.3 6.7-2.7 6.6-2.9 6.6-2.9 6.6-3.3 6.5-3.6 6.5-3.8 6.4-3.8 6.5-4 6.3-4.8 6.4-5.3 6.4-5.7 6.3-6 6.3-7 6.4-9.6M447 982.1l6.9-1.2 6.8-1.7 6.8-1.9 6.7-2.2 6.7-2.6 6.6-2.9 6.6-2.9 6.5-3.3 6.5-3.7 6.5-3.8 6.5-3.9 6.4-4.1 6.4-4.9 6.4-5.4 6.3-5.6 6.3-6 6.4-6.9 6.3-9M441.6 973.4l6.9-.7 6.9-1.3 6.7-1.6 6.8-2 6.6-2.5 6.7-2.7 6.6-2.9 6.5-3.3 6.5-3.7 6.5-3.8 6.5-3.9 6.4-4.1 6.4-4.9 6.3-5.4 6.4-5.5 6.3-5.9 6.3-6.7 6.3-8.5M435.8 951.6l7 .6 6.9-.2 6.8-.6 6.8-1.1 6.7-1.6 6.7-1.9 6.6-2.1 6.6-2.6 6.5-3 6.5-3.1 6.5-3.2 6.4-3.4 6.4-4.3 6.4-4.7 6.3-4.8 6.4-5.1 6.3-5.9 6.3-7.2"/>
<text x="420.4" y="909.8" dy=".35em" font-size="9.8" text-anchor="middle" transform="rotate(-20.0 420.4 909.8)">26</text>
<text x="422.1" y="934.0" dy=".35em" font-size="9.8" text-anchor="middle" transform="rotate(-20.0 422.1 934.0)">22</text>
<text x="423.8" y="958.1" dy=".35em" font-size="9.8" text-anchor="middle" transform="rotate(-20.0 423.8 958.1)">18</text>
<text x="425.4" y="982.3" dy=".35em" font-size="9.8" text-anchor="middle" transform="rotate(-20.0 425.4 982.3)">14</text>
<text x="427.1" y="1006.4" dy=".35em" font-size="9.8" text-anchor="middle" transform="rotate(-20.0 427.1 1006.4)">10</text>
<text x="428.8" y="1030.6" dy=".35em" font-size="9.8" text-anchor="middle" transform="rotate(-20.0 428.8 1030.6)">6</text>
<text x="514.4" y="1132.3" dy=".35em" font-size="9.5" text-anchor="middle" transform="rotate(-35.0 514.4 1132.3)">-0.002</text>
<text x="498.4" y="1120.5" dy=".35em" font-size="9.5" text-anchor="middle" transform="rotate(-35.0 498.4 1120.5)">0.002</text>
<text x="482.5" y="1108.7" dy=".35em" font-size="9.5" text-anchor="middle" transform="rotate(-35.0 482.5 1108.7)">0.006</text>
<text x="466.5" y="1096.9" dy=".35em" font-size="9.5" text-anchor="middle" transform="rotate(-35.0 466.5 1096.9)">0.010</text>
<text x="450.6" y="1085.2" dy=".35em" font-size="9.5" text-anchor="middle" transform="rotate(-35.0 450.6 1085.2)">0.014</text>
<text x="434.6" y="1073.4" dy=".35em" font-size="9.5" text-anchor="middle" transform="rotate(-35.0 434.6 1073.4)">0.018</text>
<text x="418.7" y="1061.6" dy=".35em" font-size="9.5" text-anchor="middle" transform="rotate(-35.0 418.7 1061.6)">0.022</text>
<text x="543.5" y="1134.4" dy=".35em" font-size="9.6" text-anchor="middle" transform="rotate(-30.0 543.5 1134.4)">0.0</text>
<text x="558.8" y="1126.1" dy=".35em" font-size="9.6" text-anchor="middle" transform="rotate(-30.0 558.8 1126.1)">0.2</text>
<text x="574.2" y="1117.8" dy=".35em" font-size="9.6" text-anchor="middle" transform="rotate(-30.0 574.2 1117.8)">0.4</text>
<text x="589.5" y="1109.4" dy=".35em" font-size="9.6" text-anchor="middle" transform="rotate(-30.0 589.5 1109.4)">0.6</text>
<text x="604.9" y="1101.1" dy=".35em" font-size="9.6" text-anchor="middle" transform="rotate(-30.0 604.9 1101.1)">0.8</text>
<text x="620.2" y="1092.8" dy=".35em" font-size="9.6" text-anchor="middle" transform="rotate(-30.0 620.2 1092.8)">1.0</text>
<text x="635.5" y="1084.5" dy=".35em" font-size="9.6" text-anchor="middle" transform="rotate(-30.0 635.5 1084.5)">1.2</text>
<text x="650.9" y="1076.1" dy=".35em" font-size="9.6" text-anchor="middle" transform="rotate(-30.0 650.9 1076.1)">1.4</text>
<text x="666.2" y="1067.8" dy=".35em" font-size="9.6" text-anchor="middle" transform="rotate(-30.0 666.2 1067.8)">1.6</text>
<text x="403.0" y="991.0" dy=".35em" font-size="10.5" text-anchor="middle" transform="rotate(88.0 403.0 991.0)" textLength="118.7" lengthAdjust="spacingAndGlyphs">Lipase activity (U/gds)</text>
<text x="437.4" y="1113.6" dy=".35em" font-size="10" text-anchor="middle" transform="rotate(41.6 437.4 1113.6)" textLength="50.0" lengthAdjust="spacingAndGlyphs">CaSO4(g/l)</text>
<text x="621.5" y="1113.6" dy=".35em" font-size="10.5" text-anchor="middle" transform="rotate(-30.6 621.5 1113.6)" textLength="65.3" lengthAdjust="spacingAndGlyphs">K2HPO4(g/l)</text>
</g>
<rect x="384.5" y="850.5" width="38.0" height="34.0" fill="#fff" stroke="#000" stroke-width="1.2" shape-rendering="crispEdges"/><text x="403.5" y="876.3" font-size="24" text-anchor="middle" style="fill:#000">F</text>
</svg></body></html>
